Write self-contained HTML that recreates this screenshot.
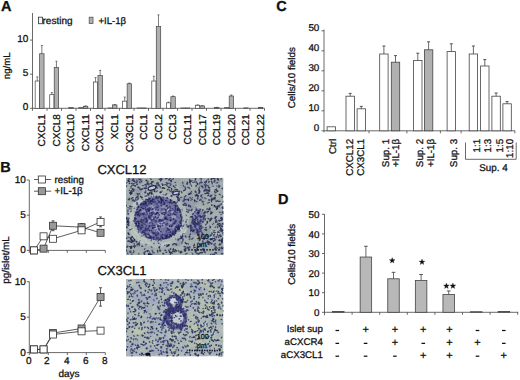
<!DOCTYPE html>
<html><head><meta charset="utf-8"><style>
html,body{margin:0;padding:0;background:#fff;}
svg{display:block;}
text{stroke:#222;stroke-width:0.3px;paint-order:stroke;text-rendering:geometricPrecision;}
</style></head><body>
<svg width="520" height="380" viewBox="0 0 520 380" font-family="Liberation Sans, sans-serif">
<defs><filter id="bl" x="0" y="0" width="1" height="1"><feGaussianBlur stdDeviation="0.35"/></filter></defs>
<rect width="520" height="380" fill="#fff"/>
<text x="0.90" y="11.00" font-size="14.5" text-anchor="start" fill="#111" font-weight="bold">A</text>
<line x1="32.50" y1="13.00" x2="32.50" y2="108.30" stroke="#444" stroke-width="0.8"/>
<line x1="32.50" y1="108.30" x2="264.50" y2="108.30" stroke="#444" stroke-width="0.8"/>
<line x1="30.00" y1="108.30" x2="32.50" y2="108.30" stroke="#444" stroke-width="0.8"/>
<text x="28.30" y="110.10" font-size="10" text-anchor="end" fill="#111">0</text>
<line x1="30.00" y1="74.20" x2="32.50" y2="74.20" stroke="#444" stroke-width="0.8"/>
<text x="28.30" y="76.00" font-size="10" text-anchor="end" fill="#111">5</text>
<line x1="30.00" y1="40.10" x2="32.50" y2="40.10" stroke="#444" stroke-width="0.8"/>
<text x="28.30" y="41.90" font-size="10" text-anchor="end" fill="#111">10</text>
<line x1="32.50" y1="108.30" x2="32.50" y2="110.80" stroke="#444" stroke-width="0.8"/>
<line x1="47.00" y1="108.30" x2="47.00" y2="110.80" stroke="#444" stroke-width="0.8"/>
<line x1="61.50" y1="108.30" x2="61.50" y2="110.80" stroke="#444" stroke-width="0.8"/>
<line x1="76.00" y1="108.30" x2="76.00" y2="110.80" stroke="#444" stroke-width="0.8"/>
<line x1="90.50" y1="108.30" x2="90.50" y2="110.80" stroke="#444" stroke-width="0.8"/>
<line x1="105.00" y1="108.30" x2="105.00" y2="110.80" stroke="#444" stroke-width="0.8"/>
<line x1="119.50" y1="108.30" x2="119.50" y2="110.80" stroke="#444" stroke-width="0.8"/>
<line x1="134.00" y1="108.30" x2="134.00" y2="110.80" stroke="#444" stroke-width="0.8"/>
<line x1="148.50" y1="108.30" x2="148.50" y2="110.80" stroke="#444" stroke-width="0.8"/>
<line x1="163.00" y1="108.30" x2="163.00" y2="110.80" stroke="#444" stroke-width="0.8"/>
<line x1="177.50" y1="108.30" x2="177.50" y2="110.80" stroke="#444" stroke-width="0.8"/>
<line x1="192.00" y1="108.30" x2="192.00" y2="110.80" stroke="#444" stroke-width="0.8"/>
<line x1="206.50" y1="108.30" x2="206.50" y2="110.80" stroke="#444" stroke-width="0.8"/>
<line x1="221.00" y1="108.30" x2="221.00" y2="110.80" stroke="#444" stroke-width="0.8"/>
<line x1="235.50" y1="108.30" x2="235.50" y2="110.80" stroke="#444" stroke-width="0.8"/>
<line x1="250.00" y1="108.30" x2="250.00" y2="110.80" stroke="#444" stroke-width="0.8"/>
<line x1="264.50" y1="108.30" x2="264.50" y2="110.80" stroke="#444" stroke-width="0.8"/>
<text transform="translate(10.30,65.80) rotate(-90)" font-size="9.6" text-anchor="middle" fill="#111">ng/mL</text>
<rect x="35.15" y="81.02" width="4.20" height="27.28" fill="#ffffff" stroke="#444" stroke-width="0.7"/>
<line x1="37.25" y1="81.02" x2="37.25" y2="76.93" stroke="#444" stroke-width="0.7"/>
<line x1="36.25" y1="76.93" x2="38.25" y2="76.93" stroke="#444" stroke-width="0.7"/>
<rect x="39.65" y="53.74" width="4.40" height="54.56" fill="#b0b0b0" stroke="#444" stroke-width="0.7"/>
<line x1="41.85" y1="53.74" x2="41.85" y2="45.56" stroke="#444" stroke-width="0.7"/>
<line x1="40.85" y1="45.56" x2="42.85" y2="45.56" stroke="#444" stroke-width="0.7"/>
<text transform="translate(44.95,114.20) rotate(-90)" font-size="10" text-anchor="end" fill="#111">CXCL1</text>
<rect x="49.73" y="94.66" width="4.20" height="13.64" fill="#ffffff" stroke="#444" stroke-width="0.7"/>
<line x1="51.83" y1="94.66" x2="51.83" y2="92.61" stroke="#444" stroke-width="0.7"/>
<line x1="50.83" y1="92.61" x2="52.83" y2="92.61" stroke="#444" stroke-width="0.7"/>
<rect x="54.23" y="67.38" width="4.40" height="40.92" fill="#b0b0b0" stroke="#444" stroke-width="0.7"/>
<line x1="56.43" y1="67.38" x2="56.43" y2="61.24" stroke="#444" stroke-width="0.7"/>
<line x1="55.43" y1="61.24" x2="57.43" y2="61.24" stroke="#444" stroke-width="0.7"/>
<text transform="translate(59.56,114.20) rotate(-90)" font-size="10" text-anchor="end" fill="#111">CXCL8</text>
<rect x="68.81" y="107.62" width="4.40" height="0.68" fill="#b0b0b0" stroke="#444" stroke-width="0.7"/>
<text transform="translate(74.17,114.20) rotate(-90)" font-size="10" text-anchor="end" fill="#111">CXCL10</text>
<rect x="78.89" y="107.62" width="4.20" height="0.68" fill="#ffffff" stroke="#444" stroke-width="0.7"/>
<rect x="83.39" y="106.25" width="4.40" height="2.05" fill="#b0b0b0" stroke="#444" stroke-width="0.7"/>
<line x1="85.59" y1="106.25" x2="85.59" y2="105.91" stroke="#444" stroke-width="0.7"/>
<line x1="84.59" y1="105.91" x2="86.59" y2="105.91" stroke="#444" stroke-width="0.7"/>
<text transform="translate(88.78,114.20) rotate(-90)" font-size="10" text-anchor="end" fill="#111">CXCL11</text>
<rect x="93.47" y="82.04" width="4.20" height="26.26" fill="#ffffff" stroke="#444" stroke-width="0.7"/>
<line x1="95.57" y1="82.04" x2="95.57" y2="77.61" stroke="#444" stroke-width="0.7"/>
<line x1="94.57" y1="77.61" x2="96.57" y2="77.61" stroke="#444" stroke-width="0.7"/>
<rect x="97.97" y="75.56" width="4.40" height="32.74" fill="#b0b0b0" stroke="#444" stroke-width="0.7"/>
<line x1="100.17" y1="75.56" x2="100.17" y2="70.45" stroke="#444" stroke-width="0.7"/>
<line x1="99.17" y1="70.45" x2="101.17" y2="70.45" stroke="#444" stroke-width="0.7"/>
<text transform="translate(103.39,114.20) rotate(-90)" font-size="10" text-anchor="end" fill="#111">CXCL12</text>
<rect x="108.05" y="107.96" width="4.20" height="0.34" fill="#ffffff" stroke="#444" stroke-width="0.7"/>
<rect x="112.55" y="104.89" width="4.40" height="3.41" fill="#b0b0b0" stroke="#444" stroke-width="0.7"/>
<line x1="114.75" y1="104.89" x2="114.75" y2="104.55" stroke="#444" stroke-width="0.7"/>
<line x1="113.75" y1="104.55" x2="115.75" y2="104.55" stroke="#444" stroke-width="0.7"/>
<text transform="translate(118.00,114.20) rotate(-90)" font-size="10" text-anchor="end" fill="#111">XCL1</text>
<rect x="122.63" y="101.14" width="4.20" height="7.16" fill="#ffffff" stroke="#444" stroke-width="0.7"/>
<line x1="124.73" y1="101.14" x2="124.73" y2="97.05" stroke="#444" stroke-width="0.7"/>
<line x1="123.73" y1="97.05" x2="125.73" y2="97.05" stroke="#444" stroke-width="0.7"/>
<rect x="127.13" y="83.75" width="4.40" height="24.55" fill="#b0b0b0" stroke="#444" stroke-width="0.7"/>
<line x1="129.33" y1="83.75" x2="129.33" y2="83.07" stroke="#444" stroke-width="0.7"/>
<line x1="128.33" y1="83.07" x2="130.33" y2="83.07" stroke="#444" stroke-width="0.7"/>
<text transform="translate(132.61,114.20) rotate(-90)" font-size="10" text-anchor="end" fill="#111">CX3CL1</text>
<rect x="137.21" y="107.96" width="4.20" height="0.34" fill="#ffffff" stroke="#444" stroke-width="0.7"/>
<rect x="141.71" y="107.96" width="4.40" height="0.34" fill="#b0b0b0" stroke="#444" stroke-width="0.7"/>
<text transform="translate(147.22,114.20) rotate(-90)" font-size="10" text-anchor="end" fill="#111">CCL1</text>
<rect x="151.79" y="81.02" width="4.20" height="27.28" fill="#ffffff" stroke="#444" stroke-width="0.7"/>
<line x1="153.89" y1="81.02" x2="153.89" y2="76.25" stroke="#444" stroke-width="0.7"/>
<line x1="152.89" y1="76.25" x2="154.89" y2="76.25" stroke="#444" stroke-width="0.7"/>
<rect x="156.29" y="26.46" width="4.40" height="81.84" fill="#b0b0b0" stroke="#444" stroke-width="0.7"/>
<line x1="158.49" y1="26.46" x2="158.49" y2="14.87" stroke="#444" stroke-width="0.7"/>
<line x1="157.49" y1="14.87" x2="159.49" y2="14.87" stroke="#444" stroke-width="0.7"/>
<text transform="translate(161.83,114.20) rotate(-90)" font-size="10" text-anchor="end" fill="#111">CCL2</text>
<rect x="166.37" y="102.84" width="4.20" height="5.46" fill="#ffffff" stroke="#444" stroke-width="0.7"/>
<line x1="168.47" y1="102.84" x2="168.47" y2="102.16" stroke="#444" stroke-width="0.7"/>
<line x1="167.47" y1="102.16" x2="169.47" y2="102.16" stroke="#444" stroke-width="0.7"/>
<rect x="170.87" y="96.71" width="4.40" height="11.59" fill="#b0b0b0" stroke="#444" stroke-width="0.7"/>
<line x1="173.07" y1="96.71" x2="173.07" y2="96.02" stroke="#444" stroke-width="0.7"/>
<line x1="172.07" y1="96.02" x2="174.07" y2="96.02" stroke="#444" stroke-width="0.7"/>
<text transform="translate(176.44,114.20) rotate(-90)" font-size="10" text-anchor="end" fill="#111">CCL3</text>
<rect x="180.95" y="107.96" width="4.20" height="0.34" fill="#ffffff" stroke="#444" stroke-width="0.7"/>
<rect x="185.45" y="107.96" width="4.40" height="0.34" fill="#b0b0b0" stroke="#444" stroke-width="0.7"/>
<text transform="translate(191.05,114.20) rotate(-90)" font-size="10" text-anchor="end" fill="#111">CCL11</text>
<rect x="195.53" y="105.23" width="4.20" height="3.07" fill="#ffffff" stroke="#444" stroke-width="0.7"/>
<line x1="197.63" y1="105.23" x2="197.63" y2="104.89" stroke="#444" stroke-width="0.7"/>
<line x1="196.63" y1="104.89" x2="198.63" y2="104.89" stroke="#444" stroke-width="0.7"/>
<rect x="200.03" y="105.91" width="4.40" height="2.39" fill="#b0b0b0" stroke="#444" stroke-width="0.7"/>
<line x1="202.23" y1="105.91" x2="202.23" y2="105.57" stroke="#444" stroke-width="0.7"/>
<line x1="201.23" y1="105.57" x2="203.23" y2="105.57" stroke="#444" stroke-width="0.7"/>
<text transform="translate(205.66,114.20) rotate(-90)" font-size="10" text-anchor="end" fill="#111">CCL17</text>
<rect x="214.61" y="107.48" width="4.40" height="0.82" fill="#b0b0b0" stroke="#444" stroke-width="0.7"/>
<line x1="216.81" y1="107.48" x2="216.81" y2="107.35" stroke="#444" stroke-width="0.7"/>
<line x1="215.81" y1="107.35" x2="217.81" y2="107.35" stroke="#444" stroke-width="0.7"/>
<text transform="translate(220.27,114.20) rotate(-90)" font-size="10" text-anchor="end" fill="#111">CCL19</text>
<rect x="224.69" y="107.62" width="4.20" height="0.68" fill="#ffffff" stroke="#444" stroke-width="0.7"/>
<rect x="229.19" y="96.02" width="4.40" height="12.28" fill="#b0b0b0" stroke="#444" stroke-width="0.7"/>
<line x1="231.39" y1="96.02" x2="231.39" y2="95.00" stroke="#444" stroke-width="0.7"/>
<line x1="230.39" y1="95.00" x2="232.39" y2="95.00" stroke="#444" stroke-width="0.7"/>
<text transform="translate(234.88,114.20) rotate(-90)" font-size="10" text-anchor="end" fill="#111">CCL20</text>
<rect x="243.77" y="107.89" width="4.40" height="0.41" fill="#b0b0b0" stroke="#444" stroke-width="0.7"/>
<text transform="translate(249.49,114.20) rotate(-90)" font-size="10" text-anchor="end" fill="#111">CCL21</text>
<rect x="258.35" y="107.48" width="4.40" height="0.82" fill="#b0b0b0" stroke="#444" stroke-width="0.7"/>
<line x1="260.55" y1="107.48" x2="260.55" y2="107.35" stroke="#444" stroke-width="0.7"/>
<line x1="259.55" y1="107.35" x2="261.55" y2="107.35" stroke="#444" stroke-width="0.7"/>
<text transform="translate(264.10,114.20) rotate(-90)" font-size="10" text-anchor="end" fill="#111">CCL22</text>
<rect x="38.50" y="17.20" width="4.00" height="6.50" fill="#f4f4f4" stroke="#444" stroke-width="0.9"/>
<text x="42.50" y="24.00" font-size="10" text-anchor="start" fill="#111">resting</text>
<rect x="89.20" y="17.20" width="3.80" height="6.30" fill="#b0b0b0" stroke="#555" stroke-width="0.8"/>
<text x="98.40" y="23.70" font-size="9.6" text-anchor="start" fill="#111">+IL-1&#946;</text>
<text x="0.20" y="172.20" font-size="14.5" text-anchor="start" fill="#111" font-weight="bold">B</text>
<line x1="29.30" y1="180.00" x2="29.30" y2="250.40" stroke="#444" stroke-width="0.8"/>
<line x1="29.30" y1="250.40" x2="105.30" y2="250.40" stroke="#444" stroke-width="0.8"/>
<line x1="26.80" y1="250.40" x2="29.30" y2="250.40" stroke="#444" stroke-width="0.8"/>
<text x="25.90" y="253.40" font-size="10" text-anchor="end" fill="#111">0</text>
<line x1="26.80" y1="215.20" x2="29.30" y2="215.20" stroke="#444" stroke-width="0.8"/>
<text x="25.90" y="218.20" font-size="10" text-anchor="end" fill="#111">5</text>
<line x1="26.80" y1="180.00" x2="29.30" y2="180.00" stroke="#444" stroke-width="0.8"/>
<text x="25.90" y="183.00" font-size="10" text-anchor="end" fill="#111">10</text>
<line x1="29.30" y1="250.40" x2="29.30" y2="252.90" stroke="#444" stroke-width="0.8"/>
<line x1="48.30" y1="250.40" x2="48.30" y2="252.90" stroke="#444" stroke-width="0.8"/>
<line x1="67.30" y1="250.40" x2="67.30" y2="252.90" stroke="#444" stroke-width="0.8"/>
<line x1="86.30" y1="250.40" x2="86.30" y2="252.90" stroke="#444" stroke-width="0.8"/>
<line x1="105.30" y1="250.40" x2="105.30" y2="252.90" stroke="#444" stroke-width="0.8"/>
<polyline points="34.05,250.40 43.55,248.64 53.05,225.76 81.55,227.17 100.55,232.80" fill="none" stroke="#333" stroke-width="0.8"/>
<polyline points="34.05,250.40 43.55,236.32 53.05,238.78 81.55,230.34 100.55,221.89" fill="none" stroke="#333" stroke-width="0.8"/>
<line x1="53.05" y1="220.83" x2="53.05" y2="230.69" stroke="#333" stroke-width="0.8"/>
<line x1="51.55" y1="220.83" x2="54.55" y2="220.83" stroke="#333" stroke-width="0.8"/>
<line x1="51.55" y1="230.69" x2="54.55" y2="230.69" stroke="#333" stroke-width="0.8"/>
<line x1="100.55" y1="216.96" x2="100.55" y2="226.82" stroke="#333" stroke-width="0.8"/>
<line x1="99.05" y1="216.96" x2="102.05" y2="216.96" stroke="#333" stroke-width="0.8"/>
<line x1="99.05" y1="226.82" x2="102.05" y2="226.82" stroke="#333" stroke-width="0.8"/>
<line x1="81.55" y1="223.65" x2="81.55" y2="230.69" stroke="#333" stroke-width="0.8"/>
<line x1="80.05" y1="223.65" x2="83.05" y2="223.65" stroke="#333" stroke-width="0.8"/>
<line x1="80.05" y1="230.69" x2="83.05" y2="230.69" stroke="#333" stroke-width="0.8"/>
<rect x="30.55" y="246.90" width="7.00" height="7.00" fill="#999999" stroke="#333" stroke-width="0.8"/>
<rect x="40.05" y="245.14" width="7.00" height="7.00" fill="#999999" stroke="#333" stroke-width="0.8"/>
<rect x="49.55" y="222.26" width="7.00" height="7.00" fill="#999999" stroke="#333" stroke-width="0.8"/>
<rect x="78.05" y="223.67" width="7.00" height="7.00" fill="#999999" stroke="#333" stroke-width="0.8"/>
<rect x="97.05" y="229.30" width="7.00" height="7.00" fill="#999999" stroke="#333" stroke-width="0.8"/>
<rect x="30.55" y="246.90" width="7.00" height="7.00" fill="#ffffff" stroke="#333" stroke-width="0.8"/>
<rect x="40.05" y="232.82" width="7.00" height="7.00" fill="#ffffff" stroke="#333" stroke-width="0.8"/>
<rect x="49.55" y="235.28" width="7.00" height="7.00" fill="#ffffff" stroke="#333" stroke-width="0.8"/>
<rect x="78.05" y="226.84" width="7.00" height="7.00" fill="#ffffff" stroke="#333" stroke-width="0.8"/>
<rect x="97.05" y="218.39" width="7.00" height="7.00" fill="#ffffff" stroke="#333" stroke-width="0.8"/>
<line x1="29.30" y1="281.50" x2="29.30" y2="352.60" stroke="#444" stroke-width="0.8"/>
<line x1="29.30" y1="352.60" x2="105.30" y2="352.60" stroke="#444" stroke-width="0.8"/>
<line x1="26.80" y1="352.60" x2="29.30" y2="352.60" stroke="#444" stroke-width="0.8"/>
<text x="25.90" y="355.60" font-size="10" text-anchor="end" fill="#111">0</text>
<line x1="26.80" y1="317.15" x2="29.30" y2="317.15" stroke="#444" stroke-width="0.8"/>
<text x="25.90" y="320.15" font-size="10" text-anchor="end" fill="#111">5</text>
<line x1="26.80" y1="281.70" x2="29.30" y2="281.70" stroke="#444" stroke-width="0.8"/>
<text x="25.90" y="284.70" font-size="10" text-anchor="end" fill="#111">10</text>
<line x1="29.30" y1="352.60" x2="29.30" y2="355.10" stroke="#444" stroke-width="0.8"/>
<text x="28.70" y="364.10" font-size="10" text-anchor="middle" fill="#111">0</text>
<line x1="48.30" y1="352.60" x2="48.30" y2="355.10" stroke="#444" stroke-width="0.8"/>
<text x="46.70" y="364.10" font-size="10" text-anchor="middle" fill="#111">2</text>
<line x1="67.30" y1="352.60" x2="67.30" y2="355.10" stroke="#444" stroke-width="0.8"/>
<text x="66.70" y="364.10" font-size="10" text-anchor="middle" fill="#111">4</text>
<line x1="86.30" y1="352.60" x2="86.30" y2="355.10" stroke="#444" stroke-width="0.8"/>
<text x="85.70" y="364.10" font-size="10" text-anchor="middle" fill="#111">6</text>
<line x1="105.30" y1="352.60" x2="105.30" y2="355.10" stroke="#444" stroke-width="0.8"/>
<text x="104.70" y="364.10" font-size="10" text-anchor="middle" fill="#111">8</text>
<polyline points="34.05,349.41 43.55,349.41 53.05,333.10 81.55,328.49 100.55,296.94" fill="none" stroke="#333" stroke-width="0.8"/>
<polyline points="34.05,349.41 43.55,349.41 53.05,334.52 81.55,331.33 100.55,330.62" fill="none" stroke="#333" stroke-width="0.8"/>
<line x1="100.55" y1="287.73" x2="100.55" y2="306.16" stroke="#333" stroke-width="0.8"/>
<line x1="99.05" y1="287.73" x2="102.05" y2="287.73" stroke="#333" stroke-width="0.8"/>
<line x1="99.05" y1="306.16" x2="102.05" y2="306.16" stroke="#333" stroke-width="0.8"/>
<line x1="100.55" y1="327.79" x2="100.55" y2="333.46" stroke="#333" stroke-width="0.8"/>
<line x1="99.05" y1="327.79" x2="102.05" y2="327.79" stroke="#333" stroke-width="0.8"/>
<line x1="99.05" y1="333.46" x2="102.05" y2="333.46" stroke="#333" stroke-width="0.8"/>
<line x1="81.55" y1="328.49" x2="81.55" y2="334.17" stroke="#333" stroke-width="0.8"/>
<line x1="80.05" y1="328.49" x2="83.05" y2="328.49" stroke="#333" stroke-width="0.8"/>
<line x1="80.05" y1="334.17" x2="83.05" y2="334.17" stroke="#333" stroke-width="0.8"/>
<line x1="81.55" y1="325.66" x2="81.55" y2="331.33" stroke="#333" stroke-width="0.8"/>
<line x1="80.05" y1="325.66" x2="83.05" y2="325.66" stroke="#333" stroke-width="0.8"/>
<line x1="80.05" y1="331.33" x2="83.05" y2="331.33" stroke="#333" stroke-width="0.8"/>
<rect x="30.55" y="345.91" width="7.00" height="7.00" fill="#999999" stroke="#333" stroke-width="0.8"/>
<rect x="40.05" y="345.91" width="7.00" height="7.00" fill="#999999" stroke="#333" stroke-width="0.8"/>
<rect x="49.55" y="329.60" width="7.00" height="7.00" fill="#999999" stroke="#333" stroke-width="0.8"/>
<rect x="78.05" y="324.99" width="7.00" height="7.00" fill="#999999" stroke="#333" stroke-width="0.8"/>
<rect x="97.05" y="293.44" width="7.00" height="7.00" fill="#999999" stroke="#333" stroke-width="0.8"/>
<rect x="30.55" y="345.91" width="7.00" height="7.00" fill="#ffffff" stroke="#333" stroke-width="0.8"/>
<rect x="40.05" y="345.91" width="7.00" height="7.00" fill="#ffffff" stroke="#333" stroke-width="0.8"/>
<rect x="49.55" y="331.02" width="7.00" height="7.00" fill="#ffffff" stroke="#333" stroke-width="0.8"/>
<rect x="78.05" y="327.83" width="7.00" height="7.00" fill="#ffffff" stroke="#333" stroke-width="0.8"/>
<rect x="97.05" y="327.12" width="7.00" height="7.00" fill="#ffffff" stroke="#333" stroke-width="0.8"/>
<text transform="translate(9.00,260.00) rotate(-90)" font-size="9.8" text-anchor="middle" fill="#111">pg/islet/mL</text>
<text x="69.00" y="376.50" font-size="10" text-anchor="middle" fill="#111">days</text>
<line x1="34.00" y1="179.50" x2="51.20" y2="179.50" stroke="#333" stroke-width="0.8"/>
<rect x="38.30" y="176.00" width="7.20" height="7.00" fill="#ffffff" stroke="#333" stroke-width="0.8"/>
<text x="54.50" y="182.70" font-size="9.8" text-anchor="start" fill="#111">resting</text>
<line x1="34.00" y1="191.20" x2="51.20" y2="191.20" stroke="#333" stroke-width="0.8"/>
<rect x="38.30" y="187.70" width="7.20" height="7.00" fill="#999999" stroke="#333" stroke-width="0.8"/>
<text x="54.50" y="194.40" font-size="9.8" text-anchor="start" fill="#111">+IL-1&#946;</text>
<text x="97.40" y="174.00" font-size="13" text-anchor="start" fill="#111">CXCL12</text>
<text x="97.40" y="275.00" font-size="13" text-anchor="start" fill="#111">CX3CL1</text>
<svg x="126" y="178" width="97.5" height="77" viewBox="0 0 97.5 77"><g filter="url(#bl)">
<rect width="97.5" height="77" fill="#a2acab"/>
<ellipse cx="44.1" cy="43.1" rx="6.7" ry="4.9" fill="#a2acae" opacity="0.5"/>
<ellipse cx="83.4" cy="14.6" rx="6.1" ry="4.5" fill="#a2acae" opacity="0.5"/>
<ellipse cx="77.3" cy="7.2" rx="3.9" ry="2.1" fill="#8e98aa" opacity="0.5"/>
<ellipse cx="58.1" cy="30.5" rx="4.5" ry="3.9" fill="#aab6b2" opacity="0.5"/>
<ellipse cx="60.8" cy="64.0" rx="2.8" ry="1.4" fill="#aab6b2" opacity="0.5"/>
<ellipse cx="58.5" cy="59.9" rx="4.0" ry="3.2" fill="#aab6b2" opacity="0.5"/>
<ellipse cx="50.6" cy="49.3" rx="4.7" ry="3.9" fill="#848ca4" opacity="0.5"/>
<ellipse cx="63.8" cy="31.3" rx="5.0" ry="4.8" fill="#8e98aa" opacity="0.5"/>
<ellipse cx="69.0" cy="24.3" rx="3.5" ry="2.3" fill="#8e98aa" opacity="0.5"/>
<ellipse cx="54.9" cy="8.3" rx="3.0" ry="1.9" fill="#8e98aa" opacity="0.5"/>
<ellipse cx="93.4" cy="65.2" rx="2.5" ry="1.5" fill="#8e98aa" opacity="0.5"/>
<ellipse cx="45.8" cy="75.5" rx="4.3" ry="2.3" fill="#aab6b2" opacity="0.5"/>
<ellipse cx="75.9" cy="20.8" rx="2.9" ry="1.9" fill="#848ca4" opacity="0.5"/>
<ellipse cx="73.9" cy="9.1" rx="3.6" ry="2.0" fill="#8e98aa" opacity="0.5"/>
<ellipse cx="45.3" cy="37.5" rx="5.6" ry="3.3" fill="#a2acae" opacity="0.5"/>
<ellipse cx="18.6" cy="56.4" rx="3.1" ry="2.5" fill="#8e98aa" opacity="0.5"/>
<ellipse cx="38.5" cy="76.2" rx="2.5" ry="2.3" fill="#a2acae" opacity="0.5"/>
<ellipse cx="29.7" cy="68.1" rx="3.4" ry="2.4" fill="#a2acae" opacity="0.5"/>
<ellipse cx="62.6" cy="7.7" rx="7.0" ry="4.2" fill="#b4beb4" opacity="0.5"/>
<ellipse cx="0.9" cy="47.0" rx="6.2" ry="4.3" fill="#8e98aa" opacity="0.5"/>
<ellipse cx="8.8" cy="44.9" rx="3.6" ry="2.9" fill="#b4beb4" opacity="0.5"/>
<ellipse cx="60.7" cy="9.8" rx="5.1" ry="4.7" fill="#aab6b2" opacity="0.5"/>
<ellipse cx="84.5" cy="14.1" rx="3.2" ry="3.0" fill="#a2acae" opacity="0.5"/>
<ellipse cx="24.3" cy="14.6" rx="5.8" ry="5.7" fill="#aab6b2" opacity="0.5"/>
<ellipse cx="67.0" cy="29.9" rx="4.7" ry="2.5" fill="#8e98aa" opacity="0.5"/>
<ellipse cx="10.1" cy="3.0" rx="6.8" ry="4.2" fill="#848ca4" opacity="0.5"/>
<ellipse cx="25.1" cy="63.4" rx="5.2" ry="3.4" fill="#aab6b2" opacity="0.5"/>
<ellipse cx="90.6" cy="75.2" rx="3.1" ry="2.3" fill="#a2acae" opacity="0.5"/>
<ellipse cx="59.9" cy="21.6" rx="6.6" ry="4.0" fill="#8e98aa" opacity="0.5"/>
<ellipse cx="6.7" cy="31.7" rx="3.6" ry="1.9" fill="#b4beb4" opacity="0.5"/>
<ellipse cx="36.0" cy="44.1" rx="3.1" ry="2.1" fill="#848ca4" opacity="0.5"/>
<ellipse cx="95.6" cy="50.6" rx="5.6" ry="4.4" fill="#aab6b2" opacity="0.5"/>
<ellipse cx="57.5" cy="71.1" rx="4.6" ry="3.1" fill="#b4beb4" opacity="0.5"/>
<ellipse cx="93.9" cy="1.6" rx="5.4" ry="4.0" fill="#b4beb4" opacity="0.5"/>
<ellipse cx="31.1" cy="77.0" rx="2.8" ry="2.2" fill="#8e98aa" opacity="0.5"/>
<ellipse cx="87.8" cy="56.8" rx="5.7" ry="5.1" fill="#b4beb4" opacity="0.5"/>
<ellipse cx="34.3" cy="52.8" rx="6.6" ry="6.1" fill="#848ca4" opacity="0.5"/>
<ellipse cx="92.1" cy="2.3" rx="4.7" ry="2.4" fill="#848ca4" opacity="0.5"/>
<ellipse cx="37.0" cy="1.0" rx="2.8" ry="1.5" fill="#8e98aa" opacity="0.5"/>
<ellipse cx="96.8" cy="67.7" rx="5.8" ry="4.0" fill="#a2acae" opacity="0.5"/>
<ellipse cx="44.6" cy="35.6" rx="4.9" ry="3.7" fill="#a2acae" opacity="0.5"/>
<ellipse cx="2.9" cy="46.3" rx="4.7" ry="2.9" fill="#8e98aa" opacity="0.5"/>
<ellipse cx="48.5" cy="47.3" rx="6.6" ry="4.2" fill="#8e98aa" opacity="0.5"/>
<ellipse cx="35.9" cy="11.0" rx="5.3" ry="4.0" fill="#b4beb4" opacity="0.5"/>
<ellipse cx="64.3" cy="34.0" rx="6.5" ry="4.3" fill="#b4beb4" opacity="0.5"/>
<ellipse cx="19.4" cy="33.2" rx="6.1" ry="5.9" fill="#aab6b2" opacity="0.5"/>
<ellipse cx="37.5" cy="44.9" rx="3.9" ry="2.2" fill="#848ca4" opacity="0.5"/>
<ellipse cx="34.2" cy="69.0" rx="2.7" ry="1.4" fill="#b4beb4" opacity="0.5"/>
<ellipse cx="80.1" cy="8.7" rx="4.6" ry="4.4" fill="#848ca4" opacity="0.5"/>
<ellipse cx="37.3" cy="40.0" rx="5.5" ry="4.7" fill="#a2acae" opacity="0.5"/>
<ellipse cx="44.1" cy="5.8" rx="2.6" ry="2.5" fill="#8e98aa" opacity="0.5"/>
<ellipse cx="66.1" cy="21.6" rx="4.1" ry="3.4" fill="#a2acae" opacity="0.5"/>
<ellipse cx="1.9" cy="10.5" rx="4.5" ry="2.3" fill="#b4beb4" opacity="0.5"/>
<ellipse cx="23.1" cy="10.8" rx="2.7" ry="2.2" fill="#848ca4" opacity="0.5"/>
<ellipse cx="10.6" cy="41.2" rx="5.4" ry="3.7" fill="#8e98aa" opacity="0.5"/>
<ellipse cx="66.7" cy="15.3" rx="4.6" ry="2.7" fill="#8e98aa" opacity="0.5"/>
<ellipse cx="73.6" cy="41.2" rx="2.7" ry="1.6" fill="#b4beb4" opacity="0.5"/>
<ellipse cx="52.6" cy="72.9" rx="4.8" ry="4.7" fill="#aab6b2" opacity="0.5"/>
<ellipse cx="38.4" cy="61.0" rx="6.6" ry="3.6" fill="#848ca4" opacity="0.5"/>
<ellipse cx="12.7" cy="34.9" rx="5.3" ry="5.1" fill="#848ca4" opacity="0.5"/>
<ellipse cx="53.6" cy="50.3" rx="4.8" ry="4.3" fill="#b4beb4" opacity="0.5"/>
<ellipse cx="45.2" cy="50.2" rx="3.4" ry="2.9" fill="#8e98aa" opacity="0.5"/>
<ellipse cx="20.8" cy="69.3" rx="6.9" ry="6.8" fill="#a2acae" opacity="0.5"/>
<ellipse cx="95.2" cy="71.8" rx="3.7" ry="3.2" fill="#8e98aa" opacity="0.5"/>
<ellipse cx="34.0" cy="6.4" rx="4.5" ry="3.5" fill="#b4beb4" opacity="0.5"/>
<ellipse cx="47.5" cy="2.2" rx="6.1" ry="3.3" fill="#8e98aa" opacity="0.5"/>
<ellipse cx="16.9" cy="25.8" rx="6.0" ry="3.4" fill="#aab6b2" opacity="0.5"/>
<ellipse cx="97.5" cy="69.3" rx="4.8" ry="4.1" fill="#848ca4" opacity="0.5"/>
<ellipse cx="92.2" cy="37.9" rx="6.8" ry="3.7" fill="#aab6b2" opacity="0.5"/>
<ellipse cx="42.8" cy="43.0" rx="6.2" ry="4.9" fill="#aab6b2" opacity="0.5"/>
<ellipse cx="51.0" cy="65.0" rx="5.0" ry="3.3" fill="#848ca4" opacity="0.5"/>
<ellipse cx="93.1" cy="67.0" rx="5.2" ry="3.4" fill="#aab6b2" opacity="0.5"/>
<ellipse cx="94.4" cy="40.4" rx="5.1" ry="3.0" fill="#a2acae" opacity="0.5"/>
<ellipse cx="11.1" cy="0.4" rx="4.2" ry="3.2" fill="#8e98aa" opacity="0.5"/>
<ellipse cx="50.3" cy="30.8" rx="6.1" ry="4.8" fill="#848ca4" opacity="0.5"/>
<ellipse cx="9.1" cy="12.8" rx="6.7" ry="4.9" fill="#848ca4" opacity="0.5"/>
<ellipse cx="26.2" cy="36.4" rx="3.1" ry="2.2" fill="#848ca4" opacity="0.5"/>
<ellipse cx="51.2" cy="8.4" rx="4.4" ry="2.3" fill="#b4beb4" opacity="0.5"/>
<ellipse cx="12.6" cy="60.0" rx="2.6" ry="1.6" fill="#aab6b2" opacity="0.5"/>
<ellipse cx="1.2" cy="21.9" rx="5.8" ry="3.6" fill="#848ca4" opacity="0.5"/>
<ellipse cx="10.2" cy="56.3" rx="3.1" ry="2.3" fill="#b4beb4" opacity="0.5"/>
<ellipse cx="70.0" cy="54.0" rx="6.5" ry="3.3" fill="#848ca4" opacity="0.5"/>
<ellipse cx="80.5" cy="47.4" rx="4.9" ry="4.6" fill="#a2acae" opacity="0.5"/>
<ellipse cx="62.3" cy="40.8" rx="6.3" ry="5.1" fill="#aab6b2" opacity="0.5"/>
<ellipse cx="22.7" cy="57.0" rx="6.1" ry="5.8" fill="#b4beb4" opacity="0.5"/>
<ellipse cx="58.8" cy="68.6" rx="3.4" ry="3.0" fill="#aab6b2" opacity="0.5"/>
<ellipse cx="86.5" cy="10.3" rx="3.6" ry="3.1" fill="#b4beb4" opacity="0.5"/>
<ellipse cx="37.8" cy="33.5" rx="6.7" ry="5.2" fill="#aab6b2" opacity="0.5"/>
<ellipse cx="19.6" cy="48.4" rx="6.1" ry="3.3" fill="#a2acae" opacity="0.5"/>
<ellipse cx="66.5" cy="70.2" rx="6.9" ry="3.8" fill="#a2acae" opacity="0.5"/>
<ellipse cx="61.9" cy="26.4" rx="7.0" ry="6.4" fill="#8e98aa" opacity="0.5"/>
<ellipse cx="47.0" cy="1.9" rx="5.9" ry="4.8" fill="#a2acae" opacity="0.5"/>
<ellipse cx="46.9" cy="14.6" rx="3.0" ry="1.8" fill="#aab6b2" opacity="0.5"/>
<ellipse cx="96.6" cy="71.4" rx="2.9" ry="1.6" fill="#848ca4" opacity="0.5"/>
<ellipse cx="7.6" cy="7.4" rx="4.3" ry="3.0" fill="#b4beb4" opacity="0.5"/>
<ellipse cx="41.9" cy="46.3" rx="2.6" ry="2.2" fill="#aab6b2" opacity="0.5"/>
<ellipse cx="17.7" cy="35.0" rx="5.8" ry="4.1" fill="#aab6b2" opacity="0.5"/>
<ellipse cx="59.0" cy="7.3" rx="6.1" ry="4.0" fill="#8e98aa" opacity="0.5"/>
<ellipse cx="78.2" cy="54.3" rx="6.4" ry="5.2" fill="#848ca4" opacity="0.5"/>
<ellipse cx="55.5" cy="14.7" rx="5.1" ry="3.4" fill="#b4beb4" opacity="0.5"/>
<ellipse cx="27.3" cy="9.0" rx="5.8" ry="3.4" fill="#848ca4" opacity="0.5"/>
<ellipse cx="13.0" cy="25.4" rx="4.9" ry="3.4" fill="#848ca4" opacity="0.5"/>
<ellipse cx="74.6" cy="31.2" rx="5.8" ry="3.1" fill="#b4beb4" opacity="0.5"/>
<ellipse cx="29.4" cy="7.8" rx="6.5" ry="6.5" fill="#a2acae" opacity="0.5"/>
<ellipse cx="4.8" cy="21.0" rx="6.8" ry="4.4" fill="#aab6b2" opacity="0.5"/>
<ellipse cx="64.3" cy="43.9" rx="4.9" ry="3.4" fill="#848ca4" opacity="0.5"/>
<ellipse cx="62.6" cy="54.0" rx="5.9" ry="5.9" fill="#8e98aa" opacity="0.5"/>
<ellipse cx="11.2" cy="8.3" rx="3.6" ry="2.6" fill="#a2acae" opacity="0.5"/>
<ellipse cx="4.9" cy="15.0" rx="4.2" ry="2.3" fill="#b4beb4" opacity="0.5"/>
<ellipse cx="26.9" cy="26.2" rx="4.9" ry="3.5" fill="#a2acae" opacity="0.5"/>
<ellipse cx="32" cy="42" rx="31" ry="28" fill="#b0bab8" opacity="0.8"/>
<ellipse cx="7.4" cy="57.1" rx="4" ry="0.9" transform="rotate(234 7.4 57.1)" fill="#c8d0c6" opacity="0.6"/>
<ellipse cx="4.4" cy="50.2" rx="4" ry="0.9" transform="rotate(250 4.4 50.2)" fill="#c8d0c6" opacity="0.6"/>
<ellipse cx="55.4" cy="55.4" rx="4" ry="0.9" transform="rotate(124 55.4 55.4)" fill="#c8d0c6" opacity="0.6"/>
<ellipse cx="6.7" cy="38.3" rx="4" ry="0.9" transform="rotate(277 6.7 38.3)" fill="#c8d0c6" opacity="0.6"/>
<ellipse cx="13.6" cy="24.3" rx="4" ry="0.9" transform="rotate(315 13.6 24.3)" fill="#c8d0c6" opacity="0.6"/>
<ellipse cx="17.9" cy="60.9" rx="4" ry="0.9" transform="rotate(213 17.9 60.9)" fill="#c8d0c6" opacity="0.6"/>
<ellipse cx="14.5" cy="61.3" rx="4" ry="0.9" transform="rotate(218 14.5 61.3)" fill="#c8d0c6" opacity="0.6"/>
<ellipse cx="58.1" cy="54.8" rx="4" ry="0.9" transform="rotate(120 58.1 54.8)" fill="#c8d0c6" opacity="0.6"/>
<ellipse cx="21.9" cy="64.6" rx="4" ry="0.9" transform="rotate(201 21.9 64.6)" fill="#c8d0c6" opacity="0.6"/>
<ellipse cx="8.3" cy="53.0" rx="4" ry="0.9" transform="rotate(241 8.3 53.0)" fill="#c8d0c6" opacity="0.6"/>
<ellipse cx="36.5" cy="66.6" rx="4" ry="0.9" transform="rotate(171 36.5 66.6)" fill="#c8d0c6" opacity="0.6"/>
<ellipse cx="10.8" cy="55.7" rx="4" ry="0.9" transform="rotate(232 10.8 55.7)" fill="#c8d0c6" opacity="0.6"/>
<ellipse cx="5.3" cy="42.1" rx="4" ry="0.9" transform="rotate(267 5.3 42.1)" fill="#c8d0c6" opacity="0.6"/>
<ellipse cx="56.8" cy="49.3" rx="4" ry="0.9" transform="rotate(110 56.8 49.3)" fill="#c8d0c6" opacity="0.6"/>
<ellipse cx="55.2" cy="51.6" rx="4" ry="0.9" transform="rotate(117 55.2 51.6)" fill="#c8d0c6" opacity="0.6"/>
<ellipse cx="4.9" cy="38.5" rx="4" ry="0.9" transform="rotate(276 4.9 38.5)" fill="#c8d0c6" opacity="0.6"/>
<ellipse cx="9.0" cy="24.9" rx="4" ry="0.9" transform="rotate(308 9.0 24.9)" fill="#c8d0c6" opacity="0.6"/>
<ellipse cx="58.7" cy="54.1" rx="4" ry="0.9" transform="rotate(118 58.7 54.1)" fill="#c8d0c6" opacity="0.6"/>
<ellipse cx="15.0" cy="23.7" rx="4" ry="0.9" transform="rotate(318 15.0 23.7)" fill="#c8d0c6" opacity="0.6"/>
<ellipse cx="10.8" cy="25.2" rx="4" ry="0.9" transform="rotate(310 10.8 25.2)" fill="#c8d0c6" opacity="0.6"/>
<ellipse cx="15.1" cy="63.8" rx="4" ry="0.9" transform="rotate(214 15.1 63.8)" fill="#c8d0c6" opacity="0.6"/>
<ellipse cx="40.8" cy="65.0" rx="4" ry="0.9" transform="rotate(162 40.8 65.0)" fill="#c8d0c6" opacity="0.6"/>
<ellipse cx="71" cy="43" rx="6" ry="13" fill="#7478a0" opacity="0.75" transform="rotate(10 71 43)"/>
<ellipse cx="32.5" cy="40.3" rx="24" ry="22" fill="#74769e"/>
<ellipse cx="47.9" cy="48.6" rx="2.4" ry="2.4" fill="#a0a4c0" opacity="0.65"/>
<ellipse cx="36.5" cy="27.9" rx="2.7" ry="2.0" fill="#a0a4c0" opacity="0.65"/>
<ellipse cx="45.3" cy="36.1" rx="1.8" ry="1.2" fill="#a0a4c0" opacity="0.65"/>
<ellipse cx="38.7" cy="39.5" rx="2.0" ry="1.6" fill="#aab0c4" opacity="0.65"/>
<ellipse cx="28.4" cy="49.3" rx="3.1" ry="1.8" fill="#aab0c4" opacity="0.65"/>
<ellipse cx="41.0" cy="32.1" rx="1.7" ry="1.6" fill="#b6bcc8" opacity="0.65"/>
<ellipse cx="37.2" cy="36.2" rx="2.0" ry="1.7" fill="#b6bcc8" opacity="0.65"/>
<ellipse cx="39.8" cy="30.5" rx="2.1" ry="1.3" fill="#a0a4c0" opacity="0.65"/>
<ellipse cx="33.1" cy="46.2" rx="1.9" ry="1.6" fill="#b6bcc8" opacity="0.65"/>
<ellipse cx="18.1" cy="33.2" rx="2.4" ry="1.9" fill="#a0a4c0" opacity="0.65"/>
<ellipse cx="23.6" cy="33.5" rx="3.0" ry="2.9" fill="#a0a4c0" opacity="0.65"/>
<ellipse cx="34.7" cy="45.5" rx="2.2" ry="1.7" fill="#a0a4c0" opacity="0.65"/>
<ellipse cx="27.5" cy="40.8" rx="1.8" ry="1.7" fill="#a0a4c0" opacity="0.65"/>
<ellipse cx="31.2" cy="51.9" rx="3.2" ry="2.8" fill="#aab0c4" opacity="0.65"/>
<ellipse cx="30.4" cy="32.8" rx="3.1" ry="2.1" fill="#b6bcc8" opacity="0.65"/>
<ellipse cx="44.4" cy="44.3" rx="2.1" ry="1.8" fill="#a0a4c0" opacity="0.65"/>
<ellipse cx="30.5" cy="36.6" rx="1.7" ry="1.6" fill="#a0a4c0" opacity="0.65"/>
<ellipse cx="34.5" cy="38.7" rx="2.6" ry="2.4" fill="#aab0c4" opacity="0.65"/>
<ellipse cx="26.2" cy="50.4" rx="1.7" ry="1.0" fill="#b6bcc8" opacity="0.65"/>
<ellipse cx="36.5" cy="47.6" rx="2.5" ry="2.2" fill="#aab0c4" opacity="0.65"/>
<ellipse cx="25.6" cy="28.9" rx="2.2" ry="1.9" fill="#aab0c4" opacity="0.65"/>
<ellipse cx="46.8" cy="35.0" rx="2.4" ry="1.9" fill="#b6bcc8" opacity="0.65"/>
<ellipse cx="47.1" cy="38.9" rx="3.1" ry="2.0" fill="#aab0c4" opacity="0.65"/>
<ellipse cx="23.5" cy="56.9" rx="3.0" ry="2.2" fill="#a0a4c0" opacity="0.65"/>
<ellipse cx="28.3" cy="36.4" rx="2.2" ry="1.6" fill="#aab0c4" opacity="0.65"/>
<ellipse cx="43.1" cy="49.1" rx="2.2" ry="1.6" fill="#a0a4c0" opacity="0.65"/>
<path d="M22,44 L34,36 L44,30 M30,48 L40,42" stroke="#c0c6d4" stroke-width="1.6" fill="none" opacity="0.7"/>
<ellipse cx="49.0" cy="43.3" rx="1.2" ry="0.7" transform="rotate(32 49.0 43.3)" fill="#4a4a86" opacity="0.85"/>
<ellipse cx="9.1" cy="41.2" rx="1.3" ry="0.9" transform="rotate(98 9.1 41.2)" fill="#24245a" opacity="0.85"/>
<ellipse cx="34.8" cy="53.5" rx="0.9" ry="0.7" transform="rotate(15 34.8 53.5)" fill="#2c2c64" opacity="0.85"/>
<ellipse cx="40.0" cy="22.4" rx="0.8" ry="0.7" transform="rotate(147 40.0 22.4)" fill="#4a4a86" opacity="0.85"/>
<ellipse cx="45.5" cy="41.5" rx="0.9" ry="1.0" transform="rotate(138 45.5 41.5)" fill="#4a4a86" opacity="0.85"/>
<ellipse cx="24.3" cy="24.2" rx="1.1" ry="1.1" transform="rotate(88 24.3 24.2)" fill="#2c2c64" opacity="0.85"/>
<ellipse cx="28.1" cy="55.2" rx="1.2" ry="1.0" transform="rotate(120 28.1 55.2)" fill="#2c2c64" opacity="0.85"/>
<ellipse cx="39.4" cy="41.6" rx="1.0" ry="0.8" transform="rotate(128 39.4 41.6)" fill="#2c2c64" opacity="0.85"/>
<ellipse cx="15.2" cy="51.4" rx="1.1" ry="0.8" transform="rotate(178 15.2 51.4)" fill="#4a4a86" opacity="0.85"/>
<ellipse cx="27.1" cy="41.8" rx="1.0" ry="1.0" transform="rotate(49 27.1 41.8)" fill="#2c2c64" opacity="0.85"/>
<ellipse cx="22.9" cy="25.0" rx="1.2" ry="0.6" transform="rotate(166 22.9 25.0)" fill="#2c2c64" opacity="0.85"/>
<ellipse cx="31.6" cy="54.0" rx="0.8" ry="0.7" transform="rotate(56 31.6 54.0)" fill="#383a7c" opacity="0.85"/>
<ellipse cx="19.5" cy="50.3" rx="1.0" ry="1.0" transform="rotate(107 19.5 50.3)" fill="#383a7c" opacity="0.85"/>
<ellipse cx="27.7" cy="59.0" rx="1.2" ry="0.8" transform="rotate(169 27.7 59.0)" fill="#4a4a86" opacity="0.85"/>
<ellipse cx="27.7" cy="61.0" rx="1.0" ry="0.7" transform="rotate(119 27.7 61.0)" fill="#2c2c64" opacity="0.85"/>
<ellipse cx="47.3" cy="35.3" rx="1.2" ry="0.6" transform="rotate(95 47.3 35.3)" fill="#24245a" opacity="0.85"/>
<ellipse cx="30.1" cy="29.1" rx="0.9" ry="1.0" transform="rotate(76 30.1 29.1)" fill="#383a7c" opacity="0.85"/>
<ellipse cx="47.7" cy="23.9" rx="1.0" ry="0.6" transform="rotate(134 47.7 23.9)" fill="#24245a" opacity="0.85"/>
<ellipse cx="36.0" cy="26.0" rx="1.2" ry="0.6" transform="rotate(37 36.0 26.0)" fill="#383a7c" opacity="0.85"/>
<ellipse cx="21.2" cy="50.2" rx="1.1" ry="0.6" transform="rotate(17 21.2 50.2)" fill="#4a4a86" opacity="0.85"/>
<ellipse cx="44.7" cy="42.5" rx="1.2" ry="0.8" transform="rotate(91 44.7 42.5)" fill="#2c2c64" opacity="0.85"/>
<ellipse cx="48.5" cy="27.4" rx="0.8" ry="1.0" transform="rotate(98 48.5 27.4)" fill="#4a4a86" opacity="0.85"/>
<ellipse cx="23.3" cy="32.0" rx="1.3" ry="0.9" transform="rotate(14 23.3 32.0)" fill="#24245a" opacity="0.85"/>
<ellipse cx="14.9" cy="48.0" rx="1.1" ry="0.6" transform="rotate(122 14.9 48.0)" fill="#2c2c64" opacity="0.85"/>
<ellipse cx="26.5" cy="50.0" rx="1.0" ry="0.6" transform="rotate(43 26.5 50.0)" fill="#2c2c64" opacity="0.85"/>
<ellipse cx="18.1" cy="45.7" rx="1.3" ry="1.0" transform="rotate(52 18.1 45.7)" fill="#4a4a86" opacity="0.85"/>
<ellipse cx="35.2" cy="21.9" rx="1.1" ry="0.8" transform="rotate(34 35.2 21.9)" fill="#4a4a86" opacity="0.85"/>
<ellipse cx="54.3" cy="43.3" rx="1.0" ry="0.8" transform="rotate(130 54.3 43.3)" fill="#24245a" opacity="0.85"/>
<ellipse cx="13.0" cy="46.0" rx="0.8" ry="0.8" transform="rotate(24 13.0 46.0)" fill="#383a7c" opacity="0.85"/>
<ellipse cx="49.0" cy="44.7" rx="0.7" ry="1.1" transform="rotate(16 49.0 44.7)" fill="#383a7c" opacity="0.85"/>
<ellipse cx="29.3" cy="52.7" rx="1.3" ry="0.7" transform="rotate(61 29.3 52.7)" fill="#4a4a86" opacity="0.85"/>
<ellipse cx="18.1" cy="24.7" rx="0.9" ry="0.8" transform="rotate(124 18.1 24.7)" fill="#4a4a86" opacity="0.85"/>
<ellipse cx="46.7" cy="47.7" rx="0.9" ry="0.7" transform="rotate(110 46.7 47.7)" fill="#2c2c64" opacity="0.85"/>
<ellipse cx="23.0" cy="37.9" rx="1.0" ry="1.0" transform="rotate(100 23.0 37.9)" fill="#383a7c" opacity="0.85"/>
<ellipse cx="48.4" cy="45.5" rx="1.0" ry="0.8" transform="rotate(29 48.4 45.5)" fill="#24245a" opacity="0.85"/>
<ellipse cx="32.5" cy="24.4" rx="1.0" ry="0.6" transform="rotate(128 32.5 24.4)" fill="#383a7c" opacity="0.85"/>
<ellipse cx="40.3" cy="52.9" rx="1.0" ry="0.9" transform="rotate(25 40.3 52.9)" fill="#4a4a86" opacity="0.85"/>
<ellipse cx="24.1" cy="59.8" rx="1.2" ry="0.8" transform="rotate(65 24.1 59.8)" fill="#4a4a86" opacity="0.85"/>
<ellipse cx="43.8" cy="28.7" rx="1.0" ry="0.7" transform="rotate(102 43.8 28.7)" fill="#2c2c64" opacity="0.85"/>
<ellipse cx="48.1" cy="45.1" rx="0.9" ry="1.0" transform="rotate(22 48.1 45.1)" fill="#2c2c64" opacity="0.85"/>
<ellipse cx="19.8" cy="43.8" rx="1.1" ry="1.0" transform="rotate(150 19.8 43.8)" fill="#383a7c" opacity="0.85"/>
<ellipse cx="30.3" cy="36.2" rx="0.9" ry="0.9" transform="rotate(141 30.3 36.2)" fill="#383a7c" opacity="0.85"/>
<ellipse cx="44.1" cy="35.2" rx="0.8" ry="0.8" transform="rotate(107 44.1 35.2)" fill="#2c2c64" opacity="0.85"/>
<ellipse cx="9.6" cy="41.8" rx="0.8" ry="0.9" transform="rotate(21 9.6 41.8)" fill="#4a4a86" opacity="0.85"/>
<ellipse cx="20.9" cy="43.6" rx="1.1" ry="1.0" transform="rotate(60 20.9 43.6)" fill="#2c2c64" opacity="0.85"/>
<ellipse cx="27.8" cy="40.4" rx="0.9" ry="0.9" transform="rotate(18 27.8 40.4)" fill="#24245a" opacity="0.85"/>
<ellipse cx="41.8" cy="52.1" rx="1.2" ry="0.8" transform="rotate(135 41.8 52.1)" fill="#4a4a86" opacity="0.85"/>
<ellipse cx="52.4" cy="49.1" rx="1.0" ry="1.1" transform="rotate(149 52.4 49.1)" fill="#2c2c64" opacity="0.85"/>
<ellipse cx="33.8" cy="41.6" rx="0.9" ry="0.6" transform="rotate(78 33.8 41.6)" fill="#2c2c64" opacity="0.85"/>
<ellipse cx="43.6" cy="58.5" rx="1.2" ry="0.8" transform="rotate(132 43.6 58.5)" fill="#24245a" opacity="0.85"/>
<ellipse cx="37.1" cy="21.1" rx="0.8" ry="1.0" transform="rotate(22 37.1 21.1)" fill="#4a4a86" opacity="0.85"/>
<ellipse cx="55.7" cy="39.4" rx="1.0" ry="0.9" transform="rotate(19 55.7 39.4)" fill="#383a7c" opacity="0.85"/>
<ellipse cx="50.7" cy="34.6" rx="0.8" ry="1.0" transform="rotate(98 50.7 34.6)" fill="#383a7c" opacity="0.85"/>
<ellipse cx="35.8" cy="58.7" rx="0.8" ry="0.9" transform="rotate(18 35.8 58.7)" fill="#383a7c" opacity="0.85"/>
<ellipse cx="20.0" cy="31.5" rx="1.0" ry="0.8" transform="rotate(58 20.0 31.5)" fill="#2c2c64" opacity="0.85"/>
<ellipse cx="34.0" cy="24.4" rx="0.7" ry="0.6" transform="rotate(125 34.0 24.4)" fill="#383a7c" opacity="0.85"/>
<ellipse cx="52.0" cy="31.9" rx="1.2" ry="0.7" transform="rotate(90 52.0 31.9)" fill="#4a4a86" opacity="0.85"/>
<ellipse cx="50.1" cy="49.2" rx="1.2" ry="0.8" transform="rotate(11 50.1 49.2)" fill="#24245a" opacity="0.85"/>
<ellipse cx="31.2" cy="25.7" rx="1.0" ry="0.7" transform="rotate(158 31.2 25.7)" fill="#383a7c" opacity="0.85"/>
<ellipse cx="39.9" cy="31.8" rx="1.2" ry="1.0" transform="rotate(147 39.9 31.8)" fill="#24245a" opacity="0.85"/>
<ellipse cx="14.6" cy="49.3" rx="0.9" ry="0.7" transform="rotate(169 14.6 49.3)" fill="#4a4a86" opacity="0.85"/>
<ellipse cx="41.9" cy="30.1" rx="1.2" ry="0.8" transform="rotate(130 41.9 30.1)" fill="#24245a" opacity="0.85"/>
<ellipse cx="40.4" cy="57.8" rx="1.3" ry="1.0" transform="rotate(106 40.4 57.8)" fill="#383a7c" opacity="0.85"/>
<ellipse cx="16.8" cy="28.2" rx="1.0" ry="0.6" transform="rotate(24 16.8 28.2)" fill="#2c2c64" opacity="0.85"/>
<ellipse cx="36.7" cy="42.2" rx="0.8" ry="1.1" transform="rotate(76 36.7 42.2)" fill="#2c2c64" opacity="0.85"/>
<ellipse cx="17.3" cy="26.1" rx="0.8" ry="1.0" transform="rotate(132 17.3 26.1)" fill="#2c2c64" opacity="0.85"/>
<ellipse cx="30.6" cy="51.8" rx="0.7" ry="0.6" transform="rotate(69 30.6 51.8)" fill="#4a4a86" opacity="0.85"/>
<ellipse cx="23.7" cy="39.8" rx="1.0" ry="1.0" transform="rotate(6 23.7 39.8)" fill="#24245a" opacity="0.85"/>
<ellipse cx="41.5" cy="41.4" rx="1.1" ry="1.0" transform="rotate(171 41.5 41.4)" fill="#383a7c" opacity="0.85"/>
<ellipse cx="13.5" cy="37.6" rx="1.2" ry="1.0" transform="rotate(120 13.5 37.6)" fill="#24245a" opacity="0.85"/>
<ellipse cx="19.6" cy="40.0" rx="0.9" ry="0.7" transform="rotate(40 19.6 40.0)" fill="#4a4a86" opacity="0.85"/>
<ellipse cx="30.0" cy="57.6" rx="1.1" ry="1.0" transform="rotate(59 30.0 57.6)" fill="#2c2c64" opacity="0.85"/>
<ellipse cx="32.7" cy="50.5" rx="0.7" ry="1.1" transform="rotate(154 32.7 50.5)" fill="#2c2c64" opacity="0.85"/>
<ellipse cx="35.9" cy="42.4" rx="1.1" ry="0.6" transform="rotate(142 35.9 42.4)" fill="#383a7c" opacity="0.85"/>
<ellipse cx="28.8" cy="49.3" rx="1.2" ry="0.8" transform="rotate(148 28.8 49.3)" fill="#24245a" opacity="0.85"/>
<ellipse cx="39.9" cy="41.0" rx="0.8" ry="0.9" transform="rotate(68 39.9 41.0)" fill="#383a7c" opacity="0.85"/>
<ellipse cx="48.7" cy="53.4" rx="1.0" ry="0.9" transform="rotate(11 48.7 53.4)" fill="#4a4a86" opacity="0.85"/>
<ellipse cx="14.3" cy="52.0" rx="0.8" ry="0.8" transform="rotate(108 14.3 52.0)" fill="#383a7c" opacity="0.85"/>
<ellipse cx="19.8" cy="58.1" rx="1.0" ry="0.8" transform="rotate(25 19.8 58.1)" fill="#4a4a86" opacity="0.85"/>
<ellipse cx="41.3" cy="50.3" rx="0.9" ry="0.7" transform="rotate(176 41.3 50.3)" fill="#383a7c" opacity="0.85"/>
<ellipse cx="49.9" cy="36.8" rx="0.9" ry="0.8" transform="rotate(15 49.9 36.8)" fill="#383a7c" opacity="0.85"/>
<ellipse cx="9.9" cy="36.1" rx="1.1" ry="0.9" transform="rotate(117 9.9 36.1)" fill="#2c2c64" opacity="0.85"/>
<ellipse cx="18.5" cy="35.0" rx="0.9" ry="0.7" transform="rotate(9 18.5 35.0)" fill="#4a4a86" opacity="0.85"/>
<ellipse cx="34.9" cy="25.4" rx="1.1" ry="1.0" transform="rotate(37 34.9 25.4)" fill="#383a7c" opacity="0.85"/>
<ellipse cx="31.2" cy="40.1" rx="1.2" ry="0.7" transform="rotate(113 31.2 40.1)" fill="#383a7c" opacity="0.85"/>
<ellipse cx="26.8" cy="21.3" rx="1.3" ry="0.9" transform="rotate(124 26.8 21.3)" fill="#24245a" opacity="0.85"/>
<ellipse cx="33.4" cy="51.4" rx="0.9" ry="0.8" transform="rotate(92 33.4 51.4)" fill="#383a7c" opacity="0.85"/>
<ellipse cx="25.6" cy="52.5" rx="0.7" ry="0.8" transform="rotate(130 25.6 52.5)" fill="#2c2c64" opacity="0.85"/>
<ellipse cx="26.8" cy="21.7" rx="0.9" ry="1.0" transform="rotate(159 26.8 21.7)" fill="#24245a" opacity="0.85"/>
<ellipse cx="40.8" cy="31.6" rx="0.7" ry="0.7" transform="rotate(109 40.8 31.6)" fill="#4a4a86" opacity="0.85"/>
<ellipse cx="37.2" cy="19.4" rx="1.0" ry="0.9" transform="rotate(56 37.2 19.4)" fill="#4a4a86" opacity="0.85"/>
<ellipse cx="33.3" cy="42.7" rx="1.1" ry="0.7" transform="rotate(56 33.3 42.7)" fill="#4a4a86" opacity="0.85"/>
<ellipse cx="18.0" cy="30.6" rx="0.8" ry="0.9" transform="rotate(128 18.0 30.6)" fill="#4a4a86" opacity="0.85"/>
<ellipse cx="25.4" cy="22.6" rx="0.8" ry="1.0" transform="rotate(67 25.4 22.6)" fill="#383a7c" opacity="0.85"/>
<ellipse cx="44.6" cy="39.7" rx="1.1" ry="0.6" transform="rotate(2 44.6 39.7)" fill="#24245a" opacity="0.85"/>
<ellipse cx="49.8" cy="43.1" rx="1.3" ry="1.0" transform="rotate(64 49.8 43.1)" fill="#2c2c64" opacity="0.85"/>
<ellipse cx="19.5" cy="46.5" rx="0.8" ry="0.8" transform="rotate(16 19.5 46.5)" fill="#4a4a86" opacity="0.85"/>
<ellipse cx="32.0" cy="59.9" rx="0.8" ry="1.1" transform="rotate(51 32.0 59.9)" fill="#24245a" opacity="0.85"/>
<ellipse cx="17.9" cy="52.6" rx="1.0" ry="1.0" transform="rotate(63 17.9 52.6)" fill="#383a7c" opacity="0.85"/>
<ellipse cx="31.4" cy="29.6" rx="1.1" ry="0.6" transform="rotate(154 31.4 29.6)" fill="#24245a" opacity="0.85"/>
<ellipse cx="27.2" cy="34.4" rx="0.9" ry="0.8" transform="rotate(11 27.2 34.4)" fill="#4a4a86" opacity="0.85"/>
<ellipse cx="49.5" cy="31.5" rx="0.7" ry="0.6" transform="rotate(129 49.5 31.5)" fill="#24245a" opacity="0.85"/>
<ellipse cx="23.9" cy="34.8" rx="1.1" ry="0.8" transform="rotate(54 23.9 34.8)" fill="#383a7c" opacity="0.85"/>
<ellipse cx="24.7" cy="58.4" rx="1.2" ry="0.9" transform="rotate(6 24.7 58.4)" fill="#383a7c" opacity="0.85"/>
<ellipse cx="38.4" cy="36.5" rx="0.7" ry="0.8" transform="rotate(75 38.4 36.5)" fill="#24245a" opacity="0.85"/>
<ellipse cx="30.0" cy="61.5" rx="1.1" ry="0.7" transform="rotate(69 30.0 61.5)" fill="#383a7c" opacity="0.85"/>
<ellipse cx="32.3" cy="39.3" rx="0.9" ry="0.7" transform="rotate(4 32.3 39.3)" fill="#383a7c" opacity="0.85"/>
<ellipse cx="18.8" cy="41.4" rx="0.7" ry="0.9" transform="rotate(167 18.8 41.4)" fill="#4a4a86" opacity="0.85"/>
<ellipse cx="49.6" cy="52.4" rx="0.9" ry="0.7" transform="rotate(14 49.6 52.4)" fill="#24245a" opacity="0.85"/>
<ellipse cx="18.2" cy="35.8" rx="1.2" ry="0.7" transform="rotate(28 18.2 35.8)" fill="#383a7c" opacity="0.85"/>
<ellipse cx="38.5" cy="40.1" rx="0.9" ry="0.8" transform="rotate(101 38.5 40.1)" fill="#24245a" opacity="0.85"/>
<ellipse cx="40.7" cy="40.4" rx="0.9" ry="0.7" transform="rotate(116 40.7 40.4)" fill="#24245a" opacity="0.85"/>
<ellipse cx="33.2" cy="23.7" rx="1.2" ry="1.0" transform="rotate(11 33.2 23.7)" fill="#2c2c64" opacity="0.85"/>
<ellipse cx="23.2" cy="56.2" rx="0.7" ry="0.9" transform="rotate(92 23.2 56.2)" fill="#4a4a86" opacity="0.85"/>
<ellipse cx="28.2" cy="39.7" rx="1.0" ry="1.0" transform="rotate(62 28.2 39.7)" fill="#4a4a86" opacity="0.85"/>
<ellipse cx="27.2" cy="50.2" rx="0.8" ry="1.0" transform="rotate(45 27.2 50.2)" fill="#24245a" opacity="0.85"/>
<ellipse cx="18.0" cy="43.4" rx="1.1" ry="0.7" transform="rotate(23 18.0 43.4)" fill="#4a4a86" opacity="0.85"/>
<ellipse cx="44.3" cy="30.1" rx="0.9" ry="0.9" transform="rotate(29 44.3 30.1)" fill="#383a7c" opacity="0.85"/>
<ellipse cx="19.3" cy="26.3" rx="0.9" ry="0.7" transform="rotate(2 19.3 26.3)" fill="#383a7c" opacity="0.85"/>
<ellipse cx="20.3" cy="48.0" rx="0.7" ry="1.0" transform="rotate(70 20.3 48.0)" fill="#383a7c" opacity="0.85"/>
<ellipse cx="22.0" cy="50.9" rx="0.9" ry="1.1" transform="rotate(179 22.0 50.9)" fill="#2c2c64" opacity="0.85"/>
<ellipse cx="29.5" cy="57.1" rx="0.9" ry="0.9" transform="rotate(117 29.5 57.1)" fill="#383a7c" opacity="0.85"/>
<ellipse cx="27.1" cy="49.2" rx="1.0" ry="1.0" transform="rotate(98 27.1 49.2)" fill="#383a7c" opacity="0.85"/>
<ellipse cx="35.3" cy="58.4" rx="0.8" ry="0.8" transform="rotate(158 35.3 58.4)" fill="#4a4a86" opacity="0.85"/>
<ellipse cx="8.9" cy="43.5" rx="0.9" ry="0.7" transform="rotate(26 8.9 43.5)" fill="#4a4a86" opacity="0.85"/>
<ellipse cx="31.6" cy="34.5" rx="0.8" ry="0.6" transform="rotate(47 31.6 34.5)" fill="#2c2c64" opacity="0.85"/>
<ellipse cx="45.3" cy="48.2" rx="1.0" ry="1.1" transform="rotate(1 45.3 48.2)" fill="#24245a" opacity="0.85"/>
<ellipse cx="17.9" cy="57.0" rx="0.9" ry="0.9" transform="rotate(87 17.9 57.0)" fill="#4a4a86" opacity="0.85"/>
<ellipse cx="35.3" cy="27.7" rx="0.9" ry="1.1" transform="rotate(111 35.3 27.7)" fill="#24245a" opacity="0.85"/>
<ellipse cx="29.7" cy="55.5" rx="1.2" ry="1.1" transform="rotate(130 29.7 55.5)" fill="#383a7c" opacity="0.85"/>
<ellipse cx="34.4" cy="48.4" rx="1.2" ry="0.8" transform="rotate(49 34.4 48.4)" fill="#2c2c64" opacity="0.85"/>
<ellipse cx="33.2" cy="18.5" rx="0.7" ry="0.9" transform="rotate(38 33.2 18.5)" fill="#24245a" opacity="0.85"/>
<ellipse cx="47.7" cy="53.7" rx="0.9" ry="0.9" transform="rotate(132 47.7 53.7)" fill="#4a4a86" opacity="0.85"/>
<ellipse cx="40.6" cy="54.1" rx="0.9" ry="1.0" transform="rotate(138 40.6 54.1)" fill="#4a4a86" opacity="0.85"/>
<ellipse cx="20.3" cy="58.9" rx="0.8" ry="0.8" transform="rotate(4 20.3 58.9)" fill="#383a7c" opacity="0.85"/>
<ellipse cx="26.1" cy="47.6" rx="1.1" ry="0.8" transform="rotate(146 26.1 47.6)" fill="#24245a" opacity="0.85"/>
<ellipse cx="23.3" cy="21.0" rx="0.9" ry="0.7" transform="rotate(118 23.3 21.0)" fill="#2c2c64" opacity="0.85"/>
<ellipse cx="14.4" cy="31.7" rx="0.8" ry="0.7" transform="rotate(37 14.4 31.7)" fill="#24245a" opacity="0.85"/>
<ellipse cx="25.2" cy="37.4" rx="0.9" ry="0.8" transform="rotate(2 25.2 37.4)" fill="#2c2c64" opacity="0.85"/>
<ellipse cx="34.3" cy="60.9" rx="0.9" ry="1.0" transform="rotate(37 34.3 60.9)" fill="#383a7c" opacity="0.85"/>
<ellipse cx="29.1" cy="61.3" rx="1.2" ry="1.0" transform="rotate(40 29.1 61.3)" fill="#4a4a86" opacity="0.85"/>
<ellipse cx="27.1" cy="59.4" rx="1.0" ry="0.6" transform="rotate(159 27.1 59.4)" fill="#24245a" opacity="0.85"/>
<ellipse cx="43.8" cy="47.8" rx="0.8" ry="0.9" transform="rotate(164 43.8 47.8)" fill="#2c2c64" opacity="0.85"/>
<ellipse cx="38.8" cy="40.7" rx="0.8" ry="1.0" transform="rotate(102 38.8 40.7)" fill="#2c2c64" opacity="0.85"/>
<ellipse cx="44.5" cy="37.6" rx="1.0" ry="0.8" transform="rotate(84 44.5 37.6)" fill="#4a4a86" opacity="0.85"/>
<ellipse cx="34.5" cy="19.9" rx="1.0" ry="0.9" transform="rotate(166 34.5 19.9)" fill="#4a4a86" opacity="0.85"/>
<ellipse cx="37.1" cy="59.9" rx="0.9" ry="0.7" transform="rotate(27 37.1 59.9)" fill="#4a4a86" opacity="0.85"/>
<ellipse cx="38.5" cy="26.5" rx="0.7" ry="1.1" transform="rotate(84 38.5 26.5)" fill="#4a4a86" opacity="0.85"/>
<ellipse cx="44.9" cy="58.4" rx="1.2" ry="0.9" transform="rotate(20 44.9 58.4)" fill="#383a7c" opacity="0.85"/>
<ellipse cx="47.1" cy="41.0" rx="0.8" ry="0.6" transform="rotate(179 47.1 41.0)" fill="#2c2c64" opacity="0.85"/>
<ellipse cx="24.8" cy="41.3" rx="1.0" ry="1.0" transform="rotate(63 24.8 41.3)" fill="#383a7c" opacity="0.85"/>
<ellipse cx="17.6" cy="30.6" rx="0.8" ry="0.8" transform="rotate(116 17.6 30.6)" fill="#2c2c64" opacity="0.85"/>
<ellipse cx="45.1" cy="57.5" rx="1.2" ry="1.0" transform="rotate(13 45.1 57.5)" fill="#4a4a86" opacity="0.85"/>
<ellipse cx="34.9" cy="58.8" rx="1.2" ry="0.7" transform="rotate(143 34.9 58.8)" fill="#383a7c" opacity="0.85"/>
<ellipse cx="24.4" cy="59.8" rx="1.2" ry="0.7" transform="rotate(172 24.4 59.8)" fill="#383a7c" opacity="0.85"/>
<ellipse cx="16.9" cy="35.5" rx="1.2" ry="0.6" transform="rotate(153 16.9 35.5)" fill="#4a4a86" opacity="0.85"/>
<ellipse cx="38.8" cy="57.4" rx="1.0" ry="1.1" transform="rotate(131 38.8 57.4)" fill="#383a7c" opacity="0.85"/>
<ellipse cx="26.5" cy="54.7" rx="1.1" ry="0.7" transform="rotate(126 26.5 54.7)" fill="#24245a" opacity="0.85"/>
<ellipse cx="18.3" cy="52.5" rx="0.7" ry="0.7" transform="rotate(31 18.3 52.5)" fill="#4a4a86" opacity="0.85"/>
<ellipse cx="20.7" cy="33.5" rx="0.8" ry="1.1" transform="rotate(112 20.7 33.5)" fill="#24245a" opacity="0.85"/>
<ellipse cx="41.9" cy="51.1" rx="1.2" ry="0.7" transform="rotate(65 41.9 51.1)" fill="#24245a" opacity="0.85"/>
<ellipse cx="11.5" cy="30.0" rx="0.9" ry="0.7" transform="rotate(67 11.5 30.0)" fill="#4a4a86" opacity="0.85"/>
<ellipse cx="33.2" cy="36.8" rx="0.9" ry="1.0" transform="rotate(89 33.2 36.8)" fill="#2c2c64" opacity="0.85"/>
<ellipse cx="22.0" cy="56.5" rx="0.8" ry="0.8" transform="rotate(122 22.0 56.5)" fill="#4a4a86" opacity="0.85"/>
<ellipse cx="17.7" cy="36.6" rx="0.9" ry="0.8" transform="rotate(40 17.7 36.6)" fill="#2c2c64" opacity="0.85"/>
<ellipse cx="36.6" cy="47.6" rx="1.1" ry="0.7" transform="rotate(48 36.6 47.6)" fill="#2c2c64" opacity="0.85"/>
<ellipse cx="28.2" cy="23.9" rx="0.9" ry="0.7" transform="rotate(161 28.2 23.9)" fill="#24245a" opacity="0.85"/>
<ellipse cx="45.7" cy="22.7" rx="1.2" ry="0.6" transform="rotate(118 45.7 22.7)" fill="#4a4a86" opacity="0.85"/>
<ellipse cx="25.8" cy="34.9" rx="1.3" ry="1.0" transform="rotate(130 25.8 34.9)" fill="#24245a" opacity="0.85"/>
<ellipse cx="50.8" cy="48.1" rx="0.9" ry="0.8" transform="rotate(28 50.8 48.1)" fill="#2c2c64" opacity="0.85"/>
<ellipse cx="23.5" cy="48.2" rx="1.3" ry="1.1" transform="rotate(109 23.5 48.2)" fill="#383a7c" opacity="0.85"/>
<ellipse cx="27.4" cy="55.3" rx="1.3" ry="0.6" transform="rotate(117 27.4 55.3)" fill="#2c2c64" opacity="0.85"/>
<ellipse cx="30.6" cy="36.1" rx="1.0" ry="0.9" transform="rotate(118 30.6 36.1)" fill="#383a7c" opacity="0.85"/>
<ellipse cx="32.4" cy="55.4" rx="1.1" ry="0.6" transform="rotate(93 32.4 55.4)" fill="#2c2c64" opacity="0.85"/>
<ellipse cx="16.2" cy="47.2" rx="1.1" ry="1.1" transform="rotate(112 16.2 47.2)" fill="#24245a" opacity="0.85"/>
<ellipse cx="31.2" cy="57.8" rx="0.7" ry="1.0" transform="rotate(78 31.2 57.8)" fill="#383a7c" opacity="0.85"/>
<ellipse cx="34.3" cy="42.0" rx="0.9" ry="0.9" transform="rotate(20 34.3 42.0)" fill="#2c2c64" opacity="0.85"/>
<ellipse cx="14.1" cy="43.6" rx="1.0" ry="0.8" transform="rotate(23 14.1 43.6)" fill="#2c2c64" opacity="0.85"/>
<ellipse cx="25.3" cy="29.1" rx="0.7" ry="0.7" transform="rotate(106 25.3 29.1)" fill="#4a4a86" opacity="0.85"/>
<ellipse cx="30.1" cy="43.1" rx="1.2" ry="0.9" transform="rotate(83 30.1 43.1)" fill="#2c2c64" opacity="0.85"/>
<ellipse cx="15.1" cy="43.4" rx="0.9" ry="0.6" transform="rotate(31 15.1 43.4)" fill="#2c2c64" opacity="0.85"/>
<ellipse cx="15.5" cy="54.8" rx="0.8" ry="0.9" transform="rotate(132 15.5 54.8)" fill="#4a4a86" opacity="0.85"/>
<ellipse cx="39.5" cy="56.1" rx="0.9" ry="0.7" transform="rotate(8 39.5 56.1)" fill="#4a4a86" opacity="0.85"/>
<ellipse cx="34.3" cy="47.6" rx="0.8" ry="1.1" transform="rotate(75 34.3 47.6)" fill="#4a4a86" opacity="0.85"/>
<ellipse cx="35.4" cy="24.2" rx="0.9" ry="0.7" transform="rotate(177 35.4 24.2)" fill="#2c2c64" opacity="0.85"/>
<ellipse cx="44.2" cy="29.6" rx="1.2" ry="0.8" transform="rotate(66 44.2 29.6)" fill="#4a4a86" opacity="0.85"/>
<ellipse cx="39.8" cy="33.0" rx="1.2" ry="0.6" transform="rotate(21 39.8 33.0)" fill="#24245a" opacity="0.85"/>
<ellipse cx="33.9" cy="42.6" rx="1.1" ry="1.0" transform="rotate(72 33.9 42.6)" fill="#383a7c" opacity="0.85"/>
<ellipse cx="9.6" cy="34.2" rx="1.1" ry="0.8" transform="rotate(171 9.6 34.2)" fill="#4a4a86" opacity="0.85"/>
<ellipse cx="37.1" cy="22.7" rx="1.3" ry="0.8" transform="rotate(124 37.1 22.7)" fill="#24245a" opacity="0.85"/>
<ellipse cx="37.3" cy="34.6" rx="0.9" ry="0.8" transform="rotate(54 37.3 34.6)" fill="#2c2c64" opacity="0.85"/>
<ellipse cx="33.3" cy="51.9" rx="0.8" ry="0.9" transform="rotate(10 33.3 51.9)" fill="#2c2c64" opacity="0.85"/>
<ellipse cx="39.7" cy="34.8" rx="0.8" ry="1.1" transform="rotate(16 39.7 34.8)" fill="#2c2c64" opacity="0.85"/>
<ellipse cx="48.7" cy="32.8" rx="1.2" ry="0.9" transform="rotate(57 48.7 32.8)" fill="#383a7c" opacity="0.85"/>
<ellipse cx="10.3" cy="46.1" rx="1.1" ry="0.6" transform="rotate(99 10.3 46.1)" fill="#24245a" opacity="0.85"/>
<ellipse cx="44.1" cy="36.8" rx="0.8" ry="0.6" transform="rotate(122 44.1 36.8)" fill="#2c2c64" opacity="0.85"/>
<ellipse cx="41.6" cy="24.3" rx="1.2" ry="0.8" transform="rotate(136 41.6 24.3)" fill="#4a4a86" opacity="0.85"/>
<ellipse cx="52.0" cy="50.7" rx="1.1" ry="0.9" transform="rotate(150 52.0 50.7)" fill="#24245a" opacity="0.85"/>
<ellipse cx="35.4" cy="59.5" rx="0.9" ry="0.7" transform="rotate(38 35.4 59.5)" fill="#4a4a86" opacity="0.85"/>
<ellipse cx="21.4" cy="36.3" rx="0.8" ry="1.0" transform="rotate(161 21.4 36.3)" fill="#4a4a86" opacity="0.85"/>
<ellipse cx="32.2" cy="37.7" rx="0.8" ry="1.0" transform="rotate(144 32.2 37.7)" fill="#4a4a86" opacity="0.85"/>
<ellipse cx="16.2" cy="44.4" rx="1.2" ry="0.9" transform="rotate(36 16.2 44.4)" fill="#24245a" opacity="0.85"/>
<ellipse cx="26.5" cy="54.1" rx="1.0" ry="1.0" transform="rotate(123 26.5 54.1)" fill="#4a4a86" opacity="0.85"/>
<ellipse cx="25.6" cy="44.3" rx="0.9" ry="0.9" transform="rotate(86 25.6 44.3)" fill="#4a4a86" opacity="0.85"/>
<ellipse cx="19.4" cy="29.8" rx="0.9" ry="0.6" transform="rotate(131 19.4 29.8)" fill="#2c2c64" opacity="0.85"/>
<ellipse cx="48.4" cy="35.0" rx="1.2" ry="0.6" transform="rotate(129 48.4 35.0)" fill="#4a4a86" opacity="0.85"/>
<ellipse cx="16.8" cy="36.6" rx="1.0" ry="0.7" transform="rotate(96 16.8 36.6)" fill="#4a4a86" opacity="0.85"/>
<ellipse cx="44.9" cy="22.6" rx="0.7" ry="0.9" transform="rotate(55 44.9 22.6)" fill="#383a7c" opacity="0.85"/>
<ellipse cx="35.8" cy="42.8" rx="1.0" ry="1.1" transform="rotate(60 35.8 42.8)" fill="#383a7c" opacity="0.85"/>
<ellipse cx="25.5" cy="31.6" rx="0.8" ry="0.7" transform="rotate(44 25.5 31.6)" fill="#383a7c" opacity="0.85"/>
<ellipse cx="34.2" cy="45.4" rx="1.0" ry="1.0" transform="rotate(22 34.2 45.4)" fill="#383a7c" opacity="0.85"/>
<ellipse cx="53.3" cy="49.0" rx="1.1" ry="1.0" transform="rotate(66 53.3 49.0)" fill="#24245a" opacity="0.85"/>
<ellipse cx="25.5" cy="25.8" rx="0.9" ry="0.9" transform="rotate(160 25.5 25.8)" fill="#24245a" opacity="0.85"/>
<ellipse cx="20.9" cy="21.4" rx="1.3" ry="0.7" transform="rotate(5 20.9 21.4)" fill="#24245a" opacity="0.85"/>
<ellipse cx="27.1" cy="55.0" rx="1.1" ry="0.9" transform="rotate(98 27.1 55.0)" fill="#383a7c" opacity="0.85"/>
<ellipse cx="44.0" cy="42.1" rx="0.9" ry="0.8" transform="rotate(119 44.0 42.1)" fill="#24245a" opacity="0.85"/>
<ellipse cx="46.2" cy="47.3" rx="1.0" ry="0.8" transform="rotate(98 46.2 47.3)" fill="#4a4a86" opacity="0.85"/>
<ellipse cx="32.8" cy="43.5" rx="0.7" ry="0.9" transform="rotate(63 32.8 43.5)" fill="#383a7c" opacity="0.85"/>
<ellipse cx="36.2" cy="59.7" rx="1.2" ry="0.7" transform="rotate(134 36.2 59.7)" fill="#24245a" opacity="0.85"/>
<ellipse cx="35.7" cy="23.4" rx="0.9" ry="0.7" transform="rotate(178 35.7 23.4)" fill="#24245a" opacity="0.85"/>
<ellipse cx="54.5" cy="47.9" rx="1.0" ry="1.1" transform="rotate(25 54.5 47.9)" fill="#4a4a86" opacity="0.85"/>
<ellipse cx="41.6" cy="56.5" rx="1.0" ry="0.9" transform="rotate(141 41.6 56.5)" fill="#2c2c64" opacity="0.85"/>
<ellipse cx="12.2" cy="49.3" rx="1.2" ry="0.7" transform="rotate(110 12.2 49.3)" fill="#383a7c" opacity="0.85"/>
<ellipse cx="14.8" cy="26.7" rx="1.0" ry="1.1" transform="rotate(125 14.8 26.7)" fill="#2c2c64" opacity="0.85"/>
<ellipse cx="35.5" cy="24.1" rx="0.8" ry="0.7" transform="rotate(54 35.5 24.1)" fill="#24245a" opacity="0.85"/>
<ellipse cx="15.4" cy="42.4" rx="1.2" ry="1.1" transform="rotate(157 15.4 42.4)" fill="#383a7c" opacity="0.85"/>
<ellipse cx="9.0" cy="40.0" rx="1.3" ry="0.6" transform="rotate(106 9.0 40.0)" fill="#24245a" opacity="0.85"/>
<ellipse cx="33.4" cy="61.2" rx="0.9" ry="0.8" transform="rotate(6 33.4 61.2)" fill="#2c2c64" opacity="0.85"/>
<ellipse cx="15.3" cy="26.4" rx="0.7" ry="0.6" transform="rotate(109 15.3 26.4)" fill="#2c2c64" opacity="0.85"/>
<ellipse cx="48.8" cy="36.3" rx="0.9" ry="1.0" transform="rotate(60 48.8 36.3)" fill="#24245a" opacity="0.85"/>
<ellipse cx="26.1" cy="50.5" rx="1.0" ry="0.7" transform="rotate(94 26.1 50.5)" fill="#24245a" opacity="0.85"/>
<ellipse cx="15.3" cy="29.4" rx="0.8" ry="0.9" transform="rotate(86 15.3 29.4)" fill="#24245a" opacity="0.85"/>
<ellipse cx="37.9" cy="44.8" rx="0.8" ry="0.7" transform="rotate(103 37.9 44.8)" fill="#2c2c64" opacity="0.85"/>
<ellipse cx="22.8" cy="32.8" rx="1.2" ry="0.9" transform="rotate(131 22.8 32.8)" fill="#2c2c64" opacity="0.85"/>
<ellipse cx="20.0" cy="27.8" rx="0.9" ry="0.8" transform="rotate(75 20.0 27.8)" fill="#383a7c" opacity="0.85"/>
<ellipse cx="27.0" cy="24.1" rx="0.9" ry="1.0" transform="rotate(142 27.0 24.1)" fill="#383a7c" opacity="0.85"/>
<ellipse cx="26.6" cy="30.9" rx="1.0" ry="1.0" transform="rotate(107 26.6 30.9)" fill="#2c2c64" opacity="0.85"/>
<ellipse cx="8.7" cy="40.5" rx="1.0" ry="0.7" transform="rotate(68 8.7 40.5)" fill="#2c2c64" opacity="0.85"/>
<ellipse cx="32.1" cy="28.2" rx="1.3" ry="0.7" transform="rotate(57 32.1 28.2)" fill="#383a7c" opacity="0.85"/>
<ellipse cx="17.4" cy="24.1" rx="0.9" ry="1.0" transform="rotate(122 17.4 24.1)" fill="#4a4a86" opacity="0.85"/>
<ellipse cx="43.5" cy="48.4" rx="0.8" ry="0.7" transform="rotate(22 43.5 48.4)" fill="#24245a" opacity="0.85"/>
<ellipse cx="33.8" cy="42.3" rx="1.3" ry="0.6" transform="rotate(102 33.8 42.3)" fill="#24245a" opacity="0.85"/>
<ellipse cx="23.2" cy="52.2" rx="0.8" ry="0.8" transform="rotate(166 23.2 52.2)" fill="#383a7c" opacity="0.85"/>
<ellipse cx="35.9" cy="31.2" rx="0.9" ry="1.1" transform="rotate(143 35.9 31.2)" fill="#4a4a86" opacity="0.85"/>
<ellipse cx="31.9" cy="19.8" rx="1.3" ry="0.6" transform="rotate(27 31.9 19.8)" fill="#4a4a86" opacity="0.85"/>
<ellipse cx="45.4" cy="36.0" rx="0.7" ry="0.8" transform="rotate(9 45.4 36.0)" fill="#383a7c" opacity="0.85"/>
<ellipse cx="9.2" cy="37.1" rx="1.0" ry="0.7" transform="rotate(173 9.2 37.1)" fill="#2c2c64" opacity="0.85"/>
<ellipse cx="38.3" cy="34.6" rx="0.8" ry="0.7" transform="rotate(85 38.3 34.6)" fill="#24245a" opacity="0.85"/>
<ellipse cx="36.4" cy="45.6" rx="0.9" ry="1.1" transform="rotate(77 36.4 45.6)" fill="#4a4a86" opacity="0.85"/>
<ellipse cx="32.1" cy="48.5" rx="1.0" ry="0.9" transform="rotate(112 32.1 48.5)" fill="#383a7c" opacity="0.85"/>
<ellipse cx="53.8" cy="32.1" rx="0.8" ry="1.1" transform="rotate(100 53.8 32.1)" fill="#4a4a86" opacity="0.85"/>
<ellipse cx="21.9" cy="22.4" rx="1.0" ry="0.7" transform="rotate(124 21.9 22.4)" fill="#24245a" opacity="0.85"/>
<ellipse cx="44.5" cy="54.0" rx="1.1" ry="0.8" transform="rotate(117 44.5 54.0)" fill="#2c2c64" opacity="0.85"/>
<ellipse cx="32.4" cy="56.1" rx="0.8" ry="0.8" transform="rotate(102 32.4 56.1)" fill="#2c2c64" opacity="0.85"/>
<ellipse cx="31.6" cy="46.9" rx="1.0" ry="0.6" transform="rotate(175 31.6 46.9)" fill="#24245a" opacity="0.85"/>
<ellipse cx="36.6" cy="35.9" rx="1.2" ry="0.9" transform="rotate(8 36.6 35.9)" fill="#383a7c" opacity="0.85"/>
<ellipse cx="28.9" cy="43.0" rx="1.2" ry="0.7" transform="rotate(170 28.9 43.0)" fill="#4a4a86" opacity="0.85"/>
<ellipse cx="23.5" cy="48.0" rx="1.1" ry="0.9" transform="rotate(91 23.5 48.0)" fill="#383a7c" opacity="0.85"/>
<ellipse cx="29.9" cy="31.4" rx="1.1" ry="1.0" transform="rotate(120 29.9 31.4)" fill="#383a7c" opacity="0.85"/>
<ellipse cx="42.9" cy="54.4" rx="0.8" ry="0.8" transform="rotate(144 42.9 54.4)" fill="#383a7c" opacity="0.85"/>
<ellipse cx="40.2" cy="39.2" rx="1.3" ry="0.9" transform="rotate(116 40.2 39.2)" fill="#4a4a86" opacity="0.85"/>
<ellipse cx="11.2" cy="48.0" rx="1.2" ry="0.8" transform="rotate(20 11.2 48.0)" fill="#24245a" opacity="0.85"/>
<ellipse cx="17.1" cy="49.2" rx="1.1" ry="0.9" transform="rotate(136 17.1 49.2)" fill="#383a7c" opacity="0.85"/>
<ellipse cx="29.4" cy="36.3" rx="1.0" ry="1.1" transform="rotate(71 29.4 36.3)" fill="#2c2c64" opacity="0.85"/>
<ellipse cx="39.3" cy="40.1" rx="0.7" ry="1.0" transform="rotate(69 39.3 40.1)" fill="#24245a" opacity="0.85"/>
<ellipse cx="32.5" cy="62.1" rx="1.1" ry="0.9" transform="rotate(42 32.5 62.1)" fill="#2c2c64" opacity="0.85"/>
<ellipse cx="23.5" cy="30.3" rx="1.1" ry="1.1" transform="rotate(34 23.5 30.3)" fill="#24245a" opacity="0.85"/>
<ellipse cx="24.2" cy="59.7" rx="1.0" ry="0.9" transform="rotate(164 24.2 59.7)" fill="#24245a" opacity="0.85"/>
<ellipse cx="22.8" cy="38.9" rx="0.9" ry="0.9" transform="rotate(10 22.8 38.9)" fill="#2c2c64" opacity="0.85"/>
<ellipse cx="31.9" cy="19.6" rx="1.0" ry="1.0" transform="rotate(155 31.9 19.6)" fill="#2c2c64" opacity="0.85"/>
<ellipse cx="20.2" cy="27.0" rx="1.0" ry="0.8" transform="rotate(105 20.2 27.0)" fill="#383a7c" opacity="0.85"/>
<ellipse cx="22.5" cy="56.7" rx="0.8" ry="1.1" transform="rotate(154 22.5 56.7)" fill="#4a4a86" opacity="0.85"/>
<ellipse cx="11.9" cy="37.3" rx="1.2" ry="0.9" transform="rotate(86 11.9 37.3)" fill="#4a4a86" opacity="0.85"/>
<ellipse cx="39.4" cy="60.2" rx="1.1" ry="0.8" transform="rotate(162 39.4 60.2)" fill="#24245a" opacity="0.85"/>
<ellipse cx="38.1" cy="26.3" rx="0.9" ry="1.0" transform="rotate(174 38.1 26.3)" fill="#24245a" opacity="0.85"/>
<ellipse cx="20.4" cy="58.7" rx="0.9" ry="0.9" transform="rotate(99 20.4 58.7)" fill="#2c2c64" opacity="0.85"/>
<ellipse cx="29.4" cy="23.8" rx="0.9" ry="0.9" transform="rotate(77 29.4 23.8)" fill="#383a7c" opacity="0.85"/>
<ellipse cx="41.4" cy="45.7" rx="0.8" ry="0.9" transform="rotate(8 41.4 45.7)" fill="#383a7c" opacity="0.85"/>
<ellipse cx="27.7" cy="35.2" rx="1.1" ry="0.7" transform="rotate(134 27.7 35.2)" fill="#4a4a86" opacity="0.85"/>
<ellipse cx="20.0" cy="51.4" rx="1.3" ry="0.9" transform="rotate(178 20.0 51.4)" fill="#24245a" opacity="0.85"/>
<ellipse cx="48.9" cy="50.4" rx="1.2" ry="0.7" transform="rotate(104 48.9 50.4)" fill="#4a4a86" opacity="0.85"/>
<ellipse cx="21.1" cy="27.3" rx="1.0" ry="0.8" transform="rotate(119 21.1 27.3)" fill="#383a7c" opacity="0.85"/>
<ellipse cx="38.6" cy="36.5" rx="1.0" ry="0.8" transform="rotate(55 38.6 36.5)" fill="#2c2c64" opacity="0.85"/>
<ellipse cx="51.1" cy="38.5" rx="1.2" ry="0.6" transform="rotate(68 51.1 38.5)" fill="#4a4a86" opacity="0.85"/>
<ellipse cx="19.1" cy="28.3" rx="1.0" ry="0.9" transform="rotate(109 19.1 28.3)" fill="#4a4a86" opacity="0.85"/>
<ellipse cx="19.1" cy="52.7" rx="1.0" ry="0.8" transform="rotate(97 19.1 52.7)" fill="#24245a" opacity="0.85"/>
<ellipse cx="49.2" cy="33.5" rx="1.1" ry="0.7" transform="rotate(77 49.2 33.5)" fill="#2c2c64" opacity="0.85"/>
<ellipse cx="10.9" cy="44.2" rx="0.7" ry="1.1" transform="rotate(148 10.9 44.2)" fill="#4a4a86" opacity="0.85"/>
<ellipse cx="42.9" cy="33.3" rx="0.9" ry="1.0" transform="rotate(66 42.9 33.3)" fill="#4a4a86" opacity="0.85"/>
<ellipse cx="35.5" cy="42.5" rx="1.2" ry="0.9" transform="rotate(178 35.5 42.5)" fill="#383a7c" opacity="0.85"/>
<ellipse cx="47.7" cy="40.9" rx="1.0" ry="0.8" transform="rotate(4 47.7 40.9)" fill="#24245a" opacity="0.85"/>
<ellipse cx="16.2" cy="46.1" rx="0.9" ry="1.0" transform="rotate(161 16.2 46.1)" fill="#4a4a86" opacity="0.85"/>
<ellipse cx="28.6" cy="24.5" rx="1.0" ry="0.9" transform="rotate(109 28.6 24.5)" fill="#4a4a86" opacity="0.85"/>
<ellipse cx="29.5" cy="19.0" rx="1.2" ry="0.6" transform="rotate(52 29.5 19.0)" fill="#4a4a86" opacity="0.85"/>
<ellipse cx="22.7" cy="49.1" rx="0.9" ry="0.7" transform="rotate(124 22.7 49.1)" fill="#383a7c" opacity="0.85"/>
<ellipse cx="25.6" cy="42.2" rx="0.9" ry="0.8" transform="rotate(4 25.6 42.2)" fill="#24245a" opacity="0.85"/>
<ellipse cx="46.6" cy="46.2" rx="0.8" ry="0.6" transform="rotate(150 46.6 46.2)" fill="#383a7c" opacity="0.85"/>
<ellipse cx="52.6" cy="46.7" rx="0.9" ry="0.8" transform="rotate(5 52.6 46.7)" fill="#383a7c" opacity="0.85"/>
<ellipse cx="48.1" cy="56.7" rx="1.1" ry="0.8" transform="rotate(38 48.1 56.7)" fill="#24245a" opacity="0.85"/>
<ellipse cx="51.0" cy="27.8" rx="0.7" ry="1.1" transform="rotate(85 51.0 27.8)" fill="#24245a" opacity="0.85"/>
<ellipse cx="46.6" cy="30.7" rx="0.8" ry="0.7" transform="rotate(91 46.6 30.7)" fill="#24245a" opacity="0.85"/>
<ellipse cx="38.4" cy="24.8" rx="1.2" ry="1.0" transform="rotate(174 38.4 24.8)" fill="#24245a" opacity="0.85"/>
<ellipse cx="16.6" cy="26.2" rx="1.0" ry="0.9" transform="rotate(107 16.6 26.2)" fill="#383a7c" opacity="0.85"/>
<ellipse cx="25.1" cy="52.6" rx="1.0" ry="0.6" transform="rotate(57 25.1 52.6)" fill="#383a7c" opacity="0.85"/>
<ellipse cx="32.2" cy="48.1" rx="1.2" ry="0.9" transform="rotate(153 32.2 48.1)" fill="#2c2c64" opacity="0.85"/>
<ellipse cx="23.9" cy="44.7" rx="1.1" ry="1.0" transform="rotate(137 23.9 44.7)" fill="#4a4a86" opacity="0.85"/>
<ellipse cx="16.6" cy="30.3" rx="0.7" ry="1.0" transform="rotate(120 16.6 30.3)" fill="#24245a" opacity="0.85"/>
<ellipse cx="53.3" cy="31.5" rx="0.9" ry="0.9" transform="rotate(3 53.3 31.5)" fill="#24245a" opacity="0.85"/>
<ellipse cx="21.2" cy="23.1" rx="1.1" ry="0.7" transform="rotate(152 21.2 23.1)" fill="#4a4a86" opacity="0.85"/>
<ellipse cx="34.7" cy="57.6" rx="1.1" ry="0.9" transform="rotate(157 34.7 57.6)" fill="#4a4a86" opacity="0.85"/>
<ellipse cx="28.2" cy="35.6" rx="1.0" ry="0.9" transform="rotate(91 28.2 35.6)" fill="#4a4a86" opacity="0.85"/>
<ellipse cx="49.4" cy="30.8" rx="0.7" ry="1.0" transform="rotate(53 49.4 30.8)" fill="#4a4a86" opacity="0.85"/>
<ellipse cx="38.4" cy="30.8" rx="1.1" ry="1.0" transform="rotate(34 38.4 30.8)" fill="#4a4a86" opacity="0.85"/>
<ellipse cx="30.3" cy="35.9" rx="0.7" ry="0.7" transform="rotate(100 30.3 35.9)" fill="#383a7c" opacity="0.85"/>
<ellipse cx="55.6" cy="42.5" rx="0.7" ry="0.7" transform="rotate(93 55.6 42.5)" fill="#24245a" opacity="0.85"/>
<ellipse cx="25.5" cy="61.0" rx="0.7" ry="0.7" transform="rotate(96 25.5 61.0)" fill="#2c2c64" opacity="0.85"/>
<ellipse cx="27.1" cy="46.8" rx="1.1" ry="0.9" transform="rotate(20 27.1 46.8)" fill="#4a4a86" opacity="0.85"/>
<ellipse cx="19.9" cy="40.5" rx="1.3" ry="1.1" transform="rotate(168 19.9 40.5)" fill="#24245a" opacity="0.85"/>
<ellipse cx="43.4" cy="59.6" rx="1.2" ry="0.8" transform="rotate(109 43.4 59.6)" fill="#383a7c" opacity="0.85"/>
<ellipse cx="54.9" cy="43.1" rx="0.9" ry="1.0" transform="rotate(18 54.9 43.1)" fill="#383a7c" opacity="0.85"/>
<ellipse cx="43.5" cy="52.1" rx="1.1" ry="1.0" transform="rotate(10 43.5 52.1)" fill="#2c2c64" opacity="0.85"/>
<ellipse cx="46.8" cy="46.5" rx="1.1" ry="1.1" transform="rotate(133 46.8 46.5)" fill="#4a4a86" opacity="0.85"/>
<ellipse cx="44.4" cy="32.4" rx="1.3" ry="0.6" transform="rotate(21 44.4 32.4)" fill="#2c2c64" opacity="0.85"/>
<ellipse cx="35.6" cy="35.2" rx="0.9" ry="0.9" transform="rotate(148 35.6 35.2)" fill="#24245a" opacity="0.85"/>
<ellipse cx="28.4" cy="47.5" rx="0.9" ry="0.7" transform="rotate(6 28.4 47.5)" fill="#24245a" opacity="0.85"/>
<ellipse cx="12.1" cy="29.3" rx="0.9" ry="1.0" transform="rotate(125 12.1 29.3)" fill="#4a4a86" opacity="0.85"/>
<ellipse cx="40.8" cy="46.3" rx="1.0" ry="0.6" transform="rotate(69 40.8 46.3)" fill="#24245a" opacity="0.85"/>
<ellipse cx="32.1" cy="35.3" rx="0.8" ry="0.8" transform="rotate(96 32.1 35.3)" fill="#2c2c64" opacity="0.85"/>
<ellipse cx="37.8" cy="43.1" rx="0.8" ry="0.6" transform="rotate(70 37.8 43.1)" fill="#383a7c" opacity="0.85"/>
<ellipse cx="40.3" cy="47.0" rx="0.8" ry="1.0" transform="rotate(113 40.3 47.0)" fill="#4a4a86" opacity="0.85"/>
<ellipse cx="30.9" cy="56.0" rx="1.2" ry="1.0" transform="rotate(112 30.9 56.0)" fill="#383a7c" opacity="0.85"/>
<ellipse cx="15.2" cy="25.3" rx="0.8" ry="0.9" transform="rotate(7 15.2 25.3)" fill="#2c2c64" opacity="0.85"/>
<ellipse cx="15.1" cy="50.1" rx="1.1" ry="1.1" transform="rotate(25 15.1 50.1)" fill="#24245a" opacity="0.85"/>
<ellipse cx="22.0" cy="26.6" rx="0.7" ry="0.9" transform="rotate(20 22.0 26.6)" fill="#383a7c" opacity="0.85"/>
<ellipse cx="46.8" cy="36.4" rx="0.9" ry="0.8" transform="rotate(68 46.8 36.4)" fill="#2c2c64" opacity="0.85"/>
<ellipse cx="9.9" cy="45.7" rx="1.3" ry="0.8" transform="rotate(35 9.9 45.7)" fill="#24245a" opacity="0.85"/>
<ellipse cx="46.6" cy="56.3" rx="1.3" ry="0.7" transform="rotate(52 46.6 56.3)" fill="#24245a" opacity="0.85"/>
<ellipse cx="26.8" cy="49.9" rx="1.2" ry="0.6" transform="rotate(67 26.8 49.9)" fill="#2c2c64" opacity="0.85"/>
<ellipse cx="21.9" cy="31.2" rx="1.1" ry="1.1" transform="rotate(135 21.9 31.2)" fill="#2c2c64" opacity="0.85"/>
<ellipse cx="17.1" cy="35.7" rx="0.8" ry="1.1" transform="rotate(154 17.1 35.7)" fill="#24245a" opacity="0.85"/>
<ellipse cx="44.3" cy="57.0" rx="1.3" ry="1.0" transform="rotate(65 44.3 57.0)" fill="#24245a" opacity="0.85"/>
<ellipse cx="15.0" cy="36.2" rx="1.2" ry="0.9" transform="rotate(102 15.0 36.2)" fill="#383a7c" opacity="0.85"/>
<ellipse cx="29.3" cy="44.0" rx="0.8" ry="0.8" transform="rotate(38 29.3 44.0)" fill="#4a4a86" opacity="0.85"/>
<ellipse cx="20.9" cy="34.5" rx="1.0" ry="0.7" transform="rotate(125 20.9 34.5)" fill="#383a7c" opacity="0.85"/>
<ellipse cx="26.6" cy="45.3" rx="0.7" ry="0.6" transform="rotate(132 26.6 45.3)" fill="#2c2c64" opacity="0.85"/>
<ellipse cx="24.1" cy="30.4" rx="0.7" ry="1.0" transform="rotate(178 24.1 30.4)" fill="#2c2c64" opacity="0.85"/>
<ellipse cx="19.4" cy="39.7" rx="1.3" ry="0.8" transform="rotate(130 19.4 39.7)" fill="#4a4a86" opacity="0.85"/>
<ellipse cx="23.6" cy="35.9" rx="1.0" ry="0.9" transform="rotate(56 23.6 35.9)" fill="#4a4a86" opacity="0.85"/>
<ellipse cx="52.8" cy="47.5" rx="1.1" ry="0.7" transform="rotate(173 52.8 47.5)" fill="#383a7c" opacity="0.85"/>
<ellipse cx="9.7" cy="36.6" rx="1.0" ry="0.9" transform="rotate(33 9.7 36.6)" fill="#383a7c" opacity="0.85"/>
<ellipse cx="30.5" cy="55.1" rx="1.2" ry="0.8" transform="rotate(123 30.5 55.1)" fill="#4a4a86" opacity="0.85"/>
<ellipse cx="13.5" cy="46.9" rx="0.8" ry="0.9" transform="rotate(5 13.5 46.9)" fill="#383a7c" opacity="0.85"/>
<ellipse cx="49.8" cy="25.2" rx="1.1" ry="1.0" transform="rotate(63 49.8 25.2)" fill="#2c2c64" opacity="0.85"/>
<ellipse cx="24.9" cy="23.4" rx="1.2" ry="0.9" transform="rotate(121 24.9 23.4)" fill="#24245a" opacity="0.85"/>
<ellipse cx="36.5" cy="56.8" rx="0.9" ry="1.0" transform="rotate(122 36.5 56.8)" fill="#24245a" opacity="0.85"/>
<ellipse cx="39.0" cy="39.1" rx="1.2" ry="0.8" transform="rotate(2 39.0 39.1)" fill="#4a4a86" opacity="0.85"/>
<ellipse cx="21.0" cy="42.3" rx="1.1" ry="1.1" transform="rotate(65 21.0 42.3)" fill="#24245a" opacity="0.85"/>
<ellipse cx="46.8" cy="31.1" rx="1.2" ry="0.8" transform="rotate(82 46.8 31.1)" fill="#4a4a86" opacity="0.85"/>
<ellipse cx="53.1" cy="39.8" rx="1.2" ry="0.6" transform="rotate(72 53.1 39.8)" fill="#4a4a86" opacity="0.85"/>
<ellipse cx="13.8" cy="49.6" rx="1.0" ry="0.9" transform="rotate(96 13.8 49.6)" fill="#383a7c" opacity="0.85"/>
<ellipse cx="12.8" cy="28.4" rx="0.9" ry="0.8" transform="rotate(27 12.8 28.4)" fill="#24245a" opacity="0.85"/>
<ellipse cx="52.7" cy="50.8" rx="1.0" ry="0.7" transform="rotate(1 52.7 50.8)" fill="#383a7c" opacity="0.85"/>
<ellipse cx="41.1" cy="27.6" rx="0.9" ry="0.6" transform="rotate(80 41.1 27.6)" fill="#2c2c64" opacity="0.85"/>
<ellipse cx="42.5" cy="37.1" rx="1.3" ry="0.8" transform="rotate(14 42.5 37.1)" fill="#2c2c64" opacity="0.85"/>
<ellipse cx="27.7" cy="59.4" rx="1.2" ry="0.7" transform="rotate(137 27.7 59.4)" fill="#2c2c64" opacity="0.85"/>
<ellipse cx="32.2" cy="31.8" rx="1.0" ry="0.7" transform="rotate(75 32.2 31.8)" fill="#2c2c64" opacity="0.85"/>
<ellipse cx="30.4" cy="26.1" rx="1.2" ry="1.0" transform="rotate(11 30.4 26.1)" fill="#4a4a86" opacity="0.85"/>
<ellipse cx="10.0" cy="40.7" rx="0.8" ry="0.9" transform="rotate(25 10.0 40.7)" fill="#24245a" opacity="0.85"/>
<ellipse cx="23.6" cy="25.6" rx="0.9" ry="0.8" transform="rotate(134 23.6 25.6)" fill="#383a7c" opacity="0.85"/>
<ellipse cx="42.1" cy="50.7" rx="1.0" ry="0.7" transform="rotate(83 42.1 50.7)" fill="#2c2c64" opacity="0.85"/>
<ellipse cx="19.9" cy="37.0" rx="0.9" ry="0.8" transform="rotate(152 19.9 37.0)" fill="#4a4a86" opacity="0.85"/>
<ellipse cx="37.7" cy="23.8" rx="0.9" ry="0.9" transform="rotate(126 37.7 23.8)" fill="#4a4a86" opacity="0.85"/>
<ellipse cx="26.3" cy="36.5" rx="0.9" ry="0.8" transform="rotate(66 26.3 36.5)" fill="#24245a" opacity="0.85"/>
<ellipse cx="49.5" cy="54.0" rx="0.9" ry="0.9" transform="rotate(122 49.5 54.0)" fill="#24245a" opacity="0.85"/>
<ellipse cx="20.3" cy="32.2" rx="1.3" ry="0.8" transform="rotate(18 20.3 32.2)" fill="#383a7c" opacity="0.85"/>
<ellipse cx="26.5" cy="23.3" rx="1.0" ry="1.0" transform="rotate(26 26.5 23.3)" fill="#2c2c64" opacity="0.85"/>
<ellipse cx="32.0" cy="22.2" rx="1.3" ry="1.0" transform="rotate(12 32.0 22.2)" fill="#4a4a86" opacity="0.85"/>
<ellipse cx="23.0" cy="39.6" rx="1.0" ry="0.6" transform="rotate(38 23.0 39.6)" fill="#24245a" opacity="0.85"/>
<ellipse cx="28.5" cy="21.7" rx="0.8" ry="0.8" transform="rotate(135 28.5 21.7)" fill="#2c2c64" opacity="0.85"/>
<ellipse cx="31.9" cy="32.3" rx="0.9" ry="1.1" transform="rotate(93 31.9 32.3)" fill="#4a4a86" opacity="0.85"/>
<ellipse cx="25.6" cy="59.5" rx="0.8" ry="1.0" transform="rotate(156 25.6 59.5)" fill="#2c2c64" opacity="0.85"/>
<ellipse cx="12.4" cy="43.1" rx="0.8" ry="0.9" transform="rotate(18 12.4 43.1)" fill="#2c2c64" opacity="0.85"/>
<ellipse cx="22.7" cy="32.3" rx="1.3" ry="1.0" transform="rotate(53 22.7 32.3)" fill="#24245a" opacity="0.85"/>
<ellipse cx="39.6" cy="39.3" rx="0.8" ry="0.9" transform="rotate(140 39.6 39.3)" fill="#2c2c64" opacity="0.85"/>
<ellipse cx="28.3" cy="41.2" rx="0.8" ry="0.7" transform="rotate(128 28.3 41.2)" fill="#4a4a86" opacity="0.85"/>
<ellipse cx="29.5" cy="38.9" rx="1.1" ry="0.9" transform="rotate(102 29.5 38.9)" fill="#24245a" opacity="0.85"/>
<ellipse cx="13.1" cy="33.0" rx="1.0" ry="0.6" transform="rotate(75 13.1 33.0)" fill="#4a4a86" opacity="0.85"/>
<ellipse cx="21.1" cy="52.6" rx="0.9" ry="0.9" transform="rotate(106 21.1 52.6)" fill="#383a7c" opacity="0.85"/>
<ellipse cx="18.0" cy="38.8" rx="0.8" ry="0.7" transform="rotate(46 18.0 38.8)" fill="#4a4a86" opacity="0.85"/>
<ellipse cx="17.7" cy="42.0" rx="1.3" ry="0.7" transform="rotate(105 17.7 42.0)" fill="#2c2c64" opacity="0.85"/>
<ellipse cx="39.9" cy="46.2" rx="0.8" ry="1.0" transform="rotate(86 39.9 46.2)" fill="#4a4a86" opacity="0.85"/>
<ellipse cx="18.2" cy="23.4" rx="1.2" ry="0.6" transform="rotate(30 18.2 23.4)" fill="#383a7c" opacity="0.85"/>
<ellipse cx="22.0" cy="56.1" rx="1.0" ry="0.8" transform="rotate(97 22.0 56.1)" fill="#24245a" opacity="0.85"/>
<ellipse cx="30.9" cy="34.7" rx="1.3" ry="0.9" transform="rotate(82 30.9 34.7)" fill="#24245a" opacity="0.85"/>
<ellipse cx="15.5" cy="41.7" rx="1.0" ry="1.0" transform="rotate(101 15.5 41.7)" fill="#2c2c64" opacity="0.85"/>
<ellipse cx="40.8" cy="28.1" rx="0.9" ry="0.8" transform="rotate(63 40.8 28.1)" fill="#2c2c64" opacity="0.85"/>
<ellipse cx="23.2" cy="24.2" rx="0.9" ry="0.7" transform="rotate(106 23.2 24.2)" fill="#4a4a86" opacity="0.85"/>
<ellipse cx="24.7" cy="38.0" rx="1.1" ry="1.0" transform="rotate(138 24.7 38.0)" fill="#383a7c" opacity="0.85"/>
<ellipse cx="23.5" cy="52.6" rx="0.7" ry="0.8" transform="rotate(133 23.5 52.6)" fill="#24245a" opacity="0.85"/>
<ellipse cx="11.1" cy="31.4" rx="0.8" ry="1.1" transform="rotate(62 11.1 31.4)" fill="#2c2c64" opacity="0.85"/>
<ellipse cx="17.8" cy="54.2" rx="1.3" ry="0.6" transform="rotate(22 17.8 54.2)" fill="#22224e" opacity="0.9"/>
<ellipse cx="12.3" cy="36.7" rx="0.8" ry="0.7" transform="rotate(146 12.3 36.7)" fill="#2a2a62" opacity="0.9"/>
<ellipse cx="54.2" cy="44.8" rx="1.0" ry="0.8" transform="rotate(148 54.2 44.8)" fill="#2a2a62" opacity="0.9"/>
<ellipse cx="22.3" cy="59.6" rx="0.8" ry="0.9" transform="rotate(97 22.3 59.6)" fill="#22224e" opacity="0.9"/>
<ellipse cx="22.6" cy="23.2" rx="1.1" ry="0.9" transform="rotate(5 22.6 23.2)" fill="#22224e" opacity="0.9"/>
<ellipse cx="12.8" cy="35.4" rx="1.2" ry="0.9" transform="rotate(49 12.8 35.4)" fill="#22224e" opacity="0.9"/>
<ellipse cx="51.8" cy="50.7" rx="1.3" ry="1.0" transform="rotate(121 51.8 50.7)" fill="#22224e" opacity="0.9"/>
<ellipse cx="48.8" cy="55.2" rx="1.1" ry="0.7" transform="rotate(97 48.8 55.2)" fill="#2a2a62" opacity="0.9"/>
<ellipse cx="52.0" cy="30.1" rx="0.9" ry="0.9" transform="rotate(161 52.0 30.1)" fill="#22224e" opacity="0.9"/>
<ellipse cx="24.1" cy="58.2" rx="1.3" ry="0.8" transform="rotate(68 24.1 58.2)" fill="#22224e" opacity="0.9"/>
<ellipse cx="30.6" cy="59.9" rx="0.8" ry="0.8" transform="rotate(106 30.6 59.9)" fill="#2a2a62" opacity="0.9"/>
<ellipse cx="24.6" cy="22.7" rx="0.9" ry="0.8" transform="rotate(159 24.6 22.7)" fill="#22224e" opacity="0.9"/>
<ellipse cx="13.4" cy="33.0" rx="1.1" ry="0.7" transform="rotate(74 13.4 33.0)" fill="#22224e" opacity="0.9"/>
<ellipse cx="44.1" cy="56.6" rx="0.9" ry="1.0" transform="rotate(95 44.1 56.6)" fill="#2a2a62" opacity="0.9"/>
<ellipse cx="40.3" cy="22.5" rx="1.2" ry="0.7" transform="rotate(21 40.3 22.5)" fill="#2a2a62" opacity="0.9"/>
<ellipse cx="11.6" cy="50.9" rx="0.8" ry="0.6" transform="rotate(150 11.6 50.9)" fill="#2a2a62" opacity="0.9"/>
<ellipse cx="42.1" cy="59.1" rx="1.1" ry="0.9" transform="rotate(122 42.1 59.1)" fill="#2a2a62" opacity="0.9"/>
<ellipse cx="34.9" cy="20.4" rx="1.2" ry="1.0" transform="rotate(84 34.9 20.4)" fill="#22224e" opacity="0.9"/>
<ellipse cx="30.5" cy="18.7" rx="1.2" ry="0.8" transform="rotate(111 30.5 18.7)" fill="#2a2a62" opacity="0.9"/>
<ellipse cx="49.8" cy="52.8" rx="1.3" ry="0.9" transform="rotate(178 49.8 52.8)" fill="#22224e" opacity="0.9"/>
<ellipse cx="44.5" cy="22.1" rx="1.2" ry="0.7" transform="rotate(92 44.5 22.1)" fill="#22224e" opacity="0.9"/>
<ellipse cx="51.9" cy="31.1" rx="1.1" ry="0.7" transform="rotate(88 51.9 31.1)" fill="#22224e" opacity="0.9"/>
<ellipse cx="14.5" cy="32.0" rx="0.9" ry="0.9" transform="rotate(68 14.5 32.0)" fill="#22224e" opacity="0.9"/>
<ellipse cx="46.0" cy="25.1" rx="1.1" ry="0.7" transform="rotate(102 46.0 25.1)" fill="#22224e" opacity="0.9"/>
<ellipse cx="55.5" cy="41.0" rx="1.0" ry="0.6" transform="rotate(48 55.5 41.0)" fill="#22224e" opacity="0.9"/>
<ellipse cx="40.6" cy="58.7" rx="1.3" ry="0.7" transform="rotate(178 40.6 58.7)" fill="#22224e" opacity="0.9"/>
<ellipse cx="48.4" cy="23.9" rx="1.2" ry="0.8" transform="rotate(152 48.4 23.9)" fill="#22224e" opacity="0.9"/>
<ellipse cx="50.3" cy="49.0" rx="1.2" ry="0.7" transform="rotate(53 50.3 49.0)" fill="#2a2a62" opacity="0.9"/>
<ellipse cx="10.4" cy="45.6" rx="0.9" ry="0.6" transform="rotate(112 10.4 45.6)" fill="#22224e" opacity="0.9"/>
<ellipse cx="51.2" cy="31.8" rx="0.9" ry="0.6" transform="rotate(34 51.2 31.8)" fill="#22224e" opacity="0.9"/>
<ellipse cx="20.0" cy="25.0" rx="1.3" ry="0.8" transform="rotate(174 20.0 25.0)" fill="#2a2a62" opacity="0.9"/>
<ellipse cx="10.5" cy="34.6" rx="0.9" ry="0.9" transform="rotate(164 10.5 34.6)" fill="#2a2a62" opacity="0.9"/>
<ellipse cx="19.7" cy="56.4" rx="1.1" ry="0.6" transform="rotate(41 19.7 56.4)" fill="#22224e" opacity="0.9"/>
<ellipse cx="12.4" cy="49.2" rx="1.1" ry="0.6" transform="rotate(75 12.4 49.2)" fill="#2a2a62" opacity="0.9"/>
<ellipse cx="49.5" cy="55.4" rx="0.9" ry="0.7" transform="rotate(75 49.5 55.4)" fill="#2a2a62" opacity="0.9"/>
<ellipse cx="47.2" cy="55.2" rx="1.0" ry="0.8" transform="rotate(25 47.2 55.2)" fill="#22224e" opacity="0.9"/>
<ellipse cx="40.5" cy="57.9" rx="1.2" ry="0.9" transform="rotate(34 40.5 57.9)" fill="#22224e" opacity="0.9"/>
<ellipse cx="45.1" cy="57.7" rx="1.0" ry="0.8" transform="rotate(166 45.1 57.7)" fill="#22224e" opacity="0.9"/>
<ellipse cx="43.3" cy="24.2" rx="0.9" ry="0.6" transform="rotate(92 43.3 24.2)" fill="#22224e" opacity="0.9"/>
<ellipse cx="38.1" cy="60.5" rx="0.8" ry="0.7" transform="rotate(103 38.1 60.5)" fill="#2a2a62" opacity="0.9"/>
<ellipse cx="12.7" cy="51.7" rx="0.9" ry="0.6" transform="rotate(24 12.7 51.7)" fill="#2a2a62" opacity="0.9"/>
<ellipse cx="52.7" cy="51.6" rx="0.9" ry="0.7" transform="rotate(50 52.7 51.6)" fill="#22224e" opacity="0.9"/>
<ellipse cx="12.9" cy="45.2" rx="1.2" ry="0.9" transform="rotate(51 12.9 45.2)" fill="#22224e" opacity="0.9"/>
<ellipse cx="19.6" cy="23.6" rx="1.3" ry="0.7" transform="rotate(79 19.6 23.6)" fill="#2a2a62" opacity="0.9"/>
<ellipse cx="18.0" cy="26.7" rx="1.1" ry="0.9" transform="rotate(14 18.0 26.7)" fill="#2a2a62" opacity="0.9"/>
<ellipse cx="47.0" cy="53.3" rx="0.9" ry="0.8" transform="rotate(85 47.0 53.3)" fill="#2a2a62" opacity="0.9"/>
<ellipse cx="35.4" cy="22.1" rx="1.0" ry="1.0" transform="rotate(121 35.4 22.1)" fill="#2a2a62" opacity="0.9"/>
<ellipse cx="54.8" cy="45.0" rx="1.3" ry="0.7" transform="rotate(49 54.8 45.0)" fill="#2a2a62" opacity="0.9"/>
<ellipse cx="15.5" cy="26.7" rx="0.8" ry="0.6" transform="rotate(64 15.5 26.7)" fill="#2a2a62" opacity="0.9"/>
<ellipse cx="52.6" cy="48.3" rx="1.0" ry="0.9" transform="rotate(43 52.6 48.3)" fill="#22224e" opacity="0.9"/>
<ellipse cx="19.0" cy="25.1" rx="0.9" ry="0.8" transform="rotate(136 19.0 25.1)" fill="#22224e" opacity="0.9"/>
<ellipse cx="12.5" cy="28.9" rx="1.1" ry="0.7" transform="rotate(34 12.5 28.9)" fill="#22224e" opacity="0.9"/>
<ellipse cx="39.6" cy="22.6" rx="0.8" ry="0.6" transform="rotate(6 39.6 22.6)" fill="#2a2a62" opacity="0.9"/>
<ellipse cx="33.9" cy="18.9" rx="0.8" ry="0.7" transform="rotate(146 33.9 18.9)" fill="#2a2a62" opacity="0.9"/>
<ellipse cx="53.1" cy="51.0" rx="1.2" ry="0.8" transform="rotate(122 53.1 51.0)" fill="#22224e" opacity="0.9"/>
<ellipse cx="40.3" cy="59.5" rx="0.8" ry="0.9" transform="rotate(124 40.3 59.5)" fill="#22224e" opacity="0.9"/>
<ellipse cx="49.4" cy="27.9" rx="1.0" ry="0.9" transform="rotate(64 49.4 27.9)" fill="#22224e" opacity="0.9"/>
<ellipse cx="11.8" cy="34.0" rx="1.0" ry="0.9" transform="rotate(103 11.8 34.0)" fill="#2a2a62" opacity="0.9"/>
<ellipse cx="44.7" cy="24.1" rx="1.0" ry="0.6" transform="rotate(100 44.7 24.1)" fill="#22224e" opacity="0.9"/>
<ellipse cx="13.0" cy="47.7" rx="1.1" ry="0.8" transform="rotate(45 13.0 47.7)" fill="#2a2a62" opacity="0.9"/>
<ellipse cx="51.4" cy="32.3" rx="0.8" ry="0.8" transform="rotate(56 51.4 32.3)" fill="#22224e" opacity="0.9"/>
<ellipse cx="54.2" cy="33.6" rx="1.3" ry="1.0" transform="rotate(116 54.2 33.6)" fill="#2a2a62" opacity="0.9"/>
<ellipse cx="40.5" cy="59.9" rx="1.3" ry="0.8" transform="rotate(81 40.5 59.9)" fill="#2a2a62" opacity="0.9"/>
<ellipse cx="11.4" cy="43.7" rx="1.2" ry="0.6" transform="rotate(170 11.4 43.7)" fill="#22224e" opacity="0.9"/>
<ellipse cx="48.2" cy="24.3" rx="0.9" ry="1.0" transform="rotate(67 48.2 24.3)" fill="#22224e" opacity="0.9"/>
<ellipse cx="43.8" cy="25.0" rx="0.9" ry="0.7" transform="rotate(69 43.8 25.0)" fill="#22224e" opacity="0.9"/>
<ellipse cx="19.9" cy="25.1" rx="1.2" ry="0.7" transform="rotate(119 19.9 25.1)" fill="#22224e" opacity="0.9"/>
<ellipse cx="11.4" cy="34.4" rx="0.8" ry="0.9" transform="rotate(59 11.4 34.4)" fill="#22224e" opacity="0.9"/>
<ellipse cx="11.6" cy="37.0" rx="1.1" ry="0.7" transform="rotate(87 11.6 37.0)" fill="#2a2a62" opacity="0.9"/>
<ellipse cx="54.8" cy="38.2" rx="1.2" ry="0.7" transform="rotate(49 54.8 38.2)" fill="#22224e" opacity="0.9"/>
<ellipse cx="23.8" cy="20.7" rx="1.2" ry="0.9" transform="rotate(133 23.8 20.7)" fill="#2a2a62" opacity="0.9"/>
<ellipse cx="46.2" cy="55.0" rx="1.1" ry="0.9" transform="rotate(128 46.2 55.0)" fill="#2a2a62" opacity="0.9"/>
<ellipse cx="41.0" cy="59.5" rx="1.1" ry="0.7" transform="rotate(87 41.0 59.5)" fill="#2a2a62" opacity="0.9"/>
<ellipse cx="55.2" cy="47.5" rx="1.2" ry="0.8" transform="rotate(95 55.2 47.5)" fill="#2a2a62" opacity="0.9"/>
<ellipse cx="49.5" cy="29.8" rx="1.2" ry="0.8" transform="rotate(78 49.5 29.8)" fill="#2a2a62" opacity="0.9"/>
<ellipse cx="41.3" cy="19.9" rx="1.2" ry="0.8" transform="rotate(53 41.3 19.9)" fill="#2a2a62" opacity="0.9"/>
<ellipse cx="19.4" cy="55.7" rx="1.3" ry="1.0" transform="rotate(127 19.4 55.7)" fill="#2a2a62" opacity="0.9"/>
<ellipse cx="52.1" cy="49.5" rx="1.1" ry="0.9" transform="rotate(27 52.1 49.5)" fill="#2a2a62" opacity="0.9"/>
<ellipse cx="11.9" cy="47.7" rx="0.9" ry="0.6" transform="rotate(167 11.9 47.7)" fill="#22224e" opacity="0.9"/>
<ellipse cx="51.9" cy="32.2" rx="1.1" ry="0.6" transform="rotate(164 51.9 32.2)" fill="#22224e" opacity="0.9"/>
<ellipse cx="17.1" cy="25.5" rx="1.1" ry="0.7" transform="rotate(7 17.1 25.5)" fill="#2a2a62" opacity="0.9"/>
<ellipse cx="54.6" cy="37.0" rx="1.1" ry="0.8" transform="rotate(82 54.6 37.0)" fill="#2a2a62" opacity="0.9"/>
<ellipse cx="23.1" cy="21.1" rx="0.9" ry="0.9" transform="rotate(132 23.1 21.1)" fill="#2a2a62" opacity="0.9"/>
<ellipse cx="16.6" cy="53.9" rx="1.3" ry="0.9" transform="rotate(112 16.6 53.9)" fill="#2a2a62" opacity="0.9"/>
<ellipse cx="49.2" cy="51.3" rx="1.2" ry="0.7" transform="rotate(68 49.2 51.3)" fill="#2a2a62" opacity="0.9"/>
<ellipse cx="35.7" cy="21.8" rx="1.1" ry="1.0" transform="rotate(133 35.7 21.8)" fill="#22224e" opacity="0.9"/>
<ellipse cx="36.8" cy="60.3" rx="1.2" ry="0.7" transform="rotate(49 36.8 60.3)" fill="#22224e" opacity="0.9"/>
<ellipse cx="9.4" cy="45.1" rx="0.9" ry="0.9" transform="rotate(112 9.4 45.1)" fill="#2a2a62" opacity="0.9"/>
<ellipse cx="23.7" cy="20.5" rx="1.2" ry="0.6" transform="rotate(142 23.7 20.5)" fill="#2a2a62" opacity="0.9"/>
<ellipse cx="30.1" cy="20.3" rx="1.0" ry="0.8" transform="rotate(5 30.1 20.3)" fill="#2a2a62" opacity="0.9"/>
<ellipse cx="71.8" cy="45.0" rx="1.1" ry="0.9" transform="rotate(47 71.8 45.0)" fill="#363a7c" opacity="0.85"/>
<ellipse cx="67.9" cy="46.0" rx="1.3" ry="1.0" transform="rotate(47 67.9 46.0)" fill="#3c3e84" opacity="0.85"/>
<ellipse cx="71.1" cy="39.5" rx="1.2" ry="1.0" transform="rotate(113 71.1 39.5)" fill="#3c3e84" opacity="0.85"/>
<ellipse cx="75.1" cy="39.0" rx="0.8" ry="1.0" transform="rotate(48 75.1 39.0)" fill="#3c3e84" opacity="0.85"/>
<ellipse cx="71.4" cy="52.7" rx="0.9" ry="0.6" transform="rotate(89 71.4 52.7)" fill="#363a7c" opacity="0.85"/>
<ellipse cx="74.8" cy="41.7" rx="0.9" ry="0.6" transform="rotate(174 74.8 41.7)" fill="#2c2c66" opacity="0.85"/>
<ellipse cx="72.6" cy="46.6" rx="1.2" ry="1.0" transform="rotate(132 72.6 46.6)" fill="#363a7c" opacity="0.85"/>
<ellipse cx="76.8" cy="43.9" rx="1.0" ry="0.9" transform="rotate(16 76.8 43.9)" fill="#2c2c66" opacity="0.85"/>
<ellipse cx="72.9" cy="44.9" rx="1.1" ry="0.8" transform="rotate(31 72.9 44.9)" fill="#2c2c66" opacity="0.85"/>
<ellipse cx="69.6" cy="49.2" rx="1.2" ry="0.6" transform="rotate(111 69.6 49.2)" fill="#363a7c" opacity="0.85"/>
<ellipse cx="67.1" cy="45.7" rx="0.8" ry="0.9" transform="rotate(105 67.1 45.7)" fill="#363a7c" opacity="0.85"/>
<ellipse cx="71.8" cy="55.4" rx="1.2" ry="0.6" transform="rotate(2 71.8 55.4)" fill="#363a7c" opacity="0.85"/>
<ellipse cx="69.9" cy="38.9" rx="1.0" ry="0.8" transform="rotate(168 69.9 38.9)" fill="#3c3e84" opacity="0.85"/>
<ellipse cx="66.0" cy="49.5" rx="0.8" ry="0.8" transform="rotate(64 66.0 49.5)" fill="#363a7c" opacity="0.85"/>
<ellipse cx="71.5" cy="35.0" rx="0.9" ry="1.0" transform="rotate(105 71.5 35.0)" fill="#363a7c" opacity="0.85"/>
<ellipse cx="70.7" cy="45.7" rx="0.9" ry="0.9" transform="rotate(26 70.7 45.7)" fill="#363a7c" opacity="0.85"/>
<ellipse cx="67.1" cy="40.5" rx="0.8" ry="0.8" transform="rotate(13 67.1 40.5)" fill="#363a7c" opacity="0.85"/>
<ellipse cx="70.8" cy="54.7" rx="0.8" ry="0.7" transform="rotate(46 70.8 54.7)" fill="#3c3e84" opacity="0.85"/>
<ellipse cx="72.5" cy="35.7" rx="0.8" ry="0.7" transform="rotate(5 72.5 35.7)" fill="#3c3e84" opacity="0.85"/>
<ellipse cx="75.1" cy="48.1" rx="1.1" ry="0.8" transform="rotate(101 75.1 48.1)" fill="#3c3e84" opacity="0.85"/>
<ellipse cx="67.3" cy="35.7" rx="0.9" ry="0.8" transform="rotate(15 67.3 35.7)" fill="#2c2c66" opacity="0.85"/>
<ellipse cx="73.1" cy="33.1" rx="1.3" ry="0.8" transform="rotate(50 73.1 33.1)" fill="#363a7c" opacity="0.85"/>
<ellipse cx="69.1" cy="37.7" rx="1.0" ry="0.6" transform="rotate(12 69.1 37.7)" fill="#2c2c66" opacity="0.85"/>
<ellipse cx="72.5" cy="37.9" rx="1.2" ry="0.8" transform="rotate(132 72.5 37.9)" fill="#363a7c" opacity="0.85"/>
<ellipse cx="75.2" cy="38.9" rx="0.9" ry="0.9" transform="rotate(136 75.2 38.9)" fill="#2c2c66" opacity="0.85"/>
<ellipse cx="68.9" cy="33.8" rx="0.9" ry="0.6" transform="rotate(75 68.9 33.8)" fill="#2c2c66" opacity="0.85"/>
<ellipse cx="70.7" cy="51.3" rx="1.2" ry="0.9" transform="rotate(7 70.7 51.3)" fill="#3c3e84" opacity="0.85"/>
<ellipse cx="73.7" cy="49.7" rx="1.2" ry="1.0" transform="rotate(124 73.7 49.7)" fill="#3c3e84" opacity="0.85"/>
<ellipse cx="70.4" cy="39.3" rx="0.8" ry="0.8" transform="rotate(95 70.4 39.3)" fill="#2c2c66" opacity="0.85"/>
<ellipse cx="68.4" cy="49.0" rx="0.9" ry="0.7" transform="rotate(114 68.4 49.0)" fill="#2c2c66" opacity="0.85"/>
<ellipse cx="75.2" cy="42.9" rx="0.8" ry="0.9" transform="rotate(130 75.2 42.9)" fill="#363a7c" opacity="0.85"/>
<ellipse cx="72.6" cy="46.2" rx="1.1" ry="0.7" transform="rotate(110 72.6 46.2)" fill="#3c3e84" opacity="0.85"/>
<ellipse cx="67.6" cy="52.8" rx="1.3" ry="0.6" transform="rotate(85 67.6 52.8)" fill="#2c2c66" opacity="0.85"/>
<ellipse cx="69.3" cy="45.6" rx="1.0" ry="1.0" transform="rotate(140 69.3 45.6)" fill="#3c3e84" opacity="0.85"/>
<ellipse cx="74.1" cy="45.4" rx="0.8" ry="1.0" transform="rotate(161 74.1 45.4)" fill="#3c3e84" opacity="0.85"/>
<ellipse cx="68.1" cy="46.2" rx="1.0" ry="0.7" transform="rotate(136 68.1 46.2)" fill="#363a7c" opacity="0.85"/>
<ellipse cx="71.3" cy="52.6" rx="1.3" ry="0.9" transform="rotate(55 71.3 52.6)" fill="#363a7c" opacity="0.85"/>
<ellipse cx="66.4" cy="36.3" rx="0.9" ry="0.6" transform="rotate(103 66.4 36.3)" fill="#363a7c" opacity="0.85"/>
<ellipse cx="69.4" cy="41.9" rx="0.7" ry="0.7" transform="rotate(38 69.4 41.9)" fill="#3c3e84" opacity="0.85"/>
<ellipse cx="71.5" cy="45.9" rx="1.0" ry="1.0" transform="rotate(158 71.5 45.9)" fill="#2c2c66" opacity="0.85"/>
<ellipse cx="70.4" cy="51.1" rx="1.0" ry="0.8" transform="rotate(102 70.4 51.1)" fill="#3c3e84" opacity="0.85"/>
<ellipse cx="73.6" cy="53.6" rx="0.9" ry="0.7" transform="rotate(11 73.6 53.6)" fill="#2c2c66" opacity="0.85"/>
<ellipse cx="72.9" cy="54.7" rx="1.1" ry="0.7" transform="rotate(23 72.9 54.7)" fill="#3c3e84" opacity="0.85"/>
<ellipse cx="74.5" cy="52.9" rx="1.3" ry="0.7" transform="rotate(152 74.5 52.9)" fill="#2c2c66" opacity="0.85"/>
<ellipse cx="70.1" cy="31.4" rx="0.7" ry="0.9" transform="rotate(101 70.1 31.4)" fill="#2c2c66" opacity="0.85"/>
<ellipse cx="63.0" cy="32.3" rx="1.2" ry="0.7" transform="rotate(104 63.0 32.3)" fill="#22264e" opacity="0.85"/>
<ellipse cx="5.6" cy="59.5" rx="1.9" ry="0.7" transform="rotate(129 5.6 59.5)" fill="#22264e" opacity="0.85"/>
<ellipse cx="5.4" cy="69.3" rx="1.6" ry="0.9" transform="rotate(95 5.4 69.3)" fill="#383e72" opacity="0.85"/>
<ellipse cx="81.6" cy="33.7" rx="1.1" ry="0.9" transform="rotate(146 81.6 33.7)" fill="#383e72" opacity="0.85"/>
<ellipse cx="80.9" cy="34.4" rx="1.1" ry="0.5" transform="rotate(45 80.9 34.4)" fill="#383e72" opacity="0.85"/>
<ellipse cx="2.7" cy="2.2" rx="0.9" ry="0.6" transform="rotate(62 2.7 2.2)" fill="#383e72" opacity="0.85"/>
<ellipse cx="25.7" cy="13.9" rx="1.0" ry="0.5" transform="rotate(150 25.7 13.9)" fill="#22264e" opacity="0.85"/>
<ellipse cx="81.3" cy="64.3" rx="1.0" ry="0.9" transform="rotate(155 81.3 64.3)" fill="#22264e" opacity="0.85"/>
<ellipse cx="1.4" cy="43.9" rx="1.1" ry="0.9" transform="rotate(74 1.4 43.9)" fill="#22264e" opacity="0.85"/>
<ellipse cx="97.0" cy="55.0" rx="1.0" ry="0.9" transform="rotate(133 97.0 55.0)" fill="#1c2040" opacity="0.85"/>
<ellipse cx="56.6" cy="58.1" rx="1.4" ry="0.7" transform="rotate(95 56.6 58.1)" fill="#383e72" opacity="0.85"/>
<ellipse cx="84.1" cy="76.9" rx="0.9" ry="0.5" transform="rotate(147 84.1 76.9)" fill="#2c3262" opacity="0.85"/>
<ellipse cx="8.9" cy="68.7" rx="1.6" ry="0.5" transform="rotate(118 8.9 68.7)" fill="#1c2040" opacity="0.85"/>
<ellipse cx="91.3" cy="22.9" rx="1.4" ry="0.5" transform="rotate(139 91.3 22.9)" fill="#282c56" opacity="0.85"/>
<ellipse cx="88.6" cy="54.5" rx="1.8" ry="0.5" transform="rotate(0 88.6 54.5)" fill="#282c56" opacity="0.85"/>
<ellipse cx="4.6" cy="30.9" rx="1.7" ry="0.7" transform="rotate(0 4.6 30.9)" fill="#383e72" opacity="0.85"/>
<ellipse cx="6.0" cy="20.3" rx="1.8" ry="0.7" transform="rotate(139 6.0 20.3)" fill="#1c2040" opacity="0.85"/>
<ellipse cx="93.7" cy="47.9" rx="1.2" ry="0.8" transform="rotate(90 93.7 47.9)" fill="#282c56" opacity="0.85"/>
<ellipse cx="42.9" cy="66.9" rx="1.0" ry="0.9" transform="rotate(124 42.9 66.9)" fill="#282c56" opacity="0.85"/>
<ellipse cx="53.1" cy="13.3" rx="1.0" ry="0.9" transform="rotate(147 53.1 13.3)" fill="#2c3262" opacity="0.85"/>
<ellipse cx="93.5" cy="27.4" rx="1.5" ry="0.8" transform="rotate(142 93.5 27.4)" fill="#282c56" opacity="0.85"/>
<ellipse cx="96.3" cy="10.5" rx="0.9" ry="0.9" transform="rotate(56 96.3 10.5)" fill="#2c3262" opacity="0.85"/>
<ellipse cx="76.1" cy="54.9" rx="1.9" ry="0.8" transform="rotate(60 76.1 54.9)" fill="#383e72" opacity="0.85"/>
<ellipse cx="31.0" cy="7.1" rx="1.3" ry="0.6" transform="rotate(90 31.0 7.1)" fill="#2c3262" opacity="0.85"/>
<ellipse cx="96.7" cy="70.1" rx="1.6" ry="0.8" transform="rotate(154 96.7 70.1)" fill="#1c2040" opacity="0.85"/>
<ellipse cx="47.7" cy="8.1" rx="1.0" ry="0.9" transform="rotate(162 47.7 8.1)" fill="#1c2040" opacity="0.85"/>
<ellipse cx="4.5" cy="15.9" rx="1.5" ry="0.7" transform="rotate(64 4.5 15.9)" fill="#22264e" opacity="0.85"/>
<ellipse cx="15.4" cy="3.8" rx="1.7" ry="0.5" transform="rotate(124 15.4 3.8)" fill="#282c56" opacity="0.85"/>
<ellipse cx="78.8" cy="6.5" rx="1.7" ry="0.5" transform="rotate(128 78.8 6.5)" fill="#282c56" opacity="0.85"/>
<ellipse cx="45.2" cy="2.9" rx="1.7" ry="0.7" transform="rotate(97 45.2 2.9)" fill="#1c2040" opacity="0.85"/>
<ellipse cx="96.1" cy="75.8" rx="1.6" ry="0.7" transform="rotate(18 96.1 75.8)" fill="#282c56" opacity="0.85"/>
<ellipse cx="71.5" cy="53.6" rx="1.9" ry="0.9" transform="rotate(111 71.5 53.6)" fill="#22264e" opacity="0.85"/>
<ellipse cx="62.5" cy="48.5" rx="1.9" ry="0.5" transform="rotate(62 62.5 48.5)" fill="#22264e" opacity="0.85"/>
<ellipse cx="58.5" cy="72.3" rx="1.8" ry="0.5" transform="rotate(65 58.5 72.3)" fill="#1c2040" opacity="0.85"/>
<ellipse cx="20.1" cy="7.7" rx="1.6" ry="0.8" transform="rotate(67 20.1 7.7)" fill="#383e72" opacity="0.85"/>
<ellipse cx="89.8" cy="11.3" rx="1.6" ry="0.7" transform="rotate(157 89.8 11.3)" fill="#2c3262" opacity="0.85"/>
<ellipse cx="63.9" cy="2.2" rx="1.3" ry="0.6" transform="rotate(65 63.9 2.2)" fill="#282c56" opacity="0.85"/>
<ellipse cx="97.4" cy="45.4" rx="1.4" ry="0.6" transform="rotate(125 97.4 45.4)" fill="#383e72" opacity="0.85"/>
<ellipse cx="89.4" cy="65.7" rx="1.0" ry="0.7" transform="rotate(59 89.4 65.7)" fill="#383e72" opacity="0.85"/>
<ellipse cx="96.5" cy="60.2" rx="1.1" ry="0.7" transform="rotate(120 96.5 60.2)" fill="#383e72" opacity="0.85"/>
<ellipse cx="1.7" cy="40.0" rx="1.4" ry="0.5" transform="rotate(6 1.7 40.0)" fill="#22264e" opacity="0.85"/>
<ellipse cx="71.4" cy="6.0" rx="1.0" ry="0.9" transform="rotate(97 71.4 6.0)" fill="#22264e" opacity="0.85"/>
<ellipse cx="96.0" cy="70.4" rx="0.9" ry="0.6" transform="rotate(25 96.0 70.4)" fill="#2c3262" opacity="0.85"/>
<ellipse cx="72.5" cy="34.8" rx="1.7" ry="0.6" transform="rotate(71 72.5 34.8)" fill="#282c56" opacity="0.85"/>
<ellipse cx="71.5" cy="72.1" rx="1.7" ry="0.8" transform="rotate(162 71.5 72.1)" fill="#282c56" opacity="0.85"/>
<ellipse cx="90.6" cy="44.0" rx="1.6" ry="0.8" transform="rotate(5 90.6 44.0)" fill="#383e72" opacity="0.85"/>
<ellipse cx="40.9" cy="68.2" rx="1.3" ry="0.5" transform="rotate(138 40.9 68.2)" fill="#22264e" opacity="0.85"/>
<ellipse cx="9.0" cy="7.8" rx="1.1" ry="0.8" transform="rotate(20 9.0 7.8)" fill="#1c2040" opacity="0.85"/>
<ellipse cx="12.2" cy="66.2" rx="1.7" ry="0.9" transform="rotate(8 12.2 66.2)" fill="#22264e" opacity="0.85"/>
<ellipse cx="41.0" cy="5.9" rx="1.6" ry="0.9" transform="rotate(97 41.0 5.9)" fill="#383e72" opacity="0.85"/>
<ellipse cx="83.2" cy="64.0" rx="1.8" ry="0.8" transform="rotate(28 83.2 64.0)" fill="#22264e" opacity="0.85"/>
<ellipse cx="23.9" cy="14.3" rx="1.1" ry="0.5" transform="rotate(147 23.9 14.3)" fill="#1c2040" opacity="0.85"/>
<ellipse cx="64.1" cy="48.0" rx="1.4" ry="0.8" transform="rotate(29 64.1 48.0)" fill="#2c3262" opacity="0.85"/>
<ellipse cx="1.9" cy="32.9" rx="1.8" ry="0.7" transform="rotate(96 1.9 32.9)" fill="#383e72" opacity="0.85"/>
<ellipse cx="82.5" cy="24.7" rx="1.7" ry="0.5" transform="rotate(164 82.5 24.7)" fill="#22264e" opacity="0.85"/>
<ellipse cx="63.7" cy="69.3" rx="1.4" ry="0.9" transform="rotate(100 63.7 69.3)" fill="#383e72" opacity="0.85"/>
<ellipse cx="3.5" cy="12.6" rx="0.9" ry="0.5" transform="rotate(41 3.5 12.6)" fill="#2c3262" opacity="0.85"/>
<ellipse cx="82.5" cy="66.1" rx="1.3" ry="0.8" transform="rotate(43 82.5 66.1)" fill="#282c56" opacity="0.85"/>
<ellipse cx="64.3" cy="5.4" rx="1.6" ry="0.6" transform="rotate(85 64.3 5.4)" fill="#383e72" opacity="0.85"/>
<ellipse cx="95.1" cy="36.5" rx="1.1" ry="0.5" transform="rotate(11 95.1 36.5)" fill="#383e72" opacity="0.85"/>
<ellipse cx="26.5" cy="73.2" rx="1.9" ry="0.8" transform="rotate(70 26.5 73.2)" fill="#383e72" opacity="0.85"/>
<ellipse cx="48.9" cy="73.3" rx="1.8" ry="0.6" transform="rotate(90 48.9 73.3)" fill="#2c3262" opacity="0.85"/>
<ellipse cx="87.4" cy="60.6" rx="1.9" ry="0.7" transform="rotate(5 87.4 60.6)" fill="#282c56" opacity="0.85"/>
<ellipse cx="43.9" cy="74.3" rx="1.4" ry="0.5" transform="rotate(141 43.9 74.3)" fill="#2c3262" opacity="0.85"/>
<ellipse cx="36.3" cy="6.5" rx="1.7" ry="0.7" transform="rotate(72 36.3 6.5)" fill="#383e72" opacity="0.85"/>
<ellipse cx="32.8" cy="7.0" rx="1.8" ry="0.9" transform="rotate(61 32.8 7.0)" fill="#282c56" opacity="0.85"/>
<ellipse cx="90.4" cy="38.8" rx="0.9" ry="0.7" transform="rotate(45 90.4 38.8)" fill="#22264e" opacity="0.85"/>
<ellipse cx="94.0" cy="57.1" rx="1.0" ry="0.7" transform="rotate(111 94.0 57.1)" fill="#282c56" opacity="0.85"/>
<ellipse cx="40.3" cy="0.4" rx="1.4" ry="0.9" transform="rotate(0 40.3 0.4)" fill="#282c56" opacity="0.85"/>
<ellipse cx="2.2" cy="35.8" rx="1.0" ry="0.9" transform="rotate(58 2.2 35.8)" fill="#282c56" opacity="0.85"/>
<ellipse cx="1.9" cy="42.4" rx="1.6" ry="0.9" transform="rotate(113 1.9 42.4)" fill="#1c2040" opacity="0.85"/>
<ellipse cx="69.3" cy="2.0" rx="1.5" ry="0.7" transform="rotate(110 69.3 2.0)" fill="#383e72" opacity="0.85"/>
<ellipse cx="28.3" cy="12.7" rx="1.5" ry="0.9" transform="rotate(80 28.3 12.7)" fill="#1c2040" opacity="0.85"/>
<ellipse cx="78.0" cy="41.8" rx="1.2" ry="0.8" transform="rotate(106 78.0 41.8)" fill="#383e72" opacity="0.85"/>
<ellipse cx="73.4" cy="59.5" rx="1.3" ry="0.8" transform="rotate(155 73.4 59.5)" fill="#383e72" opacity="0.85"/>
<ellipse cx="89.8" cy="68.6" rx="1.0" ry="0.8" transform="rotate(86 89.8 68.6)" fill="#383e72" opacity="0.85"/>
<ellipse cx="70.8" cy="32.1" rx="1.2" ry="0.6" transform="rotate(18 70.8 32.1)" fill="#282c56" opacity="0.85"/>
<ellipse cx="84.2" cy="49.4" rx="1.3" ry="0.7" transform="rotate(116 84.2 49.4)" fill="#2c3262" opacity="0.85"/>
<ellipse cx="63.5" cy="15.9" rx="1.8" ry="0.5" transform="rotate(136 63.5 15.9)" fill="#22264e" opacity="0.85"/>
<ellipse cx="89.3" cy="17.2" rx="1.3" ry="0.6" transform="rotate(23 89.3 17.2)" fill="#282c56" opacity="0.85"/>
<ellipse cx="7.8" cy="60.9" rx="1.1" ry="0.7" transform="rotate(48 7.8 60.9)" fill="#282c56" opacity="0.85"/>
<ellipse cx="91.5" cy="29.2" rx="1.4" ry="0.8" transform="rotate(103 91.5 29.2)" fill="#282c56" opacity="0.85"/>
<ellipse cx="11.0" cy="6.3" rx="1.1" ry="0.9" transform="rotate(81 11.0 6.3)" fill="#22264e" opacity="0.85"/>
<ellipse cx="45.7" cy="74.8" rx="1.7" ry="0.7" transform="rotate(28 45.7 74.8)" fill="#1c2040" opacity="0.85"/>
<ellipse cx="80.1" cy="51.9" rx="1.1" ry="0.9" transform="rotate(49 80.1 51.9)" fill="#22264e" opacity="0.85"/>
<ellipse cx="31.7" cy="73.2" rx="1.7" ry="0.7" transform="rotate(79 31.7 73.2)" fill="#22264e" opacity="0.85"/>
<ellipse cx="34.4" cy="13.8" rx="1.1" ry="0.5" transform="rotate(132 34.4 13.8)" fill="#383e72" opacity="0.85"/>
<ellipse cx="85.7" cy="3.8" rx="1.5" ry="0.7" transform="rotate(63 85.7 3.8)" fill="#22264e" opacity="0.85"/>
<ellipse cx="72.2" cy="34.9" rx="1.3" ry="0.9" transform="rotate(38 72.2 34.9)" fill="#22264e" opacity="0.85"/>
<ellipse cx="88.8" cy="13.4" rx="1.2" ry="0.7" transform="rotate(119 88.8 13.4)" fill="#282c56" opacity="0.85"/>
<ellipse cx="59.4" cy="10.1" rx="1.9" ry="0.7" transform="rotate(78 59.4 10.1)" fill="#2c3262" opacity="0.85"/>
<ellipse cx="47.2" cy="71.2" rx="0.9" ry="0.6" transform="rotate(150 47.2 71.2)" fill="#383e72" opacity="0.85"/>
<ellipse cx="50.2" cy="66.4" rx="1.4" ry="0.9" transform="rotate(36 50.2 66.4)" fill="#22264e" opacity="0.85"/>
<ellipse cx="74.1" cy="31.8" rx="1.6" ry="0.6" transform="rotate(128 74.1 31.8)" fill="#282c56" opacity="0.85"/>
<ellipse cx="43.5" cy="1.0" rx="1.7" ry="0.5" transform="rotate(162 43.5 1.0)" fill="#2c3262" opacity="0.85"/>
<ellipse cx="74.0" cy="50.7" rx="1.4" ry="0.8" transform="rotate(50 74.0 50.7)" fill="#2c3262" opacity="0.85"/>
<ellipse cx="88.3" cy="20.6" rx="1.9" ry="0.6" transform="rotate(21 88.3 20.6)" fill="#282c56" opacity="0.85"/>
<ellipse cx="0.7" cy="48.9" rx="1.4" ry="0.5" transform="rotate(7 0.7 48.9)" fill="#282c56" opacity="0.85"/>
<ellipse cx="45.7" cy="10.7" rx="1.0" ry="0.6" transform="rotate(64 45.7 10.7)" fill="#282c56" opacity="0.85"/>
<ellipse cx="71.9" cy="56.9" rx="1.1" ry="0.6" transform="rotate(64 71.9 56.9)" fill="#1c2040" opacity="0.85"/>
<ellipse cx="77.1" cy="23.8" rx="1.6" ry="0.7" transform="rotate(162 77.1 23.8)" fill="#383e72" opacity="0.85"/>
<ellipse cx="91.9" cy="1.2" rx="1.7" ry="0.9" transform="rotate(59 91.9 1.2)" fill="#1c2040" opacity="0.85"/>
<ellipse cx="65.1" cy="14.2" rx="1.8" ry="0.5" transform="rotate(109 65.1 14.2)" fill="#22264e" opacity="0.85"/>
<ellipse cx="1.8" cy="46.3" rx="1.2" ry="0.8" transform="rotate(159 1.8 46.3)" fill="#282c56" opacity="0.85"/>
<ellipse cx="72.6" cy="65.2" rx="1.4" ry="0.5" transform="rotate(61 72.6 65.2)" fill="#282c56" opacity="0.85"/>
<ellipse cx="75.6" cy="50.2" rx="1.4" ry="0.7" transform="rotate(121 75.6 50.2)" fill="#2c3262" opacity="0.85"/>
<ellipse cx="58.4" cy="21.8" rx="1.8" ry="0.6" transform="rotate(163 58.4 21.8)" fill="#383e72" opacity="0.85"/>
<ellipse cx="42.1" cy="67.4" rx="1.3" ry="0.9" transform="rotate(156 42.1 67.4)" fill="#1c2040" opacity="0.85"/>
<ellipse cx="25.7" cy="5.9" rx="1.7" ry="0.6" transform="rotate(66 25.7 5.9)" fill="#22264e" opacity="0.85"/>
<ellipse cx="57.8" cy="22.9" rx="1.7" ry="0.6" transform="rotate(154 57.8 22.9)" fill="#282c56" opacity="0.85"/>
<ellipse cx="51.9" cy="18.0" rx="1.6" ry="0.6" transform="rotate(146 51.9 18.0)" fill="#2c3262" opacity="0.85"/>
<ellipse cx="62.7" cy="27.7" rx="1.4" ry="0.6" transform="rotate(91 62.7 27.7)" fill="#1c2040" opacity="0.85"/>
<ellipse cx="21.3" cy="5.5" rx="1.5" ry="0.9" transform="rotate(99 21.3 5.5)" fill="#22264e" opacity="0.85"/>
<ellipse cx="46.8" cy="66.6" rx="1.0" ry="0.8" transform="rotate(166 46.8 66.6)" fill="#383e72" opacity="0.85"/>
<ellipse cx="52.3" cy="61.8" rx="1.3" ry="0.8" transform="rotate(110 52.3 61.8)" fill="#282c56" opacity="0.85"/>
<ellipse cx="7.0" cy="1.6" rx="1.7" ry="0.8" transform="rotate(132 7.0 1.6)" fill="#2c3262" opacity="0.85"/>
<ellipse cx="94.7" cy="58.2" rx="1.0" ry="0.9" transform="rotate(19 94.7 58.2)" fill="#1c2040" opacity="0.85"/>
<ellipse cx="39.3" cy="72.3" rx="1.1" ry="0.8" transform="rotate(172 39.3 72.3)" fill="#282c56" opacity="0.85"/>
<ellipse cx="63.7" cy="2.3" rx="1.7" ry="0.6" transform="rotate(95 63.7 2.3)" fill="#2c3262" opacity="0.85"/>
<ellipse cx="47.4" cy="73.4" rx="1.8" ry="0.8" transform="rotate(178 47.4 73.4)" fill="#282c56" opacity="0.85"/>
<ellipse cx="0.2" cy="72.2" rx="1.7" ry="0.7" transform="rotate(48 0.2 72.2)" fill="#22264e" opacity="0.85"/>
<ellipse cx="11.3" cy="18.9" rx="1.7" ry="0.9" transform="rotate(132 11.3 18.9)" fill="#22264e" opacity="0.85"/>
<ellipse cx="49.3" cy="15.1" rx="1.1" ry="0.7" transform="rotate(57 49.3 15.1)" fill="#383e72" opacity="0.85"/>
<ellipse cx="43.4" cy="9.5" rx="1.5" ry="0.7" transform="rotate(164 43.4 9.5)" fill="#1c2040" opacity="0.85"/>
<ellipse cx="24.6" cy="10.3" rx="1.2" ry="0.5" transform="rotate(142 24.6 10.3)" fill="#2c3262" opacity="0.85"/>
<ellipse cx="19.7" cy="10.3" rx="1.6" ry="0.8" transform="rotate(159 19.7 10.3)" fill="#383e72" opacity="0.85"/>
<ellipse cx="8.0" cy="3.0" rx="1.7" ry="0.9" transform="rotate(39 8.0 3.0)" fill="#22264e" opacity="0.85"/>
<ellipse cx="79.1" cy="34.8" rx="1.3" ry="0.6" transform="rotate(124 79.1 34.8)" fill="#22264e" opacity="0.85"/>
<ellipse cx="59.5" cy="27.4" rx="1.8" ry="0.7" transform="rotate(3 59.5 27.4)" fill="#2c3262" opacity="0.85"/>
<ellipse cx="65.5" cy="7.7" rx="1.2" ry="0.7" transform="rotate(82 65.5 7.7)" fill="#383e72" opacity="0.85"/>
<ellipse cx="89.1" cy="19.4" rx="1.2" ry="0.9" transform="rotate(76 89.1 19.4)" fill="#383e72" opacity="0.85"/>
<ellipse cx="93.5" cy="47.2" rx="1.4" ry="0.8" transform="rotate(178 93.5 47.2)" fill="#1c2040" opacity="0.85"/>
<ellipse cx="4.3" cy="51.6" rx="1.6" ry="0.7" transform="rotate(156 4.3 51.6)" fill="#383e72" opacity="0.85"/>
<ellipse cx="20.4" cy="2.4" rx="1.0" ry="0.7" transform="rotate(58 20.4 2.4)" fill="#1c2040" opacity="0.85"/>
<ellipse cx="73.4" cy="12.7" rx="1.2" ry="0.7" transform="rotate(83 73.4 12.7)" fill="#22264e" opacity="0.85"/>
<ellipse cx="81.3" cy="44.3" rx="1.6" ry="0.9" transform="rotate(104 81.3 44.3)" fill="#1c2040" opacity="0.85"/>
<ellipse cx="75.6" cy="74.7" rx="1.6" ry="0.9" transform="rotate(5 75.6 74.7)" fill="#22264e" opacity="0.85"/>
<ellipse cx="15.7" cy="11.2" rx="1.7" ry="0.9" transform="rotate(152 15.7 11.2)" fill="#22264e" opacity="0.85"/>
<ellipse cx="89.6" cy="49.1" rx="1.0" ry="0.7" transform="rotate(176 89.6 49.1)" fill="#282c56" opacity="0.85"/>
<ellipse cx="56.7" cy="4.8" rx="1.3" ry="0.5" transform="rotate(65 56.7 4.8)" fill="#1c2040" opacity="0.85"/>
<ellipse cx="82.2" cy="1.4" rx="1.0" ry="0.9" transform="rotate(142 82.2 1.4)" fill="#2c3262" opacity="0.85"/>
<ellipse cx="34.8" cy="2.8" rx="1.0" ry="0.6" transform="rotate(118 34.8 2.8)" fill="#1c2040" opacity="0.85"/>
<ellipse cx="5.2" cy="69.4" rx="1.7" ry="0.8" transform="rotate(133 5.2 69.4)" fill="#22264e" opacity="0.85"/>
<ellipse cx="91.2" cy="12.8" rx="1.5" ry="0.8" transform="rotate(38 91.2 12.8)" fill="#1c2040" opacity="0.85"/>
<ellipse cx="85.9" cy="40.1" rx="1.0" ry="0.6" transform="rotate(38 85.9 40.1)" fill="#282c56" opacity="0.85"/>
<ellipse cx="91.6" cy="56.7" rx="1.3" ry="0.5" transform="rotate(77 91.6 56.7)" fill="#1c2040" opacity="0.85"/>
<ellipse cx="62.5" cy="21.8" rx="1.4" ry="0.8" transform="rotate(92 62.5 21.8)" fill="#1c2040" opacity="0.85"/>
<ellipse cx="73.7" cy="62.1" rx="1.4" ry="0.9" transform="rotate(125 73.7 62.1)" fill="#22264e" opacity="0.85"/>
<ellipse cx="43.2" cy="73.2" rx="1.9" ry="0.7" transform="rotate(57 43.2 73.2)" fill="#282c56" opacity="0.85"/>
<ellipse cx="87.8" cy="58.0" rx="1.3" ry="0.5" transform="rotate(34 87.8 58.0)" fill="#282c56" opacity="0.85"/>
<ellipse cx="88.7" cy="76.1" rx="1.0" ry="0.6" transform="rotate(130 88.7 76.1)" fill="#282c56" opacity="0.85"/>
<ellipse cx="3.6" cy="20.6" rx="1.0" ry="0.5" transform="rotate(107 3.6 20.6)" fill="#1c2040" opacity="0.85"/>
<ellipse cx="92.8" cy="42.7" rx="1.5" ry="0.6" transform="rotate(42 92.8 42.7)" fill="#383e72" opacity="0.85"/>
<ellipse cx="5.1" cy="61.7" rx="1.5" ry="0.9" transform="rotate(41 5.1 61.7)" fill="#2c3262" opacity="0.85"/>
<ellipse cx="79.4" cy="41.4" rx="1.3" ry="0.5" transform="rotate(94 79.4 41.4)" fill="#22264e" opacity="0.85"/>
<ellipse cx="65.8" cy="3.1" rx="1.3" ry="0.6" transform="rotate(149 65.8 3.1)" fill="#22264e" opacity="0.85"/>
<ellipse cx="37.1" cy="10.0" rx="1.6" ry="0.9" transform="rotate(180 37.1 10.0)" fill="#1c2040" opacity="0.85"/>
<ellipse cx="49.3" cy="4.6" rx="1.0" ry="0.5" transform="rotate(7 49.3 4.6)" fill="#22264e" opacity="0.85"/>
<ellipse cx="24.9" cy="5.6" rx="1.4" ry="0.5" transform="rotate(28 24.9 5.6)" fill="#282c56" opacity="0.85"/>
<ellipse cx="47.3" cy="71.5" rx="1.4" ry="0.6" transform="rotate(102 47.3 71.5)" fill="#1c2040" opacity="0.85"/>
<ellipse cx="74.3" cy="67.1" rx="1.8" ry="0.9" transform="rotate(35 74.3 67.1)" fill="#282c56" opacity="0.85"/>
<ellipse cx="93.7" cy="62.4" rx="1.1" ry="0.5" transform="rotate(123 93.7 62.4)" fill="#2c3262" opacity="0.85"/>
<ellipse cx="82.2" cy="33.5" rx="1.0" ry="0.6" transform="rotate(4 82.2 33.5)" fill="#1c2040" opacity="0.85"/>
<ellipse cx="89.8" cy="14.6" rx="1.5" ry="0.6" transform="rotate(149 89.8 14.6)" fill="#1c2040" opacity="0.85"/>
<ellipse cx="91.2" cy="30.5" rx="1.1" ry="0.8" transform="rotate(143 91.2 30.5)" fill="#1c2040" opacity="0.85"/>
<ellipse cx="2.4" cy="3.0" rx="1.5" ry="0.9" transform="rotate(54 2.4 3.0)" fill="#1c2040" opacity="0.85"/>
<ellipse cx="95.4" cy="69.2" rx="1.2" ry="0.8" transform="rotate(135 95.4 69.2)" fill="#383e72" opacity="0.85"/>
<ellipse cx="17.1" cy="7.6" rx="1.4" ry="0.5" transform="rotate(13 17.1 7.6)" fill="#383e72" opacity="0.85"/>
<ellipse cx="0.5" cy="40.5" rx="1.5" ry="0.9" transform="rotate(103 0.5 40.5)" fill="#2c3262" opacity="0.85"/>
<ellipse cx="86.9" cy="8.2" rx="1.5" ry="0.5" transform="rotate(13 86.9 8.2)" fill="#383e72" opacity="0.85"/>
<ellipse cx="6.2" cy="63.9" rx="1.6" ry="0.8" transform="rotate(152 6.2 63.9)" fill="#1c2040" opacity="0.85"/>
<ellipse cx="19.4" cy="6.5" rx="1.2" ry="0.6" transform="rotate(168 19.4 6.5)" fill="#282c56" opacity="0.85"/>
<ellipse cx="4.5" cy="74.4" rx="1.3" ry="0.9" transform="rotate(38 4.5 74.4)" fill="#282c56" opacity="0.85"/>
<ellipse cx="74.1" cy="43.3" rx="1.3" ry="0.9" transform="rotate(81 74.1 43.3)" fill="#2c3262" opacity="0.85"/>
<ellipse cx="73.1" cy="10.1" rx="1.6" ry="0.5" transform="rotate(110 73.1 10.1)" fill="#282c56" opacity="0.85"/>
<ellipse cx="25.2" cy="76.7" rx="1.4" ry="0.9" transform="rotate(178 25.2 76.7)" fill="#1c2040" opacity="0.85"/>
<ellipse cx="73.3" cy="51.3" rx="1.1" ry="0.5" transform="rotate(6 73.3 51.3)" fill="#383e72" opacity="0.85"/>
<ellipse cx="62.1" cy="65.9" rx="1.3" ry="0.6" transform="rotate(48 62.1 65.9)" fill="#2c3262" opacity="0.85"/>
<ellipse cx="96.3" cy="52.3" rx="1.0" ry="0.5" transform="rotate(78 96.3 52.3)" fill="#2c3262" opacity="0.85"/>
<ellipse cx="55.0" cy="74.2" rx="1.7" ry="0.9" transform="rotate(172 55.0 74.2)" fill="#22264e" opacity="0.85"/>
<ellipse cx="84.0" cy="65.2" rx="1.6" ry="0.6" transform="rotate(174 84.0 65.2)" fill="#2c3262" opacity="0.85"/>
<ellipse cx="22.5" cy="76.4" rx="1.2" ry="0.6" transform="rotate(99 22.5 76.4)" fill="#2c3262" opacity="0.85"/>
<ellipse cx="5.1" cy="9.9" rx="0.9" ry="0.6" transform="rotate(68 5.1 9.9)" fill="#383e72" opacity="0.85"/>
<ellipse cx="76.2" cy="8.6" rx="1.8" ry="0.7" transform="rotate(37 76.2 8.6)" fill="#1c2040" opacity="0.85"/>
<ellipse cx="96.4" cy="19.2" rx="1.5" ry="0.5" transform="rotate(165 96.4 19.2)" fill="#282c56" opacity="0.85"/>
<ellipse cx="97.2" cy="33.7" rx="1.0" ry="0.7" transform="rotate(54 97.2 33.7)" fill="#1c2040" opacity="0.85"/>
<ellipse cx="75.1" cy="17.8" rx="1.2" ry="0.9" transform="rotate(96 75.1 17.8)" fill="#282c56" opacity="0.85"/>
<ellipse cx="94.5" cy="42.4" rx="1.7" ry="0.5" transform="rotate(12 94.5 42.4)" fill="#282c56" opacity="0.85"/>
<ellipse cx="46.4" cy="13.6" rx="1.6" ry="0.6" transform="rotate(177 46.4 13.6)" fill="#2c3262" opacity="0.85"/>
<ellipse cx="68.5" cy="22.5" rx="1.9" ry="0.5" transform="rotate(79 68.5 22.5)" fill="#22264e" opacity="0.85"/>
<ellipse cx="65.2" cy="52.0" rx="1.5" ry="0.7" transform="rotate(5 65.2 52.0)" fill="#1c2040" opacity="0.85"/>
<ellipse cx="65.1" cy="52.8" rx="1.6" ry="0.6" transform="rotate(117 65.1 52.8)" fill="#282c56" opacity="0.85"/>
<ellipse cx="97.0" cy="34.9" rx="1.7" ry="0.8" transform="rotate(23 97.0 34.9)" fill="#22264e" opacity="0.85"/>
<ellipse cx="35.1" cy="1.0" rx="1.6" ry="0.9" transform="rotate(180 35.1 1.0)" fill="#22264e" opacity="0.85"/>
<ellipse cx="23.3" cy="75.8" rx="1.3" ry="0.6" transform="rotate(177 23.3 75.8)" fill="#22264e" opacity="0.85"/>
<ellipse cx="97.4" cy="75.3" rx="1.1" ry="0.7" transform="rotate(35 97.4 75.3)" fill="#2c3262" opacity="0.85"/>
<ellipse cx="76.4" cy="16.9" rx="1.0" ry="0.5" transform="rotate(144 76.4 16.9)" fill="#383e72" opacity="0.85"/>
<ellipse cx="78.6" cy="73.8" rx="1.7" ry="0.9" transform="rotate(43 78.6 73.8)" fill="#2c3262" opacity="0.85"/>
<ellipse cx="13.3" cy="15.8" rx="1.2" ry="0.6" transform="rotate(11 13.3 15.8)" fill="#1c2040" opacity="0.85"/>
<ellipse cx="88.2" cy="56.5" rx="1.1" ry="0.8" transform="rotate(152 88.2 56.5)" fill="#2c3262" opacity="0.85"/>
<ellipse cx="4.9" cy="13.6" rx="1.7" ry="0.7" transform="rotate(125 4.9 13.6)" fill="#22264e" opacity="0.85"/>
<ellipse cx="71.9" cy="69.0" rx="1.2" ry="0.9" transform="rotate(42 71.9 69.0)" fill="#282c56" opacity="0.85"/>
<ellipse cx="81.5" cy="58.3" rx="1.9" ry="0.7" transform="rotate(33 81.5 58.3)" fill="#1c2040" opacity="0.85"/>
<ellipse cx="70.2" cy="30.1" rx="1.0" ry="0.5" transform="rotate(69 70.2 30.1)" fill="#2c3262" opacity="0.85"/>
<ellipse cx="45.5" cy="18.0" rx="1.3" ry="0.9" transform="rotate(4 45.5 18.0)" fill="#2c3262" opacity="0.85"/>
<ellipse cx="77.3" cy="31.8" rx="1.3" ry="0.5" transform="rotate(32 77.3 31.8)" fill="#2c3262" opacity="0.85"/>
<ellipse cx="48.0" cy="65.8" rx="1.4" ry="0.7" transform="rotate(167 48.0 65.8)" fill="#282c56" opacity="0.85"/>
<ellipse cx="82.0" cy="64.5" rx="1.4" ry="0.7" transform="rotate(24 82.0 64.5)" fill="#2c3262" opacity="0.85"/>
<ellipse cx="14.7" cy="18.4" rx="0.9" ry="0.8" transform="rotate(34 14.7 18.4)" fill="#1c2040" opacity="0.85"/>
<ellipse cx="82.4" cy="40.6" rx="1.3" ry="0.7" transform="rotate(29 82.4 40.6)" fill="#22264e" opacity="0.85"/>
<ellipse cx="12.8" cy="75.8" rx="0.9" ry="0.6" transform="rotate(2 12.8 75.8)" fill="#1c2040" opacity="0.85"/>
<ellipse cx="68.7" cy="43.9" rx="1.9" ry="0.5" transform="rotate(126 68.7 43.9)" fill="#22264e" opacity="0.85"/>
<ellipse cx="78.9" cy="15.3" rx="1.0" ry="0.5" transform="rotate(161 78.9 15.3)" fill="#383e72" opacity="0.85"/>
<ellipse cx="94.0" cy="45.7" rx="1.4" ry="0.6" transform="rotate(36 94.0 45.7)" fill="#282c56" opacity="0.85"/>
<ellipse cx="78.1" cy="34.7" rx="1.4" ry="0.8" transform="rotate(117 78.1 34.7)" fill="#282c56" opacity="0.85"/>
<ellipse cx="2.4" cy="29.8" rx="1.3" ry="0.5" transform="rotate(21 2.4 29.8)" fill="#383e72" opacity="0.85"/>
<ellipse cx="59.2" cy="71.0" rx="1.2" ry="0.9" transform="rotate(146 59.2 71.0)" fill="#1c2040" opacity="0.85"/>
<ellipse cx="6.0" cy="62.6" rx="1.1" ry="0.9" transform="rotate(134 6.0 62.6)" fill="#22264e" opacity="0.85"/>
<ellipse cx="68.0" cy="41.9" rx="1.0" ry="0.8" transform="rotate(80 68.0 41.9)" fill="#383e72" opacity="0.85"/>
<ellipse cx="58.4" cy="12.2" rx="1.8" ry="0.9" transform="rotate(153 58.4 12.2)" fill="#2c3262" opacity="0.85"/>
<ellipse cx="64.9" cy="47.8" rx="1.3" ry="0.8" transform="rotate(94 64.9 47.8)" fill="#22264e" opacity="0.85"/>
<ellipse cx="78.1" cy="39.0" rx="1.5" ry="0.9" transform="rotate(159 78.1 39.0)" fill="#282c56" opacity="0.85"/>
<ellipse cx="19.2" cy="14.5" rx="1.2" ry="0.9" transform="rotate(39 19.2 14.5)" fill="#282c56" opacity="0.85"/>
<ellipse cx="73.9" cy="22.2" rx="0.9" ry="0.9" transform="rotate(76 73.9 22.2)" fill="#282c56" opacity="0.85"/>
<ellipse cx="90.8" cy="30.7" rx="1.4" ry="0.8" transform="rotate(119 90.8 30.7)" fill="#22264e" opacity="0.85"/>
<ellipse cx="7.8" cy="5.9" rx="1.1" ry="0.7" transform="rotate(158 7.8 5.9)" fill="#22264e" opacity="0.85"/>
<ellipse cx="84.3" cy="41.1" rx="1.4" ry="0.6" transform="rotate(97 84.3 41.1)" fill="#2c3262" opacity="0.85"/>
<ellipse cx="63.7" cy="10.4" rx="1.1" ry="0.6" transform="rotate(53 63.7 10.4)" fill="#282c56" opacity="0.85"/>
<ellipse cx="40.4" cy="4.7" rx="0.9" ry="0.5" transform="rotate(17 40.4 4.7)" fill="#282c56" opacity="0.85"/>
<ellipse cx="51.2" cy="16.5" rx="1.6" ry="0.8" transform="rotate(6 51.2 16.5)" fill="#2c3262" opacity="0.85"/>
<ellipse cx="89.8" cy="74.7" rx="1.6" ry="0.8" transform="rotate(20 89.8 74.7)" fill="#22264e" opacity="0.85"/>
<ellipse cx="0.0" cy="27.3" rx="1.4" ry="0.7" transform="rotate(59 0.0 27.3)" fill="#22264e" opacity="0.85"/>
<ellipse cx="72.9" cy="45.5" rx="1.2" ry="0.6" transform="rotate(14 72.9 45.5)" fill="#383e72" opacity="0.85"/>
<ellipse cx="85.1" cy="33.9" rx="1.4" ry="0.7" transform="rotate(67 85.1 33.9)" fill="#383e72" opacity="0.85"/>
<ellipse cx="78.8" cy="51.7" rx="1.2" ry="0.5" transform="rotate(32 78.8 51.7)" fill="#383e72" opacity="0.85"/>
<ellipse cx="46.6" cy="14.7" rx="1.4" ry="0.9" transform="rotate(63 46.6 14.7)" fill="#2c3262" opacity="0.85"/>
<ellipse cx="55.0" cy="19.4" rx="1.3" ry="0.6" transform="rotate(177 55.0 19.4)" fill="#383e72" opacity="0.85"/>
<ellipse cx="97.4" cy="23.6" rx="1.0" ry="0.9" transform="rotate(178 97.4 23.6)" fill="#383e72" opacity="0.85"/>
<ellipse cx="44.4" cy="71.1" rx="1.1" ry="0.8" transform="rotate(138 44.4 71.1)" fill="#282c56" opacity="0.85"/>
<ellipse cx="95.5" cy="62.6" rx="1.1" ry="0.8" transform="rotate(8 95.5 62.6)" fill="#1c2040" opacity="0.85"/>
<ellipse cx="83.6" cy="31.2" rx="1.4" ry="0.8" transform="rotate(157 83.6 31.2)" fill="#2c3262" opacity="0.85"/>
<ellipse cx="61.3" cy="5.3" rx="1.8" ry="0.9" transform="rotate(101 61.3 5.3)" fill="#22264e" opacity="0.85"/>
<ellipse cx="86.0" cy="55.4" rx="1.2" ry="0.8" transform="rotate(79 86.0 55.4)" fill="#282c56" opacity="0.85"/>
<ellipse cx="14.6" cy="1.5" rx="1.4" ry="0.7" transform="rotate(35 14.6 1.5)" fill="#383e72" opacity="0.85"/>
<ellipse cx="81.5" cy="62.8" rx="1.6" ry="0.5" transform="rotate(128 81.5 62.8)" fill="#2c3262" opacity="0.85"/>
<ellipse cx="83.3" cy="13.1" rx="1.3" ry="0.6" transform="rotate(48 83.3 13.1)" fill="#383e72" opacity="0.85"/>
<ellipse cx="78.5" cy="37.7" rx="1.5" ry="0.5" transform="rotate(75 78.5 37.7)" fill="#282c56" opacity="0.85"/>
<ellipse cx="71.0" cy="75.4" rx="1.4" ry="0.9" transform="rotate(39 71.0 75.4)" fill="#2c3262" opacity="0.85"/>
<ellipse cx="85.4" cy="1.1" rx="1.1" ry="0.9" transform="rotate(72 85.4 1.1)" fill="#1c2040" opacity="0.85"/>
<ellipse cx="87.0" cy="0.2" rx="1.1" ry="0.7" transform="rotate(174 87.0 0.2)" fill="#383e72" opacity="0.85"/>
<ellipse cx="39.0" cy="6.6" rx="1.4" ry="0.5" transform="rotate(160 39.0 6.6)" fill="#1c2040" opacity="0.85"/>
<ellipse cx="64.8" cy="50.0" rx="1.0" ry="0.9" transform="rotate(115 64.8 50.0)" fill="#22264e" opacity="0.85"/>
<ellipse cx="67.6" cy="4.3" rx="1.7" ry="0.5" transform="rotate(162 67.6 4.3)" fill="#2c3262" opacity="0.85"/>
<ellipse cx="30.6" cy="13.3" rx="1.5" ry="0.8" transform="rotate(146 30.6 13.3)" fill="#383e72" opacity="0.85"/>
<ellipse cx="95.2" cy="40.1" rx="1.4" ry="0.9" transform="rotate(79 95.2 40.1)" fill="#1c2040" opacity="0.85"/>
<ellipse cx="88.5" cy="3.1" rx="1.8" ry="0.9" transform="rotate(114 88.5 3.1)" fill="#2c3262" opacity="0.85"/>
<ellipse cx="53.4" cy="20.9" rx="1.0" ry="0.8" transform="rotate(49 53.4 20.9)" fill="#2c3262" opacity="0.85"/>
<ellipse cx="33.4" cy="69.9" rx="1.0" ry="0.6" transform="rotate(35 33.4 69.9)" fill="#1c2040" opacity="0.85"/>
<ellipse cx="7.0" cy="21.8" rx="1.1" ry="0.7" transform="rotate(115 7.0 21.8)" fill="#2c3262" opacity="0.85"/>
<ellipse cx="2.9" cy="0.7" rx="1.6" ry="0.8" transform="rotate(51 2.9 0.7)" fill="#383e72" opacity="0.85"/>
<ellipse cx="71.8" cy="20.9" rx="1.1" ry="0.5" transform="rotate(132 71.8 20.9)" fill="#282c56" opacity="0.85"/>
<ellipse cx="94.1" cy="42.7" rx="1.0" ry="0.5" transform="rotate(143 94.1 42.7)" fill="#22264e" opacity="0.85"/>
<ellipse cx="79.4" cy="64.8" rx="1.0" ry="0.9" transform="rotate(139 79.4 64.8)" fill="#383e72" opacity="0.85"/>
<ellipse cx="96.7" cy="18.1" rx="1.0" ry="0.6" transform="rotate(6 96.7 18.1)" fill="#282c56" opacity="0.85"/>
<ellipse cx="43.4" cy="1.6" rx="1.7" ry="0.6" transform="rotate(123 43.4 1.6)" fill="#2c3262" opacity="0.85"/>
<ellipse cx="64.2" cy="28.2" rx="1.6" ry="0.8" transform="rotate(51 64.2 28.2)" fill="#282c56" opacity="0.85"/>
<ellipse cx="69.7" cy="46.1" rx="1.8" ry="0.5" transform="rotate(5 69.7 46.1)" fill="#282c56" opacity="0.85"/>
<ellipse cx="37.3" cy="75.7" rx="1.1" ry="0.9" transform="rotate(176 37.3 75.7)" fill="#22264e" opacity="0.85"/>
<ellipse cx="80.2" cy="15.4" rx="1.8" ry="0.5" transform="rotate(164 80.2 15.4)" fill="#22264e" opacity="0.85"/>
<ellipse cx="76.9" cy="63.9" rx="1.7" ry="0.9" transform="rotate(72 76.9 63.9)" fill="#383e72" opacity="0.85"/>
<ellipse cx="86.2" cy="5.4" rx="1.1" ry="0.8" transform="rotate(74 86.2 5.4)" fill="#383e72" opacity="0.85"/>
<ellipse cx="70.2" cy="17.1" rx="1.9" ry="0.9" transform="rotate(134 70.2 17.1)" fill="#282c56" opacity="0.85"/>
<ellipse cx="59.6" cy="72.3" rx="1.1" ry="0.9" transform="rotate(85 59.6 72.3)" fill="#282c56" opacity="0.85"/>
<ellipse cx="40.4" cy="74.2" rx="1.0" ry="0.7" transform="rotate(170 40.4 74.2)" fill="#22264e" opacity="0.85"/>
<ellipse cx="88.6" cy="60.4" rx="1.0" ry="0.6" transform="rotate(50 88.6 60.4)" fill="#1c2040" opacity="0.85"/>
<ellipse cx="71.5" cy="17.6" rx="1.8" ry="0.9" transform="rotate(20 71.5 17.6)" fill="#1c2040" opacity="0.85"/>
<ellipse cx="69.6" cy="0.6" rx="1.0" ry="0.8" transform="rotate(28 69.6 0.6)" fill="#282c56" opacity="0.85"/>
<ellipse cx="92.6" cy="53.1" rx="1.7" ry="0.5" transform="rotate(153 92.6 53.1)" fill="#383e72" opacity="0.85"/>
<ellipse cx="96.0" cy="61.4" rx="1.7" ry="0.7" transform="rotate(141 96.0 61.4)" fill="#1c2040" opacity="0.85"/>
<ellipse cx="60.7" cy="70.2" rx="1.9" ry="0.5" transform="rotate(145 60.7 70.2)" fill="#383e72" opacity="0.85"/>
<ellipse cx="4.6" cy="15.2" rx="1.8" ry="0.8" transform="rotate(22 4.6 15.2)" fill="#22264e" opacity="0.85"/>
<ellipse cx="76.1" cy="58.2" rx="0.9" ry="0.9" transform="rotate(25 76.1 58.2)" fill="#383e72" opacity="0.85"/>
<ellipse cx="95.2" cy="26.0" rx="1.1" ry="0.8" transform="rotate(108 95.2 26.0)" fill="#383e72" opacity="0.85"/>
<ellipse cx="67.3" cy="43.6" rx="1.8" ry="0.9" transform="rotate(76 67.3 43.6)" fill="#383e72" opacity="0.85"/>
<ellipse cx="2.8" cy="59.4" rx="1.7" ry="0.6" transform="rotate(20 2.8 59.4)" fill="#383e72" opacity="0.85"/>
<ellipse cx="82.0" cy="13.6" rx="1.1" ry="0.6" transform="rotate(84 82.0 13.6)" fill="#383e72" opacity="0.85"/>
<ellipse cx="91.8" cy="49.0" rx="1.3" ry="0.7" transform="rotate(97 91.8 49.0)" fill="#282c56" opacity="0.85"/>
<ellipse cx="31.4" cy="5.0" rx="1.5" ry="0.8" transform="rotate(166 31.4 5.0)" fill="#22264e" opacity="0.85"/>
<ellipse cx="83.3" cy="22.0" rx="1.5" ry="0.8" transform="rotate(178 83.3 22.0)" fill="#22264e" opacity="0.85"/>
<ellipse cx="87.4" cy="63.1" rx="0.9" ry="0.7" transform="rotate(33 87.4 63.1)" fill="#282c56" opacity="0.85"/>
<ellipse cx="34.0" cy="1.8" rx="1.9" ry="0.6" transform="rotate(37 34.0 1.8)" fill="#282c56" opacity="0.85"/>
<ellipse cx="97.5" cy="56.9" rx="1.0" ry="0.6" transform="rotate(6 97.5 56.9)" fill="#282c56" opacity="0.85"/>
<ellipse cx="83.7" cy="11.4" rx="0.9" ry="0.6" transform="rotate(45 83.7 11.4)" fill="#383e72" opacity="0.85"/>
<ellipse cx="29.6" cy="8.7" rx="1.2" ry="0.9" transform="rotate(17 29.6 8.7)" fill="#383e72" opacity="0.85"/>
<ellipse cx="23.7" cy="14.5" rx="1.7" ry="0.5" transform="rotate(131 23.7 14.5)" fill="#383e72" opacity="0.85"/>
<ellipse cx="89.0" cy="70.7" rx="1.3" ry="0.9" transform="rotate(84 89.0 70.7)" fill="#282c56" opacity="0.85"/>
<ellipse cx="36.9" cy="6.8" rx="1.1" ry="0.7" transform="rotate(98 36.9 6.8)" fill="#22264e" opacity="0.85"/>
<ellipse cx="24.9" cy="1.2" rx="1.3" ry="0.7" transform="rotate(20 24.9 1.2)" fill="#383e72" opacity="0.85"/>
<ellipse cx="64.3" cy="19.7" rx="1.2" ry="0.8" transform="rotate(34 64.3 19.7)" fill="#383e72" opacity="0.85"/>
<ellipse cx="26.4" cy="3.9" rx="1.5" ry="0.9" transform="rotate(175 26.4 3.9)" fill="#1c2040" opacity="0.85"/>
<ellipse cx="69.3" cy="41.0" rx="1.5" ry="0.7" transform="rotate(137 69.3 41.0)" fill="#1c2040" opacity="0.85"/>
<ellipse cx="73.9" cy="13.5" rx="0.9" ry="0.5" transform="rotate(77 73.9 13.5)" fill="#2c3262" opacity="0.85"/>
<ellipse cx="67.0" cy="52.9" rx="1.4" ry="0.8" transform="rotate(130 67.0 52.9)" fill="#282c56" opacity="0.85"/>
<ellipse cx="5.3" cy="69.0" rx="1.9" ry="0.7" transform="rotate(127 5.3 69.0)" fill="#2c3262" opacity="0.85"/>
<ellipse cx="74.1" cy="48.0" rx="1.5" ry="0.8" transform="rotate(7 74.1 48.0)" fill="#282c56" opacity="0.85"/>
<ellipse cx="94.9" cy="52.6" rx="1.8" ry="0.9" transform="rotate(52 94.9 52.6)" fill="#2c3262" opacity="0.85"/>
<ellipse cx="83.2" cy="9.8" rx="1.3" ry="0.8" transform="rotate(178 83.2 9.8)" fill="#1c2040" opacity="0.85"/>
<ellipse cx="22.2" cy="16.3" rx="1.8" ry="0.8" transform="rotate(51 22.2 16.3)" fill="#1c2040" opacity="0.85"/>
<ellipse cx="73.2" cy="14.4" rx="1.9" ry="0.9" transform="rotate(102 73.2 14.4)" fill="#22264e" opacity="0.85"/>
<ellipse cx="2.6" cy="44.2" rx="1.8" ry="0.9" transform="rotate(89 2.6 44.2)" fill="#22264e" opacity="0.85"/>
<ellipse cx="91.5" cy="46.7" rx="1.1" ry="0.6" transform="rotate(163 91.5 46.7)" fill="#22264e" opacity="0.85"/>
<ellipse cx="2.2" cy="55.4" rx="1.4" ry="0.7" transform="rotate(76 2.2 55.4)" fill="#22264e" opacity="0.85"/>
<ellipse cx="66.6" cy="39.8" rx="1.9" ry="0.8" transform="rotate(61 66.6 39.8)" fill="#383e72" opacity="0.85"/>
<ellipse cx="61.7" cy="48.8" rx="1.3" ry="0.8" transform="rotate(11 61.7 48.8)" fill="#2c3262" opacity="0.85"/>
<ellipse cx="87.2" cy="45.8" rx="1.5" ry="0.5" transform="rotate(133 87.2 45.8)" fill="#2c3262" opacity="0.85"/>
<ellipse cx="8.9" cy="62.7" rx="1.5" ry="0.6" transform="rotate(83 8.9 62.7)" fill="#282c56" opacity="0.85"/>
<ellipse cx="97.1" cy="29.5" rx="1.5" ry="0.7" transform="rotate(84 97.1 29.5)" fill="#22264e" opacity="0.85"/>
<ellipse cx="7.3" cy="63.1" rx="1.9" ry="0.6" transform="rotate(141 7.3 63.1)" fill="#1c2040" opacity="0.85"/>
<ellipse cx="94.2" cy="65.9" rx="1.5" ry="0.5" transform="rotate(7 94.2 65.9)" fill="#383e72" opacity="0.85"/>
<ellipse cx="66.0" cy="44.7" rx="1.1" ry="0.6" transform="rotate(87 66.0 44.7)" fill="#1c2040" opacity="0.85"/>
<ellipse cx="61.6" cy="69.1" rx="1.2" ry="0.7" transform="rotate(178 61.6 69.1)" fill="#2c3262" opacity="0.85"/>
<ellipse cx="90.8" cy="28.9" rx="1.4" ry="0.9" transform="rotate(158 90.8 28.9)" fill="#383e72" opacity="0.85"/>
<ellipse cx="95.2" cy="0.7" rx="1.2" ry="0.6" transform="rotate(106 95.2 0.7)" fill="#1c2040" opacity="0.85"/>
<ellipse cx="78.3" cy="60.9" rx="1.5" ry="0.9" transform="rotate(120 78.3 60.9)" fill="#22264e" opacity="0.85"/>
<ellipse cx="94.5" cy="49.8" rx="0.9" ry="0.7" transform="rotate(89 94.5 49.8)" fill="#22264e" opacity="0.85"/>
<ellipse cx="51.6" cy="19.2" rx="1.6" ry="0.7" transform="rotate(39 51.6 19.2)" fill="#2c3262" opacity="0.85"/>
<ellipse cx="52.4" cy="22.3" rx="1.0" ry="0.9" transform="rotate(130 52.4 22.3)" fill="#1c2040" opacity="0.85"/>
<ellipse cx="40.1" cy="16.3" rx="1.7" ry="0.8" transform="rotate(139 40.1 16.3)" fill="#383e72" opacity="0.85"/>
<ellipse cx="38.7" cy="10.5" rx="1.0" ry="0.5" transform="rotate(2 38.7 10.5)" fill="#1c2040" opacity="0.85"/>
<ellipse cx="84.1" cy="48.6" rx="1.3" ry="0.5" transform="rotate(57 84.1 48.6)" fill="#1c2040" opacity="0.85"/>
<ellipse cx="87.2" cy="76.3" rx="1.4" ry="0.7" transform="rotate(170 87.2 76.3)" fill="#2c3262" opacity="0.85"/>
<ellipse cx="76.0" cy="19.4" rx="1.2" ry="0.6" transform="rotate(78 76.0 19.4)" fill="#2c3262" opacity="0.85"/>
<ellipse cx="49.9" cy="72.4" rx="1.8" ry="0.7" transform="rotate(42 49.9 72.4)" fill="#1c2040" opacity="0.85"/>
<ellipse cx="34.2" cy="9.1" rx="1.3" ry="0.6" transform="rotate(99 34.2 9.1)" fill="#22264e" opacity="0.85"/>
<ellipse cx="80.8" cy="12.1" rx="1.4" ry="0.6" transform="rotate(101 80.8 12.1)" fill="#1c2040" opacity="0.85"/>
<ellipse cx="58.4" cy="25.9" rx="1.7" ry="0.8" transform="rotate(120 58.4 25.9)" fill="#383e72" opacity="0.85"/>
<ellipse cx="12.1" cy="20.8" rx="1.8" ry="0.7" transform="rotate(120 12.1 20.8)" fill="#2c3262" opacity="0.85"/>
<ellipse cx="5.9" cy="5.7" rx="1.5" ry="0.6" transform="rotate(9 5.9 5.7)" fill="#282c56" opacity="0.85"/>
<ellipse cx="47.1" cy="0.7" rx="1.6" ry="0.6" transform="rotate(114 47.1 0.7)" fill="#2c3262" opacity="0.85"/>
<ellipse cx="93.8" cy="34.4" rx="1.1" ry="0.8" transform="rotate(148 93.8 34.4)" fill="#383e72" opacity="0.85"/>
<ellipse cx="31.1" cy="9.8" rx="1.1" ry="0.6" transform="rotate(69 31.1 9.8)" fill="#22264e" opacity="0.85"/>
<ellipse cx="65.3" cy="38.8" rx="1.7" ry="0.8" transform="rotate(164 65.3 38.8)" fill="#1c2040" opacity="0.85"/>
<ellipse cx="92.2" cy="57.9" rx="1.2" ry="0.5" transform="rotate(137 92.2 57.9)" fill="#383e72" opacity="0.85"/>
<ellipse cx="87.9" cy="20.5" rx="1.3" ry="0.6" transform="rotate(179 87.9 20.5)" fill="#383e72" opacity="0.85"/>
<ellipse cx="11.7" cy="16.3" rx="1.6" ry="0.7" transform="rotate(54 11.7 16.3)" fill="#1c2040" opacity="0.85"/>
<ellipse cx="5.9" cy="76.7" rx="1.1" ry="0.6" transform="rotate(83 5.9 76.7)" fill="#282c56" opacity="0.85"/>
<ellipse cx="66.8" cy="42.5" rx="1.2" ry="0.9" transform="rotate(58 66.8 42.5)" fill="#2c3262" opacity="0.85"/>
<ellipse cx="90.5" cy="59.5" rx="1.1" ry="0.5" transform="rotate(97 90.5 59.5)" fill="#2c3262" opacity="0.85"/>
<ellipse cx="80.4" cy="3.3" rx="1.1" ry="0.9" transform="rotate(120 80.4 3.3)" fill="#282c56" opacity="0.85"/>
<ellipse cx="91.7" cy="4.6" rx="0.9" ry="0.6" transform="rotate(52 91.7 4.6)" fill="#2c3262" opacity="0.85"/>
<ellipse cx="81.9" cy="15.1" rx="1.9" ry="0.9" transform="rotate(26 81.9 15.1)" fill="#2c3262" opacity="0.85"/>
<ellipse cx="18.9" cy="10.2" rx="1.7" ry="0.7" transform="rotate(2 18.9 10.2)" fill="#22264e" opacity="0.85"/>
<ellipse cx="70.5" cy="23.5" rx="1.4" ry="0.5" transform="rotate(157 70.5 23.5)" fill="#2c3262" opacity="0.85"/>
<ellipse cx="5.6" cy="14.7" rx="1.3" ry="0.8" transform="rotate(54 5.6 14.7)" fill="#22264e" opacity="0.85"/>
<ellipse cx="95.7" cy="63.7" rx="1.8" ry="0.9" transform="rotate(77 95.7 63.7)" fill="#22264e" opacity="0.85"/>
<ellipse cx="93.2" cy="23.4" rx="1.7" ry="0.7" transform="rotate(179 93.2 23.4)" fill="#282c56" opacity="0.85"/>
<ellipse cx="71.8" cy="19.3" rx="1.9" ry="0.6" transform="rotate(127 71.8 19.3)" fill="#2c3262" opacity="0.85"/>
<ellipse cx="55.3" cy="59.9" rx="1.7" ry="0.6" transform="rotate(56 55.3 59.9)" fill="#1c2040" opacity="0.85"/>
<ellipse cx="55.2" cy="58.4" rx="1.7" ry="0.6" transform="rotate(26 55.2 58.4)" fill="#2c3262" opacity="0.85"/>
<ellipse cx="80.4" cy="67.8" rx="1.2" ry="0.5" transform="rotate(35 80.4 67.8)" fill="#282c56" opacity="0.85"/>
<ellipse cx="34.1" cy="72.8" rx="1.1" ry="0.9" transform="rotate(28 34.1 72.8)" fill="#1c2040" opacity="0.85"/>
<ellipse cx="43.9" cy="12.7" rx="1.6" ry="0.6" transform="rotate(59 43.9 12.7)" fill="#1c2040" opacity="0.85"/>
<ellipse cx="96.0" cy="47.9" rx="1.5" ry="0.6" transform="rotate(65 96.0 47.9)" fill="#1c2040" opacity="0.85"/>
<ellipse cx="83.4" cy="30.0" rx="1.0" ry="0.5" transform="rotate(136 83.4 30.0)" fill="#1c2040" opacity="0.85"/>
<ellipse cx="88.5" cy="27.8" rx="1.2" ry="0.5" transform="rotate(130 88.5 27.8)" fill="#282c56" opacity="0.85"/>
<ellipse cx="76.1" cy="23.3" rx="1.0" ry="0.5" transform="rotate(90 76.1 23.3)" fill="#22264e" opacity="0.85"/>
<ellipse cx="45.7" cy="11.6" rx="1.5" ry="0.5" transform="rotate(81 45.7 11.6)" fill="#1c2040" opacity="0.85"/>
<ellipse cx="7.4" cy="7.5" rx="0.9" ry="0.6" transform="rotate(180 7.4 7.5)" fill="#22264e" opacity="0.85"/>
<ellipse cx="41.8" cy="11.6" rx="1.0" ry="0.9" transform="rotate(164 41.8 11.6)" fill="#2c3262" opacity="0.85"/>
<ellipse cx="6.9" cy="11.2" rx="1.2" ry="0.9" transform="rotate(74 6.9 11.2)" fill="#1c2040" opacity="0.85"/>
<ellipse cx="95.4" cy="40.4" rx="1.6" ry="0.7" transform="rotate(158 95.4 40.4)" fill="#383e72" opacity="0.85"/>
<ellipse cx="55.6" cy="14.1" rx="1.7" ry="0.6" transform="rotate(60 55.6 14.1)" fill="#282c56" opacity="0.85"/>
<ellipse cx="63.7" cy="61.2" rx="1.4" ry="0.5" transform="rotate(134 63.7 61.2)" fill="#2c3262" opacity="0.85"/>
<ellipse cx="96.9" cy="29.7" rx="1.5" ry="0.6" transform="rotate(55 96.9 29.7)" fill="#282c56" opacity="0.85"/>
<ellipse cx="54.3" cy="60.6" rx="1.6" ry="0.7" transform="rotate(154 54.3 60.6)" fill="#2c3262" opacity="0.85"/>
<ellipse cx="50.3" cy="11.7" rx="1.9" ry="0.9" transform="rotate(6 50.3 11.7)" fill="#282c56" opacity="0.85"/>
<ellipse cx="77.1" cy="71.7" rx="1.6" ry="0.5" transform="rotate(2 77.1 71.7)" fill="#383e72" opacity="0.85"/>
<ellipse cx="19.9" cy="13.1" rx="1.5" ry="0.5" transform="rotate(86 19.9 13.1)" fill="#2c3262" opacity="0.85"/>
<ellipse cx="20.1" cy="66.6" rx="1.2" ry="0.5" transform="rotate(135 20.1 66.6)" fill="#2c3262" opacity="0.85"/>
<ellipse cx="6.9" cy="22.9" rx="1.4" ry="0.5" transform="rotate(8 6.9 22.9)" fill="#22264e" opacity="0.85"/>
<ellipse cx="79.3" cy="33.4" rx="1.0" ry="0.5" transform="rotate(94 79.3 33.4)" fill="#383e72" opacity="0.85"/>
<ellipse cx="16.1" cy="68.2" rx="1.3" ry="0.7" transform="rotate(15 16.1 68.2)" fill="#2c3262" opacity="0.85"/>
<ellipse cx="58.4" cy="20.8" rx="1.4" ry="0.7" transform="rotate(76 58.4 20.8)" fill="#2c3262" opacity="0.85"/>
<ellipse cx="33.4" cy="69.1" rx="1.0" ry="0.9" transform="rotate(100 33.4 69.1)" fill="#22264e" opacity="0.85"/>
<ellipse cx="65.7" cy="51.9" rx="1.9" ry="0.5" transform="rotate(137 65.7 51.9)" fill="#2c3262" opacity="0.85"/>
<ellipse cx="88.0" cy="52.8" rx="1.5" ry="0.6" transform="rotate(167 88.0 52.8)" fill="#282c56" opacity="0.85"/>
<ellipse cx="3.8" cy="63.5" rx="1.7" ry="0.9" transform="rotate(29 3.8 63.5)" fill="#282c56" opacity="0.85"/>
<ellipse cx="53.2" cy="22.3" rx="1.3" ry="0.5" transform="rotate(65 53.2 22.3)" fill="#22264e" opacity="0.85"/>
<ellipse cx="65.1" cy="32.5" rx="1.1" ry="0.5" transform="rotate(21 65.1 32.5)" fill="#1c2040" opacity="0.85"/>
<ellipse cx="51.5" cy="19.2" rx="1.7" ry="0.7" transform="rotate(60 51.5 19.2)" fill="#383e72" opacity="0.85"/>
<ellipse cx="79.4" cy="4.1" rx="1.6" ry="0.8" transform="rotate(165 79.4 4.1)" fill="#282c56" opacity="0.85"/>
<ellipse cx="64.2" cy="15.9" rx="1.9" ry="0.7" transform="rotate(168 64.2 15.9)" fill="#2c3262" opacity="0.85"/>
<ellipse cx="10.1" cy="4.5" rx="1.1" ry="0.7" transform="rotate(130 10.1 4.5)" fill="#282c56" opacity="0.85"/>
<ellipse cx="94.3" cy="57.8" rx="1.7" ry="0.5" transform="rotate(22 94.3 57.8)" fill="#383e72" opacity="0.85"/>
<ellipse cx="52.6" cy="16.2" rx="1.3" ry="0.9" transform="rotate(11 52.6 16.2)" fill="#2c3262" opacity="0.85"/>
<ellipse cx="74.9" cy="0.5" rx="1.5" ry="0.8" transform="rotate(171 74.9 0.5)" fill="#383e72" opacity="0.85"/>
<ellipse cx="72.5" cy="34.3" rx="1.2" ry="0.7" transform="rotate(165 72.5 34.3)" fill="#1c2040" opacity="0.85"/>
<ellipse cx="35.8" cy="13.6" rx="1.5" ry="0.5" transform="rotate(106 35.8 13.6)" fill="#1c2040" opacity="0.85"/>
<ellipse cx="97.2" cy="46.0" rx="1.8" ry="0.8" transform="rotate(23 97.2 46.0)" fill="#22264e" opacity="0.85"/>
<ellipse cx="58.4" cy="72.3" rx="1.2" ry="0.7" transform="rotate(101 58.4 72.3)" fill="#282c56" opacity="0.85"/>
<ellipse cx="95.8" cy="52.4" rx="1.7" ry="0.8" transform="rotate(61 95.8 52.4)" fill="#282c56" opacity="0.85"/>
<ellipse cx="90.6" cy="70.1" rx="1.8" ry="0.5" transform="rotate(20 90.6 70.1)" fill="#282c56" opacity="0.85"/>
<ellipse cx="13.5" cy="1.6" rx="1.8" ry="0.5" transform="rotate(32 13.5 1.6)" fill="#1c2040" opacity="0.85"/>
<ellipse cx="0.4" cy="8.2" rx="1.0" ry="0.6" transform="rotate(156 0.4 8.2)" fill="#1c2040" opacity="0.85"/>
<ellipse cx="18.3" cy="75.6" rx="1.6" ry="0.8" transform="rotate(69 18.3 75.6)" fill="#282c56" opacity="0.85"/>
<ellipse cx="61.1" cy="21.6" rx="1.8" ry="0.7" transform="rotate(5 61.1 21.6)" fill="#2c3262" opacity="0.85"/>
<ellipse cx="95.9" cy="41.4" rx="1.7" ry="0.9" transform="rotate(97 95.9 41.4)" fill="#282c56" opacity="0.85"/>
<ellipse cx="51.8" cy="19.5" rx="1.0" ry="0.9" transform="rotate(163 51.8 19.5)" fill="#22264e" opacity="0.85"/>
<ellipse cx="82.7" cy="12.5" rx="1.6" ry="0.8" transform="rotate(19 82.7 12.5)" fill="#1c2040" opacity="0.85"/>
<ellipse cx="92.6" cy="28.4" rx="1.8" ry="0.5" transform="rotate(51 92.6 28.4)" fill="#282c56" opacity="0.85"/>
<ellipse cx="64.4" cy="2.8" rx="1.5" ry="0.6" transform="rotate(153 64.4 2.8)" fill="#2c3262" opacity="0.85"/>
<ellipse cx="66.4" cy="60.6" rx="1.7" ry="0.7" transform="rotate(145 66.4 60.6)" fill="#2c3262" opacity="0.85"/>
<ellipse cx="77.4" cy="70.9" rx="1.5" ry="0.9" transform="rotate(15 77.4 70.9)" fill="#383e72" opacity="0.85"/>
<ellipse cx="64.2" cy="56.3" rx="1.1" ry="0.6" transform="rotate(129 64.2 56.3)" fill="#1c2040" opacity="0.85"/>
<ellipse cx="79.3" cy="20.2" rx="1.6" ry="0.6" transform="rotate(35 79.3 20.2)" fill="#383e72" opacity="0.85"/>
<ellipse cx="65.5" cy="21.9" rx="1.6" ry="0.5" transform="rotate(155 65.5 21.9)" fill="#1c2040" opacity="0.85"/>
<ellipse cx="13.6" cy="4.0" rx="1.1" ry="0.6" transform="rotate(120 13.6 4.0)" fill="#282c56" opacity="0.85"/>
<ellipse cx="83.0" cy="3.8" rx="1.2" ry="0.8" transform="rotate(132 83.0 3.8)" fill="#282c56" opacity="0.85"/>
<ellipse cx="89.9" cy="43.0" rx="1.8" ry="0.9" transform="rotate(112 89.9 43.0)" fill="#282c56" opacity="0.85"/>
<ellipse cx="88.0" cy="0.5" rx="1.6" ry="0.7" transform="rotate(5 88.0 0.5)" fill="#282c56" opacity="0.85"/>
<ellipse cx="23.6" cy="15.4" rx="1.2" ry="0.9" transform="rotate(135 23.6 15.4)" fill="#282c56" opacity="0.85"/>
<ellipse cx="24.3" cy="9.9" rx="1.2" ry="0.6" transform="rotate(87 24.3 9.9)" fill="#2c3262" opacity="0.85"/>
<ellipse cx="93.0" cy="8.1" rx="1.5" ry="0.8" transform="rotate(92 93.0 8.1)" fill="#22264e" opacity="0.85"/>
<ellipse cx="65.9" cy="31.4" rx="1.0" ry="0.8" transform="rotate(109 65.9 31.4)" fill="#282c56" opacity="0.85"/>
<ellipse cx="52.0" cy="21.2" rx="1.0" ry="0.9" transform="rotate(117 52.0 21.2)" fill="#383e72" opacity="0.85"/>
<ellipse cx="85.4" cy="61.5" rx="1.4" ry="0.8" transform="rotate(166 85.4 61.5)" fill="#1c2040" opacity="0.85"/>
<ellipse cx="61.5" cy="33.9" rx="1.8" ry="0.7" transform="rotate(19 61.5 33.9)" fill="#282c56" opacity="0.85"/>
<ellipse cx="76.9" cy="43.9" rx="1.0" ry="0.5" transform="rotate(141 76.9 43.9)" fill="#2c3262" opacity="0.85"/>
<ellipse cx="57.2" cy="26.8" rx="1.1" ry="0.7" transform="rotate(54 57.2 26.8)" fill="#22264e" opacity="0.85"/>
<ellipse cx="76.6" cy="32.4" rx="1.3" ry="0.5" transform="rotate(112 76.6 32.4)" fill="#2c3262" opacity="0.85"/>
<ellipse cx="91.0" cy="8.2" rx="1.1" ry="0.5" transform="rotate(86 91.0 8.2)" fill="#2c3262" opacity="0.85"/>
<ellipse cx="7.8" cy="73.0" rx="1.0" ry="0.8" transform="rotate(43 7.8 73.0)" fill="#383e72" opacity="0.85"/>
<ellipse cx="60.0" cy="65.2" rx="1.4" ry="0.5" transform="rotate(13 60.0 65.2)" fill="#282c56" opacity="0.85"/>
<ellipse cx="0.3" cy="4.9" rx="1.7" ry="0.6" transform="rotate(161 0.3 4.9)" fill="#383e72" opacity="0.85"/>
<ellipse cx="34.0" cy="72.3" rx="1.4" ry="0.7" transform="rotate(9 34.0 72.3)" fill="#383e72" opacity="0.85"/>
<ellipse cx="1.8" cy="75.4" rx="1.3" ry="0.6" transform="rotate(76 1.8 75.4)" fill="#282c56" opacity="0.85"/>
<ellipse cx="71.9" cy="43.2" rx="1.0" ry="0.8" transform="rotate(76 71.9 43.2)" fill="#22264e" opacity="0.85"/>
<ellipse cx="59.3" cy="18.3" rx="1.5" ry="0.7" transform="rotate(134 59.3 18.3)" fill="#22264e" opacity="0.85"/>
<ellipse cx="48.9" cy="9.4" rx="1.0" ry="0.7" transform="rotate(114 48.9 9.4)" fill="#22264e" opacity="0.85"/>
<ellipse cx="0.4" cy="60.2" rx="1.4" ry="0.7" transform="rotate(170 0.4 60.2)" fill="#22264e" opacity="0.85"/>
<ellipse cx="73.6" cy="5.9" rx="1.1" ry="0.5" transform="rotate(64 73.6 5.9)" fill="#383e72" opacity="0.85"/>
<ellipse cx="96.3" cy="30.1" rx="1.2" ry="0.5" transform="rotate(56 96.3 30.1)" fill="#282c56" opacity="0.85"/>
<ellipse cx="80.7" cy="12.7" rx="1.7" ry="0.6" transform="rotate(165 80.7 12.7)" fill="#383e72" opacity="0.85"/>
<ellipse cx="75.1" cy="66.4" rx="1.3" ry="0.7" transform="rotate(167 75.1 66.4)" fill="#2c3262" opacity="0.85"/>
<ellipse cx="8.4" cy="22.7" rx="1.5" ry="0.8" transform="rotate(47 8.4 22.7)" fill="#282c56" opacity="0.85"/>
<ellipse cx="34.7" cy="1.1" rx="1.4" ry="0.9" transform="rotate(94 34.7 1.1)" fill="#383e72" opacity="0.85"/>
<ellipse cx="30.2" cy="8.5" rx="1.7" ry="0.7" transform="rotate(56 30.2 8.5)" fill="#2c3262" opacity="0.85"/>
<ellipse cx="74.8" cy="21.6" rx="1.0" ry="0.5" transform="rotate(40 74.8 21.6)" fill="#282c56" opacity="0.85"/>
<ellipse cx="25.6" cy="15.1" rx="1.7" ry="0.7" transform="rotate(102 25.6 15.1)" fill="#1c2040" opacity="0.85"/>
<ellipse cx="76.1" cy="49.0" rx="1.7" ry="0.6" transform="rotate(10 76.1 49.0)" fill="#383e72" opacity="0.85"/>
<ellipse cx="56.7" cy="58.3" rx="1.8" ry="0.6" transform="rotate(91 56.7 58.3)" fill="#383e72" opacity="0.85"/>
<ellipse cx="82.2" cy="17.4" rx="1.1" ry="0.7" transform="rotate(141 82.2 17.4)" fill="#1c2040" opacity="0.85"/>
<ellipse cx="86.6" cy="21.5" rx="1.0" ry="0.9" transform="rotate(180 86.6 21.5)" fill="#1c2040" opacity="0.85"/>
<ellipse cx="54.9" cy="74.0" rx="1.7" ry="0.6" transform="rotate(97 54.9 74.0)" fill="#22264e" opacity="0.85"/>
<ellipse cx="92.4" cy="45.9" rx="1.4" ry="0.6" transform="rotate(168 92.4 45.9)" fill="#1c2040" opacity="0.85"/>
<ellipse cx="60.3" cy="75.7" rx="1.6" ry="0.6" transform="rotate(158 60.3 75.7)" fill="#282c56" opacity="0.85"/>
<ellipse cx="21.7" cy="72.8" rx="1.5" ry="0.6" transform="rotate(155 21.7 72.8)" fill="#2c3262" opacity="0.85"/>
<ellipse cx="79.3" cy="37.4" rx="1.0" ry="0.5" transform="rotate(43 79.3 37.4)" fill="#383e72" opacity="0.85"/>
<ellipse cx="96.9" cy="52.2" rx="1.8" ry="0.7" transform="rotate(6 96.9 52.2)" fill="#383e72" opacity="0.85"/>
<ellipse cx="24.1" cy="11.5" rx="1.8" ry="0.9" transform="rotate(18 24.1 11.5)" fill="#1c2040" opacity="0.85"/>
<ellipse cx="26.0" cy="15.8" rx="1.8" ry="0.6" transform="rotate(15 26.0 15.8)" fill="#22264e" opacity="0.85"/>
<ellipse cx="6.6" cy="59.0" rx="1.4" ry="0.6" transform="rotate(54 6.6 59.0)" fill="#282c56" opacity="0.85"/>
<ellipse cx="89.3" cy="39.9" rx="1.6" ry="0.9" transform="rotate(98 89.3 39.9)" fill="#1c2040" opacity="0.85"/>
<ellipse cx="25.5" cy="69.1" rx="1.4" ry="0.6" transform="rotate(38 25.5 69.1)" fill="#383e72" opacity="0.85"/>
<ellipse cx="85.6" cy="65.6" rx="1.3" ry="0.9" transform="rotate(129 85.6 65.6)" fill="#2c3262" opacity="0.85"/>
<ellipse cx="81.3" cy="31.0" rx="1.1" ry="0.7" transform="rotate(169 81.3 31.0)" fill="#282c56" opacity="0.85"/>
<ellipse cx="84.9" cy="17.6" rx="1.9" ry="0.7" transform="rotate(156 84.9 17.6)" fill="#1c2040" opacity="0.85"/>
<ellipse cx="93.7" cy="66.7" rx="1.4" ry="0.8" transform="rotate(146 93.7 66.7)" fill="#22264e" opacity="0.85"/>
<ellipse cx="93.8" cy="16.6" rx="1.4" ry="0.6" transform="rotate(30 93.8 16.6)" fill="#282c56" opacity="0.85"/>
<ellipse cx="71.3" cy="41.2" rx="1.2" ry="0.5" transform="rotate(26 71.3 41.2)" fill="#22264e" opacity="0.85"/>
<ellipse cx="70.5" cy="32.3" rx="1.2" ry="0.6" transform="rotate(145 70.5 32.3)" fill="#383e72" opacity="0.85"/>
<ellipse cx="90.1" cy="58.6" rx="1.4" ry="0.5" transform="rotate(155 90.1 58.6)" fill="#2c3262" opacity="0.85"/>
<ellipse cx="77.5" cy="26.2" rx="0.9" ry="0.9" transform="rotate(64 77.5 26.2)" fill="#22264e" opacity="0.85"/>
<ellipse cx="66.5" cy="75.7" rx="1.6" ry="0.5" transform="rotate(57 66.5 75.7)" fill="#282c56" opacity="0.85"/>
<ellipse cx="2.1" cy="63.1" rx="1.1" ry="0.8" transform="rotate(136 2.1 63.1)" fill="#2c3262" opacity="0.85"/>
<ellipse cx="79.4" cy="11.3" rx="1.3" ry="0.7" transform="rotate(19 79.4 11.3)" fill="#282c56" opacity="0.85"/>
<ellipse cx="9.8" cy="20.7" rx="1.6" ry="0.6" transform="rotate(89 9.8 20.7)" fill="#383e72" opacity="0.85"/>
<ellipse cx="10.6" cy="63.7" rx="0.9" ry="0.9" transform="rotate(143 10.6 63.7)" fill="#1c2040" opacity="0.85"/>
<ellipse cx="10.0" cy="22.2" rx="1.0" ry="0.7" transform="rotate(76 10.0 22.2)" fill="#282c56" opacity="0.85"/>
<ellipse cx="77.1" cy="37.6" rx="1.7" ry="0.6" transform="rotate(130 77.1 37.6)" fill="#282c56" opacity="0.85"/>
<ellipse cx="73.2" cy="75.5" rx="1.6" ry="0.9" transform="rotate(153 73.2 75.5)" fill="#282c56" opacity="0.85"/>
<ellipse cx="74.1" cy="38.2" rx="1.3" ry="0.9" transform="rotate(83 74.1 38.2)" fill="#1c2040" opacity="0.85"/>
<ellipse cx="85.0" cy="76.2" rx="0.9" ry="0.5" transform="rotate(103 85.0 76.2)" fill="#282c56" opacity="0.85"/>
<ellipse cx="93.4" cy="8.7" rx="1.4" ry="0.7" transform="rotate(136 93.4 8.7)" fill="#383e72" opacity="0.85"/>
<ellipse cx="18.6" cy="71.1" rx="1.3" ry="0.7" transform="rotate(124 18.6 71.1)" fill="#383e72" opacity="0.85"/>
<ellipse cx="49.9" cy="7.1" rx="0.9" ry="0.6" transform="rotate(4 49.9 7.1)" fill="#282c56" opacity="0.85"/>
<ellipse cx="79.9" cy="46.5" rx="1.2" ry="0.6" transform="rotate(130 79.9 46.5)" fill="#2c3262" opacity="0.85"/>
<ellipse cx="13.3" cy="67.2" rx="1.4" ry="0.5" transform="rotate(92 13.3 67.2)" fill="#383e72" opacity="0.85"/>
<ellipse cx="69.7" cy="73.3" rx="1.5" ry="0.9" transform="rotate(113 69.7 73.3)" fill="#1c2040" opacity="0.85"/>
<ellipse cx="8.5" cy="61.8" rx="0.9" ry="0.6" transform="rotate(109 8.5 61.8)" fill="#1c2040" opacity="0.85"/>
<ellipse cx="4.2" cy="73.0" rx="1.8" ry="0.6" transform="rotate(178 4.2 73.0)" fill="#282c56" opacity="0.85"/>
<ellipse cx="0.1" cy="49.5" rx="1.8" ry="0.5" transform="rotate(165 0.1 49.5)" fill="#22264e" opacity="0.85"/>
<ellipse cx="56.0" cy="58.9" rx="1.7" ry="0.6" transform="rotate(131 56.0 58.9)" fill="#282c56" opacity="0.85"/>
<ellipse cx="67.5" cy="43.7" rx="1.6" ry="0.5" transform="rotate(6 67.5 43.7)" fill="#2c3262" opacity="0.85"/>
<ellipse cx="88.3" cy="20.3" rx="1.2" ry="0.9" transform="rotate(104 88.3 20.3)" fill="#22264e" opacity="0.85"/>
<ellipse cx="67.7" cy="67.7" rx="1.2" ry="0.6" transform="rotate(70 67.7 67.7)" fill="#2c3262" opacity="0.85"/>
<ellipse cx="88.2" cy="66.9" rx="1.5" ry="0.8" transform="rotate(73 88.2 66.9)" fill="#383e72" opacity="0.85"/>
<ellipse cx="2.8" cy="21.5" rx="1.2" ry="0.8" transform="rotate(22 2.8 21.5)" fill="#22264e" opacity="0.85"/>
<ellipse cx="68.5" cy="66.7" rx="1.5" ry="0.5" transform="rotate(90 68.5 66.7)" fill="#22264e" opacity="0.85"/>
<ellipse cx="41.4" cy="68.5" rx="1.1" ry="0.5" transform="rotate(13 41.4 68.5)" fill="#383e72" opacity="0.85"/>
<ellipse cx="54.4" cy="60.4" rx="1.6" ry="0.6" transform="rotate(9 54.4 60.4)" fill="#383e72" opacity="0.85"/>
<ellipse cx="75.1" cy="4.6" rx="1.9" ry="0.8" transform="rotate(177 75.1 4.6)" fill="#2c3262" opacity="0.85"/>
<ellipse cx="83.4" cy="31.2" rx="1.7" ry="0.6" transform="rotate(122 83.4 31.2)" fill="#282c56" opacity="0.85"/>
<ellipse cx="69.6" cy="3.9" rx="1.6" ry="0.5" transform="rotate(163 69.6 3.9)" fill="#2c3262" opacity="0.85"/>
<ellipse cx="86.0" cy="20.8" rx="1.1" ry="0.8" transform="rotate(71 86.0 20.8)" fill="#2c3262" opacity="0.85"/>
<ellipse cx="68.6" cy="69.5" rx="1.7" ry="0.6" transform="rotate(165 68.6 69.5)" fill="#1c2040" opacity="0.85"/>
<ellipse cx="4.9" cy="28.7" rx="1.9" ry="0.7" transform="rotate(2 4.9 28.7)" fill="#282c56" opacity="0.85"/>
<ellipse cx="59.9" cy="65.3" rx="1.8" ry="0.7" transform="rotate(53 59.9 65.3)" fill="#2c3262" opacity="0.85"/>
<ellipse cx="62.2" cy="70.2" rx="1.3" ry="0.8" transform="rotate(104 62.2 70.2)" fill="#282c56" opacity="0.85"/>
<ellipse cx="69.4" cy="44.6" rx="1.6" ry="0.7" transform="rotate(48 69.4 44.6)" fill="#282c56" opacity="0.85"/>
<ellipse cx="80.0" cy="49.6" rx="1.0" ry="0.6" transform="rotate(147 80.0 49.6)" fill="#22264e" opacity="0.85"/>
<ellipse cx="56.9" cy="61.4" rx="1.7" ry="0.9" transform="rotate(77 56.9 61.4)" fill="#383e72" opacity="0.85"/>
<ellipse cx="80.9" cy="7.3" rx="1.4" ry="0.5" transform="rotate(35 80.9 7.3)" fill="#282c56" opacity="0.85"/>
<ellipse cx="43.0" cy="5.3" rx="1.9" ry="0.5" transform="rotate(0 43.0 5.3)" fill="#282c56" opacity="0.85"/>
<ellipse cx="8.3" cy="68.1" rx="1.4" ry="0.9" transform="rotate(149 8.3 68.1)" fill="#22264e" opacity="0.85"/>
<ellipse cx="88.7" cy="28.2" rx="1.7" ry="0.8" transform="rotate(60 88.7 28.2)" fill="#1c2040" opacity="0.85"/>
<ellipse cx="89.9" cy="69.8" rx="1.7" ry="0.5" transform="rotate(157 89.9 69.8)" fill="#2c3262" opacity="0.85"/>
<ellipse cx="71.2" cy="35.9" rx="1.3" ry="0.5" transform="rotate(74 71.2 35.9)" fill="#383e72" opacity="0.85"/>
<ellipse cx="1.3" cy="68.7" rx="1.6" ry="0.9" transform="rotate(118 1.3 68.7)" fill="#2c3262" opacity="0.85"/>
<ellipse cx="69.6" cy="13.7" rx="1.4" ry="0.9" transform="rotate(61 69.6 13.7)" fill="#2c3262" opacity="0.85"/>
<ellipse cx="71.2" cy="70.8" rx="1.3" ry="0.9" transform="rotate(61 71.2 70.8)" fill="#22264e" opacity="0.85"/>
<ellipse cx="82.7" cy="65.4" rx="1.6" ry="0.6" transform="rotate(122 82.7 65.4)" fill="#383e72" opacity="0.85"/>
<ellipse cx="90.3" cy="4.9" rx="1.0" ry="0.5" transform="rotate(178 90.3 4.9)" fill="#1c2040" opacity="0.85"/>
<ellipse cx="77.6" cy="72.0" rx="1.5" ry="0.9" transform="rotate(18 77.6 72.0)" fill="#282c56" opacity="0.85"/>
<ellipse cx="21.1" cy="2.9" rx="1.9" ry="0.5" transform="rotate(18 21.1 2.9)" fill="#22264e" opacity="0.85"/>
<ellipse cx="3.4" cy="3.5" rx="1.1" ry="0.5" transform="rotate(39 3.4 3.5)" fill="#2c3262" opacity="0.85"/>
<ellipse cx="85.8" cy="27.1" rx="0.9" ry="0.9" transform="rotate(15 85.8 27.1)" fill="#1c2040" opacity="0.85"/>
<ellipse cx="60.0" cy="26.0" rx="1.4" ry="0.7" transform="rotate(41 60.0 26.0)" fill="#2c3262" opacity="0.85"/>
<ellipse cx="4.1" cy="28.1" rx="1.1" ry="0.5" transform="rotate(84 4.1 28.1)" fill="#1c2040" opacity="0.85"/>
<ellipse cx="52.5" cy="16.7" rx="1.0" ry="0.8" transform="rotate(7 52.5 16.7)" fill="#22264e" opacity="0.85"/>
<ellipse cx="19.1" cy="73.7" rx="1.2" ry="0.7" transform="rotate(136 19.1 73.7)" fill="#282c56" opacity="0.85"/>
<ellipse cx="23.8" cy="74.4" rx="1.9" ry="0.5" transform="rotate(61 23.8 74.4)" fill="#383e72" opacity="0.85"/>
<ellipse cx="47.8" cy="12.9" rx="1.2" ry="0.5" transform="rotate(138 47.8 12.9)" fill="#1c2040" opacity="0.85"/>
<ellipse cx="90.2" cy="23.1" rx="1.3" ry="0.8" transform="rotate(15 90.2 23.1)" fill="#383e72" opacity="0.85"/>
<ellipse cx="4.9" cy="60.4" rx="1.1" ry="0.7" transform="rotate(60 4.9 60.4)" fill="#22264e" opacity="0.85"/>
<ellipse cx="93.2" cy="62.2" rx="1.0" ry="0.9" transform="rotate(152 93.2 62.2)" fill="#22264e" opacity="0.85"/>
<ellipse cx="88.9" cy="62.1" rx="1.7" ry="0.8" transform="rotate(151 88.9 62.1)" fill="#282c56" opacity="0.85"/>
<ellipse cx="43.9" cy="74.8" rx="1.0" ry="0.6" transform="rotate(13 43.9 74.8)" fill="#282c56" opacity="0.85"/>
<ellipse cx="64.1" cy="4.0" rx="1.2" ry="0.8" transform="rotate(138 64.1 4.0)" fill="#1c2040" opacity="0.85"/>
<ellipse cx="77.9" cy="60.0" rx="1.0" ry="0.7" transform="rotate(26 77.9 60.0)" fill="#22264e" opacity="0.85"/>
<ellipse cx="84.6" cy="57.4" rx="1.7" ry="0.9" transform="rotate(143 84.6 57.4)" fill="#22264e" opacity="0.85"/>
<ellipse cx="61.0" cy="31.5" rx="1.0" ry="0.6" transform="rotate(82 61.0 31.5)" fill="#22264e" opacity="0.85"/>
<ellipse cx="84.8" cy="61.2" rx="1.6" ry="0.9" transform="rotate(6 84.8 61.2)" fill="#1c2040" opacity="0.85"/>
<ellipse cx="69.4" cy="47.6" rx="1.5" ry="0.8" transform="rotate(29 69.4 47.6)" fill="#1c2040" opacity="0.85"/>
<ellipse cx="44.8" cy="2.9" rx="1.4" ry="0.6" transform="rotate(46 44.8 2.9)" fill="#282c56" opacity="0.85"/>
<ellipse cx="63.4" cy="58.8" rx="1.3" ry="0.9" transform="rotate(109 63.4 58.8)" fill="#22264e" opacity="0.85"/>
<ellipse cx="70.1" cy="7.9" rx="1.0" ry="0.9" transform="rotate(70 70.1 7.9)" fill="#22264e" opacity="0.85"/>
<ellipse cx="92.8" cy="59.2" rx="1.2" ry="0.8" transform="rotate(144 92.8 59.2)" fill="#383e72" opacity="0.85"/>
<ellipse cx="7.4" cy="12.8" rx="1.9" ry="0.8" transform="rotate(130 7.4 12.8)" fill="#22264e" opacity="0.85"/>
<ellipse cx="44.6" cy="6.9" rx="1.5" ry="0.8" transform="rotate(116 44.6 6.9)" fill="#383e72" opacity="0.85"/>
<ellipse cx="82.3" cy="8.4" rx="1.2" ry="0.5" transform="rotate(84 82.3 8.4)" fill="#22264e" opacity="0.85"/>
<ellipse cx="44.6" cy="75.9" rx="1.3" ry="0.6" transform="rotate(132 44.6 75.9)" fill="#22264e" opacity="0.85"/>
<ellipse cx="58.8" cy="68.8" rx="1.5" ry="0.8" transform="rotate(14 58.8 68.8)" fill="#282c56" opacity="0.85"/>
<ellipse cx="71.3" cy="5.5" rx="1.6" ry="0.6" transform="rotate(57 71.3 5.5)" fill="#22264e" opacity="0.85"/>
<ellipse cx="85.0" cy="18.7" rx="1.1" ry="0.6" transform="rotate(38 85.0 18.7)" fill="#2c3262" opacity="0.85"/>
<ellipse cx="2.9" cy="55.9" rx="1.3" ry="0.7" transform="rotate(68 2.9 55.9)" fill="#1c2040" opacity="0.85"/>
<ellipse cx="11.0" cy="67.2" rx="1.5" ry="0.6" transform="rotate(77 11.0 67.2)" fill="#383e72" opacity="0.85"/>
<ellipse cx="27.8" cy="75.0" rx="1.3" ry="0.5" transform="rotate(174 27.8 75.0)" fill="#1c2040" opacity="0.85"/>
<ellipse cx="92.5" cy="54.3" rx="1.6" ry="0.8" transform="rotate(1 92.5 54.3)" fill="#282c56" opacity="0.85"/>
<ellipse cx="83.6" cy="42.7" rx="1.1" ry="0.5" transform="rotate(82 83.6 42.7)" fill="#282c56" opacity="0.85"/>
<ellipse cx="59.6" cy="58.6" rx="1.3" ry="0.9" transform="rotate(60 59.6 58.6)" fill="#2c3262" opacity="0.85"/>
<ellipse cx="66.2" cy="20.0" rx="1.3" ry="0.5" transform="rotate(137 66.2 20.0)" fill="#282c56" opacity="0.85"/>
<ellipse cx="15.8" cy="19.5" rx="1.2" ry="0.9" transform="rotate(168 15.8 19.5)" fill="#22264e" opacity="0.85"/>
<ellipse cx="84.9" cy="41.7" rx="1.7" ry="0.8" transform="rotate(117 84.9 41.7)" fill="#22264e" opacity="0.85"/>
<ellipse cx="13.6" cy="10.7" rx="1.9" ry="0.9" transform="rotate(62 13.6 10.7)" fill="#383e72" opacity="0.85"/>
<ellipse cx="85.6" cy="34.7" rx="1.8" ry="0.5" transform="rotate(158 85.6 34.7)" fill="#22264e" opacity="0.85"/>
<ellipse cx="63.0" cy="16.3" rx="1.2" ry="0.7" transform="rotate(8 63.0 16.3)" fill="#2c3262" opacity="0.85"/>
<ellipse cx="12.3" cy="9.2" rx="1.2" ry="0.8" transform="rotate(172 12.3 9.2)" fill="#22264e" opacity="0.85"/>
<ellipse cx="72.7" cy="11.7" rx="1.1" ry="0.6" transform="rotate(133 72.7 11.7)" fill="#22264e" opacity="0.85"/>
<ellipse cx="62.3" cy="9.6" rx="1.3" ry="0.6" transform="rotate(31 62.3 9.6)" fill="#1c2040" opacity="0.85"/>
<ellipse cx="56.2" cy="64.0" rx="1.9" ry="0.6" transform="rotate(105 56.2 64.0)" fill="#2c3262" opacity="0.85"/>
<ellipse cx="11.1" cy="3.0" rx="1.8" ry="0.8" transform="rotate(81 11.1 3.0)" fill="#383e72" opacity="0.85"/>
<ellipse cx="75.2" cy="2.4" rx="1.7" ry="0.5" transform="rotate(94 75.2 2.4)" fill="#2c3262" opacity="0.85"/>
<ellipse cx="47.3" cy="16.4" rx="1.0" ry="0.8" transform="rotate(114 47.3 16.4)" fill="#22264e" opacity="0.85"/>
<ellipse cx="5.5" cy="8.0" rx="1.8" ry="0.7" transform="rotate(135 5.5 8.0)" fill="#2c3262" opacity="0.85"/>
<ellipse cx="85.5" cy="22.7" rx="1.9" ry="0.6" transform="rotate(89 85.5 22.7)" fill="#1c2040" opacity="0.85"/>
<ellipse cx="68.8" cy="22.6" rx="1.1" ry="0.7" transform="rotate(168 68.8 22.6)" fill="#22264e" opacity="0.85"/>
<ellipse cx="34.3" cy="14.4" rx="1.0" ry="0.8" transform="rotate(65 34.3 14.4)" fill="#1c2040" opacity="0.85"/>
<ellipse cx="22.8" cy="6.2" rx="1.4" ry="0.8" transform="rotate(78 22.8 6.2)" fill="#282c56" opacity="0.85"/>
<ellipse cx="4.0" cy="68.6" rx="1.4" ry="0.7" transform="rotate(174 4.0 68.6)" fill="#22264e" opacity="0.85"/>
<ellipse cx="3.4" cy="5.3" rx="0.9" ry="0.7" transform="rotate(82 3.4 5.3)" fill="#1c2040" opacity="0.85"/>
<ellipse cx="2.4" cy="46.7" rx="1.7" ry="0.8" transform="rotate(86 2.4 46.7)" fill="#2c3262" opacity="0.85"/>
<ellipse cx="95.2" cy="50.7" rx="1.4" ry="0.7" transform="rotate(27 95.2 50.7)" fill="#282c56" opacity="0.85"/>
<ellipse cx="68.3" cy="52.1" rx="1.3" ry="0.6" transform="rotate(64 68.3 52.1)" fill="#2c3262" opacity="0.85"/>
<ellipse cx="93.5" cy="69.9" rx="1.2" ry="0.5" transform="rotate(38 93.5 69.9)" fill="#1c2040" opacity="0.85"/>
<ellipse cx="77.7" cy="40.6" rx="1.4" ry="0.8" transform="rotate(168 77.7 40.6)" fill="#383e72" opacity="0.85"/>
<ellipse cx="95.9" cy="48.6" rx="1.4" ry="0.6" transform="rotate(173 95.9 48.6)" fill="#2c3262" opacity="0.85"/>
<ellipse cx="41.3" cy="8.2" rx="1.9" ry="0.5" transform="rotate(32 41.3 8.2)" fill="#1c2040" opacity="0.85"/>
<ellipse cx="7.4" cy="74.6" rx="1.1" ry="0.6" transform="rotate(146 7.4 74.6)" fill="#282c56" opacity="0.85"/>
<ellipse cx="96.3" cy="40.8" rx="1.2" ry="0.6" transform="rotate(118 96.3 40.8)" fill="#383e72" opacity="0.85"/>
<ellipse cx="96.3" cy="63.3" rx="1.5" ry="0.5" transform="rotate(107 96.3 63.3)" fill="#22264e" opacity="0.85"/>
<ellipse cx="8.2" cy="65.8" rx="1.1" ry="0.6" transform="rotate(70 8.2 65.8)" fill="#1c2040" opacity="0.85"/>
<ellipse cx="52.6" cy="72.9" rx="1.2" ry="0.7" transform="rotate(34 52.6 72.9)" fill="#2c3262" opacity="0.85"/>
<ellipse cx="78.4" cy="12.7" rx="1.3" ry="0.8" transform="rotate(156 78.4 12.7)" fill="#22264e" opacity="0.85"/>
<ellipse cx="79.6" cy="8.4" rx="1.9" ry="0.8" transform="rotate(98 79.6 8.4)" fill="#2c3262" opacity="0.85"/>
<ellipse cx="85.1" cy="35.7" rx="1.4" ry="0.7" transform="rotate(164 85.1 35.7)" fill="#1c2040" opacity="0.85"/>
<ellipse cx="21.5" cy="73.1" rx="1.0" ry="0.8" transform="rotate(173 21.5 73.1)" fill="#1c2040" opacity="0.85"/>
<ellipse cx="13.1" cy="65.1" rx="1.2" ry="0.9" transform="rotate(83 13.1 65.1)" fill="#2c3262" opacity="0.85"/>
<ellipse cx="23.5" cy="76.3" rx="1.6" ry="0.9" transform="rotate(12 23.5 76.3)" fill="#1c2040" opacity="0.85"/>
<ellipse cx="57.6" cy="8.0" rx="1.6" ry="0.5" transform="rotate(58 57.6 8.0)" fill="#1c2040" opacity="0.85"/>
<ellipse cx="11.3" cy="26.5" rx="1.3" ry="0.7" transform="rotate(5 11.3 26.5)" fill="#30345a" opacity="0.7"/>
<ellipse cx="21.9" cy="17.6" rx="1.0" ry="0.6" transform="rotate(51 21.9 17.6)" fill="#2c3470" opacity="0.7"/>
<ellipse cx="11.0" cy="24.5" rx="1.1" ry="0.6" transform="rotate(8 11.0 24.5)" fill="#2c3470" opacity="0.7"/>
<ellipse cx="32.7" cy="65.4" rx="0.9" ry="0.6" transform="rotate(162 32.7 65.4)" fill="#30345a" opacity="0.7"/>
<ellipse cx="56.9" cy="47.9" rx="0.9" ry="0.7" transform="rotate(94 56.9 47.9)" fill="#3a4280" opacity="0.7"/>
<ellipse cx="34.2" cy="66.7" rx="0.8" ry="0.5" transform="rotate(120 34.2 66.7)" fill="#2c3470" opacity="0.7"/>
<ellipse cx="60.7" cy="41.9" rx="1.2" ry="0.4" transform="rotate(140 60.7 41.9)" fill="#30345a" opacity="0.7"/>
<ellipse cx="11.1" cy="25.4" rx="1.4" ry="0.6" transform="rotate(19 11.1 25.4)" fill="#2c3470" opacity="0.7"/>
<ellipse cx="5.0" cy="33.2" rx="0.8" ry="0.6" transform="rotate(17 5.0 33.2)" fill="#30345a" opacity="0.7"/>
<ellipse cx="35.0" cy="62.4" rx="1.0" ry="0.7" transform="rotate(93 35.0 62.4)" fill="#2c3470" opacity="0.7"/>
<ellipse cx="37.7" cy="16.7" rx="1.4" ry="0.5" transform="rotate(15 37.7 16.7)" fill="#3a4280" opacity="0.7"/>
<ellipse cx="40.2" cy="66.9" rx="0.9" ry="0.5" transform="rotate(124 40.2 66.9)" fill="#3a4280" opacity="0.7"/>
<ellipse cx="11.3" cy="29.8" rx="1.0" ry="0.6" transform="rotate(179 11.3 29.8)" fill="#2c3470" opacity="0.7"/>
<ellipse cx="38.6" cy="67.5" rx="0.8" ry="0.6" transform="rotate(119 38.6 67.5)" fill="#2c3470" opacity="0.7"/>
<ellipse cx="19.3" cy="18.3" rx="1.3" ry="0.7" transform="rotate(8 19.3 18.3)" fill="#3a4280" opacity="0.7"/>
<ellipse cx="25.2" cy="62.6" rx="0.9" ry="0.6" transform="rotate(56 25.2 62.6)" fill="#2c3470" opacity="0.7"/>
<ellipse cx="12.6" cy="27.9" rx="0.9" ry="0.4" transform="rotate(89 12.6 27.9)" fill="#3a4280" opacity="0.7"/>
<ellipse cx="57.6" cy="55.6" rx="1.3" ry="0.5" transform="rotate(159 57.6 55.6)" fill="#2c3470" opacity="0.7"/>
<ellipse cx="6.2" cy="50.6" rx="0.9" ry="0.4" transform="rotate(18 6.2 50.6)" fill="#3a4280" opacity="0.7"/>
<ellipse cx="7.5" cy="43.1" rx="1.0" ry="0.7" transform="rotate(92 7.5 43.1)" fill="#3a4280" opacity="0.7"/>
<ellipse cx="57.7" cy="47.4" rx="1.3" ry="0.6" transform="rotate(118 57.7 47.4)" fill="#30345a" opacity="0.7"/>
<ellipse cx="19.7" cy="21.5" rx="0.9" ry="0.5" transform="rotate(41 19.7 21.5)" fill="#30345a" opacity="0.7"/>
<ellipse cx="8.6" cy="42.7" rx="1.1" ry="0.7" transform="rotate(93 8.6 42.7)" fill="#2c3470" opacity="0.7"/>
<ellipse cx="4.8" cy="33.1" rx="1.0" ry="0.5" transform="rotate(155 4.8 33.1)" fill="#30345a" opacity="0.7"/>
<ellipse cx="8.4" cy="30.3" rx="1.0" ry="0.5" transform="rotate(1 8.4 30.3)" fill="#30345a" opacity="0.7"/>
<ellipse cx="59.8" cy="43.8" rx="0.9" ry="0.6" transform="rotate(10 59.8 43.8)" fill="#3a4280" opacity="0.7"/>
<ellipse cx="60.6" cy="46.9" rx="1.3" ry="0.7" transform="rotate(46 60.6 46.9)" fill="#3a4280" opacity="0.7"/>
<ellipse cx="22.7" cy="19.6" rx="1.2" ry="0.4" transform="rotate(121 22.7 19.6)" fill="#2c3470" opacity="0.7"/>
<ellipse cx="53.6" cy="53.0" rx="1.3" ry="0.6" transform="rotate(157 53.6 53.0)" fill="#30345a" opacity="0.7"/>
<ellipse cx="51.8" cy="61.4" rx="1.0" ry="0.5" transform="rotate(40 51.8 61.4)" fill="#3a4280" opacity="0.7"/>
<ellipse cx="25.2" cy="18.5" rx="1.0" ry="0.7" transform="rotate(102 25.2 18.5)" fill="#3a4280" opacity="0.7"/>
<ellipse cx="56.7" cy="56.2" rx="0.8" ry="0.6" transform="rotate(30 56.7 56.2)" fill="#3a4280" opacity="0.7"/>
<ellipse cx="27.6" cy="18.3" rx="1.0" ry="0.5" transform="rotate(92 27.6 18.3)" fill="#2c3470" opacity="0.7"/>
<ellipse cx="57.0" cy="48.7" rx="0.9" ry="0.4" transform="rotate(178 57.0 48.7)" fill="#3a4280" opacity="0.7"/>
<ellipse cx="15.8" cy="58.0" rx="0.9" ry="0.7" transform="rotate(31 15.8 58.0)" fill="#2c3470" opacity="0.7"/>
<ellipse cx="22.0" cy="60.2" rx="1.0" ry="0.5" transform="rotate(74 22.0 60.2)" fill="#2c3470" opacity="0.7"/>
<ellipse cx="56.2" cy="31.6" rx="0.9" ry="0.6" transform="rotate(96 56.2 31.6)" fill="#2c3470" opacity="0.7"/>
<ellipse cx="31.9" cy="63.9" rx="1.1" ry="0.5" transform="rotate(29 31.9 63.9)" fill="#30345a" opacity="0.7"/>
<ellipse cx="16.7" cy="21.4" rx="1.1" ry="0.4" transform="rotate(26 16.7 21.4)" fill="#2c3470" opacity="0.7"/>
<ellipse cx="13.9" cy="63.1" rx="1.2" ry="0.5" transform="rotate(121 13.9 63.1)" fill="#3a4280" opacity="0.7"/>
<ellipse cx="3.2" cy="47.3" rx="0.9" ry="0.5" transform="rotate(70 3.2 47.3)" fill="#2c3470" opacity="0.7"/>
<ellipse cx="56.2" cy="50.0" rx="0.8" ry="0.6" transform="rotate(150 56.2 50.0)" fill="#2c3470" opacity="0.7"/>
<ellipse cx="60.0" cy="44.1" rx="1.2" ry="0.7" transform="rotate(104 60.0 44.1)" fill="#3a4280" opacity="0.7"/>
<ellipse cx="20.6" cy="17.7" rx="0.9" ry="0.7" transform="rotate(157 20.6 17.7)" fill="#30345a" opacity="0.7"/>
<ellipse cx="12.6" cy="53.9" rx="1.4" ry="0.7" transform="rotate(77 12.6 53.9)" fill="#2c3470" opacity="0.7"/>
<ellipse cx="2.9" cy="40.4" rx="1.3" ry="0.4" transform="rotate(19 2.9 40.4)" fill="#2c3470" opacity="0.7"/>
<ellipse cx="49.8" cy="61.4" rx="1.2" ry="0.4" transform="rotate(72 49.8 61.4)" fill="#2c3470" opacity="0.7"/>
<ellipse cx="57.2" cy="42.9" rx="1.0" ry="0.4" transform="rotate(131 57.2 42.9)" fill="#2c3470" opacity="0.7"/>
<ellipse cx="9.3" cy="47.8" rx="1.1" ry="0.5" transform="rotate(102 9.3 47.8)" fill="#2c3470" opacity="0.7"/>
<ellipse cx="55.2" cy="48.3" rx="1.0" ry="0.5" transform="rotate(9 55.2 48.3)" fill="#3a4280" opacity="0.7"/>
<ellipse cx="28.0" cy="65.3" rx="0.9" ry="0.7" transform="rotate(122 28.0 65.3)" fill="#30345a" opacity="0.7"/>
<ellipse cx="51.0" cy="24.3" rx="0.9" ry="0.4" transform="rotate(95 51.0 24.3)" fill="#3a4280" opacity="0.7"/>
<ellipse cx="51.2" cy="23.8" rx="1.0" ry="0.6" transform="rotate(88 51.2 23.8)" fill="#30345a" opacity="0.7"/>
<ellipse cx="60.4" cy="37.3" rx="1.1" ry="0.6" transform="rotate(48 60.4 37.3)" fill="#3a4280" opacity="0.7"/>
<ellipse cx="2.7" cy="40.8" rx="1.1" ry="0.4" transform="rotate(100 2.7 40.8)" fill="#3a4280" opacity="0.7"/>
<ellipse cx="26" cy="10" rx="4" ry="2" fill="#c4ccd6" stroke="#1e2244" stroke-width="1.2" transform="rotate(-15 26 10)"/>
<ellipse cx="50" cy="15" rx="3.2" ry="1.6" fill="#c0c8d2" stroke="#262a52" stroke-width="1.1" transform="rotate(-10 50 15)"/>
<line x1="62" y1="71.8" x2="95" y2="71.8" stroke="#1a1c30" stroke-width="1.3" stroke-dasharray="2 1"/>
</g></svg>
<text x="208.80" y="239.00" font-size="7.2" text-anchor="end" fill="#14162a">100</text>
<text x="206.50" y="247.00" font-size="7.0" text-anchor="end" fill="#14162a">&#956;m</text>
<svg x="126" y="279" width="97.5" height="77.5" viewBox="0 0 97.5 77.5"><g filter="url(#bl)">
<rect width="97.5" height="77.5" fill="#b2bdb0"/>
<rect width="43.875" height="77.5" fill="#a4aec0" opacity="0.4"/>
<ellipse cx="90.2" cy="73.5" rx="5.6" ry="3.0" fill="#94a0bc" opacity="0.42"/>
<ellipse cx="29.9" cy="29.4" rx="3.8" ry="3.2" fill="#c2caae" opacity="0.42"/>
<ellipse cx="43.3" cy="17.1" rx="4.1" ry="2.1" fill="#9ea8c4" opacity="0.42"/>
<ellipse cx="95.7" cy="38.6" rx="2.6" ry="2.1" fill="#b0bab8" opacity="0.42"/>
<ellipse cx="35.0" cy="4.5" rx="5.2" ry="4.2" fill="#a8b2c2" opacity="0.42"/>
<ellipse cx="60.5" cy="75.2" rx="3.8" ry="3.3" fill="#c2caae" opacity="0.42"/>
<ellipse cx="94.4" cy="21.8" rx="5.9" ry="4.6" fill="#b0bab8" opacity="0.42"/>
<ellipse cx="17.3" cy="37.4" rx="5.3" ry="4.4" fill="#a8b2c2" opacity="0.42"/>
<ellipse cx="17.7" cy="13.8" rx="3.6" ry="3.3" fill="#a8b2c2" opacity="0.42"/>
<ellipse cx="56.8" cy="6.4" rx="4.0" ry="3.1" fill="#94a0bc" opacity="0.42"/>
<ellipse cx="27.4" cy="45.7" rx="2.9" ry="2.7" fill="#94a0bc" opacity="0.42"/>
<ellipse cx="29.7" cy="60.3" rx="4.4" ry="2.8" fill="#9ea8c4" opacity="0.42"/>
<ellipse cx="60.4" cy="9.3" rx="5.3" ry="3.9" fill="#c2caae" opacity="0.42"/>
<ellipse cx="53.2" cy="71.2" rx="4.6" ry="4.4" fill="#a8b2c2" opacity="0.42"/>
<ellipse cx="43.8" cy="2.6" rx="4.7" ry="3.3" fill="#a8b2c2" opacity="0.42"/>
<ellipse cx="78.9" cy="53.3" rx="5.9" ry="5.3" fill="#9ea8c4" opacity="0.42"/>
<ellipse cx="52.5" cy="76.6" rx="5.1" ry="3.4" fill="#b0bab8" opacity="0.42"/>
<ellipse cx="47.8" cy="2.9" rx="3.4" ry="2.7" fill="#b0bab8" opacity="0.42"/>
<ellipse cx="92.7" cy="16.7" rx="2.9" ry="2.2" fill="#a8b2c2" opacity="0.42"/>
<ellipse cx="67.3" cy="43.2" rx="3.3" ry="1.8" fill="#a8b2c2" opacity="0.42"/>
<ellipse cx="87.8" cy="34.5" rx="3.7" ry="3.5" fill="#a8b2c2" opacity="0.42"/>
<ellipse cx="87.3" cy="53.3" rx="3.9" ry="3.3" fill="#a8b2c2" opacity="0.42"/>
<ellipse cx="53.2" cy="32.9" rx="3.5" ry="3.3" fill="#94a0bc" opacity="0.42"/>
<ellipse cx="53.6" cy="64.1" rx="2.9" ry="2.3" fill="#c2caae" opacity="0.42"/>
<ellipse cx="94.1" cy="56.5" rx="4.0" ry="2.3" fill="#9ea8c4" opacity="0.42"/>
<ellipse cx="32.9" cy="53.4" rx="2.9" ry="2.7" fill="#b0bab8" opacity="0.42"/>
<ellipse cx="78.0" cy="76.6" rx="3.5" ry="2.3" fill="#9ea8c4" opacity="0.42"/>
<ellipse cx="76.6" cy="11.0" rx="5.5" ry="3.3" fill="#9ea8c4" opacity="0.42"/>
<ellipse cx="16.9" cy="34.8" rx="4.0" ry="2.2" fill="#c2caae" opacity="0.42"/>
<ellipse cx="46.8" cy="53.4" rx="4.4" ry="3.4" fill="#94a0bc" opacity="0.42"/>
<ellipse cx="51.9" cy="20.6" rx="6.0" ry="3.7" fill="#9ea8c4" opacity="0.42"/>
<ellipse cx="84.2" cy="38.6" rx="5.2" ry="4.4" fill="#94a0bc" opacity="0.42"/>
<ellipse cx="40.2" cy="52.8" rx="3.9" ry="3.5" fill="#c2caae" opacity="0.42"/>
<ellipse cx="93.6" cy="26.4" rx="3.9" ry="2.7" fill="#b0bab8" opacity="0.42"/>
<ellipse cx="73.7" cy="68.5" rx="4.4" ry="3.7" fill="#b0bab8" opacity="0.42"/>
<ellipse cx="21.2" cy="20.5" rx="5.5" ry="4.1" fill="#9ea8c4" opacity="0.42"/>
<ellipse cx="60.5" cy="76.7" rx="3.5" ry="3.1" fill="#9ea8c4" opacity="0.42"/>
<ellipse cx="83.7" cy="20.1" rx="5.5" ry="3.4" fill="#94a0bc" opacity="0.42"/>
<ellipse cx="61.8" cy="3.3" rx="5.3" ry="3.4" fill="#c2caae" opacity="0.42"/>
<ellipse cx="55.1" cy="48.2" rx="5.2" ry="3.1" fill="#94a0bc" opacity="0.42"/>
<ellipse cx="38.6" cy="52.7" rx="3.5" ry="1.9" fill="#94a0bc" opacity="0.42"/>
<ellipse cx="16.5" cy="75.7" rx="5.7" ry="3.4" fill="#9ea8c4" opacity="0.42"/>
<ellipse cx="13.3" cy="52.9" rx="5.8" ry="3.7" fill="#c2caae" opacity="0.42"/>
<ellipse cx="55.6" cy="59.7" rx="5.4" ry="4.3" fill="#94a0bc" opacity="0.42"/>
<ellipse cx="10.0" cy="2.3" rx="3.7" ry="2.2" fill="#a8b2c2" opacity="0.42"/>
<ellipse cx="20.1" cy="33.1" rx="3.6" ry="2.9" fill="#94a0bc" opacity="0.42"/>
<ellipse cx="57.2" cy="72.8" rx="4.8" ry="3.7" fill="#a8b2c2" opacity="0.42"/>
<ellipse cx="72.6" cy="71.7" rx="3.6" ry="3.4" fill="#a8b2c2" opacity="0.42"/>
<ellipse cx="34.8" cy="76.1" rx="3.6" ry="3.4" fill="#b0bab8" opacity="0.42"/>
<ellipse cx="38.5" cy="56.1" rx="5.2" ry="4.0" fill="#a8b2c2" opacity="0.42"/>
<ellipse cx="30.8" cy="32.8" rx="2.6" ry="2.3" fill="#b0bab8" opacity="0.42"/>
<ellipse cx="80.2" cy="45.7" rx="4.0" ry="2.5" fill="#c2caae" opacity="0.42"/>
<ellipse cx="3.4" cy="23.0" rx="5.4" ry="3.8" fill="#c2caae" opacity="0.42"/>
<ellipse cx="56.1" cy="75.0" rx="4.4" ry="3.6" fill="#b0bab8" opacity="0.42"/>
<ellipse cx="79.3" cy="14.1" rx="4.0" ry="2.4" fill="#b0bab8" opacity="0.42"/>
<ellipse cx="95.7" cy="35.4" rx="2.5" ry="2.1" fill="#c2caae" opacity="0.42"/>
<ellipse cx="5.6" cy="2.6" rx="3.9" ry="3.8" fill="#c2caae" opacity="0.42"/>
<ellipse cx="70.1" cy="11.1" rx="5.9" ry="5.2" fill="#94a0bc" opacity="0.42"/>
<ellipse cx="45.3" cy="58.2" rx="5.7" ry="4.1" fill="#a8b2c2" opacity="0.42"/>
<ellipse cx="95.5" cy="61.9" rx="2.9" ry="1.5" fill="#94a0bc" opacity="0.42"/>
<ellipse cx="59.1" cy="41.2" rx="3.2" ry="2.1" fill="#c2caae" opacity="0.42"/>
<ellipse cx="26.2" cy="22.0" rx="4.2" ry="3.3" fill="#94a0bc" opacity="0.42"/>
<ellipse cx="28.8" cy="74.6" rx="2.6" ry="2.3" fill="#94a0bc" opacity="0.42"/>
<ellipse cx="76.8" cy="43.6" rx="2.7" ry="2.4" fill="#a8b2c2" opacity="0.42"/>
<ellipse cx="65.0" cy="8.7" rx="5.7" ry="5.6" fill="#9ea8c4" opacity="0.42"/>
<ellipse cx="93.1" cy="45.1" rx="5.4" ry="5.3" fill="#9ea8c4" opacity="0.42"/>
<ellipse cx="70.2" cy="74.2" rx="4.7" ry="3.6" fill="#c2caae" opacity="0.42"/>
<ellipse cx="53.1" cy="32.7" rx="4.7" ry="2.4" fill="#a8b2c2" opacity="0.42"/>
<ellipse cx="89.7" cy="51.1" rx="4.9" ry="4.0" fill="#a8b2c2" opacity="0.42"/>
<ellipse cx="17.2" cy="16.8" rx="2.7" ry="2.3" fill="#a8b2c2" opacity="0.42"/>
<ellipse cx="25.3" cy="71.8" rx="4.6" ry="3.2" fill="#9ea8c4" opacity="0.42"/>
<ellipse cx="55.5" cy="44.3" rx="5.3" ry="4.3" fill="#a8b2c2" opacity="0.42"/>
<ellipse cx="14.2" cy="1.1" rx="4.8" ry="4.6" fill="#94a0bc" opacity="0.42"/>
<ellipse cx="88.1" cy="32.1" rx="5.5" ry="3.0" fill="#c2caae" opacity="0.42"/>
<ellipse cx="27.9" cy="55.7" rx="2.6" ry="1.5" fill="#c2caae" opacity="0.42"/>
<ellipse cx="78.4" cy="61.7" rx="3.0" ry="1.7" fill="#94a0bc" opacity="0.42"/>
<ellipse cx="65.2" cy="8.6" rx="5.4" ry="4.8" fill="#a8b2c2" opacity="0.42"/>
<ellipse cx="78.9" cy="40.5" rx="4.4" ry="3.5" fill="#a8b2c2" opacity="0.42"/>
<ellipse cx="81.8" cy="20.6" rx="4.6" ry="4.2" fill="#a8b2c2" opacity="0.42"/>
<ellipse cx="11.2" cy="33.3" rx="2.7" ry="2.3" fill="#b0bab8" opacity="0.42"/>
<ellipse cx="95.9" cy="59.5" rx="2.8" ry="1.8" fill="#c2caae" opacity="0.42"/>
<ellipse cx="61.5" cy="32.9" rx="3.3" ry="2.5" fill="#a8b2c2" opacity="0.42"/>
<ellipse cx="32.7" cy="43.7" rx="5.9" ry="3.2" fill="#a8b2c2" opacity="0.42"/>
<ellipse cx="71.8" cy="11.8" rx="4.5" ry="3.7" fill="#9ea8c4" opacity="0.42"/>
<ellipse cx="43.6" cy="4.1" rx="5.7" ry="3.6" fill="#a8b2c2" opacity="0.42"/>
<ellipse cx="45.3" cy="60.4" rx="3.7" ry="2.0" fill="#b0bab8" opacity="0.42"/>
<ellipse cx="88.8" cy="61.2" rx="2.9" ry="2.2" fill="#b0bab8" opacity="0.42"/>
<ellipse cx="36.7" cy="56.8" rx="3.1" ry="2.9" fill="#9ea8c4" opacity="0.42"/>
<ellipse cx="2.3" cy="66.5" rx="5.2" ry="4.4" fill="#9ea8c4" opacity="0.42"/>
<ellipse cx="83.0" cy="51.8" rx="4.8" ry="4.4" fill="#c2caae" opacity="0.42"/>
<ellipse cx="92.3" cy="49.1" rx="5.7" ry="3.3" fill="#c2caae" opacity="0.42"/>
<ellipse cx="12.4" cy="21.3" rx="4.4" ry="3.5" fill="#94a0bc" opacity="0.42"/>
<ellipse cx="55.5" cy="49.0" rx="4.3" ry="3.6" fill="#a8b2c2" opacity="0.42"/>
<ellipse cx="58.5" cy="31.2" rx="3.7" ry="2.1" fill="#9ea8c4" opacity="0.42"/>
<ellipse cx="86.9" cy="61.0" rx="4.4" ry="4.2" fill="#b0bab8" opacity="0.42"/>
<ellipse cx="34.2" cy="71.8" rx="5.2" ry="4.4" fill="#9ea8c4" opacity="0.42"/>
<ellipse cx="26.8" cy="9.0" rx="4.6" ry="2.8" fill="#c2caae" opacity="0.42"/>
<ellipse cx="41.4" cy="68.7" rx="3.4" ry="1.8" fill="#94a0bc" opacity="0.42"/>
<ellipse cx="67.6" cy="19.8" rx="5.7" ry="5.7" fill="#a8b2c2" opacity="0.42"/>
<ellipse cx="95.7" cy="76.2" rx="3.0" ry="2.6" fill="#b0bab8" opacity="0.42"/>
<ellipse cx="33.1" cy="42.1" rx="4.6" ry="4.2" fill="#9ea8c4" opacity="0.42"/>
<ellipse cx="72.8" cy="69.6" rx="4.6" ry="4.0" fill="#9ea8c4" opacity="0.42"/>
<ellipse cx="6.0" cy="8.9" rx="2.9" ry="2.1" fill="#a8b2c2" opacity="0.42"/>
<ellipse cx="34.6" cy="7.8" rx="4.8" ry="3.2" fill="#94a0bc" opacity="0.42"/>
<ellipse cx="84.6" cy="62.9" rx="5.7" ry="5.7" fill="#a8b2c2" opacity="0.42"/>
<ellipse cx="83.0" cy="59.1" rx="5.7" ry="4.9" fill="#c2caae" opacity="0.42"/>
<ellipse cx="96.6" cy="2.9" rx="4.8" ry="2.8" fill="#9ea8c4" opacity="0.42"/>
<ellipse cx="80.4" cy="41.9" rx="4.7" ry="2.5" fill="#b0bab8" opacity="0.42"/>
<ellipse cx="1.3" cy="28.0" rx="5.2" ry="4.3" fill="#a8b2c2" opacity="0.42"/>
<ellipse cx="53.0" cy="10.9" rx="5.0" ry="4.3" fill="#c2caae" opacity="0.42"/>
<ellipse cx="85.6" cy="44.7" rx="2.9" ry="2.9" fill="#94a0bc" opacity="0.42"/>
<ellipse cx="86.6" cy="0.2" rx="3.4" ry="2.6" fill="#b0bab8" opacity="0.42"/>
<ellipse cx="16.8" cy="47.5" rx="4.0" ry="3.6" fill="#9ea8c4" opacity="0.42"/>
<ellipse cx="69.2" cy="72.6" rx="5.9" ry="5.5" fill="#9ea8c4" opacity="0.42"/>
<ellipse cx="93.9" cy="67.1" rx="3.1" ry="2.9" fill="#a8b2c2" opacity="0.42"/>
<ellipse cx="21.2" cy="0.6" rx="4.9" ry="3.7" fill="#b0bab8" opacity="0.42"/>
<ellipse cx="8.3" cy="13.7" rx="3.2" ry="3.0" fill="#9ea8c4" opacity="0.42"/>
<ellipse cx="78.5" cy="69.7" rx="2.7" ry="1.4" fill="#a8b2c2" opacity="0.42"/>
<ellipse cx="36.2" cy="57.2" rx="2.6" ry="1.8" fill="#c2caae" opacity="0.42"/>
<ellipse cx="56.2" cy="67.9" rx="5.2" ry="4.9" fill="#a8b2c2" opacity="0.42"/>
<ellipse cx="26.3" cy="59.8" rx="3.0" ry="1.6" fill="#a8b2c2" opacity="0.42"/>
<ellipse cx="10.6" cy="77.4" rx="5.8" ry="5.4" fill="#b0bab8" opacity="0.42"/>
<ellipse cx="51.5" cy="38.5" rx="4.3" ry="3.9" fill="#9ea8c4" opacity="0.42"/>
<ellipse cx="85.0" cy="42.9" rx="3.1" ry="2.0" fill="#94a0bc" opacity="0.42"/>
<ellipse cx="46.4" cy="63.7" rx="4.5" ry="2.8" fill="#94a0bc" opacity="0.42"/>
<ellipse cx="56.6" cy="2.6" rx="5.1" ry="5.0" fill="#94a0bc" opacity="0.42"/>
<ellipse cx="82.6" cy="71.7" rx="4.3" ry="4.1" fill="#a8b2c2" opacity="0.42"/>
<ellipse cx="47.5" cy="6.8" rx="5.3" ry="4.9" fill="#c2caae" opacity="0.42"/>
<ellipse cx="62.1" cy="51.4" rx="5.1" ry="3.3" fill="#a8b2c2" opacity="0.42"/>
<ellipse cx="41.0" cy="50.5" rx="2.6" ry="1.4" fill="#c2caae" opacity="0.42"/>
<ellipse cx="38.7" cy="44.3" rx="4.9" ry="4.7" fill="#a8b2c2" opacity="0.42"/>
<ellipse cx="56.5" cy="69.6" rx="3.1" ry="1.8" fill="#9ea8c4" opacity="0.42"/>
<ellipse cx="52.8" cy="34.8" rx="4.8" ry="3.6" fill="#9ea8c4" opacity="0.42"/>
<ellipse cx="37.8" cy="7.4" rx="5.3" ry="5.1" fill="#9ea8c4" opacity="0.42"/>
<ellipse cx="33.3" cy="74.3" rx="4.4" ry="3.0" fill="#94a0bc" opacity="0.42"/>
<ellipse cx="25.3" cy="12.8" rx="3.7" ry="3.4" fill="#94a0bc" opacity="0.42"/>
<ellipse cx="15.3" cy="69.9" rx="5.1" ry="5.0" fill="#b0bab8" opacity="0.42"/>
<ellipse cx="15.4" cy="56.4" rx="2.6" ry="1.5" fill="#94a0bc" opacity="0.42"/>
<ellipse cx="41.7" cy="44.2" rx="5.7" ry="3.3" fill="#9ea8c4" opacity="0.42"/>
<ellipse cx="56.7" cy="43.1" rx="5.0" ry="3.0" fill="#94a0bc" opacity="0.42"/>
<ellipse cx="79.4" cy="34.9" rx="4.4" ry="2.4" fill="#b0bab8" opacity="0.42"/>
<ellipse cx="33.9" cy="61.7" rx="4.5" ry="3.2" fill="#9ea8c4" opacity="0.42"/>
<ellipse cx="73.7" cy="66.3" rx="5.9" ry="4.9" fill="#c2caae" opacity="0.42"/>
<ellipse cx="85.3" cy="15.1" rx="3.7" ry="3.1" fill="#c2caae" opacity="0.42"/>
<ellipse cx="86.1" cy="48.1" rx="3.2" ry="1.9" fill="#9ea8c4" opacity="0.42"/>
<ellipse cx="93.9" cy="3.9" rx="5.9" ry="3.2" fill="#9ea8c4" opacity="0.42"/>
<ellipse cx="54.4" cy="15.2" rx="4.3" ry="2.9" fill="#c2caae" opacity="0.42"/>
<ellipse cx="59.0" cy="9.0" rx="3.8" ry="2.1" fill="#a8b2c2" opacity="0.42"/>
<ellipse cx="91.8" cy="11.6" rx="3.6" ry="2.3" fill="#c2caae" opacity="0.42"/>
<ellipse cx="69.2" cy="70.4" rx="3.3" ry="2.6" fill="#b0bab8" opacity="0.42"/>
<ellipse cx="52.2" cy="20.7" rx="3.2" ry="3.0" fill="#94a0bc" opacity="0.42"/>
<ellipse cx="69.6" cy="48.3" rx="3.9" ry="3.4" fill="#c2caae" opacity="0.42"/>
<ellipse cx="96.2" cy="13.9" rx="2.5" ry="1.4" fill="#9ea8c4" opacity="0.42"/>
<ellipse cx="58.3" cy="62.9" rx="2.5" ry="2.3" fill="#a8b2c2" opacity="0.42"/>
<ellipse cx="2.0" cy="33.5" rx="6.0" ry="5.2" fill="#b0bab8" opacity="0.42"/>
<ellipse cx="30.4" cy="51.8" rx="5.1" ry="4.2" fill="#b0bab8" opacity="0.42"/>
<ellipse cx="24.9" cy="27.2" rx="3.2" ry="2.3" fill="#b0bab8" opacity="0.42"/>
<ellipse cx="93.0" cy="29.8" rx="3.0" ry="2.5" fill="#b0bab8" opacity="0.42"/>
<ellipse cx="13.8" cy="27.4" rx="2.6" ry="2.2" fill="#94a0bc" opacity="0.42"/>
<ellipse cx="7.6" cy="73.6" rx="6.0" ry="5.2" fill="#a8b2c2" opacity="0.42"/>
<ellipse cx="68.6" cy="1.7" rx="3.5" ry="2.1" fill="#9ea8c4" opacity="0.42"/>
<ellipse cx="14.5" cy="45.9" rx="3.6" ry="2.0" fill="#94a0bc" opacity="0.42"/>
<ellipse cx="22.8" cy="21.8" rx="2.9" ry="1.8" fill="#b0bab8" opacity="0.42"/>
<ellipse cx="47.8" cy="57.1" rx="5.5" ry="4.6" fill="#c2caae" opacity="0.42"/>
<ellipse cx="48.7" cy="5.9" rx="3.3" ry="2.8" fill="#a8b2c2" opacity="0.42"/>
<ellipse cx="66.5" cy="27.4" rx="5.4" ry="4.7" fill="#9ea8c4" opacity="0.42"/>
<ellipse cx="26.0" cy="52.7" rx="4.8" ry="4.4" fill="#94a0bc" opacity="0.42"/>
<ellipse cx="11.4" cy="48.2" rx="5.7" ry="5.5" fill="#c2caae" opacity="0.42"/>
<ellipse cx="19.1" cy="47.9" rx="3.6" ry="3.6" fill="#c2caae" opacity="0.42"/>
<ellipse cx="12.2" cy="17.2" rx="4.9" ry="4.5" fill="#9ea8c4" opacity="0.42"/>
<ellipse cx="22.7" cy="29.1" rx="4.0" ry="3.5" fill="#94a0bc" opacity="0.42"/>
<ellipse cx="21.7" cy="1.2" rx="2.9" ry="2.7" fill="#b0bab8" opacity="0.42"/>
<ellipse cx="65.9" cy="41.3" rx="5.4" ry="3.1" fill="#b0bab8" opacity="0.42"/>
<ellipse cx="80.9" cy="22.9" rx="4.9" ry="4.5" fill="#c2caae" opacity="0.42"/>
<ellipse cx="21.5" cy="4.1" rx="2.7" ry="1.8" fill="#b0bab8" opacity="0.42"/>
<ellipse cx="49.6" cy="16.1" rx="3.0" ry="1.8" fill="#9ea8c4" opacity="0.42"/>
<ellipse cx="28.3" cy="20.2" rx="4.2" ry="3.7" fill="#9ea8c4" opacity="0.42"/>
<ellipse cx="9.8" cy="63.8" rx="3.4" ry="2.5" fill="#94a0bc" opacity="0.42"/>
<ellipse cx="35.6" cy="75.4" rx="4.9" ry="4.5" fill="#9ea8c4" opacity="0.42"/>
<ellipse cx="66.5" cy="58.7" rx="4.4" ry="3.2" fill="#9ea8c4" opacity="0.42"/>
<ellipse cx="0.9" cy="77.4" rx="4.0" ry="2.1" fill="#9ea8c4" opacity="0.42"/>
<ellipse cx="52.2" cy="35.6" rx="3.1" ry="2.8" fill="#a8b2c2" opacity="0.42"/>
<ellipse cx="69.3" cy="36.4" rx="2.5" ry="1.7" fill="#9ea8c4" opacity="0.42"/>
<ellipse cx="48.0" cy="27.6" rx="5.9" ry="5.2" fill="#9ea8c4" opacity="0.42"/>
<ellipse cx="27.9" cy="17.9" rx="4.4" ry="2.9" fill="#9ea8c4" opacity="0.42"/>
<ellipse cx="71.4" cy="4.9" rx="3.3" ry="2.8" fill="#94a0bc" opacity="0.42"/>
<ellipse cx="95.1" cy="52.0" rx="5.5" ry="3.8" fill="#b0bab8" opacity="0.42"/>
<ellipse cx="44.9" cy="4.3" rx="5.8" ry="3.2" fill="#a8b2c2" opacity="0.42"/>
<ellipse cx="32.3" cy="77.2" rx="3.7" ry="3.4" fill="#c2caae" opacity="0.42"/>
<ellipse cx="30.9" cy="69.1" rx="2.6" ry="2.4" fill="#b0bab8" opacity="0.42"/>
<ellipse cx="58.2" cy="55.7" rx="4.5" ry="2.8" fill="#b0bab8" opacity="0.42"/>
<ellipse cx="24.8" cy="62.1" rx="5.3" ry="3.7" fill="#c2caae" opacity="0.42"/>
<ellipse cx="23.6" cy="39.3" rx="3.5" ry="2.8" fill="#9ea8c4" opacity="0.42"/>
<ellipse cx="32.2" cy="24.9" rx="3.9" ry="2.4" fill="#9ea8c4" opacity="0.42"/>
<ellipse cx="21.3" cy="63.7" rx="5.4" ry="5.1" fill="#a8b2c2" opacity="0.42"/>
<ellipse cx="48.1" cy="13.1" rx="5.5" ry="4.4" fill="#b0bab8" opacity="0.42"/>
<ellipse cx="11.5" cy="53.6" rx="3.1" ry="1.8" fill="#c2caae" opacity="0.42"/>
<ellipse cx="79.8" cy="68.5" rx="5.5" ry="3.8" fill="#94a0bc" opacity="0.42"/>
<ellipse cx="45.8" cy="45.3" rx="3.8" ry="3.6" fill="#c2caae" opacity="0.42"/>
<ellipse cx="33.9" cy="30.7" rx="5.9" ry="3.7" fill="#9ea8c4" opacity="0.42"/>
<ellipse cx="48.5" cy="24" rx="6.5" ry="6.5" fill="none" stroke="#4e4e90" stroke-width="3.5" opacity="0.8"/>
<ellipse cx="50" cy="39" rx="9.5" ry="9.5" fill="none" stroke="#4e4e90" stroke-width="4" opacity="0.8"/>
<path d="M40,36 Q36,44 37,50" fill="none" stroke="#4a4c98" stroke-width="3" opacity="0.75"/>
<ellipse cx="47" cy="22" rx="3.2" ry="3" fill="#d4d8de" opacity="0.9"/>
<ellipse cx="52" cy="39" rx="5" ry="5.5" fill="#c4ccd2" opacity="0.9"/>
<ellipse cx="46.0" cy="28.2" rx="0.9" ry="0.9" transform="rotate(177 46.0 28.2)" fill="#3a2a6a" opacity="0.85"/>
<ellipse cx="43.6" cy="24.5" rx="1.1" ry="1.0" transform="rotate(170 43.6 24.5)" fill="#36367c" opacity="0.85"/>
<ellipse cx="41.0" cy="43.8" rx="0.9" ry="0.9" transform="rotate(87 41.0 43.8)" fill="#36367c" opacity="0.85"/>
<ellipse cx="45.8" cy="36.9" rx="1.0" ry="1.0" transform="rotate(90 45.8 36.9)" fill="#46448a" opacity="0.85"/>
<ellipse cx="51.0" cy="27.6" rx="0.8" ry="1.0" transform="rotate(176 51.0 27.6)" fill="#36367c" opacity="0.85"/>
<ellipse cx="48.6" cy="30.7" rx="1.1" ry="0.7" transform="rotate(95 48.6 30.7)" fill="#36367c" opacity="0.85"/>
<ellipse cx="45.3" cy="31.4" rx="1.1" ry="0.9" transform="rotate(153 45.3 31.4)" fill="#2c2a66" opacity="0.85"/>
<ellipse cx="43.4" cy="45.4" rx="1.0" ry="1.0" transform="rotate(48 43.4 45.4)" fill="#3a2a6a" opacity="0.85"/>
<ellipse cx="38.3" cy="41.7" rx="0.9" ry="0.8" transform="rotate(104 38.3 41.7)" fill="#36367c" opacity="0.85"/>
<ellipse cx="44.9" cy="49.3" rx="0.8" ry="0.7" transform="rotate(106 44.9 49.3)" fill="#3a2a6a" opacity="0.85"/>
<ellipse cx="43.4" cy="32.0" rx="1.2" ry="1.0" transform="rotate(86 43.4 32.0)" fill="#2c2a66" opacity="0.85"/>
<ellipse cx="45.5" cy="41.9" rx="1.1" ry="1.0" transform="rotate(146 45.5 41.9)" fill="#3a2a6a" opacity="0.85"/>
<ellipse cx="44.9" cy="26.6" rx="0.9" ry="0.8" transform="rotate(46 44.9 26.6)" fill="#36367c" opacity="0.85"/>
<ellipse cx="52.6" cy="22.8" rx="1.0" ry="0.7" transform="rotate(155 52.6 22.8)" fill="#46448a" opacity="0.85"/>
<ellipse cx="44.8" cy="46.7" rx="0.9" ry="0.9" transform="rotate(16 44.8 46.7)" fill="#3a2a6a" opacity="0.85"/>
<ellipse cx="46.8" cy="34.7" rx="1.1" ry="0.7" transform="rotate(148 46.8 34.7)" fill="#36367c" opacity="0.85"/>
<ellipse cx="40.8" cy="23.2" rx="1.1" ry="0.8" transform="rotate(136 40.8 23.2)" fill="#2c2a66" opacity="0.85"/>
<ellipse cx="48.4" cy="49.3" rx="1.3" ry="0.8" transform="rotate(89 48.4 49.3)" fill="#46448a" opacity="0.85"/>
<ellipse cx="52.4" cy="46.7" rx="1.1" ry="1.1" transform="rotate(129 52.4 46.7)" fill="#46448a" opacity="0.85"/>
<ellipse cx="53.2" cy="26.3" rx="0.8" ry="1.0" transform="rotate(6 53.2 26.3)" fill="#2c2a66" opacity="0.85"/>
<ellipse cx="51.3" cy="31.4" rx="0.9" ry="1.0" transform="rotate(138 51.3 31.4)" fill="#36367c" opacity="0.85"/>
<ellipse cx="42.2" cy="31.7" rx="0.8" ry="0.8" transform="rotate(12 42.2 31.7)" fill="#2c2a66" opacity="0.85"/>
<ellipse cx="55.0" cy="33.2" rx="0.8" ry="1.0" transform="rotate(8 55.0 33.2)" fill="#36367c" opacity="0.85"/>
<ellipse cx="57.7" cy="35.8" rx="0.9" ry="0.7" transform="rotate(153 57.7 35.8)" fill="#3a2a6a" opacity="0.85"/>
<ellipse cx="40.8" cy="42.4" rx="1.1" ry="0.9" transform="rotate(93 40.8 42.4)" fill="#46448a" opacity="0.85"/>
<ellipse cx="60.0" cy="41.8" rx="1.1" ry="0.9" transform="rotate(171 60.0 41.8)" fill="#46448a" opacity="0.85"/>
<ellipse cx="44.1" cy="32.4" rx="1.1" ry="0.8" transform="rotate(70 44.1 32.4)" fill="#3a2a6a" opacity="0.85"/>
<ellipse cx="52.4" cy="46.6" rx="1.2" ry="1.0" transform="rotate(148 52.4 46.6)" fill="#46448a" opacity="0.85"/>
<ellipse cx="47.4" cy="48.7" rx="0.8" ry="0.7" transform="rotate(43 47.4 48.7)" fill="#3a2a6a" opacity="0.85"/>
<ellipse cx="52.4" cy="28.0" rx="1.1" ry="1.0" transform="rotate(30 52.4 28.0)" fill="#3a2a6a" opacity="0.85"/>
<ellipse cx="58.4" cy="34.5" rx="0.8" ry="0.7" transform="rotate(14 58.4 34.5)" fill="#2c2a66" opacity="0.85"/>
<ellipse cx="52.3" cy="32.1" rx="0.9" ry="0.9" transform="rotate(11 52.3 32.1)" fill="#3a2a6a" opacity="0.85"/>
<ellipse cx="57.1" cy="33.2" rx="1.3" ry="0.9" transform="rotate(29 57.1 33.2)" fill="#46448a" opacity="0.85"/>
<ellipse cx="57.8" cy="45.6" rx="1.0" ry="1.0" transform="rotate(104 57.8 45.6)" fill="#46448a" opacity="0.85"/>
<ellipse cx="45.9" cy="49.5" rx="1.1" ry="1.0" transform="rotate(49 45.9 49.5)" fill="#36367c" opacity="0.85"/>
<ellipse cx="55.1" cy="29.2" rx="1.1" ry="0.9" transform="rotate(58 55.1 29.2)" fill="#46448a" opacity="0.85"/>
<ellipse cx="55.8" cy="32.9" rx="1.0" ry="1.1" transform="rotate(10 55.8 32.9)" fill="#3a2a6a" opacity="0.85"/>
<ellipse cx="45.2" cy="48.4" rx="1.3" ry="0.8" transform="rotate(3 45.2 48.4)" fill="#46448a" opacity="0.85"/>
<ellipse cx="55.6" cy="29.7" rx="1.1" ry="1.0" transform="rotate(163 55.6 29.7)" fill="#2c2a66" opacity="0.85"/>
<ellipse cx="46.1" cy="32.6" rx="1.0" ry="0.8" transform="rotate(92 46.1 32.6)" fill="#46448a" opacity="0.85"/>
<ellipse cx="49.4" cy="30.7" rx="1.0" ry="1.1" transform="rotate(114 49.4 30.7)" fill="#36367c" opacity="0.85"/>
<ellipse cx="47.2" cy="48.7" rx="1.1" ry="1.1" transform="rotate(124 47.2 48.7)" fill="#46448a" opacity="0.85"/>
<ellipse cx="45.5" cy="38.9" rx="1.1" ry="0.8" transform="rotate(172 45.5 38.9)" fill="#36367c" opacity="0.85"/>
<ellipse cx="48.7" cy="30.1" rx="0.9" ry="0.8" transform="rotate(86 48.7 30.1)" fill="#36367c" opacity="0.85"/>
<ellipse cx="41.2" cy="31.4" rx="1.2" ry="1.0" transform="rotate(137 41.2 31.4)" fill="#36367c" opacity="0.85"/>
<ellipse cx="48.2" cy="33.7" rx="1.2" ry="0.7" transform="rotate(98 48.2 33.7)" fill="#3a2a6a" opacity="0.85"/>
<ellipse cx="47.1" cy="29.8" rx="1.2" ry="1.0" transform="rotate(42 47.1 29.8)" fill="#36367c" opacity="0.85"/>
<ellipse cx="45.1" cy="42.8" rx="0.8" ry="0.9" transform="rotate(9 45.1 42.8)" fill="#3a2a6a" opacity="0.85"/>
<ellipse cx="44.7" cy="25.4" rx="1.3" ry="0.9" transform="rotate(178 44.7 25.4)" fill="#2c2a66" opacity="0.85"/>
<ellipse cx="41.1" cy="34.5" rx="1.1" ry="1.0" transform="rotate(15 41.1 34.5)" fill="#2c2a66" opacity="0.85"/>
<ellipse cx="43.3" cy="37.0" rx="1.2" ry="1.1" transform="rotate(32 43.3 37.0)" fill="#2c2a66" opacity="0.85"/>
<ellipse cx="51.8" cy="25.5" rx="0.8" ry="0.8" transform="rotate(53 51.8 25.5)" fill="#3a2a6a" opacity="0.85"/>
<ellipse cx="46.4" cy="32.8" rx="1.3" ry="0.9" transform="rotate(72 46.4 32.8)" fill="#3a2a6a" opacity="0.85"/>
<ellipse cx="40.0" cy="37.5" rx="1.0" ry="0.9" transform="rotate(38 40.0 37.5)" fill="#3a2a6a" opacity="0.85"/>
<ellipse cx="40.7" cy="42.1" rx="0.9" ry="0.8" transform="rotate(92 40.7 42.1)" fill="#2c2a66" opacity="0.85"/>
<ellipse cx="50.4" cy="25.8" rx="1.1" ry="0.8" transform="rotate(72 50.4 25.8)" fill="#2c2a66" opacity="0.85"/>
<ellipse cx="52.0" cy="27.7" rx="1.0" ry="1.1" transform="rotate(136 52.0 27.7)" fill="#46448a" opacity="0.85"/>
<ellipse cx="59.1" cy="37.3" rx="0.9" ry="0.9" transform="rotate(2 59.1 37.3)" fill="#46448a" opacity="0.85"/>
<ellipse cx="59.4" cy="39.6" rx="0.9" ry="0.9" transform="rotate(83 59.4 39.6)" fill="#2c2a66" opacity="0.85"/>
<ellipse cx="48.2" cy="44.4" rx="1.2" ry="0.8" transform="rotate(61 48.2 44.4)" fill="#2c2a66" opacity="0.85"/>
<ellipse cx="41.0" cy="25.0" rx="1.2" ry="1.0" transform="rotate(156 41.0 25.0)" fill="#46448a" opacity="0.85"/>
<ellipse cx="45.6" cy="42.0" rx="1.0" ry="0.9" transform="rotate(142 45.6 42.0)" fill="#2c2a66" opacity="0.85"/>
<ellipse cx="41.9" cy="35.8" rx="1.3" ry="0.8" transform="rotate(154 41.9 35.8)" fill="#3a2a6a" opacity="0.85"/>
<ellipse cx="38.2" cy="39.0" rx="0.8" ry="0.8" transform="rotate(119 38.2 39.0)" fill="#2c2a66" opacity="0.85"/>
<ellipse cx="57.0" cy="44.0" rx="1.1" ry="0.9" transform="rotate(68 57.0 44.0)" fill="#3a2a6a" opacity="0.85"/>
<ellipse cx="54.6" cy="31.5" rx="0.9" ry="1.0" transform="rotate(24 54.6 31.5)" fill="#2c2a66" opacity="0.85"/>
<ellipse cx="52.5" cy="17.5" rx="0.9" ry="0.8" transform="rotate(122 52.5 17.5)" fill="#2c2a66" opacity="0.85"/>
<ellipse cx="43.3" cy="33.9" rx="0.9" ry="0.7" transform="rotate(9 43.3 33.9)" fill="#2c2a66" opacity="0.85"/>
<ellipse cx="46.2" cy="16.9" rx="0.9" ry="0.9" transform="rotate(8 46.2 16.9)" fill="#36367c" opacity="0.85"/>
<ellipse cx="51.0" cy="28.0" rx="0.9" ry="0.9" transform="rotate(174 51.0 28.0)" fill="#3a2a6a" opacity="0.85"/>
<ellipse cx="50.1" cy="31.1" rx="0.9" ry="1.0" transform="rotate(33 50.1 31.1)" fill="#36367c" opacity="0.85"/>
<ellipse cx="47.4" cy="33.5" rx="1.0" ry="0.8" transform="rotate(86 47.4 33.5)" fill="#2c2a66" opacity="0.85"/>
<ellipse cx="47.9" cy="30.5" rx="1.1" ry="0.9" transform="rotate(63 47.9 30.5)" fill="#36367c" opacity="0.85"/>
<ellipse cx="43.3" cy="33.8" rx="1.1" ry="1.1" transform="rotate(96 43.3 33.8)" fill="#2c2a66" opacity="0.85"/>
<ellipse cx="39.7" cy="33.4" rx="1.2" ry="1.1" transform="rotate(107 39.7 33.4)" fill="#36367c" opacity="0.85"/>
<ellipse cx="52.2" cy="27.8" rx="1.0" ry="0.8" transform="rotate(111 52.2 27.8)" fill="#36367c" opacity="0.85"/>
<ellipse cx="54.6" cy="45.4" rx="0.9" ry="1.0" transform="rotate(66 54.6 45.4)" fill="#2c2a66" opacity="0.85"/>
<ellipse cx="52.2" cy="21.0" rx="1.1" ry="1.1" transform="rotate(19 52.2 21.0)" fill="#46448a" opacity="0.85"/>
<ellipse cx="47.9" cy="45.9" rx="0.9" ry="0.8" transform="rotate(173 47.9 45.9)" fill="#3a2a6a" opacity="0.85"/>
<ellipse cx="51.0" cy="16.7" rx="0.9" ry="0.8" transform="rotate(81 51.0 16.7)" fill="#46448a" opacity="0.85"/>
<ellipse cx="42.7" cy="25.2" rx="0.9" ry="1.1" transform="rotate(156 42.7 25.2)" fill="#46448a" opacity="0.85"/>
<ellipse cx="56.4" cy="45.6" rx="1.3" ry="0.7" transform="rotate(3 56.4 45.6)" fill="#46448a" opacity="0.85"/>
<ellipse cx="50.0" cy="27.4" rx="0.9" ry="1.0" transform="rotate(79 50.0 27.4)" fill="#3a2a6a" opacity="0.85"/>
<ellipse cx="41.0" cy="23.8" rx="1.0" ry="0.8" transform="rotate(59 41.0 23.8)" fill="#3a2a6a" opacity="0.85"/>
<ellipse cx="42.0" cy="25.7" rx="0.8" ry="1.0" transform="rotate(148 42.0 25.7)" fill="#2c2a66" opacity="0.85"/>
<ellipse cx="56.5" cy="48.4" rx="1.2" ry="1.0" transform="rotate(128 56.5 48.4)" fill="#46448a" opacity="0.85"/>
<ellipse cx="42.4" cy="20.6" rx="1.2" ry="1.0" transform="rotate(64 42.4 20.6)" fill="#3a2a6a" opacity="0.85"/>
<ellipse cx="54.2" cy="29.8" rx="1.0" ry="0.9" transform="rotate(154 54.2 29.8)" fill="#46448a" opacity="0.85"/>
<ellipse cx="42.3" cy="32.3" rx="1.1" ry="1.0" transform="rotate(14 42.3 32.3)" fill="#3a2a6a" opacity="0.85"/>
<ellipse cx="38.2" cy="37.4" rx="1.0" ry="1.0" transform="rotate(30 38.2 37.4)" fill="#46448a" opacity="0.85"/>
<ellipse cx="43.8" cy="36.1" rx="1.0" ry="0.9" transform="rotate(101 43.8 36.1)" fill="#2c2a66" opacity="0.85"/>
<ellipse cx="45.1" cy="49.2" rx="0.8" ry="0.9" transform="rotate(1 45.1 49.2)" fill="#46448a" opacity="0.85"/>
<ellipse cx="43.6" cy="18.7" rx="1.1" ry="0.8" transform="rotate(158 43.6 18.7)" fill="#3a2a6a" opacity="0.85"/>
<ellipse cx="43.5" cy="21.1" rx="1.1" ry="0.9" transform="rotate(170 43.5 21.1)" fill="#3a2a6a" opacity="0.85"/>
<ellipse cx="46.4" cy="28.9" rx="1.3" ry="0.9" transform="rotate(98 46.4 28.9)" fill="#36367c" opacity="0.85"/>
<ellipse cx="54.5" cy="30.5" rx="1.2" ry="1.1" transform="rotate(65 54.5 30.5)" fill="#3a2a6a" opacity="0.85"/>
<ellipse cx="43.1" cy="31.3" rx="1.3" ry="1.0" transform="rotate(79 43.1 31.3)" fill="#36367c" opacity="0.85"/>
<ellipse cx="52.9" cy="18.3" rx="1.1" ry="0.9" transform="rotate(11 52.9 18.3)" fill="#2c2a66" opacity="0.85"/>
<ellipse cx="39.6" cy="40.1" rx="1.0" ry="0.9" transform="rotate(57 39.6 40.1)" fill="#3a2a6a" opacity="0.85"/>
<ellipse cx="43.1" cy="35.2" rx="1.3" ry="0.8" transform="rotate(69 43.1 35.2)" fill="#2c2a66" opacity="0.85"/>
<ellipse cx="45.3" cy="46.5" rx="1.1" ry="0.7" transform="rotate(111 45.3 46.5)" fill="#36367c" opacity="0.85"/>
<ellipse cx="50.4" cy="18.4" rx="1.0" ry="1.0" transform="rotate(126 50.4 18.4)" fill="#3a2a6a" opacity="0.85"/>
<ellipse cx="55.8" cy="22.2" rx="0.8" ry="1.0" transform="rotate(171 55.8 22.2)" fill="#46448a" opacity="0.85"/>
<ellipse cx="54.5" cy="28.1" rx="0.9" ry="1.0" transform="rotate(3 54.5 28.1)" fill="#3a2a6a" opacity="0.85"/>
<ellipse cx="44.6" cy="38.2" rx="1.2" ry="0.8" transform="rotate(28 44.6 38.2)" fill="#36367c" opacity="0.85"/>
<ellipse cx="40.2" cy="33.2" rx="1.2" ry="0.8" transform="rotate(142 40.2 33.2)" fill="#46448a" opacity="0.85"/>
<ellipse cx="42.3" cy="25.9" rx="1.0" ry="1.0" transform="rotate(57 42.3 25.9)" fill="#46448a" opacity="0.85"/>
<ellipse cx="54.4" cy="49.3" rx="1.1" ry="1.0" transform="rotate(66 54.4 49.3)" fill="#2c2a66" opacity="0.85"/>
<ellipse cx="55.7" cy="49.4" rx="1.1" ry="0.7" transform="rotate(12 55.7 49.4)" fill="#46448a" opacity="0.85"/>
<ellipse cx="55.3" cy="30.2" rx="1.2" ry="0.9" transform="rotate(16 55.3 30.2)" fill="#2c2a66" opacity="0.85"/>
<ellipse cx="47.0" cy="30.2" rx="1.2" ry="0.8" transform="rotate(37 47.0 30.2)" fill="#3a2a6a" opacity="0.85"/>
<ellipse cx="45.5" cy="40.9" rx="1.0" ry="1.0" transform="rotate(160 45.5 40.9)" fill="#36367c" opacity="0.85"/>
<ellipse cx="54.8" cy="49.8" rx="1.1" ry="1.0" transform="rotate(115 54.8 49.8)" fill="#46448a" opacity="0.85"/>
<ellipse cx="52.0" cy="31.4" rx="1.2" ry="0.9" transform="rotate(144 52.0 31.4)" fill="#46448a" opacity="0.85"/>
<ellipse cx="51.4" cy="20.6" rx="1.3" ry="1.0" transform="rotate(59 51.4 20.6)" fill="#2c2a66" opacity="0.85"/>
<ellipse cx="44.5" cy="47.7" rx="1.1" ry="1.0" transform="rotate(95 44.5 47.7)" fill="#46448a" opacity="0.85"/>
<ellipse cx="47.4" cy="47.6" rx="1.1" ry="0.9" transform="rotate(73 47.4 47.6)" fill="#46448a" opacity="0.85"/>
<ellipse cx="54.2" cy="46.8" rx="1.0" ry="0.9" transform="rotate(84 54.2 46.8)" fill="#3a2a6a" opacity="0.85"/>
<ellipse cx="43.3" cy="30.6" rx="0.8" ry="0.7" transform="rotate(2 43.3 30.6)" fill="#2c2a66" opacity="0.85"/>
<ellipse cx="41.8" cy="35.4" rx="1.1" ry="1.1" transform="rotate(86 41.8 35.4)" fill="#36367c" opacity="0.85"/>
<ellipse cx="41.8" cy="31.3" rx="0.9" ry="0.8" transform="rotate(109 41.8 31.3)" fill="#36367c" opacity="0.85"/>
<ellipse cx="47.1" cy="30.6" rx="0.9" ry="1.0" transform="rotate(110 47.1 30.6)" fill="#2c2a66" opacity="0.85"/>
<ellipse cx="44.5" cy="38.8" rx="1.0" ry="0.7" transform="rotate(69 44.5 38.8)" fill="#2c2a66" opacity="0.85"/>
<ellipse cx="58.0" cy="37.4" rx="1.3" ry="0.8" transform="rotate(26 58.0 37.4)" fill="#3a2a6a" opacity="0.85"/>
<ellipse cx="47.4" cy="50.7" rx="1.3" ry="0.7" transform="rotate(94 47.4 50.7)" fill="#3a2a6a" opacity="0.85"/>
<ellipse cx="58.3" cy="36.5" rx="1.0" ry="1.0" transform="rotate(22 58.3 36.5)" fill="#2c2a66" opacity="0.85"/>
<ellipse cx="51.8" cy="45.8" rx="1.0" ry="1.1" transform="rotate(137 51.8 45.8)" fill="#46448a" opacity="0.85"/>
<ellipse cx="40.1" cy="33.2" rx="1.2" ry="1.0" transform="rotate(41 40.1 33.2)" fill="#2c2a66" opacity="0.85"/>
<ellipse cx="59.8" cy="32.3" rx="1.3" ry="1.0" transform="rotate(34 59.8 32.3)" fill="#46448a" opacity="0.85"/>
<ellipse cx="44.2" cy="42.1" rx="0.9" ry="0.8" transform="rotate(150 44.2 42.1)" fill="#46448a" opacity="0.85"/>
<ellipse cx="55.6" cy="20.8" rx="1.1" ry="1.0" transform="rotate(136 55.6 20.8)" fill="#2c2a66" opacity="0.85"/>
<ellipse cx="50.0" cy="44.6" rx="1.2" ry="1.0" transform="rotate(157 50.0 44.6)" fill="#46448a" opacity="0.85"/>
<ellipse cx="44.7" cy="29.3" rx="1.1" ry="1.0" transform="rotate(104 44.7 29.3)" fill="#2c2a66" opacity="0.85"/>
<ellipse cx="51.8" cy="47.8" rx="1.3" ry="1.0" transform="rotate(175 51.8 47.8)" fill="#3a2a6a" opacity="0.85"/>
<ellipse cx="46.9" cy="43.8" rx="1.1" ry="0.7" transform="rotate(156 46.9 43.8)" fill="#36367c" opacity="0.85"/>
<ellipse cx="45.9" cy="44.2" rx="1.2" ry="0.7" transform="rotate(71 45.9 44.2)" fill="#2c2a66" opacity="0.85"/>
<ellipse cx="43.6" cy="41.5" rx="1.0" ry="0.7" transform="rotate(157 43.6 41.5)" fill="#46448a" opacity="0.85"/>
<ellipse cx="49.7" cy="27.5" rx="1.1" ry="0.8" transform="rotate(30 49.7 27.5)" fill="#2c2a66" opacity="0.85"/>
<ellipse cx="38.4" cy="41.0" rx="0.9" ry="1.1" transform="rotate(75 38.4 41.0)" fill="#36367c" opacity="0.85"/>
<ellipse cx="51.3" cy="16.9" rx="1.0" ry="0.7" transform="rotate(107 51.3 16.9)" fill="#2c2a66" opacity="0.85"/>
<ellipse cx="54.3" cy="20.5" rx="0.8" ry="0.9" transform="rotate(15 54.3 20.5)" fill="#3a2a6a" opacity="0.85"/>
<ellipse cx="49.8" cy="33.0" rx="1.1" ry="0.7" transform="rotate(142 49.8 33.0)" fill="#3a2a6a" opacity="0.85"/>
<ellipse cx="53.0" cy="18.8" rx="1.2" ry="1.0" transform="rotate(156 53.0 18.8)" fill="#36367c" opacity="0.85"/>
<ellipse cx="55.1" cy="22.2" rx="1.1" ry="0.8" transform="rotate(126 55.1 22.2)" fill="#2c2a66" opacity="0.85"/>
<ellipse cx="46.0" cy="38.8" rx="1.2" ry="1.1" transform="rotate(40 46.0 38.8)" fill="#36367c" opacity="0.85"/>
<ellipse cx="49.4" cy="29.9" rx="1.0" ry="0.8" transform="rotate(117 49.4 29.9)" fill="#46448a" opacity="0.85"/>
<ellipse cx="38.5" cy="41.4" rx="1.2" ry="0.8" transform="rotate(155 38.5 41.4)" fill="#36367c" opacity="0.85"/>
<ellipse cx="44.9" cy="18.5" rx="1.2" ry="0.9" transform="rotate(19 44.9 18.5)" fill="#36367c" opacity="0.85"/>
<ellipse cx="42.1" cy="19.7" rx="0.9" ry="1.1" transform="rotate(177 42.1 19.7)" fill="#46448a" opacity="0.85"/>
<ellipse cx="49.9" cy="45.0" rx="0.9" ry="1.0" transform="rotate(78 49.9 45.0)" fill="#3a2a6a" opacity="0.85"/>
<ellipse cx="41.8" cy="44.5" rx="1.3" ry="1.0" transform="rotate(62 41.8 44.5)" fill="#2c2a66" opacity="0.85"/>
<ellipse cx="48.6" cy="32.4" rx="1.0" ry="0.9" transform="rotate(143 48.6 32.4)" fill="#46448a" opacity="0.85"/>
<ellipse cx="56.1" cy="46.0" rx="1.2" ry="0.8" transform="rotate(103 56.1 46.0)" fill="#2c2a66" opacity="0.85"/>
<ellipse cx="50.7" cy="48.4" rx="0.9" ry="1.0" transform="rotate(158 50.7 48.4)" fill="#3a2a6a" opacity="0.85"/>
<ellipse cx="44.2" cy="27.2" rx="0.9" ry="1.0" transform="rotate(139 44.2 27.2)" fill="#2c2a66" opacity="0.85"/>
<ellipse cx="53.1" cy="26.8" rx="0.9" ry="1.0" transform="rotate(83 53.1 26.8)" fill="#2c2a66" opacity="0.85"/>
<ellipse cx="52.4" cy="45.2" rx="1.2" ry="0.7" transform="rotate(159 52.4 45.2)" fill="#46448a" opacity="0.85"/>
<ellipse cx="41.1" cy="42.7" rx="0.9" ry="0.7" transform="rotate(91 41.1 42.7)" fill="#2c2a66" opacity="0.85"/>
<ellipse cx="43.4" cy="30.1" rx="0.9" ry="1.1" transform="rotate(44 43.4 30.1)" fill="#3a2a6a" opacity="0.85"/>
<ellipse cx="54.4" cy="48.4" rx="1.2" ry="0.9" transform="rotate(83 54.4 48.4)" fill="#2c2a66" opacity="0.85"/>
<ellipse cx="45.8" cy="61.9" rx="1.0" ry="0.8" transform="rotate(164 45.8 61.9)" fill="#3a4478" opacity="0.85"/>
<ellipse cx="19.0" cy="31.8" rx="1.2" ry="0.9" transform="rotate(133 19.0 31.8)" fill="#1e2448" opacity="0.85"/>
<ellipse cx="50.7" cy="37.4" rx="1.1" ry="0.7" transform="rotate(162 50.7 37.4)" fill="#3a4478" opacity="0.85"/>
<ellipse cx="14.8" cy="44.0" rx="1.1" ry="0.9" transform="rotate(55 14.8 44.0)" fill="#242a52" opacity="0.85"/>
<ellipse cx="17.4" cy="28.9" rx="0.8" ry="0.9" transform="rotate(68 17.4 28.9)" fill="#1e2448" opacity="0.85"/>
<ellipse cx="86.4" cy="24.2" rx="1.1" ry="0.9" transform="rotate(75 86.4 24.2)" fill="#283058" opacity="0.85"/>
<ellipse cx="89.3" cy="51.2" rx="0.9" ry="0.9" transform="rotate(24 89.3 51.2)" fill="#3a4478" opacity="0.85"/>
<ellipse cx="0.6" cy="70.6" rx="0.9" ry="0.9" transform="rotate(139 0.6 70.6)" fill="#343e6e" opacity="0.85"/>
<ellipse cx="71.9" cy="1.4" rx="1.0" ry="0.7" transform="rotate(133 71.9 1.4)" fill="#242a52" opacity="0.85"/>
<ellipse cx="84.5" cy="51.4" rx="0.9" ry="0.8" transform="rotate(105 84.5 51.4)" fill="#283058" opacity="0.85"/>
<ellipse cx="73.6" cy="24.5" rx="0.9" ry="0.7" transform="rotate(169 73.6 24.5)" fill="#3a4478" opacity="0.85"/>
<ellipse cx="57.3" cy="12.5" rx="1.0" ry="0.8" transform="rotate(90 57.3 12.5)" fill="#1e2448" opacity="0.85"/>
<ellipse cx="35.4" cy="20.2" rx="1.0" ry="0.8" transform="rotate(93 35.4 20.2)" fill="#242a52" opacity="0.85"/>
<ellipse cx="49.6" cy="15.5" rx="0.8" ry="0.6" transform="rotate(19 49.6 15.5)" fill="#343e6e" opacity="0.85"/>
<ellipse cx="4.7" cy="62.8" rx="1.0" ry="0.6" transform="rotate(34 4.7 62.8)" fill="#1e2448" opacity="0.85"/>
<ellipse cx="60.8" cy="15.9" rx="0.8" ry="0.8" transform="rotate(38 60.8 15.9)" fill="#242a52" opacity="0.85"/>
<ellipse cx="0.3" cy="9.9" rx="0.8" ry="0.8" transform="rotate(46 0.3 9.9)" fill="#242a52" opacity="0.85"/>
<ellipse cx="81.1" cy="36.9" rx="1.2" ry="0.9" transform="rotate(85 81.1 36.9)" fill="#283058" opacity="0.85"/>
<ellipse cx="69.6" cy="52.4" rx="0.8" ry="0.9" transform="rotate(75 69.6 52.4)" fill="#283058" opacity="0.85"/>
<ellipse cx="1.6" cy="7.3" rx="0.9" ry="0.9" transform="rotate(168 1.6 7.3)" fill="#283058" opacity="0.85"/>
<ellipse cx="42.6" cy="64.6" rx="1.0" ry="0.7" transform="rotate(110 42.6 64.6)" fill="#343e6e" opacity="0.85"/>
<ellipse cx="8.4" cy="39.3" rx="1.2" ry="0.6" transform="rotate(82 8.4 39.3)" fill="#283058" opacity="0.85"/>
<ellipse cx="85.3" cy="58.5" rx="1.0" ry="0.9" transform="rotate(144 85.3 58.5)" fill="#343e6e" opacity="0.85"/>
<ellipse cx="48.1" cy="73.2" rx="0.9" ry="0.9" transform="rotate(89 48.1 73.2)" fill="#3a4478" opacity="0.85"/>
<ellipse cx="85.5" cy="22.6" rx="0.8" ry="0.6" transform="rotate(72 85.5 22.6)" fill="#242a52" opacity="0.85"/>
<ellipse cx="94.2" cy="16.6" rx="1.1" ry="0.7" transform="rotate(61 94.2 16.6)" fill="#2a3472" opacity="0.85"/>
<ellipse cx="30.6" cy="49.6" rx="0.9" ry="0.8" transform="rotate(168 30.6 49.6)" fill="#343e6e" opacity="0.85"/>
<ellipse cx="50.2" cy="23.8" rx="0.9" ry="0.8" transform="rotate(12 50.2 23.8)" fill="#2a3472" opacity="0.85"/>
<ellipse cx="96.4" cy="9.8" rx="1.1" ry="0.9" transform="rotate(80 96.4 9.8)" fill="#2a3472" opacity="0.85"/>
<ellipse cx="26.6" cy="49.6" rx="1.0" ry="0.9" transform="rotate(121 26.6 49.6)" fill="#1e2448" opacity="0.85"/>
<ellipse cx="46.9" cy="68.2" rx="1.0" ry="0.9" transform="rotate(85 46.9 68.2)" fill="#2a3472" opacity="0.85"/>
<ellipse cx="49.7" cy="15.8" rx="1.2" ry="0.9" transform="rotate(61 49.7 15.8)" fill="#2a3472" opacity="0.85"/>
<ellipse cx="42.0" cy="5.7" rx="1.0" ry="0.7" transform="rotate(67 42.0 5.7)" fill="#283058" opacity="0.85"/>
<ellipse cx="59.8" cy="0.4" rx="1.2" ry="0.7" transform="rotate(54 59.8 0.4)" fill="#343e6e" opacity="0.85"/>
<ellipse cx="45.4" cy="73.2" rx="0.8" ry="0.7" transform="rotate(35 45.4 73.2)" fill="#2a3472" opacity="0.85"/>
<ellipse cx="71.7" cy="45.3" rx="1.1" ry="0.6" transform="rotate(28 71.7 45.3)" fill="#3a4478" opacity="0.85"/>
<ellipse cx="56.4" cy="21.9" rx="1.2" ry="0.8" transform="rotate(17 56.4 21.9)" fill="#2a3472" opacity="0.85"/>
<ellipse cx="65.7" cy="63.1" rx="0.8" ry="0.9" transform="rotate(0 65.7 63.1)" fill="#2a3472" opacity="0.85"/>
<ellipse cx="70.4" cy="22.7" rx="0.9" ry="0.8" transform="rotate(53 70.4 22.7)" fill="#1e2448" opacity="0.85"/>
<ellipse cx="7.0" cy="71.7" rx="0.9" ry="0.6" transform="rotate(136 7.0 71.7)" fill="#3a4478" opacity="0.85"/>
<ellipse cx="21.5" cy="24.2" rx="1.1" ry="0.8" transform="rotate(52 21.5 24.2)" fill="#343e6e" opacity="0.85"/>
<ellipse cx="18.3" cy="33.8" rx="0.8" ry="0.7" transform="rotate(167 18.3 33.8)" fill="#343e6e" opacity="0.85"/>
<ellipse cx="76.8" cy="47.4" rx="1.1" ry="0.7" transform="rotate(10 76.8 47.4)" fill="#3a4478" opacity="0.85"/>
<ellipse cx="60.1" cy="49.7" rx="1.2" ry="0.8" transform="rotate(16 60.1 49.7)" fill="#3a4478" opacity="0.85"/>
<ellipse cx="11.3" cy="11.7" rx="1.2" ry="0.7" transform="rotate(143 11.3 11.7)" fill="#1e2448" opacity="0.85"/>
<ellipse cx="35.3" cy="67.7" rx="1.1" ry="0.7" transform="rotate(16 35.3 67.7)" fill="#1e2448" opacity="0.85"/>
<ellipse cx="33.8" cy="45.0" rx="0.9" ry="0.8" transform="rotate(111 33.8 45.0)" fill="#1e2448" opacity="0.85"/>
<ellipse cx="68.2" cy="24.7" rx="0.9" ry="0.7" transform="rotate(26 68.2 24.7)" fill="#242a52" opacity="0.85"/>
<ellipse cx="26.3" cy="14.9" rx="1.0" ry="0.7" transform="rotate(176 26.3 14.9)" fill="#2a3472" opacity="0.85"/>
<ellipse cx="86.4" cy="41.7" rx="1.1" ry="0.9" transform="rotate(167 86.4 41.7)" fill="#1e2448" opacity="0.85"/>
<ellipse cx="77.5" cy="32.5" rx="1.1" ry="0.9" transform="rotate(52 77.5 32.5)" fill="#1e2448" opacity="0.85"/>
<ellipse cx="12.9" cy="20.9" rx="0.9" ry="0.9" transform="rotate(42 12.9 20.9)" fill="#242a52" opacity="0.85"/>
<ellipse cx="18.1" cy="43.1" rx="0.8" ry="0.8" transform="rotate(94 18.1 43.1)" fill="#242a52" opacity="0.85"/>
<ellipse cx="42.4" cy="43.0" rx="1.0" ry="0.9" transform="rotate(149 42.4 43.0)" fill="#343e6e" opacity="0.85"/>
<ellipse cx="67.3" cy="28.8" rx="0.8" ry="0.8" transform="rotate(129 67.3 28.8)" fill="#1e2448" opacity="0.85"/>
<ellipse cx="76.3" cy="3.9" rx="0.9" ry="0.9" transform="rotate(61 76.3 3.9)" fill="#283058" opacity="0.85"/>
<ellipse cx="60.0" cy="3.9" rx="0.8" ry="0.8" transform="rotate(174 60.0 3.9)" fill="#283058" opacity="0.85"/>
<ellipse cx="0.8" cy="40.7" rx="0.9" ry="0.7" transform="rotate(155 0.8 40.7)" fill="#2a3472" opacity="0.85"/>
<ellipse cx="73.0" cy="16.2" rx="1.0" ry="0.8" transform="rotate(79 73.0 16.2)" fill="#1e2448" opacity="0.85"/>
<ellipse cx="52.8" cy="17.4" rx="1.0" ry="0.9" transform="rotate(114 52.8 17.4)" fill="#2a3472" opacity="0.85"/>
<ellipse cx="31.9" cy="62.6" rx="0.9" ry="0.9" transform="rotate(145 31.9 62.6)" fill="#242a52" opacity="0.85"/>
<ellipse cx="58.4" cy="46.9" rx="1.0" ry="0.9" transform="rotate(82 58.4 46.9)" fill="#283058" opacity="0.85"/>
<ellipse cx="95.7" cy="77.5" rx="1.0" ry="0.8" transform="rotate(74 95.7 77.5)" fill="#3a4478" opacity="0.85"/>
<ellipse cx="85.0" cy="48.2" rx="1.2" ry="0.9" transform="rotate(10 85.0 48.2)" fill="#242a52" opacity="0.85"/>
<ellipse cx="90.7" cy="75.5" rx="0.8" ry="0.9" transform="rotate(164 90.7 75.5)" fill="#1e2448" opacity="0.85"/>
<ellipse cx="96.7" cy="19.9" rx="1.0" ry="0.7" transform="rotate(51 96.7 19.9)" fill="#1e2448" opacity="0.85"/>
<ellipse cx="21.5" cy="58.3" rx="0.8" ry="0.9" transform="rotate(58 21.5 58.3)" fill="#1e2448" opacity="0.85"/>
<ellipse cx="6.6" cy="40.4" rx="1.2" ry="0.8" transform="rotate(178 6.6 40.4)" fill="#2a3472" opacity="0.85"/>
<ellipse cx="55.7" cy="51.0" rx="0.8" ry="0.6" transform="rotate(2 55.7 51.0)" fill="#283058" opacity="0.85"/>
<ellipse cx="50.5" cy="29.1" rx="1.0" ry="0.9" transform="rotate(164 50.5 29.1)" fill="#283058" opacity="0.85"/>
<ellipse cx="85.4" cy="60.5" rx="0.9" ry="0.9" transform="rotate(3 85.4 60.5)" fill="#2a3472" opacity="0.85"/>
<ellipse cx="48.5" cy="66.7" rx="0.8" ry="0.8" transform="rotate(12 48.5 66.7)" fill="#3a4478" opacity="0.85"/>
<ellipse cx="69.5" cy="7.5" rx="0.8" ry="0.9" transform="rotate(74 69.5 7.5)" fill="#242a52" opacity="0.85"/>
<ellipse cx="26.1" cy="53.0" rx="0.9" ry="0.8" transform="rotate(16 26.1 53.0)" fill="#242a52" opacity="0.85"/>
<ellipse cx="3.3" cy="13.0" rx="1.0" ry="0.9" transform="rotate(113 3.3 13.0)" fill="#3a4478" opacity="0.85"/>
<ellipse cx="47.9" cy="66.7" rx="1.2" ry="0.6" transform="rotate(70 47.9 66.7)" fill="#2a3472" opacity="0.85"/>
<ellipse cx="51.8" cy="32.2" rx="1.2" ry="0.7" transform="rotate(48 51.8 32.2)" fill="#1e2448" opacity="0.85"/>
<ellipse cx="92.1" cy="25.6" rx="0.9" ry="0.9" transform="rotate(58 92.1 25.6)" fill="#3a4478" opacity="0.85"/>
<ellipse cx="11.4" cy="25.6" rx="0.9" ry="0.9" transform="rotate(68 11.4 25.6)" fill="#1e2448" opacity="0.85"/>
<ellipse cx="34.9" cy="63.1" rx="0.9" ry="0.7" transform="rotate(81 34.9 63.1)" fill="#1e2448" opacity="0.85"/>
<ellipse cx="54.2" cy="33.9" rx="0.9" ry="0.7" transform="rotate(152 54.2 33.9)" fill="#2a3472" opacity="0.85"/>
<ellipse cx="52.8" cy="54.4" rx="1.0" ry="0.9" transform="rotate(96 52.8 54.4)" fill="#3a4478" opacity="0.85"/>
<ellipse cx="95.7" cy="23.6" rx="1.1" ry="0.9" transform="rotate(82 95.7 23.6)" fill="#283058" opacity="0.85"/>
<ellipse cx="55.1" cy="15.6" rx="0.8" ry="0.8" transform="rotate(178 55.1 15.6)" fill="#2a3472" opacity="0.85"/>
<ellipse cx="66.0" cy="58.5" rx="0.9" ry="0.7" transform="rotate(39 66.0 58.5)" fill="#343e6e" opacity="0.85"/>
<ellipse cx="83.3" cy="12.6" rx="0.9" ry="0.8" transform="rotate(91 83.3 12.6)" fill="#283058" opacity="0.85"/>
<ellipse cx="31.5" cy="55.8" rx="0.9" ry="0.8" transform="rotate(123 31.5 55.8)" fill="#283058" opacity="0.85"/>
<ellipse cx="28.6" cy="39.4" rx="0.8" ry="0.8" transform="rotate(35 28.6 39.4)" fill="#2a3472" opacity="0.85"/>
<ellipse cx="69.7" cy="74.5" rx="1.2" ry="0.9" transform="rotate(29 69.7 74.5)" fill="#3a4478" opacity="0.85"/>
<ellipse cx="64.9" cy="62.4" rx="0.9" ry="0.8" transform="rotate(152 64.9 62.4)" fill="#1e2448" opacity="0.85"/>
<ellipse cx="85.5" cy="44.5" rx="0.9" ry="0.8" transform="rotate(31 85.5 44.5)" fill="#283058" opacity="0.85"/>
<ellipse cx="38.2" cy="32.1" rx="1.2" ry="0.9" transform="rotate(150 38.2 32.1)" fill="#2a3472" opacity="0.85"/>
<ellipse cx="88.1" cy="36.6" rx="0.9" ry="0.9" transform="rotate(152 88.1 36.6)" fill="#283058" opacity="0.85"/>
<ellipse cx="23.8" cy="17.8" rx="0.9" ry="0.9" transform="rotate(177 23.8 17.8)" fill="#343e6e" opacity="0.85"/>
<ellipse cx="87.2" cy="47.4" rx="0.8" ry="0.7" transform="rotate(48 87.2 47.4)" fill="#343e6e" opacity="0.85"/>
<ellipse cx="11.0" cy="45.3" rx="0.9" ry="0.6" transform="rotate(34 11.0 45.3)" fill="#3a4478" opacity="0.85"/>
<ellipse cx="6.6" cy="73.7" rx="1.1" ry="0.8" transform="rotate(75 6.6 73.7)" fill="#2a3472" opacity="0.85"/>
<ellipse cx="21.2" cy="20.3" rx="1.0" ry="0.8" transform="rotate(132 21.2 20.3)" fill="#1e2448" opacity="0.85"/>
<ellipse cx="41.8" cy="66.5" rx="1.1" ry="0.7" transform="rotate(25 41.8 66.5)" fill="#343e6e" opacity="0.85"/>
<ellipse cx="57.1" cy="5.4" rx="1.1" ry="0.6" transform="rotate(22 57.1 5.4)" fill="#1e2448" opacity="0.85"/>
<ellipse cx="32.6" cy="28.8" rx="1.2" ry="0.9" transform="rotate(98 32.6 28.8)" fill="#283058" opacity="0.85"/>
<ellipse cx="63.5" cy="70.9" rx="0.9" ry="0.8" transform="rotate(68 63.5 70.9)" fill="#343e6e" opacity="0.85"/>
<ellipse cx="53.3" cy="39.8" rx="1.1" ry="0.8" transform="rotate(146 53.3 39.8)" fill="#343e6e" opacity="0.85"/>
<ellipse cx="24.9" cy="72.1" rx="1.1" ry="0.8" transform="rotate(139 24.9 72.1)" fill="#1e2448" opacity="0.85"/>
<ellipse cx="7.2" cy="14.8" rx="0.9" ry="0.7" transform="rotate(33 7.2 14.8)" fill="#2a3472" opacity="0.85"/>
<ellipse cx="40.2" cy="66.5" rx="0.9" ry="0.7" transform="rotate(95 40.2 66.5)" fill="#283058" opacity="0.85"/>
<ellipse cx="70.2" cy="8.1" rx="1.2" ry="0.9" transform="rotate(51 70.2 8.1)" fill="#343e6e" opacity="0.85"/>
<ellipse cx="27.5" cy="2.3" rx="0.8" ry="0.7" transform="rotate(161 27.5 2.3)" fill="#3a4478" opacity="0.85"/>
<ellipse cx="26.7" cy="61.8" rx="0.9" ry="0.8" transform="rotate(47 26.7 61.8)" fill="#283058" opacity="0.85"/>
<ellipse cx="24.6" cy="57.4" rx="0.9" ry="0.6" transform="rotate(147 24.6 57.4)" fill="#3a4478" opacity="0.85"/>
<ellipse cx="37.5" cy="58.8" rx="1.0" ry="0.8" transform="rotate(43 37.5 58.8)" fill="#1e2448" opacity="0.85"/>
<ellipse cx="86.0" cy="61.3" rx="0.8" ry="0.7" transform="rotate(136 86.0 61.3)" fill="#242a52" opacity="0.85"/>
<ellipse cx="35.9" cy="13.1" rx="1.2" ry="0.8" transform="rotate(8 35.9 13.1)" fill="#1e2448" opacity="0.85"/>
<ellipse cx="5.9" cy="17.6" rx="0.8" ry="0.7" transform="rotate(17 5.9 17.6)" fill="#1e2448" opacity="0.85"/>
<ellipse cx="64.4" cy="7.5" rx="0.8" ry="0.8" transform="rotate(137 64.4 7.5)" fill="#343e6e" opacity="0.85"/>
<ellipse cx="94.2" cy="70.5" rx="0.8" ry="0.8" transform="rotate(153 94.2 70.5)" fill="#2a3472" opacity="0.85"/>
<ellipse cx="9.9" cy="39.9" rx="1.2" ry="0.9" transform="rotate(138 9.9 39.9)" fill="#3a4478" opacity="0.85"/>
<ellipse cx="73.9" cy="16.6" rx="0.8" ry="0.7" transform="rotate(40 73.9 16.6)" fill="#3a4478" opacity="0.85"/>
<ellipse cx="18.6" cy="31.8" rx="1.2" ry="0.7" transform="rotate(9 18.6 31.8)" fill="#242a52" opacity="0.85"/>
<ellipse cx="70.4" cy="43.4" rx="1.2" ry="0.9" transform="rotate(127 70.4 43.4)" fill="#2a3472" opacity="0.85"/>
<ellipse cx="23.9" cy="77.3" rx="1.1" ry="0.6" transform="rotate(30 23.9 77.3)" fill="#242a52" opacity="0.85"/>
<ellipse cx="4.9" cy="11.2" rx="1.2" ry="0.9" transform="rotate(94 4.9 11.2)" fill="#2a3472" opacity="0.85"/>
<ellipse cx="35.1" cy="59.1" rx="1.2" ry="0.8" transform="rotate(86 35.1 59.1)" fill="#3a4478" opacity="0.85"/>
<ellipse cx="42.9" cy="38.0" rx="1.1" ry="0.6" transform="rotate(153 42.9 38.0)" fill="#2a3472" opacity="0.85"/>
<ellipse cx="76.4" cy="71.5" rx="1.0" ry="0.8" transform="rotate(113 76.4 71.5)" fill="#3a4478" opacity="0.85"/>
<ellipse cx="92.2" cy="14.0" rx="1.1" ry="0.8" transform="rotate(18 92.2 14.0)" fill="#283058" opacity="0.85"/>
<ellipse cx="16.7" cy="56.7" rx="1.1" ry="0.9" transform="rotate(148 16.7 56.7)" fill="#1e2448" opacity="0.85"/>
<ellipse cx="66.2" cy="7.3" rx="1.2" ry="0.6" transform="rotate(36 66.2 7.3)" fill="#242a52" opacity="0.85"/>
<ellipse cx="97.5" cy="14.2" rx="1.0" ry="0.8" transform="rotate(86 97.5 14.2)" fill="#1e2448" opacity="0.85"/>
<ellipse cx="89.4" cy="2.7" rx="0.8" ry="0.8" transform="rotate(79 89.4 2.7)" fill="#3a4478" opacity="0.85"/>
<ellipse cx="71.8" cy="46.6" rx="0.8" ry="0.9" transform="rotate(140 71.8 46.6)" fill="#1e2448" opacity="0.85"/>
<ellipse cx="6.9" cy="17.8" rx="0.8" ry="0.6" transform="rotate(127 6.9 17.8)" fill="#3a4478" opacity="0.85"/>
<ellipse cx="22.3" cy="24.6" rx="1.2" ry="0.6" transform="rotate(14 22.3 24.6)" fill="#242a52" opacity="0.85"/>
<ellipse cx="84.6" cy="51.3" rx="0.9" ry="0.8" transform="rotate(113 84.6 51.3)" fill="#242a52" opacity="0.85"/>
<ellipse cx="39.7" cy="36.0" rx="0.9" ry="0.6" transform="rotate(107 39.7 36.0)" fill="#3a4478" opacity="0.85"/>
<ellipse cx="57.4" cy="3.6" rx="1.0" ry="0.6" transform="rotate(155 57.4 3.6)" fill="#242a52" opacity="0.85"/>
<ellipse cx="61.1" cy="73.7" rx="0.8" ry="0.9" transform="rotate(116 61.1 73.7)" fill="#242a52" opacity="0.85"/>
<ellipse cx="61.5" cy="66.5" rx="0.9" ry="0.9" transform="rotate(120 61.5 66.5)" fill="#1e2448" opacity="0.85"/>
<ellipse cx="24.6" cy="50.3" rx="0.8" ry="0.6" transform="rotate(21 24.6 50.3)" fill="#242a52" opacity="0.85"/>
<ellipse cx="13.7" cy="27.4" rx="1.1" ry="0.8" transform="rotate(29 13.7 27.4)" fill="#2a3472" opacity="0.85"/>
<ellipse cx="69.1" cy="32.1" rx="1.0" ry="0.6" transform="rotate(105 69.1 32.1)" fill="#2a3472" opacity="0.85"/>
<ellipse cx="15.0" cy="9.1" rx="0.9" ry="0.9" transform="rotate(144 15.0 9.1)" fill="#242a52" opacity="0.85"/>
<ellipse cx="41.8" cy="67.4" rx="1.0" ry="0.9" transform="rotate(147 41.8 67.4)" fill="#343e6e" opacity="0.85"/>
<ellipse cx="40.3" cy="20.3" rx="0.9" ry="0.6" transform="rotate(179 40.3 20.3)" fill="#283058" opacity="0.85"/>
<ellipse cx="29.6" cy="69.0" rx="0.8" ry="0.6" transform="rotate(91 29.6 69.0)" fill="#343e6e" opacity="0.85"/>
<ellipse cx="57.7" cy="4.9" rx="1.2" ry="0.8" transform="rotate(19 57.7 4.9)" fill="#283058" opacity="0.85"/>
<ellipse cx="55.1" cy="62.2" rx="1.0" ry="0.7" transform="rotate(38 55.1 62.2)" fill="#242a52" opacity="0.85"/>
<ellipse cx="60.1" cy="23.1" rx="1.1" ry="0.8" transform="rotate(174 60.1 23.1)" fill="#1e2448" opacity="0.85"/>
<ellipse cx="33.1" cy="12.9" rx="0.8" ry="0.6" transform="rotate(31 33.1 12.9)" fill="#242a52" opacity="0.85"/>
<ellipse cx="73.0" cy="25.4" rx="1.0" ry="0.8" transform="rotate(142 73.0 25.4)" fill="#2a3472" opacity="0.85"/>
<ellipse cx="69.7" cy="38.5" rx="1.1" ry="0.8" transform="rotate(48 69.7 38.5)" fill="#343e6e" opacity="0.85"/>
<ellipse cx="4.1" cy="62.6" rx="1.0" ry="0.7" transform="rotate(127 4.1 62.6)" fill="#242a52" opacity="0.85"/>
<ellipse cx="82.7" cy="57.7" rx="1.2" ry="0.7" transform="rotate(138 82.7 57.7)" fill="#343e6e" opacity="0.85"/>
<ellipse cx="85.9" cy="49.7" rx="1.0" ry="0.7" transform="rotate(117 85.9 49.7)" fill="#283058" opacity="0.85"/>
<ellipse cx="96.1" cy="13.7" rx="1.2" ry="0.8" transform="rotate(79 96.1 13.7)" fill="#1e2448" opacity="0.85"/>
<ellipse cx="69.3" cy="12.1" rx="1.1" ry="0.7" transform="rotate(166 69.3 12.1)" fill="#2a3472" opacity="0.85"/>
<ellipse cx="61.7" cy="15.0" rx="1.0" ry="0.9" transform="rotate(144 61.7 15.0)" fill="#242a52" opacity="0.85"/>
<ellipse cx="39.0" cy="46.4" rx="1.2" ry="0.6" transform="rotate(178 39.0 46.4)" fill="#283058" opacity="0.85"/>
<ellipse cx="44.5" cy="10.2" rx="0.8" ry="0.6" transform="rotate(116 44.5 10.2)" fill="#2a3472" opacity="0.85"/>
<ellipse cx="71.6" cy="51.8" rx="0.8" ry="0.9" transform="rotate(97 71.6 51.8)" fill="#242a52" opacity="0.85"/>
<ellipse cx="34.8" cy="48.1" rx="1.0" ry="0.8" transform="rotate(134 34.8 48.1)" fill="#343e6e" opacity="0.85"/>
<ellipse cx="43.2" cy="39.5" rx="1.1" ry="0.8" transform="rotate(153 43.2 39.5)" fill="#343e6e" opacity="0.85"/>
<ellipse cx="19.4" cy="11.7" rx="1.0" ry="0.9" transform="rotate(85 19.4 11.7)" fill="#1e2448" opacity="0.85"/>
<ellipse cx="6.7" cy="10.1" rx="0.8" ry="0.8" transform="rotate(94 6.7 10.1)" fill="#3a4478" opacity="0.85"/>
<ellipse cx="20.3" cy="7.1" rx="1.1" ry="0.8" transform="rotate(109 20.3 7.1)" fill="#3a4478" opacity="0.85"/>
<ellipse cx="13.0" cy="24.1" rx="1.1" ry="0.8" transform="rotate(166 13.0 24.1)" fill="#2a3472" opacity="0.85"/>
<ellipse cx="56.4" cy="13.9" rx="1.2" ry="0.8" transform="rotate(34 56.4 13.9)" fill="#3a4478" opacity="0.85"/>
<ellipse cx="11.0" cy="68.6" rx="1.2" ry="0.9" transform="rotate(46 11.0 68.6)" fill="#242a52" opacity="0.85"/>
<ellipse cx="73.0" cy="18.7" rx="1.1" ry="0.9" transform="rotate(161 73.0 18.7)" fill="#3a4478" opacity="0.85"/>
<ellipse cx="12.8" cy="29.8" rx="1.2" ry="0.6" transform="rotate(47 12.8 29.8)" fill="#3a4478" opacity="0.85"/>
<ellipse cx="12.4" cy="68.2" rx="1.1" ry="0.7" transform="rotate(28 12.4 68.2)" fill="#1e2448" opacity="0.85"/>
<ellipse cx="69.3" cy="75.5" rx="1.1" ry="0.7" transform="rotate(66 69.3 75.5)" fill="#242a52" opacity="0.85"/>
<ellipse cx="71.7" cy="31.7" rx="1.2" ry="0.9" transform="rotate(147 71.7 31.7)" fill="#3a4478" opacity="0.85"/>
<ellipse cx="70.7" cy="64.8" rx="0.9" ry="0.7" transform="rotate(159 70.7 64.8)" fill="#1e2448" opacity="0.85"/>
<ellipse cx="92.8" cy="61.2" rx="1.0" ry="0.7" transform="rotate(59 92.8 61.2)" fill="#283058" opacity="0.85"/>
<ellipse cx="89.3" cy="50.3" rx="1.0" ry="0.8" transform="rotate(32 89.3 50.3)" fill="#1e2448" opacity="0.85"/>
<ellipse cx="13.3" cy="6.8" rx="1.0" ry="0.8" transform="rotate(167 13.3 6.8)" fill="#3a4478" opacity="0.85"/>
<ellipse cx="51.0" cy="77.1" rx="0.9" ry="0.9" transform="rotate(52 51.0 77.1)" fill="#3a4478" opacity="0.85"/>
<ellipse cx="2.4" cy="60.7" rx="0.9" ry="0.9" transform="rotate(8 2.4 60.7)" fill="#3a4478" opacity="0.85"/>
<ellipse cx="78.5" cy="73.5" rx="0.8" ry="0.6" transform="rotate(1 78.5 73.5)" fill="#283058" opacity="0.85"/>
<ellipse cx="27.8" cy="21.2" rx="1.1" ry="0.6" transform="rotate(55 27.8 21.2)" fill="#3a4478" opacity="0.85"/>
<ellipse cx="12.5" cy="23.9" rx="1.1" ry="0.9" transform="rotate(95 12.5 23.9)" fill="#283058" opacity="0.85"/>
<ellipse cx="37.9" cy="61.9" rx="1.1" ry="0.8" transform="rotate(4 37.9 61.9)" fill="#283058" opacity="0.85"/>
<ellipse cx="67.6" cy="58.2" rx="1.0" ry="0.8" transform="rotate(29 67.6 58.2)" fill="#242a52" opacity="0.85"/>
<ellipse cx="85.0" cy="6.3" rx="1.1" ry="0.9" transform="rotate(109 85.0 6.3)" fill="#2a3472" opacity="0.85"/>
<ellipse cx="86.8" cy="61.4" rx="0.8" ry="0.8" transform="rotate(49 86.8 61.4)" fill="#343e6e" opacity="0.85"/>
<ellipse cx="81.5" cy="71.7" rx="0.8" ry="0.7" transform="rotate(175 81.5 71.7)" fill="#1e2448" opacity="0.85"/>
<ellipse cx="61.3" cy="47.5" rx="0.9" ry="0.7" transform="rotate(140 61.3 47.5)" fill="#283058" opacity="0.85"/>
<ellipse cx="41.1" cy="77.4" rx="1.2" ry="0.8" transform="rotate(134 41.1 77.4)" fill="#1e2448" opacity="0.85"/>
<ellipse cx="3.0" cy="1.8" rx="0.8" ry="0.8" transform="rotate(156 3.0 1.8)" fill="#2a3472" opacity="0.85"/>
<ellipse cx="11.3" cy="16.7" rx="1.1" ry="0.9" transform="rotate(102 11.3 16.7)" fill="#283058" opacity="0.85"/>
<ellipse cx="26.5" cy="64.0" rx="1.2" ry="0.7" transform="rotate(51 26.5 64.0)" fill="#343e6e" opacity="0.85"/>
<ellipse cx="9.7" cy="43.7" rx="1.0" ry="0.9" transform="rotate(6 9.7 43.7)" fill="#2a3472" opacity="0.85"/>
<ellipse cx="37.8" cy="33.3" rx="1.1" ry="0.7" transform="rotate(154 37.8 33.3)" fill="#3a4478" opacity="0.85"/>
<ellipse cx="6.6" cy="52.8" rx="1.2" ry="0.8" transform="rotate(130 6.6 52.8)" fill="#1e2448" opacity="0.85"/>
<ellipse cx="7.4" cy="21.4" rx="0.8" ry="0.7" transform="rotate(5 7.4 21.4)" fill="#3a4478" opacity="0.85"/>
<ellipse cx="32.0" cy="39.4" rx="1.2" ry="0.8" transform="rotate(121 32.0 39.4)" fill="#3a4478" opacity="0.85"/>
<ellipse cx="9.6" cy="31.3" rx="1.1" ry="0.8" transform="rotate(82 9.6 31.3)" fill="#1e2448" opacity="0.85"/>
<ellipse cx="22.4" cy="8.1" rx="1.1" ry="0.9" transform="rotate(91 22.4 8.1)" fill="#242a52" opacity="0.85"/>
<ellipse cx="13.6" cy="28.2" rx="0.8" ry="0.7" transform="rotate(26 13.6 28.2)" fill="#242a52" opacity="0.85"/>
<ellipse cx="69.1" cy="31.0" rx="1.1" ry="0.8" transform="rotate(159 69.1 31.0)" fill="#2a3472" opacity="0.85"/>
<ellipse cx="46.2" cy="60.6" rx="1.0" ry="0.7" transform="rotate(164 46.2 60.6)" fill="#3a4478" opacity="0.85"/>
<ellipse cx="24.6" cy="43.5" rx="1.1" ry="0.7" transform="rotate(50 24.6 43.5)" fill="#3a4478" opacity="0.85"/>
<ellipse cx="21.1" cy="69.0" rx="1.0" ry="0.6" transform="rotate(40 21.1 69.0)" fill="#1e2448" opacity="0.85"/>
<ellipse cx="49.8" cy="57.6" rx="1.2" ry="0.9" transform="rotate(58 49.8 57.6)" fill="#242a52" opacity="0.85"/>
<ellipse cx="67.8" cy="3.4" rx="1.0" ry="0.9" transform="rotate(137 67.8 3.4)" fill="#3a4478" opacity="0.85"/>
<ellipse cx="52.3" cy="27.4" rx="0.8" ry="0.8" transform="rotate(48 52.3 27.4)" fill="#343e6e" opacity="0.85"/>
<ellipse cx="4.7" cy="71.9" rx="0.8" ry="0.7" transform="rotate(32 4.7 71.9)" fill="#283058" opacity="0.85"/>
<ellipse cx="43.9" cy="60.3" rx="1.0" ry="0.8" transform="rotate(116 43.9 60.3)" fill="#283058" opacity="0.85"/>
<ellipse cx="32.7" cy="29.8" rx="1.1" ry="0.8" transform="rotate(8 32.7 29.8)" fill="#283058" opacity="0.85"/>
<ellipse cx="73.5" cy="3.8" rx="1.0" ry="0.8" transform="rotate(44 73.5 3.8)" fill="#1e2448" opacity="0.85"/>
<ellipse cx="45.9" cy="26.5" rx="0.9" ry="0.9" transform="rotate(45 45.9 26.5)" fill="#343e6e" opacity="0.85"/>
<ellipse cx="34.9" cy="71.9" rx="0.9" ry="0.8" transform="rotate(66 34.9 71.9)" fill="#2a3472" opacity="0.85"/>
<ellipse cx="35.9" cy="10.0" rx="1.0" ry="0.8" transform="rotate(147 35.9 10.0)" fill="#1e2448" opacity="0.85"/>
<ellipse cx="92.8" cy="66.7" rx="1.1" ry="0.9" transform="rotate(123 92.8 66.7)" fill="#283058" opacity="0.85"/>
<ellipse cx="50.0" cy="59.7" rx="0.9" ry="0.8" transform="rotate(137 50.0 59.7)" fill="#3a4478" opacity="0.85"/>
<ellipse cx="56.2" cy="14.4" rx="1.1" ry="0.7" transform="rotate(72 56.2 14.4)" fill="#242a52" opacity="0.85"/>
<ellipse cx="85.6" cy="32.6" rx="1.1" ry="0.6" transform="rotate(71 85.6 32.6)" fill="#3a4478" opacity="0.85"/>
<ellipse cx="8.0" cy="72.1" rx="1.1" ry="0.7" transform="rotate(29 8.0 72.1)" fill="#343e6e" opacity="0.85"/>
<ellipse cx="87.8" cy="8.4" rx="0.8" ry="0.8" transform="rotate(151 87.8 8.4)" fill="#1e2448" opacity="0.85"/>
<ellipse cx="20.5" cy="76.1" rx="0.9" ry="0.9" transform="rotate(106 20.5 76.1)" fill="#1e2448" opacity="0.85"/>
<ellipse cx="85.0" cy="73.3" rx="0.9" ry="0.8" transform="rotate(122 85.0 73.3)" fill="#343e6e" opacity="0.85"/>
<ellipse cx="18.2" cy="15.4" rx="0.8" ry="0.9" transform="rotate(40 18.2 15.4)" fill="#2a3472" opacity="0.85"/>
<ellipse cx="52.8" cy="30.1" rx="0.8" ry="0.6" transform="rotate(67 52.8 30.1)" fill="#1e2448" opacity="0.85"/>
<ellipse cx="70.5" cy="76.2" rx="0.9" ry="0.7" transform="rotate(39 70.5 76.2)" fill="#343e6e" opacity="0.85"/>
<ellipse cx="9.8" cy="59.8" rx="1.2" ry="0.6" transform="rotate(138 9.8 59.8)" fill="#2a3472" opacity="0.85"/>
<ellipse cx="81.0" cy="28.0" rx="0.9" ry="0.8" transform="rotate(46 81.0 28.0)" fill="#343e6e" opacity="0.85"/>
<ellipse cx="50.4" cy="59.5" rx="1.1" ry="0.8" transform="rotate(113 50.4 59.5)" fill="#343e6e" opacity="0.85"/>
<ellipse cx="75.2" cy="52.5" rx="1.2" ry="0.9" transform="rotate(122 75.2 52.5)" fill="#283058" opacity="0.85"/>
<ellipse cx="20.9" cy="59.2" rx="1.1" ry="0.7" transform="rotate(69 20.9 59.2)" fill="#2a3472" opacity="0.85"/>
<ellipse cx="23.8" cy="72.2" rx="1.1" ry="0.9" transform="rotate(144 23.8 72.2)" fill="#283058" opacity="0.85"/>
<ellipse cx="16.2" cy="74.9" rx="1.2" ry="0.8" transform="rotate(75 16.2 74.9)" fill="#283058" opacity="0.85"/>
<ellipse cx="83.8" cy="67.3" rx="1.1" ry="0.9" transform="rotate(28 83.8 67.3)" fill="#283058" opacity="0.85"/>
<ellipse cx="32.3" cy="71.2" rx="0.9" ry="0.7" transform="rotate(61 32.3 71.2)" fill="#283058" opacity="0.85"/>
<ellipse cx="85.3" cy="58.6" rx="1.1" ry="0.7" transform="rotate(173 85.3 58.6)" fill="#343e6e" opacity="0.85"/>
<ellipse cx="37.9" cy="4.0" rx="0.9" ry="0.7" transform="rotate(174 37.9 4.0)" fill="#283058" opacity="0.85"/>
<ellipse cx="43.3" cy="49.7" rx="0.9" ry="0.6" transform="rotate(150 43.3 49.7)" fill="#283058" opacity="0.85"/>
<ellipse cx="82.1" cy="19.7" rx="0.8" ry="0.7" transform="rotate(20 82.1 19.7)" fill="#3a4478" opacity="0.85"/>
<ellipse cx="48.3" cy="74.6" rx="0.8" ry="0.8" transform="rotate(79 48.3 74.6)" fill="#343e6e" opacity="0.85"/>
<ellipse cx="60.9" cy="31.0" rx="1.1" ry="0.8" transform="rotate(112 60.9 31.0)" fill="#242a52" opacity="0.85"/>
<ellipse cx="57.1" cy="68.4" rx="1.2" ry="0.8" transform="rotate(45 57.1 68.4)" fill="#283058" opacity="0.85"/>
<ellipse cx="30.3" cy="11.2" rx="0.9" ry="0.9" transform="rotate(99 30.3 11.2)" fill="#2a3472" opacity="0.85"/>
<ellipse cx="2.3" cy="13.3" rx="0.8" ry="0.9" transform="rotate(25 2.3 13.3)" fill="#343e6e" opacity="0.85"/>
<ellipse cx="87.2" cy="27.6" rx="1.0" ry="0.8" transform="rotate(14 87.2 27.6)" fill="#1e2448" opacity="0.85"/>
<ellipse cx="28.4" cy="11.0" rx="0.8" ry="0.8" transform="rotate(97 28.4 11.0)" fill="#1e2448" opacity="0.85"/>
<ellipse cx="81.5" cy="30.0" rx="1.0" ry="0.8" transform="rotate(69 81.5 30.0)" fill="#3a4478" opacity="0.85"/>
<ellipse cx="8.0" cy="57.0" rx="1.2" ry="0.7" transform="rotate(31 8.0 57.0)" fill="#343e6e" opacity="0.85"/>
<ellipse cx="73.0" cy="29.0" rx="0.9" ry="0.7" transform="rotate(25 73.0 29.0)" fill="#343e6e" opacity="0.85"/>
<ellipse cx="57.9" cy="59.5" rx="1.2" ry="0.7" transform="rotate(149 57.9 59.5)" fill="#3a4478" opacity="0.85"/>
<ellipse cx="85.3" cy="29.2" rx="1.0" ry="0.7" transform="rotate(179 85.3 29.2)" fill="#1e2448" opacity="0.85"/>
<ellipse cx="13.8" cy="68.0" rx="0.8" ry="0.7" transform="rotate(17 13.8 68.0)" fill="#343e6e" opacity="0.85"/>
<ellipse cx="17.7" cy="62.9" rx="1.2" ry="0.9" transform="rotate(91 17.7 62.9)" fill="#1e2448" opacity="0.85"/>
<ellipse cx="35.5" cy="73.5" rx="1.1" ry="0.7" transform="rotate(68 35.5 73.5)" fill="#343e6e" opacity="0.85"/>
<ellipse cx="68.8" cy="64.3" rx="1.0" ry="0.7" transform="rotate(91 68.8 64.3)" fill="#283058" opacity="0.85"/>
<ellipse cx="28.9" cy="12.2" rx="1.2" ry="0.7" transform="rotate(75 28.9 12.2)" fill="#242a52" opacity="0.85"/>
<ellipse cx="4.1" cy="5.5" rx="0.9" ry="0.7" transform="rotate(137 4.1 5.5)" fill="#1e2448" opacity="0.85"/>
<ellipse cx="57.2" cy="32.2" rx="1.1" ry="0.6" transform="rotate(147 57.2 32.2)" fill="#283058" opacity="0.85"/>
<ellipse cx="86.1" cy="35.2" rx="1.2" ry="0.7" transform="rotate(159 86.1 35.2)" fill="#1e2448" opacity="0.85"/>
<ellipse cx="45.1" cy="6.9" rx="0.9" ry="0.8" transform="rotate(22 45.1 6.9)" fill="#1e2448" opacity="0.85"/>
<ellipse cx="56.5" cy="22.5" rx="1.0" ry="0.9" transform="rotate(20 56.5 22.5)" fill="#343e6e" opacity="0.85"/>
<ellipse cx="83.6" cy="62.6" rx="1.0" ry="0.6" transform="rotate(96 83.6 62.6)" fill="#2a3472" opacity="0.85"/>
<ellipse cx="33.2" cy="22.1" rx="1.1" ry="0.6" transform="rotate(113 33.2 22.1)" fill="#3a4478" opacity="0.85"/>
<ellipse cx="38.4" cy="15.0" rx="1.2" ry="0.7" transform="rotate(69 38.4 15.0)" fill="#283058" opacity="0.85"/>
<ellipse cx="34.9" cy="36.4" rx="1.0" ry="0.8" transform="rotate(97 34.9 36.4)" fill="#343e6e" opacity="0.85"/>
<ellipse cx="89.6" cy="48.1" rx="0.9" ry="0.8" transform="rotate(70 89.6 48.1)" fill="#1e2448" opacity="0.85"/>
<ellipse cx="45.6" cy="54.1" rx="0.9" ry="0.7" transform="rotate(40 45.6 54.1)" fill="#1e2448" opacity="0.85"/>
<ellipse cx="27.1" cy="25.9" rx="1.2" ry="0.7" transform="rotate(142 27.1 25.9)" fill="#3a4478" opacity="0.85"/>
<ellipse cx="64.2" cy="76.0" rx="1.2" ry="0.8" transform="rotate(72 64.2 76.0)" fill="#2a3472" opacity="0.85"/>
<ellipse cx="15.6" cy="22.4" rx="1.2" ry="0.7" transform="rotate(128 15.6 22.4)" fill="#2a3472" opacity="0.85"/>
<ellipse cx="95.6" cy="58.6" rx="1.1" ry="0.7" transform="rotate(126 95.6 58.6)" fill="#242a52" opacity="0.85"/>
<ellipse cx="97.1" cy="73.3" rx="1.0" ry="0.8" transform="rotate(77 97.1 73.3)" fill="#1e2448" opacity="0.85"/>
<ellipse cx="49.0" cy="33.1" rx="1.1" ry="0.7" transform="rotate(97 49.0 33.1)" fill="#2a3472" opacity="0.85"/>
<ellipse cx="37.7" cy="63.5" rx="0.9" ry="0.7" transform="rotate(72 37.7 63.5)" fill="#343e6e" opacity="0.85"/>
<ellipse cx="40.2" cy="73.1" rx="0.9" ry="0.8" transform="rotate(2 40.2 73.1)" fill="#1e2448" opacity="0.85"/>
<ellipse cx="39.5" cy="20.8" rx="0.9" ry="0.9" transform="rotate(92 39.5 20.8)" fill="#242a52" opacity="0.85"/>
<ellipse cx="31.6" cy="27.7" rx="0.8" ry="0.9" transform="rotate(160 31.6 27.7)" fill="#2a3472" opacity="0.85"/>
<ellipse cx="87.2" cy="13.1" rx="1.1" ry="0.8" transform="rotate(136 87.2 13.1)" fill="#283058" opacity="0.85"/>
<ellipse cx="92.4" cy="24.9" rx="0.8" ry="0.7" transform="rotate(71 92.4 24.9)" fill="#242a52" opacity="0.85"/>
<ellipse cx="53.9" cy="11.0" rx="1.1" ry="0.8" transform="rotate(58 53.9 11.0)" fill="#283058" opacity="0.85"/>
<ellipse cx="75.6" cy="68.5" rx="1.2" ry="0.8" transform="rotate(44 75.6 68.5)" fill="#343e6e" opacity="0.85"/>
<ellipse cx="5.2" cy="59.1" rx="1.1" ry="0.8" transform="rotate(48 5.2 59.1)" fill="#283058" opacity="0.85"/>
<ellipse cx="73.3" cy="10.2" rx="1.2" ry="0.6" transform="rotate(42 73.3 10.2)" fill="#283058" opacity="0.85"/>
<ellipse cx="65.1" cy="7.7" rx="1.0" ry="0.6" transform="rotate(104 65.1 7.7)" fill="#1e2448" opacity="0.85"/>
<ellipse cx="85.7" cy="56.4" rx="1.2" ry="0.9" transform="rotate(27 85.7 56.4)" fill="#2a3472" opacity="0.85"/>
<ellipse cx="89.8" cy="44.8" rx="1.1" ry="0.7" transform="rotate(36 89.8 44.8)" fill="#3a4478" opacity="0.85"/>
<ellipse cx="15.8" cy="50.2" rx="1.0" ry="0.8" transform="rotate(127 15.8 50.2)" fill="#283058" opacity="0.85"/>
<ellipse cx="77.4" cy="52.6" rx="1.1" ry="0.6" transform="rotate(94 77.4 52.6)" fill="#242a52" opacity="0.85"/>
<ellipse cx="68.7" cy="25.1" rx="0.9" ry="0.6" transform="rotate(85 68.7 25.1)" fill="#343e6e" opacity="0.85"/>
<ellipse cx="3.5" cy="17.6" rx="1.1" ry="0.9" transform="rotate(132 3.5 17.6)" fill="#242a52" opacity="0.85"/>
<ellipse cx="21.5" cy="5.0" rx="1.0" ry="0.7" transform="rotate(174 21.5 5.0)" fill="#283058" opacity="0.85"/>
<ellipse cx="30.1" cy="14.7" rx="1.2" ry="0.9" transform="rotate(47 30.1 14.7)" fill="#343e6e" opacity="0.85"/>
<ellipse cx="21.5" cy="19.3" rx="0.9" ry="0.7" transform="rotate(31 21.5 19.3)" fill="#2a3472" opacity="0.85"/>
<ellipse cx="16.4" cy="28.4" rx="1.0" ry="0.6" transform="rotate(145 16.4 28.4)" fill="#242a52" opacity="0.85"/>
<ellipse cx="15.6" cy="29.6" rx="1.1" ry="0.8" transform="rotate(89 15.6 29.6)" fill="#3a4478" opacity="0.85"/>
<ellipse cx="3.3" cy="43.9" rx="1.1" ry="0.9" transform="rotate(63 3.3 43.9)" fill="#2a3472" opacity="0.85"/>
<ellipse cx="19.1" cy="26.8" rx="1.0" ry="0.6" transform="rotate(131 19.1 26.8)" fill="#3a4478" opacity="0.85"/>
<ellipse cx="80.3" cy="23.4" rx="1.1" ry="0.7" transform="rotate(40 80.3 23.4)" fill="#242a52" opacity="0.85"/>
<ellipse cx="8.6" cy="49.3" rx="0.8" ry="0.8" transform="rotate(160 8.6 49.3)" fill="#343e6e" opacity="0.85"/>
<ellipse cx="86.5" cy="4.1" rx="1.0" ry="0.8" transform="rotate(93 86.5 4.1)" fill="#343e6e" opacity="0.85"/>
<ellipse cx="6.0" cy="28.1" rx="0.9" ry="0.9" transform="rotate(91 6.0 28.1)" fill="#2a3472" opacity="0.85"/>
<ellipse cx="38.6" cy="26.6" rx="1.1" ry="0.8" transform="rotate(81 38.6 26.6)" fill="#2a3472" opacity="0.85"/>
<ellipse cx="6.7" cy="27.8" rx="1.1" ry="0.7" transform="rotate(3 6.7 27.8)" fill="#343e6e" opacity="0.85"/>
<ellipse cx="89.7" cy="41.2" rx="0.8" ry="0.7" transform="rotate(129 89.7 41.2)" fill="#1e2448" opacity="0.85"/>
<ellipse cx="61.5" cy="31.4" rx="0.8" ry="0.6" transform="rotate(84 61.5 31.4)" fill="#3a4478" opacity="0.85"/>
<ellipse cx="16.5" cy="65.7" rx="1.0" ry="0.8" transform="rotate(38 16.5 65.7)" fill="#283058" opacity="0.85"/>
<ellipse cx="27.0" cy="6.1" rx="0.9" ry="0.7" transform="rotate(157 27.0 6.1)" fill="#2a3472" opacity="0.85"/>
<ellipse cx="87.8" cy="12.3" rx="1.1" ry="0.7" transform="rotate(127 87.8 12.3)" fill="#283058" opacity="0.85"/>
<ellipse cx="72.1" cy="76.1" rx="1.0" ry="0.8" transform="rotate(123 72.1 76.1)" fill="#2a3472" opacity="0.85"/>
<ellipse cx="81.1" cy="45.1" rx="1.2" ry="0.7" transform="rotate(137 81.1 45.1)" fill="#343e6e" opacity="0.85"/>
<ellipse cx="53.4" cy="18.9" rx="0.8" ry="0.8" transform="rotate(160 53.4 18.9)" fill="#283058" opacity="0.85"/>
<ellipse cx="81.3" cy="23.7" rx="1.1" ry="0.7" transform="rotate(24 81.3 23.7)" fill="#2a3472" opacity="0.85"/>
<ellipse cx="11.2" cy="69.6" rx="1.2" ry="0.6" transform="rotate(70 11.2 69.6)" fill="#283058" opacity="0.85"/>
<ellipse cx="65.8" cy="24.9" rx="1.2" ry="0.7" transform="rotate(138 65.8 24.9)" fill="#283058" opacity="0.85"/>
<ellipse cx="62.0" cy="67.2" rx="0.9" ry="0.8" transform="rotate(37 62.0 67.2)" fill="#3a4478" opacity="0.85"/>
<ellipse cx="75.1" cy="15.7" rx="1.1" ry="0.9" transform="rotate(64 75.1 15.7)" fill="#1e2448" opacity="0.85"/>
<ellipse cx="61.4" cy="71.3" rx="0.8" ry="0.9" transform="rotate(62 61.4 71.3)" fill="#283058" opacity="0.85"/>
<ellipse cx="92.2" cy="53.4" rx="1.1" ry="0.8" transform="rotate(176 92.2 53.4)" fill="#2a3472" opacity="0.85"/>
<ellipse cx="86.7" cy="33.8" rx="1.2" ry="0.6" transform="rotate(146 86.7 33.8)" fill="#283058" opacity="0.85"/>
<ellipse cx="60.8" cy="28.2" rx="0.8" ry="0.7" transform="rotate(88 60.8 28.2)" fill="#1e2448" opacity="0.85"/>
<ellipse cx="95.3" cy="73.9" rx="0.9" ry="0.9" transform="rotate(50 95.3 73.9)" fill="#343e6e" opacity="0.85"/>
<ellipse cx="51.2" cy="68.7" rx="1.2" ry="0.8" transform="rotate(34 51.2 68.7)" fill="#343e6e" opacity="0.85"/>
<ellipse cx="79.2" cy="50.9" rx="1.2" ry="0.9" transform="rotate(78 79.2 50.9)" fill="#343e6e" opacity="0.85"/>
<ellipse cx="50.9" cy="46.3" rx="1.0" ry="0.8" transform="rotate(88 50.9 46.3)" fill="#283058" opacity="0.85"/>
<ellipse cx="84.0" cy="36.1" rx="1.2" ry="0.8" transform="rotate(42 84.0 36.1)" fill="#242a52" opacity="0.85"/>
<ellipse cx="26.9" cy="42.9" rx="0.9" ry="0.9" transform="rotate(11 26.9 42.9)" fill="#343e6e" opacity="0.85"/>
<ellipse cx="81.8" cy="52.8" rx="1.1" ry="0.8" transform="rotate(66 81.8 52.8)" fill="#283058" opacity="0.85"/>
<ellipse cx="25.4" cy="53.5" rx="0.8" ry="0.9" transform="rotate(51 25.4 53.5)" fill="#3a4478" opacity="0.85"/>
<ellipse cx="18.9" cy="58.3" rx="1.1" ry="0.7" transform="rotate(6 18.9 58.3)" fill="#283058" opacity="0.85"/>
<ellipse cx="42.2" cy="48.3" rx="0.8" ry="0.9" transform="rotate(97 42.2 48.3)" fill="#343e6e" opacity="0.85"/>
<ellipse cx="83.5" cy="48.6" rx="1.0" ry="0.7" transform="rotate(178 83.5 48.6)" fill="#1e2448" opacity="0.85"/>
<ellipse cx="55.1" cy="50.8" rx="1.0" ry="0.9" transform="rotate(133 55.1 50.8)" fill="#242a52" opacity="0.85"/>
<ellipse cx="6.0" cy="48.1" rx="0.9" ry="0.8" transform="rotate(45 6.0 48.1)" fill="#343e6e" opacity="0.85"/>
<ellipse cx="93.9" cy="7.7" rx="0.8" ry="0.8" transform="rotate(17 93.9 7.7)" fill="#3a4478" opacity="0.85"/>
<ellipse cx="7.5" cy="60.4" rx="1.1" ry="0.9" transform="rotate(94 7.5 60.4)" fill="#3a4478" opacity="0.85"/>
<ellipse cx="88.8" cy="72.5" rx="0.8" ry="0.7" transform="rotate(27 88.8 72.5)" fill="#2a3472" opacity="0.85"/>
<ellipse cx="96.4" cy="36.2" rx="1.2" ry="0.8" transform="rotate(107 96.4 36.2)" fill="#242a52" opacity="0.85"/>
<ellipse cx="79.6" cy="29.2" rx="1.0" ry="0.7" transform="rotate(142 79.6 29.2)" fill="#1e2448" opacity="0.85"/>
<ellipse cx="43.9" cy="42.0" rx="1.2" ry="0.8" transform="rotate(2 43.9 42.0)" fill="#3a4478" opacity="0.85"/>
<ellipse cx="89.0" cy="31.0" rx="0.9" ry="0.9" transform="rotate(51 89.0 31.0)" fill="#3a4478" opacity="0.85"/>
<ellipse cx="50.9" cy="7.9" rx="1.0" ry="0.8" transform="rotate(9 50.9 7.9)" fill="#1e2448" opacity="0.85"/>
<ellipse cx="92.5" cy="28.9" rx="0.9" ry="0.8" transform="rotate(47 92.5 28.9)" fill="#1e2448" opacity="0.85"/>
<ellipse cx="73.2" cy="42.0" rx="0.9" ry="0.8" transform="rotate(143 73.2 42.0)" fill="#283058" opacity="0.85"/>
<ellipse cx="58.8" cy="22.9" rx="0.8" ry="0.7" transform="rotate(148 58.8 22.9)" fill="#283058" opacity="0.85"/>
<ellipse cx="40.5" cy="8.5" rx="1.1" ry="0.9" transform="rotate(134 40.5 8.5)" fill="#3a4478" opacity="0.85"/>
<ellipse cx="85.1" cy="12.6" rx="1.0" ry="0.8" transform="rotate(92 85.1 12.6)" fill="#2a3472" opacity="0.85"/>
<ellipse cx="50.4" cy="31.5" rx="0.8" ry="0.7" transform="rotate(41 50.4 31.5)" fill="#343e6e" opacity="0.85"/>
<ellipse cx="71.9" cy="59.9" rx="0.8" ry="0.8" transform="rotate(1 71.9 59.9)" fill="#343e6e" opacity="0.85"/>
<ellipse cx="77.2" cy="37.7" rx="0.8" ry="0.9" transform="rotate(100 77.2 37.7)" fill="#1e2448" opacity="0.85"/>
<ellipse cx="45.9" cy="4.4" rx="1.0" ry="0.9" transform="rotate(155 45.9 4.4)" fill="#283058" opacity="0.85"/>
<ellipse cx="58.4" cy="15.0" rx="1.2" ry="0.8" transform="rotate(4 58.4 15.0)" fill="#2a3472" opacity="0.85"/>
<ellipse cx="46.5" cy="2.8" rx="1.0" ry="0.7" transform="rotate(159 46.5 2.8)" fill="#283058" opacity="0.85"/>
<ellipse cx="88.0" cy="24.5" rx="1.1" ry="0.8" transform="rotate(20 88.0 24.5)" fill="#343e6e" opacity="0.85"/>
<ellipse cx="56.5" cy="23.1" rx="1.2" ry="0.7" transform="rotate(63 56.5 23.1)" fill="#1e2448" opacity="0.85"/>
<ellipse cx="73.6" cy="53.8" rx="1.2" ry="0.9" transform="rotate(107 73.6 53.8)" fill="#343e6e" opacity="0.85"/>
<ellipse cx="33.6" cy="30.6" rx="1.1" ry="0.6" transform="rotate(139 33.6 30.6)" fill="#3a4478" opacity="0.85"/>
<ellipse cx="6.8" cy="22.0" rx="0.9" ry="0.9" transform="rotate(72 6.8 22.0)" fill="#242a52" opacity="0.85"/>
<ellipse cx="85.7" cy="35.9" rx="1.0" ry="0.7" transform="rotate(121 85.7 35.9)" fill="#2a3472" opacity="0.85"/>
<ellipse cx="14.9" cy="13.6" rx="1.2" ry="0.8" transform="rotate(46 14.9 13.6)" fill="#283058" opacity="0.85"/>
<ellipse cx="64.5" cy="27.1" rx="0.8" ry="0.8" transform="rotate(2 64.5 27.1)" fill="#1e2448" opacity="0.85"/>
<ellipse cx="30.9" cy="55.7" rx="0.8" ry="0.9" transform="rotate(167 30.9 55.7)" fill="#3a4478" opacity="0.85"/>
<ellipse cx="52.5" cy="27.9" rx="0.9" ry="0.9" transform="rotate(138 52.5 27.9)" fill="#242a52" opacity="0.85"/>
<ellipse cx="86.9" cy="1.2" rx="1.2" ry="0.7" transform="rotate(157 86.9 1.2)" fill="#242a52" opacity="0.85"/>
<ellipse cx="77.4" cy="75.1" rx="1.0" ry="0.9" transform="rotate(89 77.4 75.1)" fill="#242a52" opacity="0.85"/>
<ellipse cx="64.0" cy="47.8" rx="1.2" ry="0.8" transform="rotate(76 64.0 47.8)" fill="#283058" opacity="0.85"/>
<ellipse cx="1.8" cy="8.8" rx="1.1" ry="0.6" transform="rotate(116 1.8 8.8)" fill="#3a4478" opacity="0.85"/>
<ellipse cx="6.2" cy="65.4" rx="0.9" ry="0.9" transform="rotate(87 6.2 65.4)" fill="#2a3472" opacity="0.85"/>
<ellipse cx="65.2" cy="5.1" rx="1.1" ry="0.7" transform="rotate(7 65.2 5.1)" fill="#3a4478" opacity="0.85"/>
<ellipse cx="4.2" cy="20.8" rx="0.9" ry="0.8" transform="rotate(72 4.2 20.8)" fill="#343e6e" opacity="0.85"/>
<ellipse cx="93.0" cy="25.4" rx="1.0" ry="0.9" transform="rotate(45 93.0 25.4)" fill="#3a4478" opacity="0.85"/>
<ellipse cx="75.0" cy="46.2" rx="1.2" ry="0.9" transform="rotate(33 75.0 46.2)" fill="#242a52" opacity="0.85"/>
<ellipse cx="84.1" cy="16.3" rx="0.9" ry="0.6" transform="rotate(69 84.1 16.3)" fill="#1e2448" opacity="0.85"/>
<ellipse cx="63.0" cy="62.0" rx="0.8" ry="0.8" transform="rotate(118 63.0 62.0)" fill="#3a4478" opacity="0.85"/>
<ellipse cx="70.6" cy="71.6" rx="0.8" ry="0.8" transform="rotate(60 70.6 71.6)" fill="#3a4478" opacity="0.85"/>
<ellipse cx="47.8" cy="53.3" rx="1.2" ry="0.6" transform="rotate(56 47.8 53.3)" fill="#2a3472" opacity="0.85"/>
<ellipse cx="15.1" cy="45.5" rx="0.8" ry="0.9" transform="rotate(24 15.1 45.5)" fill="#242a52" opacity="0.85"/>
<ellipse cx="3.4" cy="7.4" rx="0.9" ry="0.9" transform="rotate(57 3.4 7.4)" fill="#2a3472" opacity="0.85"/>
<ellipse cx="15.9" cy="74.2" rx="1.1" ry="0.7" transform="rotate(175 15.9 74.2)" fill="#242a52" opacity="0.85"/>
<ellipse cx="61.1" cy="49.9" rx="1.2" ry="0.8" transform="rotate(121 61.1 49.9)" fill="#3a4478" opacity="0.85"/>
<ellipse cx="46.4" cy="52.7" rx="0.9" ry="0.6" transform="rotate(152 46.4 52.7)" fill="#283058" opacity="0.85"/>
<ellipse cx="79.4" cy="42.6" rx="0.9" ry="0.6" transform="rotate(65 79.4 42.6)" fill="#283058" opacity="0.85"/>
<ellipse cx="31.4" cy="65.9" rx="1.2" ry="0.9" transform="rotate(169 31.4 65.9)" fill="#343e6e" opacity="0.85"/>
<ellipse cx="3.7" cy="47.7" rx="0.9" ry="0.8" transform="rotate(11 3.7 47.7)" fill="#283058" opacity="0.85"/>
<ellipse cx="59.7" cy="35.5" rx="1.2" ry="0.8" transform="rotate(141 59.7 35.5)" fill="#1e2448" opacity="0.85"/>
<ellipse cx="35.6" cy="75.1" rx="0.9" ry="0.9" transform="rotate(1 35.6 75.1)" fill="#3a4478" opacity="0.85"/>
<ellipse cx="41.6" cy="20.3" rx="0.8" ry="0.8" transform="rotate(176 41.6 20.3)" fill="#3a4478" opacity="0.85"/>
<ellipse cx="21.3" cy="27.1" rx="1.0" ry="0.6" transform="rotate(43 21.3 27.1)" fill="#242a52" opacity="0.85"/>
<ellipse cx="62.0" cy="28.0" rx="0.8" ry="0.7" transform="rotate(126 62.0 28.0)" fill="#242a52" opacity="0.85"/>
<ellipse cx="32.7" cy="61.0" rx="0.8" ry="0.9" transform="rotate(92 32.7 61.0)" fill="#3a4478" opacity="0.85"/>
<ellipse cx="72.8" cy="57.5" rx="1.1" ry="0.7" transform="rotate(60 72.8 57.5)" fill="#2a3472" opacity="0.85"/>
<ellipse cx="48.9" cy="63.0" rx="0.9" ry="0.9" transform="rotate(79 48.9 63.0)" fill="#3a4478" opacity="0.85"/>
<ellipse cx="96.6" cy="11.4" rx="0.8" ry="0.6" transform="rotate(64 96.6 11.4)" fill="#2a3472" opacity="0.85"/>
<ellipse cx="52.5" cy="71.1" rx="1.1" ry="0.7" transform="rotate(101 52.5 71.1)" fill="#1e2448" opacity="0.85"/>
<ellipse cx="87.6" cy="29.2" rx="1.0" ry="0.9" transform="rotate(16 87.6 29.2)" fill="#1e2448" opacity="0.85"/>
<ellipse cx="17.2" cy="66.1" rx="1.2" ry="0.6" transform="rotate(47 17.2 66.1)" fill="#343e6e" opacity="0.85"/>
<ellipse cx="64.7" cy="18.5" rx="1.1" ry="0.8" transform="rotate(105 64.7 18.5)" fill="#242a52" opacity="0.85"/>
<ellipse cx="93.3" cy="27.5" rx="1.2" ry="0.9" transform="rotate(10 93.3 27.5)" fill="#3a4478" opacity="0.85"/>
<ellipse cx="36.7" cy="62.6" rx="1.0" ry="0.9" transform="rotate(172 36.7 62.6)" fill="#283058" opacity="0.85"/>
<ellipse cx="91.5" cy="60.9" rx="0.9" ry="0.7" transform="rotate(12 91.5 60.9)" fill="#283058" opacity="0.85"/>
<ellipse cx="26.3" cy="39.9" rx="1.0" ry="0.7" transform="rotate(65 26.3 39.9)" fill="#343e6e" opacity="0.85"/>
<ellipse cx="21.2" cy="24.3" rx="0.8" ry="0.6" transform="rotate(178 21.2 24.3)" fill="#242a52" opacity="0.85"/>
<ellipse cx="45.3" cy="52.5" rx="0.9" ry="0.9" transform="rotate(170 45.3 52.5)" fill="#343e6e" opacity="0.85"/>
<ellipse cx="44.0" cy="16.7" rx="1.0" ry="0.8" transform="rotate(86 44.0 16.7)" fill="#3a4478" opacity="0.85"/>
<ellipse cx="26.1" cy="71.3" rx="1.1" ry="0.7" transform="rotate(34 26.1 71.3)" fill="#343e6e" opacity="0.85"/>
<ellipse cx="11.5" cy="44.7" rx="0.9" ry="0.8" transform="rotate(122 11.5 44.7)" fill="#2a3472" opacity="0.85"/>
<ellipse cx="41.0" cy="61.6" rx="1.2" ry="0.7" transform="rotate(24 41.0 61.6)" fill="#3a4478" opacity="0.85"/>
<ellipse cx="50.3" cy="70.8" rx="1.2" ry="0.6" transform="rotate(176 50.3 70.8)" fill="#3a4478" opacity="0.85"/>
<ellipse cx="63.4" cy="15.2" rx="1.1" ry="0.6" transform="rotate(56 63.4 15.2)" fill="#242a52" opacity="0.85"/>
<ellipse cx="93.2" cy="8.8" rx="0.8" ry="0.7" transform="rotate(45 93.2 8.8)" fill="#2a3472" opacity="0.85"/>
<ellipse cx="36.3" cy="45.7" rx="1.0" ry="0.8" transform="rotate(56 36.3 45.7)" fill="#242a52" opacity="0.85"/>
<ellipse cx="21.4" cy="48.2" rx="0.8" ry="0.7" transform="rotate(29 21.4 48.2)" fill="#242a52" opacity="0.85"/>
<ellipse cx="91.0" cy="35.6" rx="1.1" ry="0.8" transform="rotate(124 91.0 35.6)" fill="#283058" opacity="0.85"/>
<ellipse cx="87.9" cy="23.6" rx="0.9" ry="0.9" transform="rotate(59 87.9 23.6)" fill="#242a52" opacity="0.85"/>
<ellipse cx="41.7" cy="62.8" rx="1.2" ry="0.9" transform="rotate(92 41.7 62.8)" fill="#283058" opacity="0.85"/>
<ellipse cx="48.2" cy="73.3" rx="0.9" ry="0.6" transform="rotate(148 48.2 73.3)" fill="#3a4478" opacity="0.85"/>
<ellipse cx="18.1" cy="2.4" rx="1.2" ry="0.8" transform="rotate(95 18.1 2.4)" fill="#343e6e" opacity="0.85"/>
<ellipse cx="45.9" cy="13.0" rx="0.8" ry="0.7" transform="rotate(100 45.9 13.0)" fill="#283058" opacity="0.85"/>
<ellipse cx="7.5" cy="39.7" rx="0.8" ry="0.8" transform="rotate(78 7.5 39.7)" fill="#3a4478" opacity="0.85"/>
<ellipse cx="2.0" cy="20.4" rx="1.2" ry="0.7" transform="rotate(161 2.0 20.4)" fill="#242a52" opacity="0.85"/>
<ellipse cx="36.1" cy="23.2" rx="0.9" ry="0.8" transform="rotate(9 36.1 23.2)" fill="#3a4478" opacity="0.85"/>
<ellipse cx="94.4" cy="29.0" rx="1.0" ry="0.6" transform="rotate(5 94.4 29.0)" fill="#343e6e" opacity="0.85"/>
<ellipse cx="78.9" cy="21.4" rx="1.0" ry="0.8" transform="rotate(78 78.9 21.4)" fill="#283058" opacity="0.85"/>
<ellipse cx="83.8" cy="36.0" rx="1.0" ry="0.9" transform="rotate(148 83.8 36.0)" fill="#283058" opacity="0.85"/>
<ellipse cx="5.2" cy="74.1" rx="1.0" ry="0.7" transform="rotate(89 5.2 74.1)" fill="#1e2448" opacity="0.85"/>
<ellipse cx="6.8" cy="10.7" rx="1.1" ry="0.6" transform="rotate(143 6.8 10.7)" fill="#3a4478" opacity="0.85"/>
<ellipse cx="65.6" cy="50.6" rx="1.0" ry="0.7" transform="rotate(77 65.6 50.6)" fill="#3a4478" opacity="0.85"/>
<ellipse cx="54.9" cy="30.3" rx="1.2" ry="0.7" transform="rotate(139 54.9 30.3)" fill="#3a4478" opacity="0.85"/>
<ellipse cx="74.5" cy="51.5" rx="0.9" ry="0.8" transform="rotate(34 74.5 51.5)" fill="#1e2448" opacity="0.85"/>
<ellipse cx="87.1" cy="55.2" rx="1.1" ry="0.8" transform="rotate(120 87.1 55.2)" fill="#1e2448" opacity="0.85"/>
<ellipse cx="39.7" cy="21.5" rx="1.1" ry="0.8" transform="rotate(114 39.7 21.5)" fill="#3a4478" opacity="0.85"/>
<ellipse cx="6.3" cy="70.7" rx="1.2" ry="0.9" transform="rotate(37 6.3 70.7)" fill="#3a4478" opacity="0.85"/>
<ellipse cx="28.9" cy="9.0" rx="0.9" ry="0.7" transform="rotate(110 28.9 9.0)" fill="#242a52" opacity="0.85"/>
<ellipse cx="45.2" cy="66.6" rx="1.2" ry="0.9" transform="rotate(54 45.2 66.6)" fill="#242a52" opacity="0.85"/>
<ellipse cx="11.9" cy="66.1" rx="1.0" ry="0.7" transform="rotate(172 11.9 66.1)" fill="#1e2448" opacity="0.85"/>
<ellipse cx="2.0" cy="34.3" rx="1.0" ry="0.7" transform="rotate(111 2.0 34.3)" fill="#2a3472" opacity="0.85"/>
<ellipse cx="58.8" cy="66.9" rx="0.9" ry="0.7" transform="rotate(28 58.8 66.9)" fill="#3a4478" opacity="0.85"/>
<ellipse cx="8.8" cy="70.0" rx="1.0" ry="0.7" transform="rotate(166 8.8 70.0)" fill="#2a3472" opacity="0.85"/>
<ellipse cx="23.3" cy="10.7" rx="1.1" ry="0.9" transform="rotate(47 23.3 10.7)" fill="#343e6e" opacity="0.85"/>
<ellipse cx="45.6" cy="60.6" rx="1.0" ry="0.6" transform="rotate(11 45.6 60.6)" fill="#242a52" opacity="0.85"/>
<ellipse cx="35.2" cy="41.1" rx="1.0" ry="0.7" transform="rotate(64 35.2 41.1)" fill="#2a3472" opacity="0.85"/>
<ellipse cx="14.1" cy="8.7" rx="0.9" ry="0.7" transform="rotate(136 14.1 8.7)" fill="#2a3472" opacity="0.85"/>
<ellipse cx="97.5" cy="7.1" rx="1.1" ry="0.6" transform="rotate(80 97.5 7.1)" fill="#242a52" opacity="0.85"/>
<ellipse cx="57.5" cy="29.7" rx="1.0" ry="0.9" transform="rotate(175 57.5 29.7)" fill="#2a3472" opacity="0.85"/>
<ellipse cx="59.5" cy="43.0" rx="0.9" ry="0.9" transform="rotate(65 59.5 43.0)" fill="#242a52" opacity="0.85"/>
<ellipse cx="24.0" cy="34.9" rx="0.8" ry="0.8" transform="rotate(24 24.0 34.9)" fill="#3a4478" opacity="0.85"/>
<ellipse cx="32.8" cy="65.4" rx="0.8" ry="0.7" transform="rotate(168 32.8 65.4)" fill="#343e6e" opacity="0.85"/>
<ellipse cx="53.4" cy="53.8" rx="1.2" ry="0.7" transform="rotate(147 53.4 53.8)" fill="#343e6e" opacity="0.85"/>
<ellipse cx="38.6" cy="24.4" rx="0.8" ry="0.9" transform="rotate(95 38.6 24.4)" fill="#3a4478" opacity="0.85"/>
<ellipse cx="68.6" cy="53.0" rx="1.1" ry="0.9" transform="rotate(38 68.6 53.0)" fill="#343e6e" opacity="0.85"/>
<ellipse cx="68.5" cy="3.9" rx="0.9" ry="0.7" transform="rotate(173 68.5 3.9)" fill="#3a4478" opacity="0.85"/>
<ellipse cx="88.1" cy="8.8" rx="0.9" ry="0.8" transform="rotate(2 88.1 8.8)" fill="#1e2448" opacity="0.85"/>
<ellipse cx="80.6" cy="15.0" rx="1.2" ry="0.6" transform="rotate(121 80.6 15.0)" fill="#242a52" opacity="0.85"/>
<ellipse cx="41.8" cy="76.7" rx="0.8" ry="0.7" transform="rotate(113 41.8 76.7)" fill="#242a52" opacity="0.85"/>
<ellipse cx="19.4" cy="75.2" rx="0.9" ry="0.8" transform="rotate(14 19.4 75.2)" fill="#1e2448" opacity="0.85"/>
<ellipse cx="37.6" cy="73.0" rx="1.2" ry="0.7" transform="rotate(30 37.6 73.0)" fill="#1e2448" opacity="0.85"/>
<ellipse cx="42.0" cy="65.0" rx="1.1" ry="0.8" transform="rotate(42 42.0 65.0)" fill="#343e6e" opacity="0.85"/>
<ellipse cx="56.8" cy="18.0" rx="1.2" ry="0.7" transform="rotate(115 56.8 18.0)" fill="#343e6e" opacity="0.85"/>
<ellipse cx="17.5" cy="75.7" rx="0.8" ry="0.7" transform="rotate(115 17.5 75.7)" fill="#343e6e" opacity="0.85"/>
<ellipse cx="40.1" cy="30.7" rx="1.2" ry="0.9" transform="rotate(1 40.1 30.7)" fill="#1e2448" opacity="0.85"/>
<ellipse cx="57.6" cy="55.4" rx="0.8" ry="0.8" transform="rotate(112 57.6 55.4)" fill="#1e2448" opacity="0.85"/>
<ellipse cx="53.9" cy="49.5" rx="1.1" ry="0.8" transform="rotate(99 53.9 49.5)" fill="#3a4478" opacity="0.85"/>
<ellipse cx="48.4" cy="38.6" rx="1.0" ry="0.7" transform="rotate(164 48.4 38.6)" fill="#343e6e" opacity="0.85"/>
<ellipse cx="54.5" cy="53.0" rx="1.1" ry="0.8" transform="rotate(18 54.5 53.0)" fill="#242a52" opacity="0.85"/>
<ellipse cx="57.1" cy="35.6" rx="0.8" ry="0.7" transform="rotate(39 57.1 35.6)" fill="#3a4478" opacity="0.85"/>
<ellipse cx="59.0" cy="59.7" rx="1.0" ry="0.8" transform="rotate(59 59.0 59.7)" fill="#283058" opacity="0.85"/>
<ellipse cx="23.6" cy="62.9" rx="0.8" ry="0.9" transform="rotate(51 23.6 62.9)" fill="#283058" opacity="0.85"/>
<ellipse cx="58.4" cy="16.9" rx="1.1" ry="0.7" transform="rotate(129 58.4 16.9)" fill="#3a4478" opacity="0.85"/>
<ellipse cx="72.6" cy="49.3" rx="1.0" ry="0.7" transform="rotate(34 72.6 49.3)" fill="#1e2448" opacity="0.85"/>
<ellipse cx="80.4" cy="58.2" rx="0.9" ry="0.6" transform="rotate(144 80.4 58.2)" fill="#1e2448" opacity="0.85"/>
<ellipse cx="69.1" cy="74.9" rx="1.1" ry="0.7" transform="rotate(6 69.1 74.9)" fill="#2a3472" opacity="0.85"/>
<ellipse cx="44.3" cy="71.0" rx="1.0" ry="0.7" transform="rotate(77 44.3 71.0)" fill="#2a3472" opacity="0.85"/>
<ellipse cx="95.9" cy="10.1" rx="1.0" ry="0.9" transform="rotate(67 95.9 10.1)" fill="#283058" opacity="0.85"/>
<ellipse cx="10.4" cy="45.9" rx="1.1" ry="0.7" transform="rotate(97 10.4 45.9)" fill="#283058" opacity="0.85"/>
<ellipse cx="46.9" cy="30.5" rx="0.9" ry="0.9" transform="rotate(75 46.9 30.5)" fill="#3a4478" opacity="0.85"/>
<ellipse cx="75.2" cy="47.9" rx="1.1" ry="0.8" transform="rotate(6 75.2 47.9)" fill="#343e6e" opacity="0.85"/>
<ellipse cx="78.4" cy="10.3" rx="1.1" ry="0.8" transform="rotate(90 78.4 10.3)" fill="#242a52" opacity="0.85"/>
<ellipse cx="41.0" cy="73.6" rx="0.9" ry="0.7" transform="rotate(147 41.0 73.6)" fill="#283058" opacity="0.85"/>
<ellipse cx="93.8" cy="14.5" rx="0.9" ry="0.9" transform="rotate(136 93.8 14.5)" fill="#2a3472" opacity="0.85"/>
<ellipse cx="45.7" cy="10.0" rx="0.8" ry="0.8" transform="rotate(25 45.7 10.0)" fill="#343e6e" opacity="0.85"/>
<ellipse cx="90.6" cy="12.0" rx="1.1" ry="0.7" transform="rotate(153 90.6 12.0)" fill="#2a3472" opacity="0.85"/>
<ellipse cx="97.5" cy="31.8" rx="0.8" ry="0.9" transform="rotate(66 97.5 31.8)" fill="#283058" opacity="0.85"/>
<ellipse cx="92.4" cy="12.4" rx="1.0" ry="0.7" transform="rotate(11 92.4 12.4)" fill="#1e2448" opacity="0.85"/>
<ellipse cx="23.4" cy="7.2" rx="1.1" ry="0.8" transform="rotate(88 23.4 7.2)" fill="#343e6e" opacity="0.85"/>
<ellipse cx="64.0" cy="17.0" rx="0.9" ry="0.7" transform="rotate(38 64.0 17.0)" fill="#283058" opacity="0.85"/>
<ellipse cx="23.2" cy="18.2" rx="1.1" ry="0.8" transform="rotate(179 23.2 18.2)" fill="#242a52" opacity="0.85"/>
<ellipse cx="39.7" cy="0.8" rx="1.1" ry="0.6" transform="rotate(8 39.7 0.8)" fill="#283058" opacity="0.85"/>
<ellipse cx="11.9" cy="66.7" rx="1.2" ry="0.9" transform="rotate(21 11.9 66.7)" fill="#2a3472" opacity="0.85"/>
<ellipse cx="62.0" cy="31.4" rx="0.9" ry="0.6" transform="rotate(18 62.0 31.4)" fill="#343e6e" opacity="0.85"/>
<ellipse cx="15.0" cy="27.7" rx="0.9" ry="0.7" transform="rotate(100 15.0 27.7)" fill="#283058" opacity="0.85"/>
<ellipse cx="85.8" cy="35.0" rx="1.1" ry="0.6" transform="rotate(81 85.8 35.0)" fill="#343e6e" opacity="0.85"/>
<ellipse cx="93.9" cy="70.3" rx="1.1" ry="0.7" transform="rotate(126 93.9 70.3)" fill="#343e6e" opacity="0.85"/>
<ellipse cx="0.3" cy="52.4" rx="1.1" ry="0.9" transform="rotate(117 0.3 52.4)" fill="#2a3472" opacity="0.85"/>
<ellipse cx="61.9" cy="53.7" rx="1.2" ry="0.8" transform="rotate(53 61.9 53.7)" fill="#343e6e" opacity="0.85"/>
<ellipse cx="5.5" cy="16.0" rx="1.0" ry="0.7" transform="rotate(103 5.5 16.0)" fill="#3a4478" opacity="0.85"/>
<ellipse cx="90.1" cy="66.0" rx="1.0" ry="0.9" transform="rotate(115 90.1 66.0)" fill="#1e2448" opacity="0.85"/>
<ellipse cx="34.2" cy="27.0" rx="0.8" ry="0.8" transform="rotate(126 34.2 27.0)" fill="#1e2448" opacity="0.85"/>
<ellipse cx="15.1" cy="65.2" rx="0.9" ry="0.6" transform="rotate(3 15.1 65.2)" fill="#242a52" opacity="0.85"/>
<ellipse cx="20.2" cy="18.7" rx="0.8" ry="0.9" transform="rotate(65 20.2 18.7)" fill="#283058" opacity="0.85"/>
<ellipse cx="41.7" cy="10.6" rx="1.2" ry="0.8" transform="rotate(155 41.7 10.6)" fill="#242a52" opacity="0.85"/>
<ellipse cx="88.1" cy="16.2" rx="1.0" ry="0.9" transform="rotate(140 88.1 16.2)" fill="#343e6e" opacity="0.85"/>
<ellipse cx="72.4" cy="65.9" rx="1.0" ry="0.8" transform="rotate(97 72.4 65.9)" fill="#1e2448" opacity="0.85"/>
<ellipse cx="87.8" cy="42.7" rx="0.8" ry="0.9" transform="rotate(53 87.8 42.7)" fill="#1e2448" opacity="0.85"/>
<ellipse cx="40.7" cy="39.3" rx="0.8" ry="0.8" transform="rotate(9 40.7 39.3)" fill="#2a3472" opacity="0.85"/>
<ellipse cx="70.1" cy="56.4" rx="0.9" ry="0.9" transform="rotate(100 70.1 56.4)" fill="#1e2448" opacity="0.85"/>
<ellipse cx="72.7" cy="15.2" rx="0.8" ry="0.9" transform="rotate(129 72.7 15.2)" fill="#343e6e" opacity="0.85"/>
<ellipse cx="18.6" cy="54.3" rx="1.0" ry="0.8" transform="rotate(49 18.6 54.3)" fill="#242a52" opacity="0.85"/>
<ellipse cx="96.1" cy="44.8" rx="0.8" ry="0.7" transform="rotate(1 96.1 44.8)" fill="#283058" opacity="0.85"/>
<ellipse cx="93.2" cy="75.7" rx="1.2" ry="0.8" transform="rotate(133 93.2 75.7)" fill="#283058" opacity="0.85"/>
<ellipse cx="22.0" cy="13.3" rx="1.1" ry="0.7" transform="rotate(76 22.0 13.3)" fill="#2a3472" opacity="0.85"/>
<ellipse cx="27.2" cy="71.7" rx="1.2" ry="0.8" transform="rotate(176 27.2 71.7)" fill="#2a3472" opacity="0.85"/>
<ellipse cx="5.0" cy="67.3" rx="0.9" ry="0.8" transform="rotate(19 5.0 67.3)" fill="#3a4478" opacity="0.85"/>
<ellipse cx="24.9" cy="37.2" rx="0.8" ry="0.9" transform="rotate(25 24.9 37.2)" fill="#343e6e" opacity="0.85"/>
<ellipse cx="45.2" cy="34.3" rx="1.1" ry="0.7" transform="rotate(46 45.2 34.3)" fill="#1e2448" opacity="0.85"/>
<ellipse cx="30.3" cy="16.2" rx="0.8" ry="0.7" transform="rotate(38 30.3 16.2)" fill="#242a52" opacity="0.85"/>
<ellipse cx="29.9" cy="61.0" rx="0.9" ry="0.9" transform="rotate(26 29.9 61.0)" fill="#2a3472" opacity="0.85"/>
<ellipse cx="60.4" cy="52.8" rx="1.0" ry="0.8" transform="rotate(173 60.4 52.8)" fill="#343e6e" opacity="0.85"/>
<ellipse cx="76.9" cy="18.5" rx="1.0" ry="0.7" transform="rotate(104 76.9 18.5)" fill="#3a4478" opacity="0.85"/>
<ellipse cx="8.7" cy="32.7" rx="1.1" ry="0.7" transform="rotate(148 8.7 32.7)" fill="#283058" opacity="0.85"/>
<ellipse cx="6.5" cy="22.3" rx="1.1" ry="0.8" transform="rotate(130 6.5 22.3)" fill="#343e6e" opacity="0.85"/>
<ellipse cx="59.7" cy="27.4" rx="1.0" ry="0.8" transform="rotate(141 59.7 27.4)" fill="#3a4478" opacity="0.85"/>
<ellipse cx="34.9" cy="17.6" rx="1.1" ry="0.8" transform="rotate(9 34.9 17.6)" fill="#3a4478" opacity="0.85"/>
<ellipse cx="3.2" cy="48.1" rx="1.1" ry="0.9" transform="rotate(107 3.2 48.1)" fill="#283058" opacity="0.85"/>
<ellipse cx="29.6" cy="34.8" rx="1.1" ry="0.9" transform="rotate(119 29.6 34.8)" fill="#3a4478" opacity="0.85"/>
<ellipse cx="23.8" cy="77.4" rx="0.9" ry="0.8" transform="rotate(61 23.8 77.4)" fill="#1e2448" opacity="0.85"/>
<ellipse cx="57.0" cy="20.1" rx="1.2" ry="0.9" transform="rotate(45 57.0 20.1)" fill="#1e2448" opacity="0.85"/>
<ellipse cx="5.1" cy="70.0" rx="1.1" ry="0.7" transform="rotate(102 5.1 70.0)" fill="#343e6e" opacity="0.85"/>
<ellipse cx="44.5" cy="71.1" rx="0.9" ry="0.8" transform="rotate(144 44.5 71.1)" fill="#343e6e" opacity="0.85"/>
<ellipse cx="26.0" cy="48.0" rx="1.0" ry="0.9" transform="rotate(131 26.0 48.0)" fill="#283058" opacity="0.85"/>
<ellipse cx="20.6" cy="33.2" rx="0.9" ry="0.6" transform="rotate(131 20.6 33.2)" fill="#1e2448" opacity="0.85"/>
<ellipse cx="13.5" cy="6.7" rx="1.1" ry="0.6" transform="rotate(77 13.5 6.7)" fill="#242a52" opacity="0.85"/>
<ellipse cx="84.0" cy="73.8" rx="1.0" ry="0.6" transform="rotate(39 84.0 73.8)" fill="#283058" opacity="0.85"/>
<ellipse cx="94.9" cy="30.0" rx="0.8" ry="0.7" transform="rotate(36 94.9 30.0)" fill="#2a3472" opacity="0.85"/>
<ellipse cx="84.9" cy="23.8" rx="1.1" ry="0.6" transform="rotate(92 84.9 23.8)" fill="#343e6e" opacity="0.85"/>
<ellipse cx="88.6" cy="51.1" rx="0.9" ry="0.9" transform="rotate(115 88.6 51.1)" fill="#343e6e" opacity="0.85"/>
<ellipse cx="95.6" cy="75.3" rx="0.8" ry="0.7" transform="rotate(75 95.6 75.3)" fill="#343e6e" opacity="0.85"/>
<ellipse cx="29.0" cy="16.2" rx="1.2" ry="0.9" transform="rotate(70 29.0 16.2)" fill="#343e6e" opacity="0.85"/>
<ellipse cx="39.9" cy="52.6" rx="1.0" ry="0.9" transform="rotate(152 39.9 52.6)" fill="#343e6e" opacity="0.85"/>
<ellipse cx="49.5" cy="9.0" rx="0.8" ry="0.8" transform="rotate(27 49.5 9.0)" fill="#1e2448" opacity="0.85"/>
<ellipse cx="93.6" cy="77.4" rx="1.2" ry="0.8" transform="rotate(9 93.6 77.4)" fill="#3a4478" opacity="0.85"/>
<ellipse cx="64.8" cy="42.4" rx="1.2" ry="0.7" transform="rotate(175 64.8 42.4)" fill="#242a52" opacity="0.85"/>
<ellipse cx="10.3" cy="73.4" rx="1.0" ry="0.9" transform="rotate(62 10.3 73.4)" fill="#1e2448" opacity="0.85"/>
<ellipse cx="15.2" cy="38.4" rx="1.1" ry="0.7" transform="rotate(126 15.2 38.4)" fill="#1e2448" opacity="0.85"/>
<ellipse cx="50.0" cy="15.6" rx="1.1" ry="0.9" transform="rotate(32 50.0 15.6)" fill="#242a52" opacity="0.85"/>
<ellipse cx="96.3" cy="10.9" rx="0.8" ry="0.7" transform="rotate(18 96.3 10.9)" fill="#2a3472" opacity="0.85"/>
<ellipse cx="72.3" cy="24.0" rx="0.9" ry="0.9" transform="rotate(35 72.3 24.0)" fill="#242a52" opacity="0.85"/>
<ellipse cx="84.4" cy="17.5" rx="1.0" ry="0.8" transform="rotate(114 84.4 17.5)" fill="#2a3472" opacity="0.85"/>
<ellipse cx="63.9" cy="57.9" rx="1.0" ry="0.7" transform="rotate(120 63.9 57.9)" fill="#242a52" opacity="0.85"/>
<ellipse cx="41.2" cy="73.8" rx="1.1" ry="0.8" transform="rotate(173 41.2 73.8)" fill="#283058" opacity="0.85"/>
<ellipse cx="35.6" cy="53.8" rx="0.8" ry="0.9" transform="rotate(93 35.6 53.8)" fill="#2a3472" opacity="0.85"/>
<ellipse cx="70.1" cy="37.5" rx="0.8" ry="0.8" transform="rotate(178 70.1 37.5)" fill="#343e6e" opacity="0.85"/>
<ellipse cx="30.6" cy="49.7" rx="1.2" ry="0.6" transform="rotate(73 30.6 49.7)" fill="#1e2448" opacity="0.85"/>
<ellipse cx="45.9" cy="43.8" rx="0.8" ry="0.7" transform="rotate(102 45.9 43.8)" fill="#283058" opacity="0.85"/>
<ellipse cx="92.3" cy="19.6" rx="1.1" ry="0.8" transform="rotate(171 92.3 19.6)" fill="#3a4478" opacity="0.85"/>
<ellipse cx="47.2" cy="61.3" rx="1.2" ry="0.9" transform="rotate(133 47.2 61.3)" fill="#283058" opacity="0.85"/>
<ellipse cx="17.8" cy="24.3" rx="0.9" ry="0.9" transform="rotate(47 17.8 24.3)" fill="#242a52" opacity="0.85"/>
<ellipse cx="34.6" cy="6.2" rx="1.2" ry="0.9" transform="rotate(73 34.6 6.2)" fill="#1e2448" opacity="0.85"/>
<ellipse cx="75.8" cy="73.1" rx="0.9" ry="0.8" transform="rotate(145 75.8 73.1)" fill="#1e2448" opacity="0.85"/>
<ellipse cx="18.0" cy="43.8" rx="1.0" ry="0.7" transform="rotate(142 18.0 43.8)" fill="#3a4478" opacity="0.85"/>
<ellipse cx="24.0" cy="38.7" rx="0.9" ry="0.9" transform="rotate(42 24.0 38.7)" fill="#1e2448" opacity="0.85"/>
<ellipse cx="1.6" cy="67.9" rx="0.9" ry="0.8" transform="rotate(108 1.6 67.9)" fill="#242a52" opacity="0.85"/>
<ellipse cx="57.2" cy="13.0" rx="1.1" ry="0.7" transform="rotate(78 57.2 13.0)" fill="#242a52" opacity="0.85"/>
<ellipse cx="39.3" cy="53.4" rx="0.9" ry="0.9" transform="rotate(150 39.3 53.4)" fill="#2a3472" opacity="0.85"/>
<ellipse cx="81.9" cy="1.9" rx="1.2" ry="0.6" transform="rotate(26 81.9 1.9)" fill="#2a3472" opacity="0.85"/>
<ellipse cx="66.1" cy="52.8" rx="1.2" ry="0.9" transform="rotate(53 66.1 52.8)" fill="#343e6e" opacity="0.85"/>
<ellipse cx="54.7" cy="25.3" rx="1.1" ry="0.7" transform="rotate(53 54.7 25.3)" fill="#2a3472" opacity="0.85"/>
<ellipse cx="47.1" cy="49.0" rx="0.8" ry="0.8" transform="rotate(52 47.1 49.0)" fill="#283058" opacity="0.85"/>
<ellipse cx="13.8" cy="75.3" rx="0.9" ry="0.8" transform="rotate(119 13.8 75.3)" fill="#3a4478" opacity="0.85"/>
<ellipse cx="55.0" cy="42.0" rx="1.1" ry="0.8" transform="rotate(177 55.0 42.0)" fill="#2a3472" opacity="0.85"/>
<ellipse cx="20.2" cy="4.2" rx="1.0" ry="0.8" transform="rotate(143 20.2 4.2)" fill="#242a52" opacity="0.85"/>
<ellipse cx="55.0" cy="23.7" rx="0.8" ry="0.7" transform="rotate(76 55.0 23.7)" fill="#283058" opacity="0.85"/>
<ellipse cx="9.5" cy="66.2" rx="1.1" ry="0.6" transform="rotate(41 9.5 66.2)" fill="#2a3472" opacity="0.85"/>
<ellipse cx="82.6" cy="17.0" rx="1.1" ry="0.9" transform="rotate(19 82.6 17.0)" fill="#283058" opacity="0.85"/>
<ellipse cx="88.4" cy="69.5" rx="1.1" ry="0.6" transform="rotate(77 88.4 69.5)" fill="#2a3472" opacity="0.85"/>
<ellipse cx="87.6" cy="40.0" rx="1.1" ry="0.8" transform="rotate(56 87.6 40.0)" fill="#2a3472" opacity="0.85"/>
<ellipse cx="85.0" cy="53.0" rx="0.9" ry="0.8" transform="rotate(164 85.0 53.0)" fill="#2a3472" opacity="0.85"/>
<ellipse cx="93.8" cy="0.6" rx="1.1" ry="0.6" transform="rotate(8 93.8 0.6)" fill="#3a4478" opacity="0.85"/>
<ellipse cx="52.4" cy="0.0" rx="0.9" ry="0.7" transform="rotate(137 52.4 0.0)" fill="#242a52" opacity="0.85"/>
<ellipse cx="46.0" cy="54.1" rx="0.9" ry="0.7" transform="rotate(77 46.0 54.1)" fill="#2a3472" opacity="0.85"/>
<ellipse cx="24.5" cy="53.5" rx="1.2" ry="0.7" transform="rotate(152 24.5 53.5)" fill="#343e6e" opacity="0.85"/>
<ellipse cx="20.5" cy="69.5" rx="1.0" ry="0.9" transform="rotate(33 20.5 69.5)" fill="#242a52" opacity="0.85"/>
<ellipse cx="45.7" cy="45.8" rx="0.8" ry="0.8" transform="rotate(63 45.7 45.8)" fill="#343e6e" opacity="0.85"/>
<ellipse cx="60.4" cy="55.7" rx="1.2" ry="0.8" transform="rotate(3 60.4 55.7)" fill="#283058" opacity="0.85"/>
<ellipse cx="59.0" cy="56.4" rx="1.1" ry="0.6" transform="rotate(155 59.0 56.4)" fill="#3a4478" opacity="0.85"/>
<ellipse cx="34.9" cy="0.3" rx="0.8" ry="0.8" transform="rotate(64 34.9 0.3)" fill="#3a4478" opacity="0.85"/>
<ellipse cx="60.0" cy="67.9" rx="0.8" ry="0.9" transform="rotate(22 60.0 67.9)" fill="#283058" opacity="0.85"/>
<ellipse cx="88.7" cy="60.7" rx="0.8" ry="0.8" transform="rotate(131 88.7 60.7)" fill="#2a3472" opacity="0.85"/>
<ellipse cx="58.0" cy="5.0" rx="0.8" ry="0.7" transform="rotate(111 58.0 5.0)" fill="#242a52" opacity="0.85"/>
<ellipse cx="70.1" cy="68.1" rx="0.8" ry="0.7" transform="rotate(134 70.1 68.1)" fill="#283058" opacity="0.85"/>
<ellipse cx="52.3" cy="47.2" rx="0.9" ry="0.8" transform="rotate(27 52.3 47.2)" fill="#3a4478" opacity="0.85"/>
<ellipse cx="83.8" cy="3.1" rx="1.1" ry="0.7" transform="rotate(178 83.8 3.1)" fill="#343e6e" opacity="0.85"/>
<ellipse cx="33.6" cy="59.2" rx="1.2" ry="0.8" transform="rotate(101 33.6 59.2)" fill="#343e6e" opacity="0.85"/>
<ellipse cx="21.6" cy="38.6" rx="0.8" ry="0.8" transform="rotate(153 21.6 38.6)" fill="#3a4478" opacity="0.85"/>
<ellipse cx="85.3" cy="66.3" rx="0.9" ry="0.8" transform="rotate(100 85.3 66.3)" fill="#1e2448" opacity="0.85"/>
<ellipse cx="5.3" cy="8.7" rx="1.1" ry="0.6" transform="rotate(143 5.3 8.7)" fill="#283058" opacity="0.85"/>
<ellipse cx="39.6" cy="39.8" rx="0.8" ry="0.7" transform="rotate(119 39.6 39.8)" fill="#1e2448" opacity="0.85"/>
<ellipse cx="46.4" cy="3.7" rx="1.1" ry="0.6" transform="rotate(15 46.4 3.7)" fill="#283058" opacity="0.85"/>
<ellipse cx="10.9" cy="3.8" rx="1.0" ry="0.8" transform="rotate(0 10.9 3.8)" fill="#242a52" opacity="0.85"/>
<ellipse cx="87.9" cy="53.0" rx="1.2" ry="0.6" transform="rotate(128 87.9 53.0)" fill="#1e2448" opacity="0.85"/>
<ellipse cx="9.1" cy="12.1" rx="0.8" ry="0.7" transform="rotate(50 9.1 12.1)" fill="#1e2448" opacity="0.85"/>
<ellipse cx="34.1" cy="39.3" rx="1.2" ry="0.7" transform="rotate(102 34.1 39.3)" fill="#283058" opacity="0.85"/>
<ellipse cx="72.0" cy="77.3" rx="1.2" ry="0.9" transform="rotate(73 72.0 77.3)" fill="#283058" opacity="0.85"/>
<ellipse cx="40.3" cy="3.7" rx="1.2" ry="0.6" transform="rotate(1 40.3 3.7)" fill="#2a3472" opacity="0.85"/>
<ellipse cx="25.6" cy="0.2" rx="1.2" ry="0.8" transform="rotate(143 25.6 0.2)" fill="#1e2448" opacity="0.85"/>
<ellipse cx="66.6" cy="53.8" rx="0.9" ry="0.8" transform="rotate(174 66.6 53.8)" fill="#2a3472" opacity="0.85"/>
<ellipse cx="84.2" cy="74.6" rx="0.9" ry="0.7" transform="rotate(116 84.2 74.6)" fill="#3a4478" opacity="0.85"/>
<ellipse cx="77.1" cy="51.2" rx="1.1" ry="0.6" transform="rotate(129 77.1 51.2)" fill="#2a3472" opacity="0.85"/>
<ellipse cx="75.3" cy="39.3" rx="0.8" ry="0.7" transform="rotate(101 75.3 39.3)" fill="#343e6e" opacity="0.85"/>
<ellipse cx="72.6" cy="23.3" rx="0.9" ry="0.9" transform="rotate(103 72.6 23.3)" fill="#1e2448" opacity="0.85"/>
<ellipse cx="72.6" cy="42.9" rx="1.2" ry="0.7" transform="rotate(97 72.6 42.9)" fill="#343e6e" opacity="0.85"/>
<ellipse cx="77.2" cy="33.6" rx="1.2" ry="0.8" transform="rotate(119 77.2 33.6)" fill="#3a4478" opacity="0.85"/>
<ellipse cx="92.6" cy="1.8" rx="1.2" ry="0.9" transform="rotate(180 92.6 1.8)" fill="#343e6e" opacity="0.85"/>
<ellipse cx="12.9" cy="34.4" rx="1.2" ry="0.7" transform="rotate(103 12.9 34.4)" fill="#2a3472" opacity="0.85"/>
<ellipse cx="79.9" cy="37.9" rx="1.2" ry="0.7" transform="rotate(45 79.9 37.9)" fill="#242a52" opacity="0.85"/>
<ellipse cx="25.0" cy="11.9" rx="0.8" ry="0.6" transform="rotate(151 25.0 11.9)" fill="#343e6e" opacity="0.85"/>
<ellipse cx="49.5" cy="36.6" rx="0.9" ry="0.7" transform="rotate(87 49.5 36.6)" fill="#1e2448" opacity="0.85"/>
<ellipse cx="48.2" cy="48.2" rx="0.9" ry="0.7" transform="rotate(44 48.2 48.2)" fill="#343e6e" opacity="0.85"/>
<ellipse cx="74.6" cy="8.8" rx="1.0" ry="0.6" transform="rotate(141 74.6 8.8)" fill="#3a4478" opacity="0.85"/>
<ellipse cx="40.9" cy="35.0" rx="0.9" ry="0.9" transform="rotate(178 40.9 35.0)" fill="#3a4478" opacity="0.85"/>
<ellipse cx="36.6" cy="11.7" rx="0.9" ry="0.8" transform="rotate(136 36.6 11.7)" fill="#343e6e" opacity="0.85"/>
<ellipse cx="57.2" cy="6.6" rx="1.0" ry="0.8" transform="rotate(54 57.2 6.6)" fill="#283058" opacity="0.85"/>
<ellipse cx="31.3" cy="66.2" rx="1.0" ry="0.7" transform="rotate(58 31.3 66.2)" fill="#283058" opacity="0.85"/>
<ellipse cx="77.9" cy="44.1" rx="1.2" ry="0.6" transform="rotate(123 77.9 44.1)" fill="#242a52" opacity="0.85"/>
<ellipse cx="23.8" cy="76.8" rx="1.2" ry="0.9" transform="rotate(91 23.8 76.8)" fill="#343e6e" opacity="0.85"/>
<ellipse cx="42.9" cy="11.3" rx="0.8" ry="0.7" transform="rotate(56 42.9 11.3)" fill="#1e2448" opacity="0.85"/>
<ellipse cx="93.1" cy="70.0" rx="0.9" ry="0.9" transform="rotate(66 93.1 70.0)" fill="#1e2448" opacity="0.85"/>
<ellipse cx="54.6" cy="18.3" rx="0.9" ry="0.6" transform="rotate(111 54.6 18.3)" fill="#2a3472" opacity="0.85"/>
<ellipse cx="52.1" cy="53.1" rx="0.8" ry="0.7" transform="rotate(159 52.1 53.1)" fill="#3a4478" opacity="0.85"/>
<ellipse cx="42.1" cy="25.9" rx="0.8" ry="0.7" transform="rotate(37 42.1 25.9)" fill="#283058" opacity="0.85"/>
<ellipse cx="62.6" cy="40.8" rx="0.8" ry="0.6" transform="rotate(113 62.6 40.8)" fill="#283058" opacity="0.85"/>
<ellipse cx="72.1" cy="28.1" rx="1.1" ry="0.8" transform="rotate(2 72.1 28.1)" fill="#3a4478" opacity="0.85"/>
<ellipse cx="4.6" cy="32.6" rx="1.2" ry="0.6" transform="rotate(64 4.6 32.6)" fill="#2a3472" opacity="0.85"/>
<ellipse cx="76.2" cy="0.8" rx="0.8" ry="0.9" transform="rotate(41 76.2 0.8)" fill="#2a3472" opacity="0.85"/>
<ellipse cx="51.2" cy="25.4" rx="0.8" ry="0.7" transform="rotate(45 51.2 25.4)" fill="#242a52" opacity="0.85"/>
<ellipse cx="37.1" cy="65.5" rx="1.1" ry="0.8" transform="rotate(173 37.1 65.5)" fill="#343e6e" opacity="0.85"/>
<ellipse cx="76.9" cy="14.4" rx="1.0" ry="0.7" transform="rotate(20 76.9 14.4)" fill="#242a52" opacity="0.85"/>
<ellipse cx="77.1" cy="34.1" rx="0.9" ry="0.9" transform="rotate(131 77.1 34.1)" fill="#3a4478" opacity="0.85"/>
<ellipse cx="45.3" cy="65.4" rx="1.1" ry="0.7" transform="rotate(152 45.3 65.4)" fill="#3a4478" opacity="0.85"/>
<ellipse cx="76.7" cy="72.1" rx="0.8" ry="0.7" transform="rotate(29 76.7 72.1)" fill="#3a4478" opacity="0.85"/>
<ellipse cx="29.7" cy="34.8" rx="1.1" ry="0.8" transform="rotate(180 29.7 34.8)" fill="#242a52" opacity="0.85"/>
<ellipse cx="91.4" cy="36.0" rx="1.0" ry="0.8" transform="rotate(90 91.4 36.0)" fill="#1e2448" opacity="0.85"/>
<ellipse cx="11.3" cy="60.8" rx="0.9" ry="0.6" transform="rotate(13 11.3 60.8)" fill="#283058" opacity="0.85"/>
<ellipse cx="54.1" cy="30.6" rx="0.9" ry="0.7" transform="rotate(141 54.1 30.6)" fill="#343e6e" opacity="0.85"/>
<ellipse cx="87.2" cy="34.0" rx="1.0" ry="0.8" transform="rotate(71 87.2 34.0)" fill="#2a3472" opacity="0.85"/>
<ellipse cx="25.2" cy="48.0" rx="1.2" ry="0.7" transform="rotate(22 25.2 48.0)" fill="#1e2448" opacity="0.85"/>
<ellipse cx="42.5" cy="21.8" rx="0.9" ry="0.7" transform="rotate(99 42.5 21.8)" fill="#3a4478" opacity="0.85"/>
<ellipse cx="65.0" cy="22.8" rx="1.0" ry="0.7" transform="rotate(173 65.0 22.8)" fill="#343e6e" opacity="0.85"/>
<ellipse cx="43.5" cy="67.2" rx="1.1" ry="0.8" transform="rotate(89 43.5 67.2)" fill="#1e2448" opacity="0.85"/>
<ellipse cx="33.1" cy="75.4" rx="1.1" ry="0.7" transform="rotate(63 33.1 75.4)" fill="#242a52" opacity="0.85"/>
<ellipse cx="48.4" cy="57.3" rx="1.0" ry="0.7" transform="rotate(30 48.4 57.3)" fill="#1e2448" opacity="0.85"/>
<ellipse cx="78.7" cy="50.0" rx="1.0" ry="0.9" transform="rotate(34 78.7 50.0)" fill="#242a52" opacity="0.85"/>
<ellipse cx="15.3" cy="45.8" rx="1.0" ry="0.9" transform="rotate(38 15.3 45.8)" fill="#3a4478" opacity="0.85"/>
<ellipse cx="73.0" cy="49.9" rx="1.2" ry="0.9" transform="rotate(14 73.0 49.9)" fill="#3a4478" opacity="0.85"/>
<ellipse cx="6.8" cy="38.0" rx="0.8" ry="0.7" transform="rotate(92 6.8 38.0)" fill="#1e2448" opacity="0.85"/>
<ellipse cx="47.8" cy="14.2" rx="1.1" ry="0.9" transform="rotate(131 47.8 14.2)" fill="#343e6e" opacity="0.85"/>
<ellipse cx="68.2" cy="17.5" rx="0.8" ry="0.8" transform="rotate(178 68.2 17.5)" fill="#1e2448" opacity="0.85"/>
<ellipse cx="47.6" cy="32.2" rx="0.9" ry="0.8" transform="rotate(9 47.6 32.2)" fill="#242a52" opacity="0.85"/>
<ellipse cx="0.3" cy="70.9" rx="1.2" ry="0.6" transform="rotate(84 0.3 70.9)" fill="#1e2448" opacity="0.85"/>
<ellipse cx="18.9" cy="65.6" rx="1.0" ry="0.9" transform="rotate(142 18.9 65.6)" fill="#3a4478" opacity="0.85"/>
<ellipse cx="55.2" cy="27.4" rx="1.0" ry="0.8" transform="rotate(85 55.2 27.4)" fill="#2a3472" opacity="0.85"/>
<ellipse cx="30.2" cy="38.9" rx="0.8" ry="0.7" transform="rotate(101 30.2 38.9)" fill="#343e6e" opacity="0.85"/>
<ellipse cx="94.5" cy="36.8" rx="1.1" ry="0.6" transform="rotate(29 94.5 36.8)" fill="#3a4478" opacity="0.85"/>
<ellipse cx="48.9" cy="23.3" rx="0.8" ry="0.9" transform="rotate(177 48.9 23.3)" fill="#2a3472" opacity="0.85"/>
<ellipse cx="44.5" cy="4.8" rx="1.0" ry="0.9" transform="rotate(142 44.5 4.8)" fill="#3a4478" opacity="0.85"/>
<ellipse cx="34.3" cy="53.4" rx="1.0" ry="0.7" transform="rotate(4 34.3 53.4)" fill="#3a4478" opacity="0.85"/>
<ellipse cx="41.3" cy="76.5" rx="0.8" ry="0.7" transform="rotate(13 41.3 76.5)" fill="#2a3472" opacity="0.85"/>
<ellipse cx="0.9" cy="27.1" rx="0.9" ry="0.9" transform="rotate(20 0.9 27.1)" fill="#3a4478" opacity="0.85"/>
<ellipse cx="28.2" cy="53.8" rx="1.0" ry="0.6" transform="rotate(62 28.2 53.8)" fill="#3a4478" opacity="0.85"/>
<ellipse cx="52.3" cy="75.8" rx="1.0" ry="0.9" transform="rotate(121 52.3 75.8)" fill="#283058" opacity="0.85"/>
<ellipse cx="15.3" cy="76.0" rx="0.8" ry="0.7" transform="rotate(58 15.3 76.0)" fill="#242a52" opacity="0.85"/>
<ellipse cx="38.8" cy="39.0" rx="1.0" ry="0.9" transform="rotate(53 38.8 39.0)" fill="#1e2448" opacity="0.85"/>
<ellipse cx="44.2" cy="65.2" rx="1.0" ry="0.8" transform="rotate(132 44.2 65.2)" fill="#2a3472" opacity="0.85"/>
<ellipse cx="42.3" cy="45.0" rx="0.8" ry="0.7" transform="rotate(77 42.3 45.0)" fill="#242a52" opacity="0.85"/>
<ellipse cx="45.8" cy="41.8" rx="1.2" ry="0.8" transform="rotate(156 45.8 41.8)" fill="#283058" opacity="0.85"/>
<ellipse cx="50.5" cy="20.1" rx="1.2" ry="0.8" transform="rotate(89 50.5 20.1)" fill="#2a3472" opacity="0.85"/>
<ellipse cx="6.8" cy="47.5" rx="1.1" ry="0.8" transform="rotate(88 6.8 47.5)" fill="#2a3472" opacity="0.85"/>
<ellipse cx="56.3" cy="8.5" rx="1.0" ry="0.9" transform="rotate(82 56.3 8.5)" fill="#242a52" opacity="0.85"/>
<ellipse cx="17.1" cy="16.1" rx="0.8" ry="0.9" transform="rotate(116 17.1 16.1)" fill="#343e6e" opacity="0.85"/>
<ellipse cx="25.5" cy="11.3" rx="1.1" ry="0.9" transform="rotate(119 25.5 11.3)" fill="#3a4478" opacity="0.85"/>
<ellipse cx="58.7" cy="51.1" rx="1.0" ry="0.7" transform="rotate(133 58.7 51.1)" fill="#283058" opacity="0.85"/>
<ellipse cx="95.1" cy="68.3" rx="0.8" ry="0.9" transform="rotate(97 95.1 68.3)" fill="#2a3472" opacity="0.85"/>
<ellipse cx="1.6" cy="14.5" rx="1.0" ry="0.8" transform="rotate(107 1.6 14.5)" fill="#242a52" opacity="0.85"/>
<ellipse cx="39.2" cy="61.5" rx="0.8" ry="0.6" transform="rotate(109 39.2 61.5)" fill="#2a3472" opacity="0.85"/>
<ellipse cx="87.0" cy="40.2" rx="1.1" ry="0.8" transform="rotate(58 87.0 40.2)" fill="#1e2448" opacity="0.85"/>
<ellipse cx="68.3" cy="44.9" rx="0.9" ry="0.6" transform="rotate(122 68.3 44.9)" fill="#1e2448" opacity="0.85"/>
<ellipse cx="85.7" cy="31.9" rx="0.8" ry="0.8" transform="rotate(1 85.7 31.9)" fill="#283058" opacity="0.85"/>
<ellipse cx="89.7" cy="61.6" rx="1.2" ry="0.6" transform="rotate(3 89.7 61.6)" fill="#3a4478" opacity="0.85"/>
<ellipse cx="86.1" cy="21.0" rx="1.0" ry="0.8" transform="rotate(57 86.1 21.0)" fill="#3a4478" opacity="0.85"/>
<ellipse cx="72.2" cy="76.6" rx="1.2" ry="0.9" transform="rotate(139 72.2 76.6)" fill="#242a52" opacity="0.85"/>
<ellipse cx="18.7" cy="2.9" rx="1.1" ry="0.9" transform="rotate(42 18.7 2.9)" fill="#343e6e" opacity="0.85"/>
<ellipse cx="40.9" cy="72.2" rx="1.1" ry="0.8" transform="rotate(134 40.9 72.2)" fill="#2a3472" opacity="0.85"/>
<ellipse cx="7.7" cy="43.9" rx="1.2" ry="0.8" transform="rotate(170 7.7 43.9)" fill="#343e6e" opacity="0.85"/>
<ellipse cx="69.6" cy="24.6" rx="0.9" ry="0.9" transform="rotate(81 69.6 24.6)" fill="#2a3472" opacity="0.85"/>
<ellipse cx="78.2" cy="46.1" rx="0.9" ry="0.6" transform="rotate(110 78.2 46.1)" fill="#343e6e" opacity="0.85"/>
<ellipse cx="26.7" cy="6.4" rx="0.9" ry="0.7" transform="rotate(1 26.7 6.4)" fill="#1e2448" opacity="0.85"/>
<ellipse cx="88.1" cy="31.0" rx="1.0" ry="0.7" transform="rotate(148 88.1 31.0)" fill="#2a3472" opacity="0.85"/>
<ellipse cx="15.8" cy="16.3" rx="1.1" ry="0.6" transform="rotate(80 15.8 16.3)" fill="#3a4478" opacity="0.85"/>
<ellipse cx="72.0" cy="41.9" rx="1.0" ry="0.7" transform="rotate(93 72.0 41.9)" fill="#2a3472" opacity="0.85"/>
<ellipse cx="80.1" cy="37.6" rx="0.9" ry="0.6" transform="rotate(118 80.1 37.6)" fill="#2a3472" opacity="0.85"/>
<ellipse cx="8.7" cy="13.9" rx="0.9" ry="0.8" transform="rotate(37 8.7 13.9)" fill="#242a52" opacity="0.85"/>
<ellipse cx="59.3" cy="56.2" rx="1.2" ry="0.8" transform="rotate(43 59.3 56.2)" fill="#3a4478" opacity="0.85"/>
<ellipse cx="34.3" cy="40.4" rx="0.8" ry="0.9" transform="rotate(178 34.3 40.4)" fill="#1e2448" opacity="0.85"/>
<ellipse cx="18.7" cy="28.8" rx="1.0" ry="0.7" transform="rotate(168 18.7 28.8)" fill="#283058" opacity="0.85"/>
<ellipse cx="29.6" cy="43.1" rx="0.8" ry="0.7" transform="rotate(3 29.6 43.1)" fill="#3a4478" opacity="0.85"/>
<ellipse cx="94.9" cy="5.9" rx="0.8" ry="0.7" transform="rotate(92 94.9 5.9)" fill="#3a4478" opacity="0.85"/>
<ellipse cx="32.8" cy="45.3" rx="0.8" ry="0.9" transform="rotate(17 32.8 45.3)" fill="#2a3472" opacity="0.85"/>
<ellipse cx="86.4" cy="7.3" rx="1.0" ry="0.9" transform="rotate(136 86.4 7.3)" fill="#1e2448" opacity="0.85"/>
<ellipse cx="87.5" cy="24.7" rx="1.2" ry="0.7" transform="rotate(63 87.5 24.7)" fill="#3a4478" opacity="0.85"/>
<ellipse cx="90.3" cy="61.6" rx="0.9" ry="0.9" transform="rotate(130 90.3 61.6)" fill="#3a4478" opacity="0.85"/>
<ellipse cx="68.5" cy="58.0" rx="1.1" ry="0.8" transform="rotate(19 68.5 58.0)" fill="#242a52" opacity="0.85"/>
<ellipse cx="0.7" cy="61.5" rx="1.0" ry="0.8" transform="rotate(40 0.7 61.5)" fill="#242a52" opacity="0.85"/>
<ellipse cx="30.9" cy="10.7" rx="1.0" ry="0.9" transform="rotate(116 30.9 10.7)" fill="#242a52" opacity="0.85"/>
<ellipse cx="40.9" cy="70.0" rx="0.9" ry="0.9" transform="rotate(97 40.9 70.0)" fill="#283058" opacity="0.85"/>
<ellipse cx="57.6" cy="35.9" rx="1.1" ry="0.6" transform="rotate(142 57.6 35.9)" fill="#283058" opacity="0.85"/>
<ellipse cx="52.7" cy="64.3" rx="1.0" ry="0.9" transform="rotate(20 52.7 64.3)" fill="#242a52" opacity="0.85"/>
<ellipse cx="89.3" cy="42.8" rx="1.2" ry="0.9" transform="rotate(43 89.3 42.8)" fill="#3a4478" opacity="0.85"/>
<ellipse cx="95.4" cy="40.5" rx="0.9" ry="0.8" transform="rotate(8 95.4 40.5)" fill="#283058" opacity="0.85"/>
<ellipse cx="4.8" cy="14.6" rx="1.1" ry="0.7" transform="rotate(59 4.8 14.6)" fill="#283058" opacity="0.85"/>
<ellipse cx="22.6" cy="59.4" rx="1.2" ry="0.9" transform="rotate(135 22.6 59.4)" fill="#242a52" opacity="0.85"/>
<ellipse cx="68.5" cy="11.4" rx="1.2" ry="0.8" transform="rotate(33 68.5 11.4)" fill="#1e2448" opacity="0.85"/>
<ellipse cx="30.9" cy="69.5" rx="1.1" ry="0.6" transform="rotate(37 30.9 69.5)" fill="#3a4478" opacity="0.85"/>
<ellipse cx="80.8" cy="68.5" rx="0.9" ry="0.6" transform="rotate(123 80.8 68.5)" fill="#2a3472" opacity="0.85"/>
<ellipse cx="44.7" cy="60.0" rx="0.9" ry="0.8" transform="rotate(60 44.7 60.0)" fill="#242a52" opacity="0.85"/>
<ellipse cx="91.0" cy="51.6" rx="1.1" ry="0.8" transform="rotate(159 91.0 51.6)" fill="#1e2448" opacity="0.85"/>
<ellipse cx="69.8" cy="60.5" rx="0.9" ry="0.8" transform="rotate(86 69.8 60.5)" fill="#3a4478" opacity="0.85"/>
<ellipse cx="1.4" cy="12.8" rx="0.8" ry="0.9" transform="rotate(56 1.4 12.8)" fill="#283058" opacity="0.85"/>
<ellipse cx="62.3" cy="1.2" rx="1.0" ry="0.7" transform="rotate(169 62.3 1.2)" fill="#2a3472" opacity="0.85"/>
<ellipse cx="88.3" cy="17.9" rx="1.2" ry="0.7" transform="rotate(111 88.3 17.9)" fill="#343e6e" opacity="0.85"/>
<ellipse cx="42.9" cy="51.3" rx="0.9" ry="0.9" transform="rotate(49 42.9 51.3)" fill="#343e6e" opacity="0.85"/>
<ellipse cx="20.1" cy="64.4" rx="0.9" ry="0.9" transform="rotate(61 20.1 64.4)" fill="#283058" opacity="0.85"/>
<ellipse cx="18.7" cy="24.6" rx="1.2" ry="0.9" transform="rotate(90 18.7 24.6)" fill="#3a4478" opacity="0.85"/>
<ellipse cx="81.3" cy="47.0" rx="1.0" ry="0.6" transform="rotate(146 81.3 47.0)" fill="#343e6e" opacity="0.85"/>
<ellipse cx="92.4" cy="8.5" rx="0.9" ry="0.9" transform="rotate(92 92.4 8.5)" fill="#343e6e" opacity="0.85"/>
<ellipse cx="73.2" cy="58.9" rx="0.8" ry="0.9" transform="rotate(156 73.2 58.9)" fill="#1e2448" opacity="0.85"/>
<ellipse cx="59.3" cy="38.3" rx="0.9" ry="0.8" transform="rotate(24 59.3 38.3)" fill="#3a4478" opacity="0.85"/>
<ellipse cx="74.3" cy="14.9" rx="0.8" ry="0.6" transform="rotate(67 74.3 14.9)" fill="#283058" opacity="0.85"/>
<ellipse cx="13.7" cy="23.2" rx="0.9" ry="0.8" transform="rotate(134 13.7 23.2)" fill="#242a52" opacity="0.85"/>
<ellipse cx="37.0" cy="26.4" rx="1.2" ry="0.7" transform="rotate(32 37.0 26.4)" fill="#242a52" opacity="0.85"/>
<ellipse cx="12.7" cy="36.6" rx="1.2" ry="0.9" transform="rotate(177 12.7 36.6)" fill="#343e6e" opacity="0.85"/>
<ellipse cx="18.7" cy="16.4" rx="1.1" ry="0.7" transform="rotate(167 18.7 16.4)" fill="#3a4478" opacity="0.85"/>
<ellipse cx="16.1" cy="48.8" rx="1.1" ry="0.9" transform="rotate(93 16.1 48.8)" fill="#343e6e" opacity="0.85"/>
<ellipse cx="4.5" cy="40.7" rx="0.8" ry="0.8" transform="rotate(55 4.5 40.7)" fill="#2a3472" opacity="0.85"/>
<ellipse cx="55.8" cy="6.7" rx="1.1" ry="0.7" transform="rotate(169 55.8 6.7)" fill="#1e2448" opacity="0.85"/>
<ellipse cx="18.8" cy="48.3" rx="1.1" ry="0.8" transform="rotate(119 18.8 48.3)" fill="#2a3472" opacity="0.85"/>
<ellipse cx="27.4" cy="39.3" rx="1.1" ry="0.9" transform="rotate(105 27.4 39.3)" fill="#3a4478" opacity="0.85"/>
<ellipse cx="22.3" cy="49.1" rx="0.9" ry="0.8" transform="rotate(74 22.3 49.1)" fill="#1e2448" opacity="0.85"/>
<ellipse cx="39.8" cy="51.2" rx="1.0" ry="0.8" transform="rotate(59 39.8 51.2)" fill="#3a4478" opacity="0.85"/>
<ellipse cx="72.1" cy="40.1" rx="1.1" ry="0.7" transform="rotate(7 72.1 40.1)" fill="#283058" opacity="0.85"/>
<ellipse cx="70.0" cy="3.9" rx="1.0" ry="0.9" transform="rotate(114 70.0 3.9)" fill="#283058" opacity="0.85"/>
<ellipse cx="91.5" cy="61.3" rx="0.9" ry="0.7" transform="rotate(152 91.5 61.3)" fill="#1e2448" opacity="0.85"/>
<ellipse cx="71.4" cy="38.7" rx="1.0" ry="0.9" transform="rotate(7 71.4 38.7)" fill="#242a52" opacity="0.85"/>
<ellipse cx="33.9" cy="9.2" rx="1.2" ry="0.9" transform="rotate(70 33.9 9.2)" fill="#242a52" opacity="0.85"/>
<ellipse cx="82.2" cy="52.4" rx="0.9" ry="0.9" transform="rotate(103 82.2 52.4)" fill="#283058" opacity="0.85"/>
<ellipse cx="83.6" cy="27.8" rx="0.9" ry="0.8" transform="rotate(118 83.6 27.8)" fill="#283058" opacity="0.85"/>
<ellipse cx="59.7" cy="60.9" rx="0.8" ry="0.6" transform="rotate(83 59.7 60.9)" fill="#1e2448" opacity="0.85"/>
<ellipse cx="68.1" cy="19.7" rx="1.2" ry="0.9" transform="rotate(123 68.1 19.7)" fill="#283058" opacity="0.85"/>
<ellipse cx="82.7" cy="1.1" rx="1.0" ry="0.8" transform="rotate(96 82.7 1.1)" fill="#2a3472" opacity="0.85"/>
<ellipse cx="67.9" cy="13.8" rx="1.0" ry="0.7" transform="rotate(89 67.9 13.8)" fill="#343e6e" opacity="0.85"/>
<ellipse cx="77.1" cy="29.6" rx="0.8" ry="0.6" transform="rotate(163 77.1 29.6)" fill="#242a52" opacity="0.85"/>
<ellipse cx="84.0" cy="71.5" rx="1.1" ry="0.6" transform="rotate(143 84.0 71.5)" fill="#242a52" opacity="0.85"/>
<ellipse cx="43.1" cy="21.9" rx="0.9" ry="0.7" transform="rotate(167 43.1 21.9)" fill="#343e6e" opacity="0.85"/>
<ellipse cx="66.2" cy="21.9" rx="0.8" ry="0.8" transform="rotate(108 66.2 21.9)" fill="#283058" opacity="0.85"/>
<ellipse cx="34.2" cy="60.2" rx="1.1" ry="0.9" transform="rotate(82 34.2 60.2)" fill="#283058" opacity="0.85"/>
<ellipse cx="55.7" cy="71.9" rx="0.9" ry="0.7" transform="rotate(140 55.7 71.9)" fill="#3a4478" opacity="0.85"/>
<ellipse cx="25.3" cy="42.7" rx="0.8" ry="0.9" transform="rotate(122 25.3 42.7)" fill="#1e2448" opacity="0.85"/>
<ellipse cx="71.8" cy="71.1" rx="1.1" ry="0.8" transform="rotate(79 71.8 71.1)" fill="#1e2448" opacity="0.85"/>
<ellipse cx="21.5" cy="23.0" rx="0.8" ry="0.6" transform="rotate(79 21.5 23.0)" fill="#2a3472" opacity="0.85"/>
<ellipse cx="32.2" cy="52.0" rx="0.9" ry="0.9" transform="rotate(153 32.2 52.0)" fill="#2a3472" opacity="0.85"/>
<ellipse cx="60.9" cy="73.3" rx="1.0" ry="0.8" transform="rotate(152 60.9 73.3)" fill="#2a3472" opacity="0.85"/>
<ellipse cx="27.8" cy="0.6" rx="1.2" ry="0.8" transform="rotate(89 27.8 0.6)" fill="#343e6e" opacity="0.85"/>
<ellipse cx="61.6" cy="21.5" rx="1.0" ry="0.7" transform="rotate(67 61.6 21.5)" fill="#3a4478" opacity="0.85"/>
<ellipse cx="11.6" cy="56.3" rx="1.1" ry="0.7" transform="rotate(30 11.6 56.3)" fill="#2a3472" opacity="0.85"/>
<ellipse cx="31.0" cy="19.4" rx="1.0" ry="0.8" transform="rotate(68 31.0 19.4)" fill="#283058" opacity="0.85"/>
<ellipse cx="52.8" cy="24.2" rx="0.8" ry="0.8" transform="rotate(92 52.8 24.2)" fill="#343e6e" opacity="0.85"/>
<ellipse cx="8.8" cy="30.2" rx="1.0" ry="0.9" transform="rotate(138 8.8 30.2)" fill="#2a3472" opacity="0.85"/>
<ellipse cx="84.4" cy="7.4" rx="1.2" ry="0.9" transform="rotate(21 84.4 7.4)" fill="#283058" opacity="0.85"/>
<ellipse cx="56.7" cy="59.3" rx="1.2" ry="0.7" transform="rotate(10 56.7 59.3)" fill="#283058" opacity="0.85"/>
<ellipse cx="28.3" cy="4.0" rx="0.9" ry="0.8" transform="rotate(56 28.3 4.0)" fill="#283058" opacity="0.85"/>
<ellipse cx="87.4" cy="62.2" rx="0.8" ry="0.9" transform="rotate(30 87.4 62.2)" fill="#1e2448" opacity="0.85"/>
<ellipse cx="8.2" cy="40.1" rx="1.1" ry="0.9" transform="rotate(149 8.2 40.1)" fill="#1e2448" opacity="0.85"/>
<ellipse cx="65.4" cy="1.0" rx="1.1" ry="0.8" transform="rotate(19 65.4 1.0)" fill="#343e6e" opacity="0.85"/>
<ellipse cx="71.6" cy="5.3" rx="1.2" ry="0.9" transform="rotate(26 71.6 5.3)" fill="#2a3472" opacity="0.85"/>
<ellipse cx="54.4" cy="37.2" rx="0.8" ry="0.9" transform="rotate(7 54.4 37.2)" fill="#3a4478" opacity="0.85"/>
<ellipse cx="97.5" cy="9.2" rx="1.2" ry="0.8" transform="rotate(156 97.5 9.2)" fill="#242a52" opacity="0.85"/>
<ellipse cx="34.9" cy="74.5" rx="0.9" ry="0.8" transform="rotate(1 34.9 74.5)" fill="#3a4478" opacity="0.85"/>
<ellipse cx="90.5" cy="21.9" rx="0.8" ry="0.7" transform="rotate(14 90.5 21.9)" fill="#242a52" opacity="0.85"/>
<ellipse cx="65.1" cy="12.6" rx="0.8" ry="0.9" transform="rotate(95 65.1 12.6)" fill="#1e2448" opacity="0.85"/>
<ellipse cx="45.5" cy="73.0" rx="0.8" ry="0.7" transform="rotate(121 45.5 73.0)" fill="#343e6e" opacity="0.85"/>
<ellipse cx="20.0" cy="64.3" rx="0.9" ry="0.6" transform="rotate(174 20.0 64.3)" fill="#343e6e" opacity="0.85"/>
<ellipse cx="33.6" cy="34.3" rx="1.2" ry="0.6" transform="rotate(143 33.6 34.3)" fill="#1e2448" opacity="0.85"/>
<ellipse cx="24.7" cy="67.4" rx="1.1" ry="0.9" transform="rotate(94 24.7 67.4)" fill="#3a4478" opacity="0.85"/>
<ellipse cx="77.0" cy="15.2" rx="0.8" ry="0.7" transform="rotate(65 77.0 15.2)" fill="#2a3472" opacity="0.85"/>
<ellipse cx="29.0" cy="40.2" rx="0.9" ry="0.9" transform="rotate(34 29.0 40.2)" fill="#1e2448" opacity="0.85"/>
<ellipse cx="82.8" cy="30.7" rx="1.2" ry="0.7" transform="rotate(48 82.8 30.7)" fill="#1e2448" opacity="0.85"/>
<ellipse cx="39.7" cy="21.4" rx="1.2" ry="0.8" transform="rotate(177 39.7 21.4)" fill="#283058" opacity="0.85"/>
<ellipse cx="11.9" cy="26.5" rx="1.2" ry="0.8" transform="rotate(133 11.9 26.5)" fill="#3a4478" opacity="0.85"/>
<ellipse cx="59.4" cy="46.6" rx="1.0" ry="0.9" transform="rotate(92 59.4 46.6)" fill="#1e2448" opacity="0.85"/>
<ellipse cx="4.9" cy="1.5" rx="0.8" ry="0.8" transform="rotate(58 4.9 1.5)" fill="#283058" opacity="0.85"/>
<ellipse cx="83.4" cy="74.8" rx="1.1" ry="0.7" transform="rotate(54 83.4 74.8)" fill="#343e6e" opacity="0.85"/>
<ellipse cx="44.3" cy="66.9" rx="0.8" ry="0.6" transform="rotate(131 44.3 66.9)" fill="#1e2448" opacity="0.85"/>
<ellipse cx="67.8" cy="36.1" rx="1.0" ry="0.7" transform="rotate(158 67.8 36.1)" fill="#2a3472" opacity="0.85"/>
<ellipse cx="93.9" cy="36.2" rx="1.2" ry="0.9" transform="rotate(120 93.9 36.2)" fill="#3a4478" opacity="0.85"/>
<ellipse cx="2.3" cy="26.8" rx="1.2" ry="0.8" transform="rotate(69 2.3 26.8)" fill="#2a3472" opacity="0.85"/>
<ellipse cx="66.6" cy="51.7" rx="1.2" ry="0.7" transform="rotate(85 66.6 51.7)" fill="#283058" opacity="0.85"/>
<ellipse cx="83.2" cy="49.2" rx="0.8" ry="0.7" transform="rotate(14 83.2 49.2)" fill="#3a4478" opacity="0.85"/>
<ellipse cx="97.2" cy="26.7" rx="1.1" ry="0.9" transform="rotate(111 97.2 26.7)" fill="#242a52" opacity="0.85"/>
<ellipse cx="61.8" cy="15.9" rx="1.2" ry="0.6" transform="rotate(168 61.8 15.9)" fill="#1e2448" opacity="0.85"/>
<ellipse cx="51.6" cy="2.3" rx="1.0" ry="0.9" transform="rotate(62 51.6 2.3)" fill="#3a4478" opacity="0.85"/>
<ellipse cx="54.7" cy="16.6" rx="1.0" ry="0.9" transform="rotate(172 54.7 16.6)" fill="#3a4478" opacity="0.85"/>
<ellipse cx="28.7" cy="66.8" rx="0.8" ry="0.9" transform="rotate(40 28.7 66.8)" fill="#283058" opacity="0.85"/>
<ellipse cx="89.5" cy="15.0" rx="1.2" ry="0.6" transform="rotate(174 89.5 15.0)" fill="#343e6e" opacity="0.85"/>
<ellipse cx="88.9" cy="33.2" rx="0.9" ry="0.9" transform="rotate(70 88.9 33.2)" fill="#1e2448" opacity="0.85"/>
<ellipse cx="35.6" cy="36.0" rx="1.1" ry="0.9" transform="rotate(125 35.6 36.0)" fill="#242a52" opacity="0.85"/>
<ellipse cx="46.5" cy="57.4" rx="1.2" ry="0.9" transform="rotate(31 46.5 57.4)" fill="#242a52" opacity="0.85"/>
<ellipse cx="54.4" cy="21.1" rx="0.9" ry="0.9" transform="rotate(129 54.4 21.1)" fill="#2a3472" opacity="0.85"/>
<ellipse cx="22.7" cy="53.9" rx="1.1" ry="0.6" transform="rotate(138 22.7 53.9)" fill="#3a4478" opacity="0.85"/>
<ellipse cx="56.5" cy="22.3" rx="1.1" ry="0.8" transform="rotate(170 56.5 22.3)" fill="#242a52" opacity="0.85"/>
<ellipse cx="85.0" cy="4.6" rx="0.9" ry="0.9" transform="rotate(56 85.0 4.6)" fill="#1e2448" opacity="0.85"/>
<ellipse cx="52.4" cy="23.5" rx="0.8" ry="0.6" transform="rotate(128 52.4 23.5)" fill="#283058" opacity="0.85"/>
<ellipse cx="81.4" cy="38.2" rx="1.0" ry="0.8" transform="rotate(30 81.4 38.2)" fill="#242a52" opacity="0.85"/>
<ellipse cx="1.9" cy="45.6" rx="0.8" ry="0.8" transform="rotate(99 1.9 45.6)" fill="#242a52" opacity="0.85"/>
<ellipse cx="9.5" cy="46.3" rx="1.1" ry="0.9" transform="rotate(65 9.5 46.3)" fill="#283058" opacity="0.85"/>
<ellipse cx="51.8" cy="8.2" rx="1.0" ry="0.9" transform="rotate(161 51.8 8.2)" fill="#343e6e" opacity="0.85"/>
<ellipse cx="75.8" cy="74.1" rx="1.2" ry="0.9" transform="rotate(171 75.8 74.1)" fill="#1e2448" opacity="0.85"/>
<ellipse cx="70.4" cy="25.1" rx="1.2" ry="0.7" transform="rotate(1 70.4 25.1)" fill="#343e6e" opacity="0.85"/>
<ellipse cx="22.0" cy="42.2" rx="1.0" ry="0.7" transform="rotate(139 22.0 42.2)" fill="#343e6e" opacity="0.85"/>
<ellipse cx="72.8" cy="2.2" rx="0.9" ry="0.6" transform="rotate(138 72.8 2.2)" fill="#343e6e" opacity="0.85"/>
<ellipse cx="88.6" cy="22.5" rx="1.2" ry="0.7" transform="rotate(98 88.6 22.5)" fill="#283058" opacity="0.85"/>
<ellipse cx="46.1" cy="74.3" rx="1.0" ry="0.8" transform="rotate(22 46.1 74.3)" fill="#343e6e" opacity="0.85"/>
<ellipse cx="5.9" cy="76.8" rx="1.2" ry="0.6" transform="rotate(128 5.9 76.8)" fill="#283058" opacity="0.85"/>
<ellipse cx="77.9" cy="37.4" rx="1.2" ry="0.9" transform="rotate(4 77.9 37.4)" fill="#1e2448" opacity="0.85"/>
<ellipse cx="38.8" cy="56.6" rx="1.2" ry="0.7" transform="rotate(115 38.8 56.6)" fill="#343e6e" opacity="0.85"/>
<ellipse cx="12.8" cy="3.2" rx="0.8" ry="0.7" transform="rotate(39 12.8 3.2)" fill="#1e2448" opacity="0.85"/>
<ellipse cx="66.5" cy="62.3" rx="1.2" ry="0.6" transform="rotate(74 66.5 62.3)" fill="#283058" opacity="0.85"/>
<ellipse cx="82.2" cy="65.0" rx="1.2" ry="0.8" transform="rotate(154 82.2 65.0)" fill="#283058" opacity="0.85"/>
<ellipse cx="35.2" cy="68.8" rx="1.2" ry="0.8" transform="rotate(4 35.2 68.8)" fill="#2a3472" opacity="0.85"/>
<ellipse cx="51.8" cy="61.4" rx="0.9" ry="0.7" transform="rotate(51 51.8 61.4)" fill="#3a4478" opacity="0.85"/>
<ellipse cx="9.1" cy="35.7" rx="1.2" ry="0.7" transform="rotate(16 9.1 35.7)" fill="#283058" opacity="0.85"/>
<ellipse cx="52.5" cy="2.6" rx="1.0" ry="0.9" transform="rotate(117 52.5 2.6)" fill="#343e6e" opacity="0.85"/>
<ellipse cx="6.8" cy="64.7" rx="0.9" ry="0.8" transform="rotate(16 6.8 64.7)" fill="#3a4478" opacity="0.85"/>
<ellipse cx="70.2" cy="39.7" rx="1.1" ry="0.6" transform="rotate(33 70.2 39.7)" fill="#2a3472" opacity="0.85"/>
<ellipse cx="95.8" cy="2.3" rx="1.0" ry="0.8" transform="rotate(54 95.8 2.3)" fill="#2a3472" opacity="0.85"/>
<ellipse cx="76.1" cy="71.0" rx="1.0" ry="0.7" transform="rotate(121 76.1 71.0)" fill="#3a4478" opacity="0.85"/>
<ellipse cx="42.3" cy="29.3" rx="1.2" ry="0.8" transform="rotate(127 42.3 29.3)" fill="#283058" opacity="0.85"/>
<ellipse cx="63.3" cy="73.6" rx="1.2" ry="0.9" transform="rotate(137 63.3 73.6)" fill="#343e6e" opacity="0.85"/>
<ellipse cx="3.5" cy="29.9" rx="0.8" ry="0.9" transform="rotate(152 3.5 29.9)" fill="#242a52" opacity="0.85"/>
<ellipse cx="38.4" cy="22.0" rx="1.0" ry="0.6" transform="rotate(11 38.4 22.0)" fill="#343e6e" opacity="0.85"/>
<ellipse cx="6.0" cy="10.8" rx="1.0" ry="0.9" transform="rotate(14 6.0 10.8)" fill="#1e2448" opacity="0.85"/>
<ellipse cx="18.2" cy="0.8" rx="1.2" ry="0.8" transform="rotate(134 18.2 0.8)" fill="#343e6e" opacity="0.85"/>
<ellipse cx="13.1" cy="49.4" rx="1.1" ry="0.8" transform="rotate(90 13.1 49.4)" fill="#343e6e" opacity="0.85"/>
<ellipse cx="1.3" cy="42.1" rx="1.2" ry="0.7" transform="rotate(58 1.3 42.1)" fill="#242a52" opacity="0.85"/>
<ellipse cx="56.2" cy="7.8" rx="1.2" ry="0.9" transform="rotate(179 56.2 7.8)" fill="#1e2448" opacity="0.85"/>
<ellipse cx="82.2" cy="73.2" rx="0.9" ry="0.6" transform="rotate(89 82.2 73.2)" fill="#3a4478" opacity="0.85"/>
<ellipse cx="95.0" cy="66.9" rx="0.8" ry="0.9" transform="rotate(159 95.0 66.9)" fill="#343e6e" opacity="0.85"/>
<ellipse cx="1.9" cy="39.0" rx="1.2" ry="0.8" transform="rotate(14 1.9 39.0)" fill="#2a3472" opacity="0.85"/>
<ellipse cx="73.4" cy="33.4" rx="1.1" ry="0.9" transform="rotate(8 73.4 33.4)" fill="#283058" opacity="0.85"/>
<ellipse cx="44.8" cy="32.7" rx="0.8" ry="0.9" transform="rotate(41 44.8 32.7)" fill="#2a3472" opacity="0.85"/>
<ellipse cx="6.6" cy="65.7" rx="0.9" ry="0.6" transform="rotate(172 6.6 65.7)" fill="#242a52" opacity="0.85"/>
<ellipse cx="16.0" cy="56.1" rx="0.8" ry="0.7" transform="rotate(63 16.0 56.1)" fill="#283058" opacity="0.85"/>
<ellipse cx="54.6" cy="4.6" rx="1.1" ry="0.6" transform="rotate(22 54.6 4.6)" fill="#343e6e" opacity="0.85"/>
<ellipse cx="79.0" cy="5.0" rx="1.0" ry="0.6" transform="rotate(20 79.0 5.0)" fill="#343e6e" opacity="0.85"/>
<ellipse cx="79.4" cy="26.2" rx="1.1" ry="0.9" transform="rotate(46 79.4 26.2)" fill="#2a3472" opacity="0.85"/>
<ellipse cx="49.7" cy="72.8" rx="0.8" ry="0.9" transform="rotate(19 49.7 72.8)" fill="#343e6e" opacity="0.85"/>
<ellipse cx="75.4" cy="33.8" rx="0.8" ry="0.8" transform="rotate(89 75.4 33.8)" fill="#343e6e" opacity="0.85"/>
<ellipse cx="87.9" cy="28.2" rx="0.8" ry="0.9" transform="rotate(14 87.9 28.2)" fill="#242a52" opacity="0.85"/>
<ellipse cx="56.7" cy="47.1" rx="0.8" ry="0.9" transform="rotate(13 56.7 47.1)" fill="#1e2448" opacity="0.85"/>
<ellipse cx="55.1" cy="37.1" rx="0.9" ry="0.7" transform="rotate(41 55.1 37.1)" fill="#2a3472" opacity="0.85"/>
<ellipse cx="47.8" cy="18.5" rx="1.0" ry="0.6" transform="rotate(164 47.8 18.5)" fill="#2a3472" opacity="0.85"/>
<ellipse cx="60.6" cy="46.5" rx="1.0" ry="0.8" transform="rotate(8 60.6 46.5)" fill="#242a52" opacity="0.85"/>
<ellipse cx="27.5" cy="8.7" rx="1.1" ry="0.7" transform="rotate(105 27.5 8.7)" fill="#2a3472" opacity="0.85"/>
<ellipse cx="21.7" cy="76.7" rx="1.1" ry="0.8" transform="rotate(140 21.7 76.7)" fill="#343e6e" opacity="0.85"/>
<ellipse cx="71.7" cy="29.9" rx="0.8" ry="0.8" transform="rotate(133 71.7 29.9)" fill="#242a52" opacity="0.85"/>
<ellipse cx="69.6" cy="71.2" rx="1.2" ry="0.7" transform="rotate(144 69.6 71.2)" fill="#2a3472" opacity="0.85"/>
<ellipse cx="58.9" cy="75.5" rx="1.0" ry="0.9" transform="rotate(48 58.9 75.5)" fill="#3a4478" opacity="0.85"/>
<ellipse cx="72.4" cy="4.5" rx="0.9" ry="0.7" transform="rotate(154 72.4 4.5)" fill="#1e2448" opacity="0.85"/>
<ellipse cx="23.8" cy="5.6" rx="1.0" ry="0.7" transform="rotate(85 23.8 5.6)" fill="#242a52" opacity="0.85"/>
<ellipse cx="32.7" cy="23.8" rx="1.0" ry="0.9" transform="rotate(70 32.7 23.8)" fill="#283058" opacity="0.85"/>
<ellipse cx="88.1" cy="0.1" rx="1.0" ry="0.8" transform="rotate(20 88.1 0.1)" fill="#343e6e" opacity="0.85"/>
<ellipse cx="49.1" cy="74.4" rx="0.9" ry="0.7" transform="rotate(176 49.1 74.4)" fill="#283058" opacity="0.85"/>
<ellipse cx="21.6" cy="53.4" rx="1.0" ry="0.8" transform="rotate(45 21.6 53.4)" fill="#343e6e" opacity="0.85"/>
<ellipse cx="35.8" cy="50.8" rx="1.0" ry="0.8" transform="rotate(84 35.8 50.8)" fill="#3a4478" opacity="0.85"/>
<ellipse cx="39.7" cy="34.0" rx="1.2" ry="0.6" transform="rotate(23 39.7 34.0)" fill="#2a3472" opacity="0.85"/>
<ellipse cx="45.4" cy="61.0" rx="1.0" ry="0.9" transform="rotate(97 45.4 61.0)" fill="#343e6e" opacity="0.85"/>
<ellipse cx="95.6" cy="12.9" rx="0.9" ry="0.6" transform="rotate(82 95.6 12.9)" fill="#283058" opacity="0.85"/>
<ellipse cx="0.7" cy="26.2" rx="1.0" ry="0.6" transform="rotate(52 0.7 26.2)" fill="#2a3472" opacity="0.85"/>
<ellipse cx="36.7" cy="9.0" rx="1.2" ry="0.6" transform="rotate(30 36.7 9.0)" fill="#1e2448" opacity="0.85"/>
<ellipse cx="4.6" cy="24.3" rx="1.1" ry="0.8" transform="rotate(162 4.6 24.3)" fill="#3a4478" opacity="0.85"/>
<ellipse cx="19.4" cy="5.6" rx="1.0" ry="0.7" transform="rotate(22 19.4 5.6)" fill="#242a52" opacity="0.85"/>
<ellipse cx="7.6" cy="32.7" rx="1.2" ry="0.6" transform="rotate(170 7.6 32.7)" fill="#1e2448" opacity="0.85"/>
<ellipse cx="47.4" cy="77.0" rx="1.2" ry="0.9" transform="rotate(5 47.4 77.0)" fill="#2a3472" opacity="0.85"/>
<ellipse cx="93.7" cy="74.7" rx="0.9" ry="0.9" transform="rotate(29 93.7 74.7)" fill="#1e2448" opacity="0.85"/>
<ellipse cx="86.3" cy="37.4" rx="0.8" ry="0.8" transform="rotate(85 86.3 37.4)" fill="#283058" opacity="0.85"/>
<ellipse cx="73.9" cy="64.9" rx="1.0" ry="0.9" transform="rotate(99 73.9 64.9)" fill="#1e2448" opacity="0.85"/>
<ellipse cx="37.6" cy="44.0" rx="0.9" ry="0.8" transform="rotate(135 37.6 44.0)" fill="#1e2448" opacity="0.85"/>
<ellipse cx="60.2" cy="73.5" rx="1.2" ry="0.8" transform="rotate(172 60.2 73.5)" fill="#242a52" opacity="0.85"/>
<ellipse cx="1.3" cy="49.6" rx="1.2" ry="0.8" transform="rotate(17 1.3 49.6)" fill="#1e2448" opacity="0.85"/>
<ellipse cx="42.2" cy="1.1" rx="1.0" ry="0.6" transform="rotate(8 42.2 1.1)" fill="#1e2448" opacity="0.85"/>
<ellipse cx="72.3" cy="31.9" rx="1.0" ry="0.8" transform="rotate(25 72.3 31.9)" fill="#343e6e" opacity="0.85"/>
<ellipse cx="15.5" cy="37.6" rx="1.2" ry="0.8" transform="rotate(97 15.5 37.6)" fill="#1e2448" opacity="0.85"/>
<ellipse cx="79.5" cy="65.0" rx="1.2" ry="0.7" transform="rotate(65 79.5 65.0)" fill="#1e2448" opacity="0.85"/>
<ellipse cx="1.8" cy="57.6" rx="0.8" ry="0.6" transform="rotate(61 1.8 57.6)" fill="#1e2448" opacity="0.85"/>
<ellipse cx="38.8" cy="23.8" rx="0.9" ry="0.8" transform="rotate(116 38.8 23.8)" fill="#242a52" opacity="0.85"/>
<ellipse cx="22" cy="75" rx="2.5" ry="1.5" fill="#101020"/>
<line x1="63" y1="71.5" x2="95" y2="71.5" stroke="#1a1c30" stroke-width="1.3" stroke-dasharray="1.5 1"/>
</g></svg>
<text x="208.80" y="338.80" font-size="7.2" text-anchor="end" fill="#14162a">100</text>
<text x="206.50" y="347.50" font-size="7.0" text-anchor="end" fill="#14162a">&#956;m</text>
<text x="276.30" y="11.00" font-size="14.5" text-anchor="start" fill="#111" font-weight="bold">C</text>
<line x1="324.00" y1="29.60" x2="324.00" y2="132.30" stroke="#444" stroke-width="0.8"/>
<line x1="324.00" y1="130.80" x2="515.00" y2="130.80" stroke="#444" stroke-width="0.8"/>
<line x1="321.50" y1="130.80" x2="324.00" y2="130.80" stroke="#444" stroke-width="0.8"/>
<text x="319.30" y="131.40" font-size="9.8" text-anchor="end" fill="#111">0</text>
<line x1="321.50" y1="110.80" x2="324.00" y2="110.80" stroke="#444" stroke-width="0.8"/>
<text x="319.30" y="111.40" font-size="9.8" text-anchor="end" fill="#111">10</text>
<line x1="321.50" y1="90.80" x2="324.00" y2="90.80" stroke="#444" stroke-width="0.8"/>
<text x="319.30" y="91.40" font-size="9.8" text-anchor="end" fill="#111">20</text>
<line x1="321.50" y1="70.80" x2="324.00" y2="70.80" stroke="#444" stroke-width="0.8"/>
<text x="319.30" y="71.40" font-size="9.8" text-anchor="end" fill="#111">30</text>
<line x1="321.50" y1="50.80" x2="324.00" y2="50.80" stroke="#444" stroke-width="0.8"/>
<text x="319.30" y="51.40" font-size="9.8" text-anchor="end" fill="#111">40</text>
<line x1="321.50" y1="30.80" x2="324.00" y2="30.80" stroke="#444" stroke-width="0.8"/>
<text x="319.30" y="31.40" font-size="9.8" text-anchor="end" fill="#111">50</text>
<line x1="369.00" y1="130.80" x2="369.00" y2="133.30" stroke="#444" stroke-width="0.8"/>
<line x1="406.90" y1="130.80" x2="406.90" y2="133.30" stroke="#444" stroke-width="0.8"/>
<line x1="440.40" y1="130.80" x2="440.40" y2="133.30" stroke="#444" stroke-width="0.8"/>
<line x1="461.10" y1="130.80" x2="461.10" y2="133.30" stroke="#444" stroke-width="0.8"/>
<line x1="514.90" y1="130.80" x2="514.90" y2="133.30" stroke="#444" stroke-width="0.8"/>
<text transform="translate(295.20,77.70) rotate(-90)" font-size="9.8" text-anchor="middle" fill="#111">Cells/10 fields</text>
<rect x="327.10" y="126.80" width="8.40" height="4.00" fill="#fff" stroke="#444" stroke-width="0.8"/>
<rect x="346.00" y="96.20" width="8.40" height="34.60" fill="#fff" stroke="#444" stroke-width="0.8"/>
<line x1="350.20" y1="96.20" x2="350.20" y2="93.40" stroke="#444" stroke-width="0.8"/>
<line x1="348.70" y1="93.40" x2="351.70" y2="93.40" stroke="#444" stroke-width="0.9"/>
<rect x="357.10" y="108.80" width="8.40" height="22.00" fill="#fff" stroke="#444" stroke-width="0.8"/>
<line x1="361.30" y1="108.80" x2="361.30" y2="106.40" stroke="#444" stroke-width="0.8"/>
<line x1="359.80" y1="106.40" x2="362.80" y2="106.40" stroke="#444" stroke-width="0.9"/>
<rect x="379.70" y="54.00" width="8.40" height="76.80" fill="#fff" stroke="#444" stroke-width="0.8"/>
<line x1="383.90" y1="54.00" x2="383.90" y2="46.00" stroke="#444" stroke-width="0.8"/>
<line x1="382.40" y1="46.00" x2="385.40" y2="46.00" stroke="#444" stroke-width="0.9"/>
<rect x="391.30" y="62.20" width="8.40" height="68.60" fill="#b0b0b0" stroke="#444" stroke-width="0.8"/>
<line x1="395.50" y1="62.20" x2="395.50" y2="55.60" stroke="#444" stroke-width="0.8"/>
<line x1="394.00" y1="55.60" x2="397.00" y2="55.60" stroke="#444" stroke-width="0.9"/>
<rect x="413.60" y="60.40" width="8.40" height="70.40" fill="#fff" stroke="#444" stroke-width="0.8"/>
<line x1="417.80" y1="60.40" x2="417.80" y2="53.20" stroke="#444" stroke-width="0.8"/>
<line x1="416.30" y1="53.20" x2="419.30" y2="53.20" stroke="#444" stroke-width="0.9"/>
<rect x="424.40" y="49.80" width="8.40" height="81.00" fill="#b0b0b0" stroke="#444" stroke-width="0.8"/>
<line x1="428.60" y1="49.80" x2="428.60" y2="41.80" stroke="#444" stroke-width="0.8"/>
<line x1="427.10" y1="41.80" x2="430.10" y2="41.80" stroke="#444" stroke-width="0.9"/>
<rect x="447.10" y="51.60" width="8.40" height="79.20" fill="#fff" stroke="#444" stroke-width="0.8"/>
<line x1="451.30" y1="51.60" x2="451.30" y2="43.80" stroke="#444" stroke-width="0.8"/>
<line x1="449.80" y1="43.80" x2="452.80" y2="43.80" stroke="#444" stroke-width="0.9"/>
<rect x="469.20" y="54.00" width="8.40" height="76.80" fill="#fff" stroke="#444" stroke-width="0.8"/>
<line x1="473.40" y1="54.00" x2="473.40" y2="46.00" stroke="#444" stroke-width="0.8"/>
<line x1="471.90" y1="46.00" x2="474.90" y2="46.00" stroke="#444" stroke-width="0.9"/>
<rect x="480.60" y="66.00" width="8.40" height="64.80" fill="#fff" stroke="#444" stroke-width="0.8"/>
<line x1="484.80" y1="66.00" x2="484.80" y2="59.60" stroke="#444" stroke-width="0.8"/>
<line x1="483.30" y1="59.60" x2="486.30" y2="59.60" stroke="#444" stroke-width="0.9"/>
<rect x="491.90" y="96.20" width="8.40" height="34.60" fill="#fff" stroke="#444" stroke-width="0.8"/>
<line x1="496.10" y1="96.20" x2="496.10" y2="93.00" stroke="#444" stroke-width="0.8"/>
<line x1="494.60" y1="93.00" x2="497.60" y2="93.00" stroke="#444" stroke-width="0.9"/>
<rect x="502.90" y="103.80" width="8.40" height="27.00" fill="#fff" stroke="#444" stroke-width="0.8"/>
<line x1="507.10" y1="103.80" x2="507.10" y2="101.60" stroke="#444" stroke-width="0.8"/>
<line x1="505.60" y1="101.60" x2="508.60" y2="101.60" stroke="#444" stroke-width="0.9"/>
<text transform="translate(335.50,138.80) rotate(-90)" font-size="9.8" text-anchor="end" fill="#111">Ctrl</text>
<text transform="translate(353.20,138.80) rotate(-90)" font-size="9.8" text-anchor="end" fill="#111">CXCL12</text>
<text transform="translate(364.30,138.80) rotate(-90)" font-size="9.8" text-anchor="end" fill="#111">CX3CL1</text>
<text transform="translate(389.40,138.80) rotate(-90)" font-size="9.8" text-anchor="end" fill="#111">Sup. 1</text>
<text transform="translate(399.30,138.80) rotate(-90)" font-size="9.8" text-anchor="end" fill="#111">+IL-1&#946;</text>
<text transform="translate(422.80,138.80) rotate(-90)" font-size="9.8" text-anchor="end" fill="#111">Sup. 2</text>
<text transform="translate(433.60,138.80) rotate(-90)" font-size="9.8" text-anchor="end" fill="#111">+IL-1&#946;</text>
<text transform="translate(456.50,138.80) rotate(-90)" font-size="9.8" text-anchor="end" fill="#111">Sup. 3</text>
<text transform="translate(479.50,138.80) rotate(-90)" font-size="9.8" text-anchor="end" fill="#111">1:1</text>
<text transform="translate(490.80,138.80) rotate(-90)" font-size="9.8" text-anchor="end" fill="#111">1:3</text>
<text transform="translate(503.30,138.80) rotate(-90)" font-size="9.8" text-anchor="end" fill="#111">1:5</text>
<text transform="translate(513.20,138.80) rotate(-90)" font-size="9.8" text-anchor="end" fill="#111">1:10</text>
<polyline points="465.5,142.5 465.5,159.3 516.2,159.3 516.2,142.5" fill="none" stroke="#444" stroke-width="0.8"/>
<text x="493.50" y="171.30" font-size="9.8" text-anchor="middle" fill="#111">Sup. 4</text>
<text x="278.00" y="203.70" font-size="14.5" text-anchor="start" fill="#111" font-weight="bold">D</text>
<line x1="324.50" y1="214.00" x2="324.50" y2="315.30" stroke="#444" stroke-width="0.8"/>
<line x1="324.50" y1="312.30" x2="518.30" y2="312.30" stroke="#444" stroke-width="0.8"/>
<line x1="322.00" y1="312.30" x2="324.50" y2="312.30" stroke="#444" stroke-width="0.8"/>
<text x="319.50" y="316.00" font-size="9.8" text-anchor="end" fill="#111">0</text>
<line x1="322.00" y1="292.70" x2="324.50" y2="292.70" stroke="#444" stroke-width="0.8"/>
<text x="319.50" y="296.40" font-size="9.8" text-anchor="end" fill="#111">10</text>
<line x1="322.00" y1="273.10" x2="324.50" y2="273.10" stroke="#444" stroke-width="0.8"/>
<text x="319.50" y="276.80" font-size="9.8" text-anchor="end" fill="#111">20</text>
<line x1="322.00" y1="253.50" x2="324.50" y2="253.50" stroke="#444" stroke-width="0.8"/>
<text x="319.50" y="257.20" font-size="9.8" text-anchor="end" fill="#111">30</text>
<line x1="322.00" y1="233.90" x2="324.50" y2="233.90" stroke="#444" stroke-width="0.8"/>
<text x="319.50" y="237.60" font-size="9.8" text-anchor="end" fill="#111">40</text>
<line x1="322.00" y1="214.30" x2="324.50" y2="214.30" stroke="#444" stroke-width="0.8"/>
<text x="319.50" y="218.00" font-size="9.8" text-anchor="end" fill="#111">50</text>
<line x1="352.10" y1="312.30" x2="352.10" y2="314.80" stroke="#444" stroke-width="0.8"/>
<line x1="379.70" y1="312.30" x2="379.70" y2="314.80" stroke="#444" stroke-width="0.8"/>
<line x1="407.30" y1="312.30" x2="407.30" y2="314.80" stroke="#444" stroke-width="0.8"/>
<line x1="434.90" y1="312.30" x2="434.90" y2="314.80" stroke="#444" stroke-width="0.8"/>
<line x1="462.50" y1="312.30" x2="462.50" y2="314.80" stroke="#444" stroke-width="0.8"/>
<line x1="490.10" y1="312.30" x2="490.10" y2="314.80" stroke="#444" stroke-width="0.8"/>
<line x1="517.70" y1="312.30" x2="517.70" y2="314.80" stroke="#444" stroke-width="0.8"/>
<text transform="translate(295.20,254.30) rotate(-90)" font-size="9.8" text-anchor="middle" fill="#111">Cells/10 fields</text>
<rect x="332.55" y="311.52" width="11.50" height="0.78" fill="#b8b8b8" stroke="#444" stroke-width="0.8"/>
<rect x="360.15" y="257.03" width="11.50" height="55.27" fill="#b8b8b8" stroke="#444" stroke-width="0.8"/>
<line x1="365.90" y1="257.03" x2="365.90" y2="246.25" stroke="#444" stroke-width="0.8"/>
<line x1="364.10" y1="246.25" x2="367.70" y2="246.25" stroke="#444" stroke-width="0.9"/>
<rect x="387.75" y="278.78" width="11.50" height="33.52" fill="#b8b8b8" stroke="#444" stroke-width="0.8"/>
<line x1="393.50" y1="278.78" x2="393.50" y2="272.32" stroke="#444" stroke-width="0.8"/>
<line x1="391.70" y1="272.32" x2="395.30" y2="272.32" stroke="#444" stroke-width="0.9"/>
<rect x="415.35" y="280.55" width="11.50" height="31.75" fill="#b8b8b8" stroke="#444" stroke-width="0.8"/>
<line x1="421.10" y1="280.55" x2="421.10" y2="274.47" stroke="#444" stroke-width="0.8"/>
<line x1="419.30" y1="274.47" x2="422.90" y2="274.47" stroke="#444" stroke-width="0.9"/>
<rect x="442.95" y="294.46" width="11.50" height="17.84" fill="#b8b8b8" stroke="#444" stroke-width="0.8"/>
<line x1="448.70" y1="294.46" x2="448.70" y2="290.94" stroke="#444" stroke-width="0.8"/>
<line x1="446.90" y1="290.94" x2="450.50" y2="290.94" stroke="#444" stroke-width="0.9"/>
<rect x="470.55" y="311.71" width="11.50" height="0.59" fill="#b8b8b8" stroke="#444" stroke-width="0.8"/>
<rect x="498.15" y="311.52" width="11.50" height="0.78" fill="#b8b8b8" stroke="#444" stroke-width="0.8"/>
<polygon points="392.20,257.60 392.93,259.59 395.05,259.67 393.39,260.99 393.96,263.03 392.20,261.85 390.44,263.03 391.01,260.99 389.35,259.67 391.47,259.59" fill="#111" stroke="#111" stroke-width="0.3"/>
<polygon points="422.00,259.10 422.73,261.09 424.85,261.17 423.19,262.49 423.76,264.53 422.00,263.35 420.24,264.53 420.81,262.49 419.15,261.17 421.27,261.09" fill="#111" stroke="#111" stroke-width="0.3"/>
<polygon points="446.40,283.00 447.13,284.99 449.25,285.07 447.59,286.39 448.16,288.43 446.40,287.25 444.64,288.43 445.21,286.39 443.55,285.07 445.67,284.99" fill="#111" stroke="#111" stroke-width="0.3"/>
<polygon points="452.90,283.00 453.63,284.99 455.75,285.07 454.09,286.39 454.66,288.43 452.90,287.25 451.14,288.43 451.71,286.39 450.05,285.07 452.17,284.99" fill="#111" stroke="#111" stroke-width="0.3"/>
<text x="322.80" y="332.00" font-size="9.7" text-anchor="end" fill="#111">Islet sup</text>
<line x1="335.50" y1="330.50" x2="339.10" y2="330.50" stroke="#111" stroke-width="1.25"/>
<text x="365.60" y="333.10" font-size="11" text-anchor="middle" fill="#111">+</text>
<text x="394.90" y="333.10" font-size="11" text-anchor="middle" fill="#111">+</text>
<text x="423.30" y="333.10" font-size="11" text-anchor="middle" fill="#111">+</text>
<text x="449.40" y="333.10" font-size="11" text-anchor="middle" fill="#111">+</text>
<line x1="475.70" y1="330.50" x2="479.30" y2="330.50" stroke="#111" stroke-width="1.25"/>
<line x1="502.00" y1="330.50" x2="505.60" y2="330.50" stroke="#111" stroke-width="1.25"/>
<text x="322.80" y="344.85" font-size="9.7" text-anchor="end" fill="#111">aCXCR4</text>
<line x1="335.50" y1="343.35" x2="339.10" y2="343.35" stroke="#111" stroke-width="1.25"/>
<line x1="363.80" y1="343.35" x2="367.40" y2="343.35" stroke="#111" stroke-width="1.25"/>
<text x="394.90" y="345.95" font-size="11" text-anchor="middle" fill="#111">+</text>
<line x1="421.50" y1="343.35" x2="425.10" y2="343.35" stroke="#111" stroke-width="1.25"/>
<text x="449.40" y="345.95" font-size="11" text-anchor="middle" fill="#111">+</text>
<text x="477.50" y="345.95" font-size="11" text-anchor="middle" fill="#111">+</text>
<line x1="502.00" y1="343.35" x2="505.60" y2="343.35" stroke="#111" stroke-width="1.25"/>
<text x="322.80" y="357.70" font-size="9.7" text-anchor="end" fill="#111">aCX3CL1</text>
<line x1="335.50" y1="356.20" x2="339.10" y2="356.20" stroke="#111" stroke-width="1.25"/>
<line x1="363.80" y1="356.20" x2="367.40" y2="356.20" stroke="#111" stroke-width="1.25"/>
<line x1="393.10" y1="356.20" x2="396.70" y2="356.20" stroke="#111" stroke-width="1.25"/>
<text x="423.30" y="358.80" font-size="11" text-anchor="middle" fill="#111">+</text>
<text x="449.40" y="358.80" font-size="11" text-anchor="middle" fill="#111">+</text>
<line x1="475.70" y1="356.20" x2="479.30" y2="356.20" stroke="#111" stroke-width="1.25"/>
<text x="503.80" y="358.80" font-size="11" text-anchor="middle" fill="#111">+</text>
</svg>
</body></html>
